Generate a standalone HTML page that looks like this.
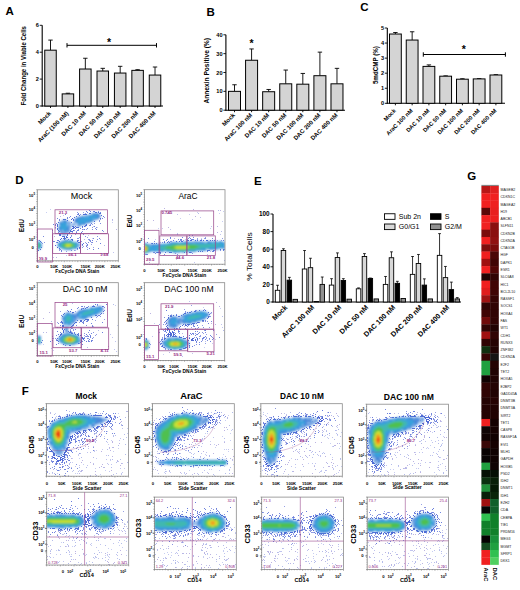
<!DOCTYPE html><html><head><meta charset="utf-8"><style>html,body{margin:0;padding:0;background:#fff;}svg{display:block;}text{font-family:"Liberation Sans", sans-serif;}</style></head><body>
<svg width="520" height="590" viewBox="0 0 520 590" font-family="Liberation Sans, sans-serif">
<defs><filter id="bl" x="-50%" y="-50%" width="200%" height="200%"><feGaussianBlur stdDeviation="0.85"/></filter><filter id="bs" x="-50%" y="-50%" width="200%" height="200%"><feGaussianBlur stdDeviation="0.45"/></filter></defs>
<rect width="520" height="590" fill="#fff"/>
<text x="5.5" y="15" font-size="11.5" font-weight="bold" text-anchor="start" fill="#000">A</text>
<text x="206.5" y="15.6" font-size="11.5" font-weight="bold" text-anchor="start" fill="#000">B</text>
<text x="360.3" y="11.2" font-size="11.5" font-weight="bold" text-anchor="start" fill="#000">C</text>
<text x="254" y="184.5" font-size="11.5" font-weight="bold" text-anchor="start" fill="#000">E</text>
<text x="467.3" y="179.7" font-size="11.5" font-weight="bold" text-anchor="start" fill="#000">G</text>
<line x1="42.2" y1="25.3" x2="42.2" y2="106.5" stroke="#000" stroke-width="1.1"/>
<line x1="41.7" y1="106" x2="163" y2="106" stroke="#000" stroke-width="1.1"/>
<line x1="39.7" y1="106" x2="42.2" y2="106" stroke="#000" stroke-width="0.9"/>
<text x="38.9" y="108.02" font-size="5.6" font-weight="bold" text-anchor="end" fill="#000">0</text>
<line x1="39.7" y1="79.1" x2="42.2" y2="79.1" stroke="#000" stroke-width="0.9"/>
<text x="38.9" y="81.12" font-size="5.6" font-weight="bold" text-anchor="end" fill="#000">2</text>
<line x1="39.7" y1="52.2" x2="42.2" y2="52.2" stroke="#000" stroke-width="0.9"/>
<text x="38.9" y="54.22" font-size="5.6" font-weight="bold" text-anchor="end" fill="#000">4</text>
<line x1="39.7" y1="25.3" x2="42.2" y2="25.3" stroke="#000" stroke-width="0.9"/>
<text x="38.9" y="27.32" font-size="5.6" font-weight="bold" text-anchor="end" fill="#000">6</text>
<line x1="50.5" y1="40.09" x2="50.5" y2="50.18" stroke="#000" stroke-width="0.9"/>
<line x1="48.3" y1="40.09" x2="52.7" y2="40.09" stroke="#000" stroke-width="0.9"/>
<rect x="44.75" y="50.18" width="11.5" height="55.82" fill="#d4d4d4" stroke="#000" stroke-width="1"/>
<line x1="50.5" y1="106" x2="50.5" y2="108" stroke="#000" stroke-width="0.9"/>
<line x1="67.92" y1="93.22" x2="67.92" y2="93.89" stroke="#000" stroke-width="0.9"/>
<line x1="65.72" y1="93.22" x2="70.12" y2="93.22" stroke="#000" stroke-width="0.9"/>
<rect x="62.17" y="93.89" width="11.5" height="12.11" fill="#d4d4d4" stroke="#000" stroke-width="1"/>
<line x1="67.92" y1="106" x2="67.92" y2="108" stroke="#000" stroke-width="0.9"/>
<line x1="85.34" y1="58.25" x2="85.34" y2="69.01" stroke="#000" stroke-width="0.9"/>
<line x1="83.14" y1="58.25" x2="87.54" y2="58.25" stroke="#000" stroke-width="0.9"/>
<rect x="79.59" y="69.01" width="11.5" height="36.99" fill="#d4d4d4" stroke="#000" stroke-width="1"/>
<line x1="85.34" y1="106" x2="85.34" y2="108" stroke="#000" stroke-width="0.9"/>
<line x1="102.76" y1="68.34" x2="102.76" y2="71.03" stroke="#000" stroke-width="0.9"/>
<line x1="100.56" y1="68.34" x2="104.96" y2="68.34" stroke="#000" stroke-width="0.9"/>
<rect x="97.01" y="71.03" width="11.5" height="34.97" fill="#d4d4d4" stroke="#000" stroke-width="1"/>
<line x1="102.76" y1="106" x2="102.76" y2="108" stroke="#000" stroke-width="0.9"/>
<line x1="120.18" y1="66.32" x2="120.18" y2="73.05" stroke="#000" stroke-width="0.9"/>
<line x1="117.98" y1="66.32" x2="122.38" y2="66.32" stroke="#000" stroke-width="0.9"/>
<rect x="114.43" y="73.05" width="11.5" height="32.95" fill="#d4d4d4" stroke="#000" stroke-width="1"/>
<line x1="120.18" y1="106" x2="120.18" y2="108" stroke="#000" stroke-width="0.9"/>
<line x1="137.6" y1="69.69" x2="137.6" y2="70.36" stroke="#000" stroke-width="0.9"/>
<line x1="135.4" y1="69.69" x2="139.8" y2="69.69" stroke="#000" stroke-width="0.9"/>
<rect x="131.85" y="70.36" width="11.5" height="35.64" fill="#d4d4d4" stroke="#000" stroke-width="1"/>
<line x1="137.6" y1="106" x2="137.6" y2="108" stroke="#000" stroke-width="0.9"/>
<line x1="155.02" y1="67" x2="155.02" y2="75.06" stroke="#000" stroke-width="0.9"/>
<line x1="152.82" y1="67" x2="157.22" y2="67" stroke="#000" stroke-width="0.9"/>
<rect x="149.27" y="75.06" width="11.5" height="30.94" fill="#d4d4d4" stroke="#000" stroke-width="1"/>
<line x1="155.02" y1="106" x2="155.02" y2="108" stroke="#000" stroke-width="0.9"/>
<text x="51.5" y="113.8" font-size="6.05" font-weight="bold" text-anchor="end" fill="#000" transform="rotate(-45 51.5 113.8)">Mock</text>
<text x="68.92" y="113.8" font-size="6.05" font-weight="bold" text-anchor="end" fill="#000" transform="rotate(-45 68.92 113.8)">AraC (100 nM)</text>
<text x="86.34" y="113.8" font-size="6.05" font-weight="bold" text-anchor="end" fill="#000" transform="rotate(-45 86.34 113.8)">DAC 10 nM</text>
<text x="103.76" y="113.8" font-size="6.05" font-weight="bold" text-anchor="end" fill="#000" transform="rotate(-45 103.76 113.8)">DAC 50 nM</text>
<text x="121.18" y="113.8" font-size="6.05" font-weight="bold" text-anchor="end" fill="#000" transform="rotate(-45 121.18 113.8)">DAC 100 nM</text>
<text x="138.6" y="113.8" font-size="6.05" font-weight="bold" text-anchor="end" fill="#000" transform="rotate(-45 138.6 113.8)">DAC 200 nM</text>
<text x="156.02" y="113.8" font-size="6.05" font-weight="bold" text-anchor="end" fill="#000" transform="rotate(-45 156.02 113.8)">DAC 400 nM</text>
<text x="26.3" y="65.8" font-size="6.5" font-weight="bold" text-anchor="middle" fill="#000" transform="rotate(-90 26.3 65.8)" textLength="79.5" lengthAdjust="spacingAndGlyphs">Fold Change in Viable Cells</text>
<line x1="67" y1="45.3" x2="156.5" y2="45.3" stroke="#000" stroke-width="1"/>
<line x1="67" y1="43.1" x2="67" y2="47.5" stroke="#000" stroke-width="1"/>
<line x1="156.5" y1="43.1" x2="156.5" y2="47.5" stroke="#000" stroke-width="1"/>
<text x="109" y="46" font-size="10.5" font-weight="bold" text-anchor="middle" fill="#000">*</text>
<line x1="225.9" y1="34.8" x2="225.9" y2="110.7" stroke="#000" stroke-width="1.1"/>
<line x1="225.4" y1="110.2" x2="345" y2="110.2" stroke="#000" stroke-width="1.1"/>
<line x1="223.4" y1="110.2" x2="225.9" y2="110.2" stroke="#000" stroke-width="0.9"/>
<text x="222.6" y="112.22" font-size="5.6" font-weight="bold" text-anchor="end" fill="#000">0</text>
<line x1="223.4" y1="91.35" x2="225.9" y2="91.35" stroke="#000" stroke-width="0.9"/>
<text x="222.6" y="93.37" font-size="5.6" font-weight="bold" text-anchor="end" fill="#000">10</text>
<line x1="223.4" y1="72.5" x2="225.9" y2="72.5" stroke="#000" stroke-width="0.9"/>
<text x="222.6" y="74.52" font-size="5.6" font-weight="bold" text-anchor="end" fill="#000">20</text>
<line x1="223.4" y1="53.65" x2="225.9" y2="53.65" stroke="#000" stroke-width="0.9"/>
<text x="222.6" y="55.67" font-size="5.6" font-weight="bold" text-anchor="end" fill="#000">30</text>
<line x1="223.4" y1="34.8" x2="225.9" y2="34.8" stroke="#000" stroke-width="0.9"/>
<text x="222.6" y="36.82" font-size="5.6" font-weight="bold" text-anchor="end" fill="#000">40</text>
<line x1="234.5" y1="84.75" x2="234.5" y2="91.35" stroke="#000" stroke-width="0.9"/>
<line x1="232.3" y1="84.75" x2="236.7" y2="84.75" stroke="#000" stroke-width="0.9"/>
<rect x="228.5" y="91.35" width="12" height="18.85" fill="#d4d4d4" stroke="#000" stroke-width="1"/>
<line x1="234.5" y1="110.2" x2="234.5" y2="112.2" stroke="#000" stroke-width="0.9"/>
<line x1="251.58" y1="48.94" x2="251.58" y2="60.25" stroke="#000" stroke-width="0.9"/>
<line x1="249.38" y1="48.94" x2="253.78" y2="48.94" stroke="#000" stroke-width="0.9"/>
<rect x="245.58" y="60.25" width="12" height="49.95" fill="#d4d4d4" stroke="#000" stroke-width="1"/>
<line x1="251.58" y1="110.2" x2="251.58" y2="112.2" stroke="#000" stroke-width="0.9"/>
<line x1="268.66" y1="89.47" x2="268.66" y2="91.73" stroke="#000" stroke-width="0.9"/>
<line x1="266.46" y1="89.47" x2="270.86" y2="89.47" stroke="#000" stroke-width="0.9"/>
<rect x="262.66" y="91.73" width="12" height="18.47" fill="#d4d4d4" stroke="#000" stroke-width="1"/>
<line x1="268.66" y1="110.2" x2="268.66" y2="112.2" stroke="#000" stroke-width="0.9"/>
<line x1="285.74" y1="70.05" x2="285.74" y2="83.81" stroke="#000" stroke-width="0.9"/>
<line x1="283.54" y1="70.05" x2="287.94" y2="70.05" stroke="#000" stroke-width="0.9"/>
<rect x="279.74" y="83.81" width="12" height="26.39" fill="#d4d4d4" stroke="#000" stroke-width="1"/>
<line x1="285.74" y1="110.2" x2="285.74" y2="112.2" stroke="#000" stroke-width="0.9"/>
<line x1="302.82" y1="73.44" x2="302.82" y2="84.19" stroke="#000" stroke-width="0.9"/>
<line x1="300.62" y1="73.44" x2="305.02" y2="73.44" stroke="#000" stroke-width="0.9"/>
<rect x="296.82" y="84.19" width="12" height="26.01" fill="#d4d4d4" stroke="#000" stroke-width="1"/>
<line x1="302.82" y1="110.2" x2="302.82" y2="112.2" stroke="#000" stroke-width="0.9"/>
<line x1="319.9" y1="52.14" x2="319.9" y2="75.7" stroke="#000" stroke-width="0.9"/>
<line x1="317.7" y1="52.14" x2="322.1" y2="52.14" stroke="#000" stroke-width="0.9"/>
<rect x="313.9" y="75.7" width="12" height="34.5" fill="#d4d4d4" stroke="#000" stroke-width="1"/>
<line x1="319.9" y1="110.2" x2="319.9" y2="112.2" stroke="#000" stroke-width="0.9"/>
<line x1="336.98" y1="68.35" x2="336.98" y2="83.81" stroke="#000" stroke-width="0.9"/>
<line x1="334.78" y1="68.35" x2="339.18" y2="68.35" stroke="#000" stroke-width="0.9"/>
<rect x="330.98" y="83.81" width="12" height="26.39" fill="#d4d4d4" stroke="#000" stroke-width="1"/>
<line x1="336.98" y1="110.2" x2="336.98" y2="112.2" stroke="#000" stroke-width="0.9"/>
<text x="235.5" y="115.6" font-size="6.05" font-weight="bold" text-anchor="end" fill="#000" transform="rotate(-45 235.5 115.6)">Mock</text>
<text x="252.58" y="115.6" font-size="6.05" font-weight="bold" text-anchor="end" fill="#000" transform="rotate(-45 252.58 115.6)">AraC 100 nM</text>
<text x="269.66" y="115.6" font-size="6.05" font-weight="bold" text-anchor="end" fill="#000" transform="rotate(-45 269.66 115.6)">DAC 10 nM</text>
<text x="286.74" y="115.6" font-size="6.05" font-weight="bold" text-anchor="end" fill="#000" transform="rotate(-45 286.74 115.6)">DAC 50 nM</text>
<text x="303.82" y="115.6" font-size="6.05" font-weight="bold" text-anchor="end" fill="#000" transform="rotate(-45 303.82 115.6)">DAC 100 nM</text>
<text x="320.9" y="115.6" font-size="6.05" font-weight="bold" text-anchor="end" fill="#000" transform="rotate(-45 320.9 115.6)">DAC 200 nM</text>
<text x="337.98" y="115.6" font-size="6.05" font-weight="bold" text-anchor="end" fill="#000" transform="rotate(-45 337.98 115.6)">DAC 400 nM</text>
<text x="209" y="70.8" font-size="6.5" font-weight="bold" text-anchor="middle" fill="#000" transform="rotate(-90 209 70.8)" textLength="65.6" lengthAdjust="spacingAndGlyphs">Annexin Positive (%)</text>
<text x="251.6" y="47" font-size="10.5" font-weight="bold" text-anchor="middle" fill="#000">*</text>
<line x1="387.3" y1="28" x2="387.3" y2="103.8" stroke="#000" stroke-width="1.1"/>
<line x1="386.8" y1="103.3" x2="505" y2="103.3" stroke="#000" stroke-width="1.1"/>
<line x1="384.8" y1="103.3" x2="387.3" y2="103.3" stroke="#000" stroke-width="0.9"/>
<text x="384" y="105.32" font-size="5.6" font-weight="bold" text-anchor="end" fill="#000">0</text>
<line x1="384.8" y1="88.24" x2="387.3" y2="88.24" stroke="#000" stroke-width="0.9"/>
<text x="384" y="90.26" font-size="5.6" font-weight="bold" text-anchor="end" fill="#000">1</text>
<line x1="384.8" y1="73.18" x2="387.3" y2="73.18" stroke="#000" stroke-width="0.9"/>
<text x="384" y="75.2" font-size="5.6" font-weight="bold" text-anchor="end" fill="#000">2</text>
<line x1="384.8" y1="58.12" x2="387.3" y2="58.12" stroke="#000" stroke-width="0.9"/>
<text x="384" y="60.14" font-size="5.6" font-weight="bold" text-anchor="end" fill="#000">3</text>
<line x1="384.8" y1="43.06" x2="387.3" y2="43.06" stroke="#000" stroke-width="0.9"/>
<text x="384" y="45.08" font-size="5.6" font-weight="bold" text-anchor="end" fill="#000">4</text>
<line x1="384.8" y1="28" x2="387.3" y2="28" stroke="#000" stroke-width="0.9"/>
<text x="384" y="30.02" font-size="5.6" font-weight="bold" text-anchor="end" fill="#000">5</text>
<line x1="395.4" y1="32.52" x2="395.4" y2="34.02" stroke="#000" stroke-width="0.9"/>
<line x1="393.2" y1="32.52" x2="397.6" y2="32.52" stroke="#000" stroke-width="0.9"/>
<rect x="389.5" y="34.02" width="11.8" height="69.28" fill="#d4d4d4" stroke="#000" stroke-width="1"/>
<line x1="395.4" y1="103.3" x2="395.4" y2="105.3" stroke="#000" stroke-width="0.9"/>
<line x1="412.15" y1="31.77" x2="412.15" y2="40.05" stroke="#000" stroke-width="0.9"/>
<line x1="409.95" y1="31.77" x2="414.35" y2="31.77" stroke="#000" stroke-width="0.9"/>
<rect x="406.25" y="40.05" width="11.8" height="63.25" fill="#d4d4d4" stroke="#000" stroke-width="1"/>
<line x1="412.15" y1="103.3" x2="412.15" y2="105.3" stroke="#000" stroke-width="0.9"/>
<line x1="428.9" y1="64.9" x2="428.9" y2="66.4" stroke="#000" stroke-width="0.9"/>
<line x1="426.7" y1="64.9" x2="431.1" y2="64.9" stroke="#000" stroke-width="0.9"/>
<rect x="423" y="66.4" width="11.8" height="36.9" fill="#d4d4d4" stroke="#000" stroke-width="1"/>
<line x1="428.9" y1="103.3" x2="428.9" y2="105.3" stroke="#000" stroke-width="0.9"/>
<line x1="445.65" y1="75.89" x2="445.65" y2="76.19" stroke="#000" stroke-width="0.9"/>
<line x1="443.45" y1="75.89" x2="447.85" y2="75.89" stroke="#000" stroke-width="0.9"/>
<rect x="439.75" y="76.19" width="11.8" height="27.11" fill="#d4d4d4" stroke="#000" stroke-width="1"/>
<line x1="445.65" y1="103.3" x2="445.65" y2="105.3" stroke="#000" stroke-width="0.9"/>
<line x1="462.4" y1="78.75" x2="462.4" y2="79.2" stroke="#000" stroke-width="0.9"/>
<line x1="460.2" y1="78.75" x2="464.6" y2="78.75" stroke="#000" stroke-width="0.9"/>
<rect x="456.5" y="79.2" width="11.8" height="24.1" fill="#d4d4d4" stroke="#000" stroke-width="1"/>
<line x1="462.4" y1="103.3" x2="462.4" y2="105.3" stroke="#000" stroke-width="0.9"/>
<line x1="479.15" y1="78.6" x2="479.15" y2="78.9" stroke="#000" stroke-width="0.9"/>
<line x1="476.95" y1="78.6" x2="481.35" y2="78.6" stroke="#000" stroke-width="0.9"/>
<rect x="473.25" y="78.9" width="11.8" height="24.4" fill="#d4d4d4" stroke="#000" stroke-width="1"/>
<line x1="479.15" y1="103.3" x2="479.15" y2="105.3" stroke="#000" stroke-width="0.9"/>
<line x1="495.9" y1="74.69" x2="495.9" y2="74.99" stroke="#000" stroke-width="0.9"/>
<line x1="493.7" y1="74.69" x2="498.1" y2="74.69" stroke="#000" stroke-width="0.9"/>
<rect x="490" y="74.99" width="11.8" height="28.31" fill="#d4d4d4" stroke="#000" stroke-width="1"/>
<line x1="495.9" y1="103.3" x2="495.9" y2="105.3" stroke="#000" stroke-width="0.9"/>
<text x="396.4" y="111.1" font-size="5.75" font-weight="bold" text-anchor="end" fill="#000" transform="rotate(-45 396.4 111.1)">Mock</text>
<text x="413.15" y="111.1" font-size="5.75" font-weight="bold" text-anchor="end" fill="#000" transform="rotate(-45 413.15 111.1)">AraC 100 nM</text>
<text x="429.9" y="111.1" font-size="5.75" font-weight="bold" text-anchor="end" fill="#000" transform="rotate(-45 429.9 111.1)">DAC 10 nM</text>
<text x="446.65" y="111.1" font-size="5.75" font-weight="bold" text-anchor="end" fill="#000" transform="rotate(-45 446.65 111.1)">DAC 50 nM</text>
<text x="463.4" y="111.1" font-size="5.75" font-weight="bold" text-anchor="end" fill="#000" transform="rotate(-45 463.4 111.1)">DAC 100 nM</text>
<text x="480.15" y="111.1" font-size="5.75" font-weight="bold" text-anchor="end" fill="#000" transform="rotate(-45 480.15 111.1)">DAC 200 nM</text>
<text x="496.9" y="111.1" font-size="5.75" font-weight="bold" text-anchor="end" fill="#000" transform="rotate(-45 496.9 111.1)">DAC 400 nM</text>
<text x="378" y="65.1" font-size="6.3" font-weight="bold" text-anchor="middle" fill="#000" transform="rotate(-90 378 65.1)" textLength="38" lengthAdjust="spacingAndGlyphs">5mdCMP (%)</text>
<line x1="423.3" y1="54.5" x2="505.4" y2="54.5" stroke="#000" stroke-width="1"/>
<line x1="423.3" y1="52.3" x2="423.3" y2="56.7" stroke="#000" stroke-width="1"/>
<line x1="505.4" y1="52.3" x2="505.4" y2="56.7" stroke="#000" stroke-width="1"/>
<text x="463.7" y="53" font-size="10.5" font-weight="bold" text-anchor="middle" fill="#000">*</text>
<line x1="273" y1="214" x2="273" y2="302.5" stroke="#000" stroke-width="1.1"/>
<line x1="272.5" y1="302" x2="461" y2="302" stroke="#000" stroke-width="1.1"/>
<line x1="270.5" y1="302" x2="273" y2="302" stroke="#000" stroke-width="0.9"/>
<text x="269.7" y="304.3" font-size="6.4" font-weight="bold" text-anchor="end" fill="#000">0</text>
<line x1="270.5" y1="284.4" x2="273" y2="284.4" stroke="#000" stroke-width="0.9"/>
<text x="269.7" y="286.7" font-size="6.4" font-weight="bold" text-anchor="end" fill="#000">20</text>
<line x1="270.5" y1="266.8" x2="273" y2="266.8" stroke="#000" stroke-width="0.9"/>
<text x="269.7" y="269.1" font-size="6.4" font-weight="bold" text-anchor="end" fill="#000">40</text>
<line x1="270.5" y1="249.2" x2="273" y2="249.2" stroke="#000" stroke-width="0.9"/>
<text x="269.7" y="251.5" font-size="6.4" font-weight="bold" text-anchor="end" fill="#000">60</text>
<line x1="270.5" y1="231.6" x2="273" y2="231.6" stroke="#000" stroke-width="0.9"/>
<text x="269.7" y="233.9" font-size="6.4" font-weight="bold" text-anchor="end" fill="#000">80</text>
<line x1="270.5" y1="214" x2="273" y2="214" stroke="#000" stroke-width="0.9"/>
<text x="269.7" y="216.3" font-size="6.4" font-weight="bold" text-anchor="end" fill="#000">100</text>
<line x1="277.55" y1="285.28" x2="277.55" y2="290.3" stroke="#000" stroke-width="0.8"/>
<line x1="276.15" y1="285.28" x2="278.95" y2="285.28" stroke="#000" stroke-width="0.8"/>
<rect x="275.3" y="290.3" width="4.5" height="11.7" fill="#ffffff" stroke="#000" stroke-width="0.9"/>
<line x1="283.45" y1="248.76" x2="283.45" y2="250.52" stroke="#000" stroke-width="0.8"/>
<line x1="282.05" y1="248.76" x2="284.85" y2="248.76" stroke="#000" stroke-width="0.8"/>
<rect x="281.2" y="250.52" width="4.5" height="51.48" fill="#d8d8d8" stroke="#000" stroke-width="0.9"/>
<line x1="289.35" y1="277.36" x2="289.35" y2="280.18" stroke="#000" stroke-width="0.8"/>
<line x1="287.95" y1="277.36" x2="290.75" y2="277.36" stroke="#000" stroke-width="0.8"/>
<rect x="287.1" y="280.18" width="4.5" height="21.82" fill="#000000" stroke="#000" stroke-width="0.9"/>
<rect x="293" y="299.36" width="4.5" height="2.64" fill="#909090" stroke="#000" stroke-width="0.9"/>
<text x="287.8" y="307.9" font-size="7.1" font-weight="bold" text-anchor="end" fill="#000" transform="rotate(-45 287.8 307.9)">Mock</text>
<line x1="304.55" y1="250.52" x2="304.55" y2="269" stroke="#000" stroke-width="0.8"/>
<line x1="303.15" y1="250.52" x2="305.95" y2="250.52" stroke="#000" stroke-width="0.8"/>
<rect x="302.3" y="269" width="4.5" height="33" fill="#ffffff" stroke="#000" stroke-width="0.9"/>
<line x1="310.45" y1="258.26" x2="310.45" y2="267.68" stroke="#000" stroke-width="0.8"/>
<line x1="309.05" y1="258.26" x2="311.85" y2="258.26" stroke="#000" stroke-width="0.8"/>
<rect x="308.2" y="267.68" width="4.5" height="34.32" fill="#d8d8d8" stroke="#000" stroke-width="0.9"/>
<rect x="314.1" y="301.56" width="4.5" height="0.44" fill="#000000" stroke="#000" stroke-width="0.9"/>
<line x1="322.25" y1="277.01" x2="322.25" y2="284.4" stroke="#000" stroke-width="0.8"/>
<line x1="320.85" y1="277.01" x2="323.65" y2="277.01" stroke="#000" stroke-width="0.8"/>
<rect x="320" y="284.4" width="4.5" height="17.6" fill="#909090" stroke="#000" stroke-width="0.9"/>
<text x="314.8" y="307.9" font-size="7.1" font-weight="bold" text-anchor="end" fill="#000" transform="rotate(-45 314.8 307.9)">AraC 100 nM</text>
<line x1="331.55" y1="278.68" x2="331.55" y2="285.1" stroke="#000" stroke-width="0.8"/>
<line x1="330.15" y1="278.68" x2="332.95" y2="278.68" stroke="#000" stroke-width="0.8"/>
<rect x="329.3" y="285.1" width="4.5" height="16.9" fill="#ffffff" stroke="#000" stroke-width="0.9"/>
<line x1="337.45" y1="252.9" x2="337.45" y2="257.56" stroke="#000" stroke-width="0.8"/>
<line x1="336.05" y1="252.9" x2="338.85" y2="252.9" stroke="#000" stroke-width="0.8"/>
<rect x="335.2" y="257.56" width="4.5" height="44.44" fill="#d8d8d8" stroke="#000" stroke-width="0.9"/>
<line x1="343.35" y1="278.68" x2="343.35" y2="280.53" stroke="#000" stroke-width="0.8"/>
<line x1="341.95" y1="278.68" x2="344.75" y2="278.68" stroke="#000" stroke-width="0.8"/>
<rect x="341.1" y="280.53" width="4.5" height="21.47" fill="#000000" stroke="#000" stroke-width="0.9"/>
<rect x="347" y="299.18" width="4.5" height="2.82" fill="#909090" stroke="#000" stroke-width="0.9"/>
<text x="341.8" y="307.9" font-size="7.1" font-weight="bold" text-anchor="end" fill="#000" transform="rotate(-45 341.8 307.9)">DAC 10 nM</text>
<line x1="358.55" y1="287.92" x2="358.55" y2="288.8" stroke="#000" stroke-width="0.8"/>
<line x1="357.15" y1="287.92" x2="359.95" y2="287.92" stroke="#000" stroke-width="0.8"/>
<rect x="356.3" y="288.8" width="4.5" height="13.2" fill="#ffffff" stroke="#000" stroke-width="0.9"/>
<line x1="364.45" y1="253.6" x2="364.45" y2="256.5" stroke="#000" stroke-width="0.8"/>
<line x1="363.05" y1="253.6" x2="365.85" y2="253.6" stroke="#000" stroke-width="0.8"/>
<rect x="362.2" y="256.5" width="4.5" height="45.5" fill="#d8d8d8" stroke="#000" stroke-width="0.9"/>
<line x1="370.35" y1="278.06" x2="370.35" y2="278.42" stroke="#000" stroke-width="0.8"/>
<line x1="368.95" y1="278.06" x2="371.75" y2="278.06" stroke="#000" stroke-width="0.8"/>
<rect x="368.1" y="278.42" width="4.5" height="23.58" fill="#000000" stroke="#000" stroke-width="0.9"/>
<rect x="374" y="298.92" width="4.5" height="3.08" fill="#909090" stroke="#000" stroke-width="0.9"/>
<text x="368.8" y="307.9" font-size="7.1" font-weight="bold" text-anchor="end" fill="#000" transform="rotate(-45 368.8 307.9)">DAC 50 nM</text>
<line x1="385.55" y1="276.48" x2="385.55" y2="284.4" stroke="#000" stroke-width="0.8"/>
<line x1="384.15" y1="276.48" x2="386.95" y2="276.48" stroke="#000" stroke-width="0.8"/>
<rect x="383.3" y="284.4" width="4.5" height="17.6" fill="#ffffff" stroke="#000" stroke-width="0.9"/>
<line x1="391.45" y1="251.84" x2="391.45" y2="257.74" stroke="#000" stroke-width="0.8"/>
<line x1="390.05" y1="251.84" x2="392.85" y2="251.84" stroke="#000" stroke-width="0.8"/>
<rect x="389.2" y="257.74" width="4.5" height="44.26" fill="#d8d8d8" stroke="#000" stroke-width="0.9"/>
<line x1="397.35" y1="281.32" x2="397.35" y2="283.34" stroke="#000" stroke-width="0.8"/>
<line x1="395.95" y1="281.32" x2="398.75" y2="281.32" stroke="#000" stroke-width="0.8"/>
<rect x="395.1" y="283.34" width="4.5" height="18.66" fill="#000000" stroke="#000" stroke-width="0.9"/>
<rect x="401" y="298.48" width="4.5" height="3.52" fill="#909090" stroke="#000" stroke-width="0.9"/>
<text x="395.8" y="307.9" font-size="7.1" font-weight="bold" text-anchor="end" fill="#000" transform="rotate(-45 395.8 307.9)">DAC 100 nM</text>
<line x1="412.55" y1="256.5" x2="412.55" y2="274.37" stroke="#000" stroke-width="0.8"/>
<line x1="411.15" y1="256.5" x2="413.95" y2="256.5" stroke="#000" stroke-width="0.8"/>
<rect x="410.3" y="274.37" width="4.5" height="27.63" fill="#ffffff" stroke="#000" stroke-width="0.9"/>
<line x1="418.45" y1="254.48" x2="418.45" y2="263.46" stroke="#000" stroke-width="0.8"/>
<line x1="417.05" y1="254.48" x2="419.85" y2="254.48" stroke="#000" stroke-width="0.8"/>
<rect x="416.2" y="263.46" width="4.5" height="38.54" fill="#d8d8d8" stroke="#000" stroke-width="0.9"/>
<line x1="424.35" y1="278.86" x2="424.35" y2="285.1" stroke="#000" stroke-width="0.8"/>
<line x1="422.95" y1="278.86" x2="425.75" y2="278.86" stroke="#000" stroke-width="0.8"/>
<rect x="422.1" y="285.1" width="4.5" height="16.9" fill="#000000" stroke="#000" stroke-width="0.9"/>
<rect x="428" y="298.92" width="4.5" height="3.08" fill="#909090" stroke="#000" stroke-width="0.9"/>
<text x="422.8" y="307.9" font-size="7.1" font-weight="bold" text-anchor="end" fill="#000" transform="rotate(-45 422.8 307.9)">DAC 200 nM</text>
<line x1="439.55" y1="233.62" x2="439.55" y2="255.36" stroke="#000" stroke-width="0.8"/>
<line x1="438.15" y1="233.62" x2="440.95" y2="233.62" stroke="#000" stroke-width="0.8"/>
<rect x="437.3" y="255.36" width="4.5" height="46.64" fill="#ffffff" stroke="#000" stroke-width="0.9"/>
<line x1="445.45" y1="266.45" x2="445.45" y2="277.62" stroke="#000" stroke-width="0.8"/>
<line x1="444.05" y1="266.45" x2="446.85" y2="266.45" stroke="#000" stroke-width="0.8"/>
<rect x="443.2" y="277.62" width="4.5" height="24.38" fill="#d8d8d8" stroke="#000" stroke-width="0.9"/>
<line x1="451.35" y1="282.11" x2="451.35" y2="289.59" stroke="#000" stroke-width="0.8"/>
<line x1="449.95" y1="282.11" x2="452.75" y2="282.11" stroke="#000" stroke-width="0.8"/>
<rect x="449.1" y="289.59" width="4.5" height="12.41" fill="#000000" stroke="#000" stroke-width="0.9"/>
<line x1="457.25" y1="297.6" x2="457.25" y2="298.92" stroke="#000" stroke-width="0.8"/>
<line x1="455.85" y1="297.6" x2="458.65" y2="297.6" stroke="#000" stroke-width="0.8"/>
<rect x="455" y="298.92" width="4.5" height="3.08" fill="#909090" stroke="#000" stroke-width="0.9"/>
<text x="449.8" y="307.9" font-size="7.1" font-weight="bold" text-anchor="end" fill="#000" transform="rotate(-45 449.8 307.9)">DAC 400 nM</text>
<text x="252.3" y="256.5" font-size="7.8" font-weight="normal" text-anchor="middle" fill="#000" transform="rotate(-90 252.3 256.5)" textLength="48.5" lengthAdjust="spacingAndGlyphs">% Total Cells</text>
<rect x="384.5" y="213.75" width="10.5" height="5.6" fill="#ffffff" stroke="#000" stroke-width="0.9"/>
<text x="398.8" y="219.15" font-size="7" font-weight="normal" text-anchor="start" fill="#000">Sub 2n</text>
<rect x="430.5" y="213.75" width="10.5" height="5.6" fill="#000000" stroke="#000" stroke-width="0.9"/>
<text x="444.8" y="219.15" font-size="7" font-weight="normal" text-anchor="start" fill="#000">S</text>
<rect x="384.5" y="224" width="10.5" height="5.6" fill="#d8d8d8" stroke="#000" stroke-width="0.9"/>
<text x="398.8" y="229.4" font-size="7" font-weight="normal" text-anchor="start" fill="#000">G0/G1</text>
<rect x="430.5" y="224" width="10.5" height="5.6" fill="#909090" stroke="#000" stroke-width="0.9"/>
<text x="444.8" y="229.4" font-size="7" font-weight="normal" text-anchor="start" fill="#000">G2/M</text>
<rect x="481.4" y="186" width="8.7" height="7.58" fill="#b81818" stroke="none" stroke-width="1"/>
<rect x="490.1" y="186" width="8.7" height="7.58" fill="#e02020" stroke="none" stroke-width="1"/>
<text x="500.6" y="190.94" font-size="3.5" font-weight="normal" text-anchor="start" fill="#222">MAGEB2</text>
<rect x="481.4" y="193.28" width="8.7" height="7.58" fill="#f02020" stroke="none" stroke-width="1"/>
<rect x="490.1" y="193.28" width="8.7" height="7.58" fill="#f02020" stroke="none" stroke-width="1"/>
<text x="500.6" y="198.22" font-size="3.5" font-weight="normal" text-anchor="start" fill="#222">CDKN1C</text>
<rect x="481.4" y="200.56" width="8.7" height="7.58" fill="#f02020" stroke="none" stroke-width="1"/>
<rect x="490.1" y="200.56" width="8.7" height="7.58" fill="#ee2020" stroke="none" stroke-width="1"/>
<text x="500.6" y="205.5" font-size="3.5" font-weight="normal" text-anchor="start" fill="#222">MAGEA2</text>
<rect x="481.4" y="207.84" width="8.7" height="7.58" fill="#5a0808" stroke="none" stroke-width="1"/>
<rect x="490.1" y="207.84" width="8.7" height="7.58" fill="#e82020" stroke="none" stroke-width="1"/>
<text x="500.6" y="212.78" font-size="3.5" font-weight="normal" text-anchor="start" fill="#222">H19</text>
<rect x="481.4" y="215.12" width="8.7" height="7.58" fill="#f02020" stroke="none" stroke-width="1"/>
<rect x="490.1" y="215.12" width="8.7" height="7.58" fill="#ec2020" stroke="none" stroke-width="1"/>
<text x="500.6" y="220.06" font-size="3.5" font-weight="normal" text-anchor="start" fill="#222">ABCB1</text>
<rect x="481.4" y="222.4" width="8.7" height="7.58" fill="#f02020" stroke="none" stroke-width="1"/>
<rect x="490.1" y="222.4" width="8.7" height="7.58" fill="#8a1010" stroke="none" stroke-width="1"/>
<text x="500.6" y="227.34" font-size="3.5" font-weight="normal" text-anchor="start" fill="#222">SLFN11</text>
<rect x="481.4" y="229.68" width="8.7" height="7.58" fill="#7a0c0c" stroke="none" stroke-width="1"/>
<rect x="490.1" y="229.68" width="8.7" height="7.58" fill="#8a1010" stroke="none" stroke-width="1"/>
<text x="500.6" y="234.62" font-size="3.5" font-weight="normal" text-anchor="start" fill="#222">CDKN2B</text>
<rect x="481.4" y="236.96" width="8.7" height="7.58" fill="#f02020" stroke="none" stroke-width="1"/>
<rect x="490.1" y="236.96" width="8.7" height="7.58" fill="#901212" stroke="none" stroke-width="1"/>
<text x="500.6" y="241.9" font-size="3.5" font-weight="normal" text-anchor="start" fill="#222">CDKN2A</text>
<rect x="481.4" y="244.24" width="8.7" height="7.58" fill="#800e0e" stroke="none" stroke-width="1"/>
<rect x="490.1" y="244.24" width="8.7" height="7.58" fill="#7a0c0c" stroke="none" stroke-width="1"/>
<text x="500.6" y="249.18" font-size="3.5" font-weight="normal" text-anchor="start" fill="#222">CTAG1B</text>
<rect x="481.4" y="251.52" width="8.7" height="7.58" fill="#f02020" stroke="none" stroke-width="1"/>
<rect x="490.1" y="251.52" width="8.7" height="7.58" fill="#4a0606" stroke="none" stroke-width="1"/>
<text x="500.6" y="256.46" font-size="3.5" font-weight="normal" text-anchor="start" fill="#222">HGF</text>
<rect x="481.4" y="258.8" width="8.7" height="7.58" fill="#a01010" stroke="none" stroke-width="1"/>
<rect x="490.1" y="258.8" width="8.7" height="7.58" fill="#400505" stroke="none" stroke-width="1"/>
<text x="500.6" y="263.74" font-size="3.5" font-weight="normal" text-anchor="start" fill="#222">DAPK1</text>
<rect x="481.4" y="266.08" width="8.7" height="7.58" fill="#f02020" stroke="none" stroke-width="1"/>
<rect x="490.1" y="266.08" width="8.7" height="7.58" fill="#500606" stroke="none" stroke-width="1"/>
<text x="500.6" y="271.02" font-size="3.5" font-weight="normal" text-anchor="start" fill="#222">ESR1</text>
<rect x="481.4" y="273.36" width="8.7" height="7.58" fill="#200303" stroke="none" stroke-width="1"/>
<rect x="490.1" y="273.36" width="8.7" height="7.58" fill="#300404" stroke="none" stroke-width="1"/>
<text x="500.6" y="278.3" font-size="3.5" font-weight="normal" text-anchor="start" fill="#222">SLC6A8</text>
<rect x="481.4" y="280.64" width="8.7" height="7.58" fill="#f02020" stroke="none" stroke-width="1"/>
<rect x="490.1" y="280.64" width="8.7" height="7.58" fill="#400505" stroke="none" stroke-width="1"/>
<text x="500.6" y="285.58" font-size="3.5" font-weight="normal" text-anchor="start" fill="#222">HIC1</text>
<rect x="481.4" y="287.92" width="8.7" height="7.58" fill="#e01c1c" stroke="none" stroke-width="1"/>
<rect x="490.1" y="287.92" width="8.7" height="7.58" fill="#400505" stroke="none" stroke-width="1"/>
<text x="500.6" y="292.86" font-size="3.5" font-weight="normal" text-anchor="start" fill="#222">BCL2L10</text>
<rect x="481.4" y="295.2" width="8.7" height="7.58" fill="#a01212" stroke="none" stroke-width="1"/>
<rect x="490.1" y="295.2" width="8.7" height="7.58" fill="#350404" stroke="none" stroke-width="1"/>
<text x="500.6" y="300.14" font-size="3.5" font-weight="normal" text-anchor="start" fill="#222">RASSF1</text>
<rect x="481.4" y="302.48" width="8.7" height="7.58" fill="#300404" stroke="none" stroke-width="1"/>
<rect x="490.1" y="302.48" width="8.7" height="7.58" fill="#300404" stroke="none" stroke-width="1"/>
<text x="500.6" y="307.42" font-size="3.5" font-weight="normal" text-anchor="start" fill="#222">SOCS1</text>
<rect x="481.4" y="309.76" width="8.7" height="7.58" fill="#400505" stroke="none" stroke-width="1"/>
<rect x="490.1" y="309.76" width="8.7" height="7.58" fill="#300404" stroke="none" stroke-width="1"/>
<text x="500.6" y="314.7" font-size="3.5" font-weight="normal" text-anchor="start" fill="#222">HOXA4</text>
<rect x="481.4" y="317.04" width="8.7" height="7.58" fill="#700a0a" stroke="none" stroke-width="1"/>
<rect x="490.1" y="317.04" width="8.7" height="7.58" fill="#300404" stroke="none" stroke-width="1"/>
<text x="500.6" y="321.98" font-size="3.5" font-weight="normal" text-anchor="start" fill="#222">FAS</text>
<rect x="481.4" y="324.32" width="8.7" height="7.58" fill="#300404" stroke="none" stroke-width="1"/>
<rect x="490.1" y="324.32" width="8.7" height="7.58" fill="#200303" stroke="none" stroke-width="1"/>
<text x="500.6" y="329.26" font-size="3.5" font-weight="normal" text-anchor="start" fill="#222">WT1</text>
<rect x="481.4" y="331.6" width="8.7" height="7.58" fill="#a01010" stroke="none" stroke-width="1"/>
<rect x="490.1" y="331.6" width="8.7" height="7.58" fill="#300404" stroke="none" stroke-width="1"/>
<text x="500.6" y="336.54" font-size="3.5" font-weight="normal" text-anchor="start" fill="#222">CDH1</text>
<rect x="481.4" y="338.88" width="8.7" height="7.58" fill="#300404" stroke="none" stroke-width="1"/>
<rect x="490.1" y="338.88" width="8.7" height="7.58" fill="#250303" stroke="none" stroke-width="1"/>
<text x="500.6" y="343.82" font-size="3.5" font-weight="normal" text-anchor="start" fill="#222">RUNX3</text>
<rect x="481.4" y="346.16" width="8.7" height="7.58" fill="#103010" stroke="none" stroke-width="1"/>
<rect x="490.1" y="346.16" width="8.7" height="7.58" fill="#200303" stroke="none" stroke-width="1"/>
<text x="500.6" y="351.1" font-size="3.5" font-weight="normal" text-anchor="start" fill="#222">ZNF382</text>
<rect x="481.4" y="353.44" width="8.7" height="7.58" fill="#350505" stroke="none" stroke-width="1"/>
<rect x="490.1" y="353.44" width="8.7" height="7.58" fill="#151515" stroke="none" stroke-width="1"/>
<text x="500.6" y="358.38" font-size="3.5" font-weight="normal" text-anchor="start" fill="#222">CDKN2A</text>
<rect x="481.4" y="360.72" width="8.7" height="7.58" fill="#20a040" stroke="none" stroke-width="1"/>
<rect x="490.1" y="360.72" width="8.7" height="7.58" fill="#250303" stroke="none" stroke-width="1"/>
<text x="500.6" y="365.66" font-size="3.5" font-weight="normal" text-anchor="start" fill="#222">E2F2</text>
<rect x="481.4" y="368" width="8.7" height="7.58" fill="#20a040" stroke="none" stroke-width="1"/>
<rect x="490.1" y="368" width="8.7" height="7.58" fill="#200303" stroke="none" stroke-width="1"/>
<text x="500.6" y="372.94" font-size="3.5" font-weight="normal" text-anchor="start" fill="#222">TET2</text>
<rect x="481.4" y="375.28" width="8.7" height="7.58" fill="#100202" stroke="none" stroke-width="1"/>
<rect x="490.1" y="375.28" width="8.7" height="7.58" fill="#200303" stroke="none" stroke-width="1"/>
<text x="500.6" y="380.22" font-size="3.5" font-weight="normal" text-anchor="start" fill="#222">HOXA5</text>
<rect x="481.4" y="382.56" width="8.7" height="7.58" fill="#300404" stroke="none" stroke-width="1"/>
<rect x="490.1" y="382.56" width="8.7" height="7.58" fill="#250303" stroke="none" stroke-width="1"/>
<text x="500.6" y="387.5" font-size="3.5" font-weight="normal" text-anchor="start" fill="#222">E2BP2</text>
<rect x="481.4" y="389.84" width="8.7" height="7.58" fill="#300404" stroke="none" stroke-width="1"/>
<rect x="490.1" y="389.84" width="8.7" height="7.58" fill="#200303" stroke="none" stroke-width="1"/>
<text x="500.6" y="394.78" font-size="3.5" font-weight="normal" text-anchor="start" fill="#222">GADD45A</text>
<rect x="481.4" y="397.12" width="8.7" height="7.58" fill="#250303" stroke="none" stroke-width="1"/>
<rect x="490.1" y="397.12" width="8.7" height="7.58" fill="#250303" stroke="none" stroke-width="1"/>
<text x="500.6" y="402.06" font-size="3.5" font-weight="normal" text-anchor="start" fill="#222">DNMT3B</text>
<rect x="481.4" y="404.4" width="8.7" height="7.58" fill="#250303" stroke="none" stroke-width="1"/>
<rect x="490.1" y="404.4" width="8.7" height="7.58" fill="#200303" stroke="none" stroke-width="1"/>
<text x="500.6" y="409.34" font-size="3.5" font-weight="normal" text-anchor="start" fill="#222">DNMT3A</text>
<rect x="481.4" y="411.68" width="8.7" height="7.58" fill="#250303" stroke="none" stroke-width="1"/>
<rect x="490.1" y="411.68" width="8.7" height="7.58" fill="#200303" stroke="none" stroke-width="1"/>
<text x="500.6" y="416.62" font-size="3.5" font-weight="normal" text-anchor="start" fill="#222">SIRT2</text>
<rect x="481.4" y="418.96" width="8.7" height="7.58" fill="#f02020" stroke="none" stroke-width="1"/>
<rect x="490.1" y="418.96" width="8.7" height="7.58" fill="#150202" stroke="none" stroke-width="1"/>
<text x="500.6" y="423.9" font-size="3.5" font-weight="normal" text-anchor="start" fill="#222">TET1</text>
<rect x="481.4" y="426.24" width="8.7" height="7.58" fill="#100505" stroke="none" stroke-width="1"/>
<rect x="490.1" y="426.24" width="8.7" height="7.58" fill="#150202" stroke="none" stroke-width="1"/>
<text x="500.6" y="431.18" font-size="3.5" font-weight="normal" text-anchor="start" fill="#222">CASP8</text>
<rect x="481.4" y="433.52" width="8.7" height="7.58" fill="#100202" stroke="none" stroke-width="1"/>
<rect x="490.1" y="433.52" width="8.7" height="7.58" fill="#100202" stroke="none" stroke-width="1"/>
<text x="500.6" y="438.46" font-size="3.5" font-weight="normal" text-anchor="start" fill="#222">RASSF1A</text>
<rect x="481.4" y="440.8" width="8.7" height="7.58" fill="#3a0808" stroke="none" stroke-width="1"/>
<rect x="490.1" y="440.8" width="8.7" height="7.58" fill="#150202" stroke="none" stroke-width="1"/>
<text x="500.6" y="445.74" font-size="3.5" font-weight="normal" text-anchor="start" fill="#222">EVI1</text>
<rect x="481.4" y="448.08" width="8.7" height="7.58" fill="#080202" stroke="none" stroke-width="1"/>
<rect x="490.1" y="448.08" width="8.7" height="7.58" fill="#100202" stroke="none" stroke-width="1"/>
<text x="500.6" y="453.02" font-size="3.5" font-weight="normal" text-anchor="start" fill="#222">MLH1</text>
<rect x="481.4" y="455.36" width="8.7" height="7.58" fill="#080404" stroke="none" stroke-width="1"/>
<rect x="490.1" y="455.36" width="8.7" height="7.58" fill="#100202" stroke="none" stroke-width="1"/>
<text x="500.6" y="460.3" font-size="3.5" font-weight="normal" text-anchor="start" fill="#222">GAPDH</text>
<rect x="481.4" y="462.64" width="8.7" height="7.58" fill="#20a040" stroke="none" stroke-width="1"/>
<rect x="490.1" y="462.64" width="8.7" height="7.58" fill="#100404" stroke="none" stroke-width="1"/>
<text x="500.6" y="467.58" font-size="3.5" font-weight="normal" text-anchor="start" fill="#222">HOXB5</text>
<rect x="481.4" y="469.92" width="8.7" height="7.58" fill="#051005" stroke="none" stroke-width="1"/>
<rect x="490.1" y="469.92" width="8.7" height="7.58" fill="#051005" stroke="none" stroke-width="1"/>
<text x="500.6" y="474.86" font-size="3.5" font-weight="normal" text-anchor="start" fill="#222">PSD2</text>
<rect x="481.4" y="477.2" width="8.7" height="7.58" fill="#0a300f" stroke="none" stroke-width="1"/>
<rect x="490.1" y="477.2" width="8.7" height="7.58" fill="#082008" stroke="none" stroke-width="1"/>
<text x="500.6" y="482.14" font-size="3.5" font-weight="normal" text-anchor="start" fill="#222">IDH2</text>
<rect x="481.4" y="484.48" width="8.7" height="7.58" fill="#20903a" stroke="none" stroke-width="1"/>
<rect x="490.1" y="484.48" width="8.7" height="7.58" fill="#051a05" stroke="none" stroke-width="1"/>
<text x="500.6" y="489.42" font-size="3.5" font-weight="normal" text-anchor="start" fill="#222">DNMT1</text>
<rect x="481.4" y="491.76" width="8.7" height="7.58" fill="#082008" stroke="none" stroke-width="1"/>
<rect x="490.1" y="491.76" width="8.7" height="7.58" fill="#0a250a" stroke="none" stroke-width="1"/>
<text x="500.6" y="496.7" font-size="3.5" font-weight="normal" text-anchor="start" fill="#222">IDH1</text>
<rect x="481.4" y="499.04" width="8.7" height="7.58" fill="#a01010" stroke="none" stroke-width="1"/>
<rect x="490.1" y="499.04" width="8.7" height="7.58" fill="#10602a" stroke="none" stroke-width="1"/>
<text x="500.6" y="503.98" font-size="3.5" font-weight="normal" text-anchor="start" fill="#222">EZH2</text>
<rect x="481.4" y="506.32" width="8.7" height="7.58" fill="#050505" stroke="none" stroke-width="1"/>
<rect x="490.1" y="506.32" width="8.7" height="7.58" fill="#10602a" stroke="none" stroke-width="1"/>
<text x="500.6" y="511.26" font-size="3.5" font-weight="normal" text-anchor="start" fill="#222">CDA</text>
<rect x="481.4" y="513.6" width="8.7" height="7.58" fill="#30c050" stroke="none" stroke-width="1"/>
<rect x="490.1" y="513.6" width="8.7" height="7.58" fill="#10802a" stroke="none" stroke-width="1"/>
<text x="500.6" y="518.54" font-size="3.5" font-weight="normal" text-anchor="start" fill="#222">CEBPA</text>
<rect x="481.4" y="520.88" width="8.7" height="7.58" fill="#10802a" stroke="none" stroke-width="1"/>
<rect x="490.1" y="520.88" width="8.7" height="7.58" fill="#10802a" stroke="none" stroke-width="1"/>
<text x="500.6" y="525.82" font-size="3.5" font-weight="normal" text-anchor="start" fill="#222">TIE1</text>
<rect x="481.4" y="528.16" width="8.7" height="7.58" fill="#10802a" stroke="none" stroke-width="1"/>
<rect x="490.1" y="528.16" width="8.7" height="7.58" fill="#10802a" stroke="none" stroke-width="1"/>
<text x="500.6" y="533.1" font-size="3.5" font-weight="normal" text-anchor="start" fill="#222">PRDM16</text>
<rect x="481.4" y="535.44" width="8.7" height="7.58" fill="#050202" stroke="none" stroke-width="1"/>
<rect x="490.1" y="535.44" width="8.7" height="7.58" fill="#18903a" stroke="none" stroke-width="1"/>
<text x="500.6" y="540.38" font-size="3.5" font-weight="normal" text-anchor="start" fill="#222">MEG3</text>
<rect x="481.4" y="542.72" width="8.7" height="7.58" fill="#154a20" stroke="none" stroke-width="1"/>
<rect x="490.1" y="542.72" width="8.7" height="7.58" fill="#20a040" stroke="none" stroke-width="1"/>
<text x="500.6" y="547.66" font-size="3.5" font-weight="normal" text-anchor="start" fill="#222">MGMT</text>
<rect x="481.4" y="550" width="8.7" height="7.58" fill="#f02020" stroke="none" stroke-width="1"/>
<rect x="490.1" y="550" width="8.7" height="7.58" fill="#30c050" stroke="none" stroke-width="1"/>
<text x="500.6" y="554.94" font-size="3.5" font-weight="normal" text-anchor="start" fill="#222">SFRP1</text>
<rect x="481.4" y="557.28" width="8.7" height="7.58" fill="#f02020" stroke="none" stroke-width="1"/>
<rect x="490.1" y="557.28" width="8.7" height="7.58" fill="#50d060" stroke="none" stroke-width="1"/>
<text x="500.6" y="562.22" font-size="3.5" font-weight="normal" text-anchor="start" fill="#222">DKK1</text>
<line x1="481.4" y1="185.4" x2="498.8" y2="185.4" stroke="#777" stroke-width="1"/>
<text x="483.9" y="567.6" font-size="5.8" font-weight="bold" text-anchor="start" fill="#000" transform="rotate(90 483.9 567.6)">AraC</text>
<text x="493.2" y="567.6" font-size="5.8" font-weight="bold" text-anchor="start" fill="#000" transform="rotate(90 493.2 567.6)">DAC</text>
<text x="15.3" y="183.5" font-size="11.5" font-weight="bold" text-anchor="start" fill="#000">D</text>
<clipPath id="c1"><rect x="37.3" y="189.8" width="81" height="71"/></clipPath>
<g clip-path="url(#c1)">
<g filter="url(#bs)">
<path d="M60 216h1v1h-1zm-2 15h1v1h-1zm26 8h1v1h-1zm16 0h1v1h-1zm4 6h1v1h-1zm-29 5h1v1h-1zm-30 10h1v1h-1z" fill="#b4bcea"/>
<path d="M63 215h1v1h-1zm49 5h1v1h-1zm-19 6h1v1h-1zm-38 2h1v1h-1zm-3 4h1v1h-1zm-14 8h1v1h-1zm75 12h1v1h-1zm-47 3h1v1h-1zm-13 2h1v1h-1z" fill="#c0c4ee"/>
<path d="M112 219h1v1h-1zm-29 10h1v1h-1zm33 0h1v1h-1zm-62 7h1v1h-1zm13 4h1v1h-1zm35 14h1v1h-1zm-46 3h1v1h-1zm-16 1h1v1h-1z" fill="#bcb4e2"/>
<path d="M50 209h1v1h-1zm-4 3h1v1h-1zm66 10h1v1h-1zm-15 5h1v1h-1zm-21 6h1v1h-1zm12 2h1v1h-1zm4 3h1v1h-1zm-17 17h1v1h-1zm-37 5h1v1h-1z" fill="#c8cef2"/>
<path d="M86 211h1v1h-1zm4 0h1v1h-1zm4 0h1v1h-1zm-16 3h1v1h-1zm25 2h1v1h-1zm-36 2h1v1h-1zm24 5h1v1h-1zm-36 2h1v1h-1zm35 0h1v1h-1zm4 1h1v1h-1zm-12 1h1v1h-1zm2 2h1v1h-1zm12 0h1v1h-1zm-44 1h1v1h-1zm25 0h1v1h-1zm25 0h1v1h-1zm-26 2h1v1h-1zm5 0h1v1h-1zm-22 3h1v1h-1zm-20 5h1v1h-1zm19 0h1v1h-1zm19 0h1v1h-1zm1 0h1v1h-1zm14 0h1v1h-1zm-9 3h1v1h-1zm17 0h1v1h-1zm-13 1h1v1h-1zm-1 2h1v1h-1zm-7 2h1v1h-1zm10 0h1v1h-1zm4 1h1v1h-1zm-32 1h1v1h-1z" fill="#6a7edc"/>
<path d="M89 210h1v1h-1zm4 1h1v1h-1zm-16 3h1v1h-1zm-7 2h1v1h-1zm-3 1h1v1h-1zm-10 1h1v1h-1zm2 1h1v1h-1zm0 1h1v1h-1zm-3 3h1v1h-1zm44 0h1v1h-1zm-45 1h1v1h-1zm34 1h1v1h-1zm-11 4h1v1h-1zm14 0h1v1h-1zm-10 2h1v1h-1zm-24 1h1v1h-1zm25 2h1v1h-1zm-12 1h1v1h-1zm-28 1h1v1h-1zm42 0h1v1h-1zm8 2h1v1h-1zm4 1h1v1h-1zm-45 1h1v1h-1zm2 1h1v1h-1zm26 0h1v1h-1zm10 0h1v1h-1zm-34 1h1v1h-1zm32 0h1v1h-1zm4 0h1v1h-1zm-6 1h1v1h-1zm1 2h1v1h-1zm-27 4h1v1h-1zm11 1h1v1h-1z" fill="#7a8adc"/>
<path d="M77 212h1v1h-1zm3 2h1v1h-1zm19 6h1v1h-1zm0 1h1v1h-1zm-5 2h1v1h-1zm-39 4h1v1h-1zm37 0h1v1h-1zm4 0h1v1h-1zm-1 1h1v1h-1zm-21 2h1v1h-1zm23 6h1v1h-1zm-20 2h1v1h-1zm1 0h1v1h-1zm10 1h1v1h-1zm1 0h1v1h-1zm0 1h1v1h-1zm1 0h1v1h-1zm-46 2h1v1h-1zm47 0h1v1h-1zm-9 3h1v1h-1zm0 2h1v1h-1zm-5 2h1v1h-1z" fill="#8a96e0"/>
<path d="M98 211h1v1h-1zm-15 1h1v1h-1zm2 1h1v1h-1zm-16 4h1v1h-1zm35 0h1v1h-1zm-4 2h1v1h-1zm-10 5h1v1h-1zm2 0h1v1h-1zm-7 2h1v1h-1zm1 3h1v1h-1zm-10 2h1v1h-1zm27 0h1v1h-1zm-31 1h1v1h-1zm3 2h1v1h-1zm-4 2h1v1h-1zm8 1h1v1h-1zm8 0h1v1h-1zm-6 4h1v1h-1zm15 0h1v1h-1zm-11 1h1v1h-1zm-43 1h1v1h-1zm49 1h1v1h-1zm-5 1h1v1h-1zm-3 1h1v1h-1zm4 1h1v1h-1zm6 0h1v1h-1zm-34 2h1v1h-1zm28 0h1v1h-1zm-28 1h1v1h-1zm15 0h1v1h-1zm-8 1h1v1h-1z" fill="#96a0e4"/>
<path d="M87 212h1v1h-1zm13 0h1v1h-1zm-22 1h1v1h-1zm-13 1h1v1h-1zm37 4h1v1h-1zm-49 6h1v1h-1zm27 4h1v1h-1zm7 0h1v1h-1zm-5 1h1v1h-1zm-4 1h1v1h-1zm21 8h1v1h-1zm-42 2h1v1h-1zm-4 1h1v1h-1zm-12 1h1v1h-1zm57 6h1v1h-1zm-37 3h1v1h-1z" fill="#7086e0"/>
<path d="M95 212h1v1h-1zm1 0h1v1h-1zm2 0h1v1h-1zm-9 1h1v1h-1zm1 0h1v1h-1zm9 0h1v1h-1zm1 0h1v1h-1zm-17 1h1v1h-1zm1 0h1v1h-1zm1 0h1v1h-1zm1 0h1v1h-1zm-7 1h1v1h-1zm22 0h1v1h-1zm-25 1h1v1h-1zm-2 1h1v1h-1zm-2 1h1v1h-1zm28 0h1v1h-1zm-37 1h1v1h-1zm1 0h1v1h-1zm1 0h1v1h-1zm6 0h1v1h-1zm2 0h1v1h-1zm-6 1h1v1h-1zm6 0h1v1h-1zm21 1h1v1h-1zm-36 1h1v1h-1zm13 0h1v1h-1zm-14 2h1v1h-1zm29 0h1v1h-1zm-29 1h1v1h-1zm28 0h1v1h-1zm1 0h1v1h-1zm-29 1h1v1h-1zm15 0h1v1h-1zm1 0h1v1h-1zm2 0h1v1h-1zm7 0h1v1h-1zm2 0h1v1h-1zm-11 1h1v1h-1zm1 0h1v1h-1zm2 0h1v1h-1zm1 0h1v1h-1zm1 0h1v1h-1zm-21 1h1v1h-1zm15 0h1v1h-1zm1 0h1v1h-1zm2 0h1v1h-1zm-18 1h1v1h-1zm14 0h1v1h-1zm-13 1h1v1h-1zm12 0h1v1h-1zm3 0h1v1h-1zm-14 1h1v1h-1zm11 0h1v1h-1zm1 0h1v1h-1zm1 0h1v1h-1zm-3 1h1v1h-1zm-10 1h1v1h-1zm9 0h1v1h-1zm1 0h1v1h-1zm2 0h1v1h-1zm-12 1h1v1h-1zm1 0h1v1h-1zm7 0h1v1h-1zm-7 1h1v1h-1zm7 0h1v1h-1zm-5 1h1v1h-1zm1 0h1v1h-1zm1 0h1v1h-1zm2 0h1v1h-1zm-2 1h1v1h-1zm2 0h1v1h-1zm1 0h1v1h-1zm3 0h1v1h-1zm-9 1h1v1h-1zm2 0h1v1h-1zm1 0h1v1h-1zm1 0h1v1h-1zm-5 1h1v1h-1zm4 0h1v1h-1zm4 0h1v1h-1zm3 0h1v1h-1zm1 0h1v1h-1zm0 1h1v1h-1zm-32 1h1v1h-1zm19 0h1v1h-1zm18 0h1v1h-1zm-20 1h1v1h-1zm21 0h1v1h-1zm1 0h1v1h-1zm1 0h1v1h-1zm2 2h1v1h-1zm-27 1h1v1h-1zm25 1h1v1h-1zm-39 1h1v1h-1zm16 0h1v1h-1zm22 0h1v1h-1zm-20 1h1v1h-1zm18 0h1v1h-1zm-37 1h1v1h-1zm-2 1h1v1h-1z" fill="#5068d4"/>
</g><g filter="url(#bl)">
<path d="M92 213h7v1h-7zm-2 1h1v1h-1zm2 0h8v1h-8zm-9 1h1v1h-1zm2 0h5v1h-5zm13 0h2v1h-2zm-19 1h1v1h-1zm2 0h3v1h-3zm4 0h1v1h-1zm13 0h3v1h-3zm-21 1h5v1h-5zm20 0h3v1h-3zm-22 1h5v1h-5zm21 0h3v1h-3zm-21 1h3v1h-3zm19 0h2v1h-2zm3 0h1v1h-1zm-35 1h5v1h-5zm12 0h3v1h-3zm17 0h4v1h-4zm-30 1h1v1h-1zm2 0h4v1h-4zm5 0h1v1h-1zm6 0h3v1h-3zm15 0h4v1h-4zm-30 1h3v1h-3zm7 0h5v1h-5zm9 0h2v1h-2zm11 0h5v1h-5zm-27 1h2v1h-2zm10 0h2v1h-2zm4 0h2v1h-2zm4 0h1v1h-1zm6 0h3v1h-3zm4 0h1v1h-1zm-28 1h1v1h-1zm9 0h2v1h-2zm4 0h2v1h-2zm3 0h1v1h-1zm3 0h8v1h-8zm-10 1h1v1h-1zm2 0h1v1h-1zm2 0h3v1h-3zm4 0h2v1h-2zm3 0h2v1h-2zm-20 1h1v1h-1zm9 0h3v1h-3zm9 0h3v1h-3zm-19 1h2v1h-2zm10 0h3v1h-3zm-10 1h2v1h-2zm9 0h2v1h-2zm-8 1h2v1h-2zm8 0h4v1h-4zm-8 1h3v1h-3zm7 0h4v1h-4zm-6 1h2v1h-2zm3 0h4v1h-4zm5 0h2v1h-2zm-8 1h4v1h-4zm5 0h4v1h-4zm-4 1h2v1h-2zm3 0h2v1h-2zm-2 1h3v1h-3zm4 0h1v1h-1zm-2 1h1v1h-1zm1 4h2v1h-2zm-3 1h1v1h-1zm2 0h3v1h-3zm4 0h4v1h-4zm-31 1h1v1h-1zm2 0h1v1h-1zm22 0h3v1h-3zm11 0h1v1h-1zm-32 1h1v1h-1zm18 0h3v1h-3zm17 0h3v1h-3zm-17 1h1v1h-1zm19 0h1v1h-1zm2 0h1v1h-1zm-38 1h1v1h-1zm17 0h1v1h-1zm21 0h2v1h-2zm-38 1h1v1h-1zm16 0h1v1h-1zm21 0h2v1h-2zm-37 1h1v1h-1zm17 0h1v1h-1zm21 0h1v1h-1zm-21 1h1v1h-1zm18 0h2v1h-2zm-36 1h1v1h-1zm20 0h1v1h-1zm2 0h1v1h-1zm12 0h3v1h-3zm-37 1h2v1h-2zm26 0h1v1h-1zm2 0h7v1h-7z" fill="#4a88da"/>
<path d="M90 215h8v1h-8zm-4 1h1v1h-1zm2 0h10v1h-10zm-6 1h15v1h-15zm-2 1h16v1h-16zm-2 1h15v1h-15zm-1 1h14v1h-14zm0 1h12v1h-12zm-15 1h4v1h-4zm15 0h9v1h-9zm-16 1h6v1h-6zm17 0h5v1h-5zm-18 1h8v1h-8zm0 1h7v1h-7zm0 1h3v1h-3zm4 0h4v1h-4zm-4 1h8v1h-8zm0 1h7v1h-7zm1 1h6v1h-6zm2 1h3v1h-3zm1 11h8v1h-8zm-27 1h3v1h-3zm24 0h4v1h-4zm11 0h3v1h-3zm-32 1h1v1h-1zm19 0h3v1h-3zm16 0h2v1h-2zm-35 1h1v1h-1zm19 0h2v1h-2zm17 0h2v1h-2zm-36 1h1v1h-1zm18 0h2v1h-2zm18 0h2v1h-2zm-36 1h1v1h-1zm19 0h2v1h-2zm17 0h2v1h-2zm-36 1h1v1h-1zm20 0h3v1h-3zm14 0h2v1h-2zm-37 1h3v1h-3zm26 0h11v1h-11z" fill="#38a0dc"/>
<path d="M63 226h1v1h-1zm2 16h7v1h-7zm-28 1h3v1h-3zm25 0h2v1h-2zm10 0h3v1h-3zm-33 1h1v1h-1zm22 0h2v1h-2zm13 0h2v1h-2zm-14 1h2v1h-2zm14 0h2v1h-2zm-35 1h1v1h-1zm22 0h2v1h-2zm13 0h2v1h-2zm-37 1h3v1h-3zm26 0h2v1h-2zm8 0h3v1h-3z" fill="#40b8b0"/>
<path d="M64 243h8v1h-8zm-27 1h2v1h-2zm26 0h3v1h-3zm8 0h3v1h-3zm-34 1h3v1h-3zm25 0h3v1h-3zm10 0h2v1h-2zm-35 1h2v1h-2zm26 0h3v1h-3zm7 0h4v1h-4zm-5 1h6v1h-6z" fill="#50c050"/>
<path d="M66 244h5v1h-5zm-1 1h7v1h-7zm1 1h4v1h-4z" fill="#c8e030"/>
</g>
</g>
<rect x="37.3" y="189.8" width="81" height="71" fill="none" stroke="#8a8a8a" stroke-width="0.8"/>
<line x1="36.1" y1="189.8" x2="37.3" y2="189.8" stroke="#555" stroke-width="0.45"/>
<line x1="36.6" y1="192.17" x2="37.3" y2="192.17" stroke="#555" stroke-width="0.45"/>
<line x1="36.6" y1="194.53" x2="37.3" y2="194.53" stroke="#555" stroke-width="0.45"/>
<line x1="36.6" y1="196.9" x2="37.3" y2="196.9" stroke="#555" stroke-width="0.45"/>
<line x1="36.6" y1="199.27" x2="37.3" y2="199.27" stroke="#555" stroke-width="0.45"/>
<line x1="36.1" y1="201.63" x2="37.3" y2="201.63" stroke="#555" stroke-width="0.45"/>
<line x1="36.6" y1="204" x2="37.3" y2="204" stroke="#555" stroke-width="0.45"/>
<line x1="36.6" y1="206.37" x2="37.3" y2="206.37" stroke="#555" stroke-width="0.45"/>
<line x1="36.6" y1="208.73" x2="37.3" y2="208.73" stroke="#555" stroke-width="0.45"/>
<line x1="36.6" y1="211.1" x2="37.3" y2="211.1" stroke="#555" stroke-width="0.45"/>
<line x1="36.1" y1="213.47" x2="37.3" y2="213.47" stroke="#555" stroke-width="0.45"/>
<line x1="36.6" y1="215.83" x2="37.3" y2="215.83" stroke="#555" stroke-width="0.45"/>
<line x1="36.6" y1="218.2" x2="37.3" y2="218.2" stroke="#555" stroke-width="0.45"/>
<line x1="36.6" y1="220.57" x2="37.3" y2="220.57" stroke="#555" stroke-width="0.45"/>
<line x1="36.6" y1="222.93" x2="37.3" y2="222.93" stroke="#555" stroke-width="0.45"/>
<line x1="36.1" y1="225.3" x2="37.3" y2="225.3" stroke="#555" stroke-width="0.45"/>
<line x1="36.6" y1="227.67" x2="37.3" y2="227.67" stroke="#555" stroke-width="0.45"/>
<line x1="36.6" y1="230.03" x2="37.3" y2="230.03" stroke="#555" stroke-width="0.45"/>
<line x1="36.6" y1="232.4" x2="37.3" y2="232.4" stroke="#555" stroke-width="0.45"/>
<line x1="36.6" y1="234.77" x2="37.3" y2="234.77" stroke="#555" stroke-width="0.45"/>
<line x1="36.1" y1="237.13" x2="37.3" y2="237.13" stroke="#555" stroke-width="0.45"/>
<line x1="36.6" y1="239.5" x2="37.3" y2="239.5" stroke="#555" stroke-width="0.45"/>
<line x1="36.6" y1="241.87" x2="37.3" y2="241.87" stroke="#555" stroke-width="0.45"/>
<line x1="36.6" y1="244.23" x2="37.3" y2="244.23" stroke="#555" stroke-width="0.45"/>
<line x1="36.6" y1="246.6" x2="37.3" y2="246.6" stroke="#555" stroke-width="0.45"/>
<line x1="36.1" y1="248.97" x2="37.3" y2="248.97" stroke="#555" stroke-width="0.45"/>
<line x1="36.6" y1="251.33" x2="37.3" y2="251.33" stroke="#555" stroke-width="0.45"/>
<line x1="36.6" y1="253.7" x2="37.3" y2="253.7" stroke="#555" stroke-width="0.45"/>
<line x1="36.6" y1="256.07" x2="37.3" y2="256.07" stroke="#555" stroke-width="0.45"/>
<line x1="36.6" y1="258.43" x2="37.3" y2="258.43" stroke="#555" stroke-width="0.45"/>
<line x1="36.1" y1="260.8" x2="37.3" y2="260.8" stroke="#555" stroke-width="0.45"/>
<line x1="37.3" y1="260.8" x2="37.3" y2="262.2" stroke="#555" stroke-width="0.45"/>
<line x1="40" y1="260.8" x2="40" y2="261.6" stroke="#555" stroke-width="0.45"/>
<line x1="42.7" y1="260.8" x2="42.7" y2="261.6" stroke="#555" stroke-width="0.45"/>
<line x1="45.4" y1="260.8" x2="45.4" y2="261.6" stroke="#555" stroke-width="0.45"/>
<line x1="48.1" y1="260.8" x2="48.1" y2="261.6" stroke="#555" stroke-width="0.45"/>
<line x1="50.8" y1="260.8" x2="50.8" y2="262.2" stroke="#555" stroke-width="0.45"/>
<line x1="53.5" y1="260.8" x2="53.5" y2="261.6" stroke="#555" stroke-width="0.45"/>
<line x1="56.2" y1="260.8" x2="56.2" y2="261.6" stroke="#555" stroke-width="0.45"/>
<line x1="58.9" y1="260.8" x2="58.9" y2="261.6" stroke="#555" stroke-width="0.45"/>
<line x1="61.6" y1="260.8" x2="61.6" y2="261.6" stroke="#555" stroke-width="0.45"/>
<line x1="64.3" y1="260.8" x2="64.3" y2="262.2" stroke="#555" stroke-width="0.45"/>
<line x1="67" y1="260.8" x2="67" y2="261.6" stroke="#555" stroke-width="0.45"/>
<line x1="69.7" y1="260.8" x2="69.7" y2="261.6" stroke="#555" stroke-width="0.45"/>
<line x1="72.4" y1="260.8" x2="72.4" y2="261.6" stroke="#555" stroke-width="0.45"/>
<line x1="75.1" y1="260.8" x2="75.1" y2="261.6" stroke="#555" stroke-width="0.45"/>
<line x1="77.8" y1="260.8" x2="77.8" y2="262.2" stroke="#555" stroke-width="0.45"/>
<line x1="80.5" y1="260.8" x2="80.5" y2="261.6" stroke="#555" stroke-width="0.45"/>
<line x1="83.2" y1="260.8" x2="83.2" y2="261.6" stroke="#555" stroke-width="0.45"/>
<line x1="85.9" y1="260.8" x2="85.9" y2="261.6" stroke="#555" stroke-width="0.45"/>
<line x1="88.6" y1="260.8" x2="88.6" y2="261.6" stroke="#555" stroke-width="0.45"/>
<line x1="91.3" y1="260.8" x2="91.3" y2="262.2" stroke="#555" stroke-width="0.45"/>
<line x1="94" y1="260.8" x2="94" y2="261.6" stroke="#555" stroke-width="0.45"/>
<line x1="96.7" y1="260.8" x2="96.7" y2="261.6" stroke="#555" stroke-width="0.45"/>
<line x1="99.4" y1="260.8" x2="99.4" y2="261.6" stroke="#555" stroke-width="0.45"/>
<line x1="102.1" y1="260.8" x2="102.1" y2="261.6" stroke="#555" stroke-width="0.45"/>
<line x1="104.8" y1="260.8" x2="104.8" y2="262.2" stroke="#555" stroke-width="0.45"/>
<line x1="107.5" y1="260.8" x2="107.5" y2="261.6" stroke="#555" stroke-width="0.45"/>
<line x1="110.2" y1="260.8" x2="110.2" y2="261.6" stroke="#555" stroke-width="0.45"/>
<line x1="112.9" y1="260.8" x2="112.9" y2="261.6" stroke="#555" stroke-width="0.45"/>
<line x1="115.6" y1="260.8" x2="115.6" y2="261.6" stroke="#555" stroke-width="0.45"/>
<line x1="118.3" y1="260.8" x2="118.3" y2="262.2" stroke="#555" stroke-width="0.45"/>
<rect x="55" y="209.8" width="52.5" height="23.7" fill="none" stroke="#9a4c8e" stroke-width="0.75"/>
<rect x="52.7" y="233.8" width="27.7" height="19.7" fill="none" stroke="#9a4c8e" stroke-width="0.75"/>
<rect x="80.4" y="233.8" width="28.1" height="19.7" fill="none" stroke="#9a4c8e" stroke-width="0.75"/>
<rect x="37.3" y="229" width="15.2" height="33" fill="none" stroke="#9a4c8e" stroke-width="0.75"/>
<text x="58.8" y="213.6" font-size="4.3" font-weight="bold" text-anchor="start" fill="#962a84">21.3</text>
<text x="68.3" y="256.4" font-size="4.3" font-weight="bold" text-anchor="start" fill="#962a84">56.1</text>
<text x="100" y="256.4" font-size="4.3" font-weight="bold" text-anchor="start" fill="#962a84">1.68</text>
<text x="38.7" y="260" font-size="4.3" font-weight="bold" text-anchor="start" fill="#962a84">19.9</text>
<text x="81.5" y="198.7" font-size="9" font-weight="normal" text-anchor="middle" fill="#000" textLength="21.5" lengthAdjust="spacingAndGlyphs">Mock</text>
<text x="35" y="196.5" font-size="4.1" font-weight="bold" text-anchor="end">10<tspan font-size="2.87" dy="-1.64">5</tspan></text>
<text x="35" y="211" font-size="4.1" font-weight="bold" text-anchor="end">10<tspan font-size="2.87" dy="-1.64">4</tspan></text>
<text x="35" y="225.8" font-size="4.1" font-weight="bold" text-anchor="end">10<tspan font-size="2.87" dy="-1.64">3</tspan></text>
<text x="35" y="241" font-size="4.1" font-weight="bold" text-anchor="end">10<tspan font-size="2.87" dy="-1.64">2</tspan></text>
<text x="33.8" y="248.5" font-size="4.2" font-weight="bold" text-anchor="end" fill="#000">0</text>
<text x="24.5" y="225.6" font-size="6.6" font-weight="bold" text-anchor="middle" fill="#000" transform="rotate(-90 24.5 225.6)">EdU</text>
<text x="37.4" y="268.2" font-size="4.2" font-weight="bold" text-anchor="middle" fill="#000">0</text>
<text x="54.2" y="268.2" font-size="4.2" font-weight="bold" text-anchor="middle" fill="#000">50K</text>
<text x="67" y="268.2" font-size="4.2" font-weight="bold" text-anchor="middle" fill="#000">100K</text>
<text x="85.4" y="268.2" font-size="4.2" font-weight="bold" text-anchor="middle" fill="#000">150K</text>
<text x="99.7" y="268.2" font-size="4.2" font-weight="bold" text-anchor="middle" fill="#000">200K</text>
<text x="115.4" y="268.2" font-size="4.2" font-weight="bold" text-anchor="middle" fill="#000">250K</text>
<text x="77.3" y="273.1" font-size="4.9" font-weight="bold" text-anchor="middle" fill="#000">FxCycle DNA Stain</text>
<clipPath id="c2"><rect x="144.4" y="189.7" width="80.6" height="74.5"/></clipPath>
<g clip-path="url(#c2)">
<g filter="url(#bs)">
<path d="M218 210h1v1h-1zm-51 3h1v1h-1zm31 0h1v1h-1zm23 18h1v1h-1zm-44 3h1v1h-1zm-17 8h1v1h-1z" fill="#b4bcea"/>
<path d="M177 214h1v1h-1zm23 3h1v1h-1zm-8 2h1v1h-1zm19 7h1v1h-1zm-41 3h1v1h-1zm7 4h1v1h-1zm43 1h1v1h-1zm-10 17h1v1h-1zm14 9h1v1h-1zm-30 2h1v1h-1z" fill="#c0c4ee"/>
<path d="M164 208h1v1h-1zm29 1h1v1h-1zm27 1h1v1h-1zm-25 6h1v1h-1zm-48 4h1v1h-1zm6 0h1v1h-1zm64 6h1v1h-1zm-49 1h1v1h-1zm49 5h1v1h-1zm-43 6h1v1h-1zm-25 24h1v1h-1z" fill="#bcb4e2"/>
<path d="M223 211h1v1h-1zm-26 1h1v1h-1zm22 1h1v1h-1zm-30 1h1v1h-1zm-9 4h1v1h-1zm42 3h1v1h-1zm-64 7h1v1h-1zm4 0h1v1h-1zm48 0h1v1h-1zm-9 10h1v1h-1zm-46 1h1v1h-1zm30 0h1v1h-1zm22 15h1v1h-1zm-44 1h1v1h-1zm13 4h1v1h-1zm-32 1h1v1h-1z" fill="#c8cef2"/>
<path d="M189 235h1v1h-1zm-19 2h1v1h-1zm10 2h1v1h-1zm1 0h1v1h-1zm11 0h1v1h-1zm-19 1h1v1h-1zm50 0h1v1h-1zm-55 1h1v1h-1zm55 9h1v1h-1zm-16 1h1v1h-1zm5 0h1v1h-1zm1 0h1v1h-1zm-67 3h1v1h-1z" fill="#6a7edc"/>
<path d="M192 235h1v1h-1zm-3 2h1v1h-1zm4 0h1v1h-1zm-5 1h1v1h-1zm17 0h1v1h-1zm7 0h1v1h-1zm-49 1h1v1h-1zm4 0h1v1h-1zm11 0h1v1h-1zm13 0h1v1h-1zm-25 1h1v1h-1zm-12 1h1v1h-1zm10 0h1v1h-1zm-13 2h1v1h-1zm73 6h1v1h-1zm-70 3h1v1h-1zm1 1h1v1h-1zm5 0h1v1h-1zm4 1h1v1h-1z" fill="#7a8adc"/>
<path d="M148 238h1v1h-1zm32 2h1v1h-1zm1 0h1v1h-1zm-34 2h1v1h-1zm15 0h1v1h-1zm58 8h1v1h-1zm-67 2h1v1h-1zm38 0h1v1h-1zm1 1h1v1h-1zm-15 1h1v1h-1z" fill="#8a96e0"/>
<path d="M205 237h1v1h-1zm-8 1h1v1h-1zm7 0h1v1h-1zm18 0h1v1h-1zm-35 1h1v1h-1zm10 0h1v1h-1zm4 0h1v1h-1zm-18 1h1v1h-1zm34 0h1v1h-1zm4 0h1v1h-1zm-51 1h1v1h-1zm1 0h1v1h-1zm4 12h1v1h-1zm-30 1h1v1h-1z" fill="#96a0e4"/>
<path d="M182 237h1v1h-1zm-12 1h1v1h-1zm20 0h1v1h-1zm3 1h1v1h-1zm21 11h1v1h-1zm-58 2h1v1h-1zm-9 2h1v1h-1z" fill="#7086e0"/>
<path d="M187 240h1v1h-1zm1 0h1v1h-1zm2 0h1v1h-1zm1 0h1v1h-1zm4 0h1v1h-1zm2 0h1v1h-1zm3 0h1v1h-1zm1 0h1v1h-1zm2 0h1v1h-1zm3 0h1v1h-1zm1 0h1v1h-1zm3 0h1v1h-1zm2 0h1v1h-1zm2 0h1v1h-1zm-38 1h1v1h-1zm3 0h1v1h-1zm2 0h1v1h-1zm1 0h1v1h-1zm-18 1h1v1h-1zm3 0h1v1h-1zm2 0h1v1h-1zm-17 1h1v1h-1zm2 0h1v1h-1zm2 0h1v1h-1zm64 6h1v1h-1zm3 0h1v1h-1zm-16 1h1v1h-1zm1 0h1v1h-1zm1 0h1v1h-1zm4 0h1v1h-1zm-15 1h1v1h-1zm2 0h1v1h-1zm2 0h1v1h-1zm-45 1h1v1h-1zm1 0h1v1h-1zm1 0h1v1h-1zm1 0h1v1h-1zm5 0h1v1h-1zm4 0h1v1h-1zm1 0h1v1h-1zm1 0h1v1h-1zm13 0h1v1h-1zm2 0h1v1h-1zm3 0h1v1h-1zm1 0h1v1h-1z" fill="#5068d4"/>
</g><g filter="url(#bl)">
<path d="M185 241h3v1h-3zm5 0h1v1h-1zm3 0h4v1h-4zm5 0h1v1h-1zm2 0h2v1h-2zm4 0h1v1h-1zm3 0h4v1h-4zm5 0h5v1h-5zm7 0h3v1h-3zm-49 1h9v1h-9zm10 0h14v1h-14zm15 0h10v1h-10zm11 0h5v1h-5zm17 0h2v1h-2zm-79 1h3v1h-3zm15 0h1v1h-1zm4 0h1v1h-1zm2 0h1v1h-1zm2 0h4v1h-4zm-19 1h14v1h-14zm3 1h2v1h-2zm73 2h1v1h-1zm-7 1h1v1h-1zm2 0h2v1h-2zm3 0h3v1h-3zm-14 1h9v1h-9zm10 0h1v1h-1zm-20 1h9v1h-9zm-49 1h3v1h-3zm4 0h3v1h-3zm4 0h2v1h-2zm3 0h4v1h-4zm6 0h4v1h-4zm21 0h9v1h-9zm-39 1h1v1h-1zm25 0h4v1h-4zm5 0h2v1h-2zm4 0h2v1h-2zm-38 1h2v1h-2z" fill="#4a88da"/>
<path d="M211 242h2v1h-2zm3 0h9v1h-9zm-43 1h54v1h-54zm-27 1h4v1h-4zm18 0h10v1h-10zm58 0h5v1h-5zm-72 1h2v1h-2zm5 0h12v1h-12zm69 0h3v1h-3zm-73 1h11v1h-11zm68 0h8v1h-8zm-67 1h7v1h-7zm59 0h15v1h-15zm-59 1h7v1h-7zm52 0h15v1h-15zm-53 1h13v1h-13zm47 0h10v1h-10zm-47 1h22v1h-22zm39 0h10v1h-10zm-40 1h1v1h-1zm22 0h17v1h-17zm-24 1h2v1h-2z" fill="#38a0dc"/>
<path d="M172 244h48v1h-48zm-26 1h2v1h-2zm19 0h7v1h-7zm31 0h26v1h-26zm-48 1h1v1h-1zm12 0h7v1h-7zm39 0h18v1h-18zm-51 1h2v1h-2zm9 0h8v1h-8zm41 0h11v1h-11zm-50 1h2v1h-2zm9 0h9v1h-9zm38 0h7v1h-7zm-47 1h1v1h-1zm14 0h9v1h-9zm27 0h7v1h-7zm-41 1h1v1h-1zm23 0h17v1h-17zm-24 1h1v1h-1zm-3 1h2v1h-2z" fill="#40b8b0"/>
<path d="M144 245h2v1h-2zm28 0h24v1h-24zm-26 1h2v1h-2zm21 0h9v1h-9zm21 0h11v1h-11zm-41 1h1v1h-1zm18 0h9v1h-9zm24 0h9v1h-9zm-42 1h1v1h-1zm19 0h10v1h-10zm20 0h9v1h-9zm-39 1h1v1h-1zm24 0h18v1h-18zm-24 1h1v1h-1zm-3 1h3v1h-3z" fill="#50c050"/>
<path d="M144 246h2v1h-2zm32 0h12v1h-12zm-30 1h1v1h-1zm28 0h15v1h-15zm2 1h10v1h-10zm-30 1h1v1h-1zm-2 1h3v1h-3z" fill="#c8e030"/>
<path d="M144 247h2v1h-2zm0 1h1v1h-1zm2 0h1v1h-1zm-2 1h2v1h-2z" fill="#f0a020"/>
<path d="M145 248h1v1h-1z" fill="#e83018"/>
</g>
</g>
<rect x="144.4" y="189.7" width="80.6" height="74.5" fill="none" stroke="#8a8a8a" stroke-width="0.8"/>
<line x1="143.2" y1="189.7" x2="144.4" y2="189.7" stroke="#555" stroke-width="0.45"/>
<line x1="143.7" y1="192.18" x2="144.4" y2="192.18" stroke="#555" stroke-width="0.45"/>
<line x1="143.7" y1="194.67" x2="144.4" y2="194.67" stroke="#555" stroke-width="0.45"/>
<line x1="143.7" y1="197.15" x2="144.4" y2="197.15" stroke="#555" stroke-width="0.45"/>
<line x1="143.7" y1="199.63" x2="144.4" y2="199.63" stroke="#555" stroke-width="0.45"/>
<line x1="143.2" y1="202.12" x2="144.4" y2="202.12" stroke="#555" stroke-width="0.45"/>
<line x1="143.7" y1="204.6" x2="144.4" y2="204.6" stroke="#555" stroke-width="0.45"/>
<line x1="143.7" y1="207.08" x2="144.4" y2="207.08" stroke="#555" stroke-width="0.45"/>
<line x1="143.7" y1="209.57" x2="144.4" y2="209.57" stroke="#555" stroke-width="0.45"/>
<line x1="143.7" y1="212.05" x2="144.4" y2="212.05" stroke="#555" stroke-width="0.45"/>
<line x1="143.2" y1="214.53" x2="144.4" y2="214.53" stroke="#555" stroke-width="0.45"/>
<line x1="143.7" y1="217.02" x2="144.4" y2="217.02" stroke="#555" stroke-width="0.45"/>
<line x1="143.7" y1="219.5" x2="144.4" y2="219.5" stroke="#555" stroke-width="0.45"/>
<line x1="143.7" y1="221.98" x2="144.4" y2="221.98" stroke="#555" stroke-width="0.45"/>
<line x1="143.7" y1="224.47" x2="144.4" y2="224.47" stroke="#555" stroke-width="0.45"/>
<line x1="143.2" y1="226.95" x2="144.4" y2="226.95" stroke="#555" stroke-width="0.45"/>
<line x1="143.7" y1="229.43" x2="144.4" y2="229.43" stroke="#555" stroke-width="0.45"/>
<line x1="143.7" y1="231.92" x2="144.4" y2="231.92" stroke="#555" stroke-width="0.45"/>
<line x1="143.7" y1="234.4" x2="144.4" y2="234.4" stroke="#555" stroke-width="0.45"/>
<line x1="143.7" y1="236.88" x2="144.4" y2="236.88" stroke="#555" stroke-width="0.45"/>
<line x1="143.2" y1="239.37" x2="144.4" y2="239.37" stroke="#555" stroke-width="0.45"/>
<line x1="143.7" y1="241.85" x2="144.4" y2="241.85" stroke="#555" stroke-width="0.45"/>
<line x1="143.7" y1="244.33" x2="144.4" y2="244.33" stroke="#555" stroke-width="0.45"/>
<line x1="143.7" y1="246.82" x2="144.4" y2="246.82" stroke="#555" stroke-width="0.45"/>
<line x1="143.7" y1="249.3" x2="144.4" y2="249.3" stroke="#555" stroke-width="0.45"/>
<line x1="143.2" y1="251.78" x2="144.4" y2="251.78" stroke="#555" stroke-width="0.45"/>
<line x1="143.7" y1="254.27" x2="144.4" y2="254.27" stroke="#555" stroke-width="0.45"/>
<line x1="143.7" y1="256.75" x2="144.4" y2="256.75" stroke="#555" stroke-width="0.45"/>
<line x1="143.7" y1="259.23" x2="144.4" y2="259.23" stroke="#555" stroke-width="0.45"/>
<line x1="143.7" y1="261.72" x2="144.4" y2="261.72" stroke="#555" stroke-width="0.45"/>
<line x1="143.2" y1="264.2" x2="144.4" y2="264.2" stroke="#555" stroke-width="0.45"/>
<line x1="144.4" y1="264.2" x2="144.4" y2="265.6" stroke="#555" stroke-width="0.45"/>
<line x1="147.09" y1="264.2" x2="147.09" y2="265" stroke="#555" stroke-width="0.45"/>
<line x1="149.77" y1="264.2" x2="149.77" y2="265" stroke="#555" stroke-width="0.45"/>
<line x1="152.46" y1="264.2" x2="152.46" y2="265" stroke="#555" stroke-width="0.45"/>
<line x1="155.15" y1="264.2" x2="155.15" y2="265" stroke="#555" stroke-width="0.45"/>
<line x1="157.83" y1="264.2" x2="157.83" y2="265.6" stroke="#555" stroke-width="0.45"/>
<line x1="160.52" y1="264.2" x2="160.52" y2="265" stroke="#555" stroke-width="0.45"/>
<line x1="163.21" y1="264.2" x2="163.21" y2="265" stroke="#555" stroke-width="0.45"/>
<line x1="165.89" y1="264.2" x2="165.89" y2="265" stroke="#555" stroke-width="0.45"/>
<line x1="168.58" y1="264.2" x2="168.58" y2="265" stroke="#555" stroke-width="0.45"/>
<line x1="171.27" y1="264.2" x2="171.27" y2="265.6" stroke="#555" stroke-width="0.45"/>
<line x1="173.95" y1="264.2" x2="173.95" y2="265" stroke="#555" stroke-width="0.45"/>
<line x1="176.64" y1="264.2" x2="176.64" y2="265" stroke="#555" stroke-width="0.45"/>
<line x1="179.33" y1="264.2" x2="179.33" y2="265" stroke="#555" stroke-width="0.45"/>
<line x1="182.01" y1="264.2" x2="182.01" y2="265" stroke="#555" stroke-width="0.45"/>
<line x1="184.7" y1="264.2" x2="184.7" y2="265.6" stroke="#555" stroke-width="0.45"/>
<line x1="187.39" y1="264.2" x2="187.39" y2="265" stroke="#555" stroke-width="0.45"/>
<line x1="190.07" y1="264.2" x2="190.07" y2="265" stroke="#555" stroke-width="0.45"/>
<line x1="192.76" y1="264.2" x2="192.76" y2="265" stroke="#555" stroke-width="0.45"/>
<line x1="195.45" y1="264.2" x2="195.45" y2="265" stroke="#555" stroke-width="0.45"/>
<line x1="198.13" y1="264.2" x2="198.13" y2="265.6" stroke="#555" stroke-width="0.45"/>
<line x1="200.82" y1="264.2" x2="200.82" y2="265" stroke="#555" stroke-width="0.45"/>
<line x1="203.51" y1="264.2" x2="203.51" y2="265" stroke="#555" stroke-width="0.45"/>
<line x1="206.19" y1="264.2" x2="206.19" y2="265" stroke="#555" stroke-width="0.45"/>
<line x1="208.88" y1="264.2" x2="208.88" y2="265" stroke="#555" stroke-width="0.45"/>
<line x1="211.57" y1="264.2" x2="211.57" y2="265.6" stroke="#555" stroke-width="0.45"/>
<line x1="214.25" y1="264.2" x2="214.25" y2="265" stroke="#555" stroke-width="0.45"/>
<line x1="216.94" y1="264.2" x2="216.94" y2="265" stroke="#555" stroke-width="0.45"/>
<line x1="219.63" y1="264.2" x2="219.63" y2="265" stroke="#555" stroke-width="0.45"/>
<line x1="222.31" y1="264.2" x2="222.31" y2="265" stroke="#555" stroke-width="0.45"/>
<line x1="225" y1="264.2" x2="225" y2="265.6" stroke="#555" stroke-width="0.45"/>
<rect x="161" y="210.9" width="52.7" height="23.9" fill="none" stroke="#9a4c8e" stroke-width="0.75"/>
<rect x="159.8" y="235.9" width="27.1" height="19.5" fill="none" stroke="#9a4c8e" stroke-width="0.75"/>
<rect x="186.9" y="235.9" width="28.4" height="19.5" fill="none" stroke="#9a4c8e" stroke-width="0.75"/>
<rect x="144.4" y="230.3" width="14.6" height="33.9" fill="none" stroke="#9a4c8e" stroke-width="0.75"/>
<text x="161.5" y="214.2" font-size="4.3" font-weight="bold" text-anchor="start" fill="#962a84">0.745</text>
<text x="175.7" y="259" font-size="4.3" font-weight="bold" text-anchor="start" fill="#962a84">44.6</text>
<text x="206.8" y="259" font-size="4.3" font-weight="bold" text-anchor="start" fill="#962a84">21.8</text>
<text x="146" y="261.3" font-size="4.3" font-weight="bold" text-anchor="start" fill="#962a84">29.5</text>
<text x="188" y="198.6" font-size="9" font-weight="normal" text-anchor="middle" fill="#000" textLength="19" lengthAdjust="spacingAndGlyphs">AraC</text>
<text x="142.1" y="197.1" font-size="4.1" font-weight="bold" text-anchor="end">10<tspan font-size="2.87" dy="-1.64">5</tspan></text>
<text x="142.1" y="211.9" font-size="4.1" font-weight="bold" text-anchor="end">10<tspan font-size="2.87" dy="-1.64">4</tspan></text>
<text x="142.1" y="226.7" font-size="4.1" font-weight="bold" text-anchor="end">10<tspan font-size="2.87" dy="-1.64">3</tspan></text>
<text x="142.1" y="243.1" font-size="4.1" font-weight="bold" text-anchor="end">10<tspan font-size="2.87" dy="-1.64">2</tspan></text>
<text x="140.9" y="250.3" font-size="4.2" font-weight="bold" text-anchor="end" fill="#000">0</text>
<text x="131.6" y="221" font-size="6.6" font-weight="bold" text-anchor="middle" fill="#000" transform="rotate(-90 131.6 221)">EdU</text>
<text x="144.5" y="271.6" font-size="4.2" font-weight="bold" text-anchor="middle" fill="#000">0</text>
<text x="161.3" y="271.6" font-size="4.2" font-weight="bold" text-anchor="middle" fill="#000">50K</text>
<text x="174.1" y="271.6" font-size="4.2" font-weight="bold" text-anchor="middle" fill="#000">100K</text>
<text x="192.5" y="271.6" font-size="4.2" font-weight="bold" text-anchor="middle" fill="#000">150K</text>
<text x="206.8" y="271.6" font-size="4.2" font-weight="bold" text-anchor="middle" fill="#000">200K</text>
<text x="222.5" y="271.6" font-size="4.2" font-weight="bold" text-anchor="middle" fill="#000">250K</text>
<text x="184.4" y="276.5" font-size="4.9" font-weight="bold" text-anchor="middle" fill="#000">FxCycle DNA Stain</text>
<clipPath id="c3"><rect x="37.3" y="282.7" width="81" height="72.9"/></clipPath>
<g clip-path="url(#c3)">
<g filter="url(#bs)">
<path d="M72 303h1v1h-1zm41 1h1v1h-1zm-62 17h1v1h-1zm42 5h1v1h-1zm5 4h1v1h-1zm-55 2h1v1h-1zm29 0h1v1h-1zm15 15h1v1h-1zm-36 1h1v1h-1z" fill="#b4bcea"/>
<path d="M57 327h1v1h-1zm14 4h1v1h-1zm39 3h1v1h-1zm2 3h1v1h-1zm3 4h1v1h-1zm-1 8h1v1h-1zm2 2h1v1h-1z" fill="#c0c4ee"/>
<path d="M118 309h1v1h-1zm-69 3h1v1h-1zm-6 6h1v1h-1zm3 14h1v1h-1zm62 14h1v1h-1z" fill="#bcb4e2"/>
<path d="M115 305h1v1h-1zm-31 2h1v1h-1zm-12 6h1v1h-1zm-21 11h1v1h-1zm66 1h1v1h-1zm-74 19h1v1h-1zm10 6h1v1h-1z" fill="#c8cef2"/>
<path d="M95 304h1v1h-1zm11 0h1v1h-1zm-3 2h1v1h-1zm-3 8h1v1h-1zm-1 1h1v1h-1zm-7 4h1v1h-1zm-31 3h1v1h-1zm22 1h1v1h-1zm-10 2h1v1h-1zm19 1h1v1h-1zm-32 1h1v1h-1zm15 2h1v1h-1zm-18 2h1v1h-1zm14 1h1v1h-1zm3 0h1v1h-1zm28 0h1v1h-1zm-24 1h1v1h-1zm-20 1h1v1h-1zm28 0h1v1h-1zm2 2h1v1h-1zm2 0h1v1h-1zm-1 3h1v1h-1zm-47 1h1v1h-1zm10 0h1v1h-1zm-2 1h1v1h-1zm36 0h1v1h-1zm5 0h1v1h-1zm-35 3h1v1h-1zm9 1h1v1h-1z" fill="#6a7edc"/>
<path d="M81 306h1v1h-1zm7 0h1v1h-1zm-10 1h1v1h-1zm26 0h1v1h-1zm-37 3h1v1h-1zm37 0h1v1h-1zm-7 6h1v1h-1zm-9 4h1v1h-1zm-1 1h1v1h-1zm-5 1h1v1h-1zm1 0h1v1h-1zm-25 1h1v1h-1zm2 2h1v1h-1zm26 0h1v1h-1zm-8 9h1v1h-1zm12 1h1v1h-1zm-4 1h1v1h-1zm-34 2h1v1h-1zm35 0h1v1h-1zm5 0h1v1h-1zm0 2h1v1h-1zm-10 1h1v1h-1zm7 0h1v1h-1zm-31 2h1v1h-1z" fill="#7a8adc"/>
<path d="M84 306h1v1h-1zm16 10h1v1h-1zm-40 6h1v1h-1zm32 3h1v1h-1zm-22 5h1v1h-1zm3 0h1v1h-1zm15 2h1v1h-1zm5 0h1v1h-1zm-9 1h1v1h-1zm5 1h1v1h-1zm-37 2h1v1h-1zm3 2h1v1h-1zm1 1h1v1h-1zm32 1h1v1h-1zm-9 3h1v1h-1z" fill="#8a96e0"/>
<path d="M93 305h1v1h-1zm4 0h1v1h-1zm-16 3h1v1h-1zm1 0h1v1h-1zm-22 3h1v1h-1zm15 0h1v1h-1zm28 2h1v1h-1zm-7 4h1v1h-1zm8 2h1v1h-1zm-9 1h1v1h-1zm-38 2h1v1h-1zm22 0h1v1h-1zm-7 4h1v1h-1zm8 1h1v1h-1zm-8 1h1v1h-1zm-2 1h1v1h-1zm3 0h1v1h-1zm8 5h1v1h-1zm15 0h1v1h-1zm-15 1h1v1h-1zm3 0h1v1h-1zm3 0h1v1h-1zm8 0h1v1h-1zm-10 1h1v1h-1zm2 0h1v1h-1zm-3 1h1v1h-1zm9 0h1v1h-1zm-40 1h1v1h-1zm35 0h1v1h-1z" fill="#96a0e4"/>
<path d="M97 304h1v1h-1zm-15 2h1v1h-1zm4 1h1v1h-1zm-9 1h1v1h-1zm-6 1h1v1h-1zm-10 6h1v1h-1zm37 0h1v1h-1zm-11 5h1v1h-1zm-4 1h1v1h-1zm3 0h1v1h-1zm16 1h1v1h-1zm-11 1h1v1h-1zm-15 2h1v1h-1zm-5 3h1v1h-1zm18 2h1v1h-1zm-29 2h1v1h-1zm14 1h1v1h-1zm17 0h1v1h-1zm-35 2h1v1h-1zm34 2h1v1h-1zm-6 1h1v1h-1zm-28 2h1v1h-1zm28 0h1v1h-1zm7 0h1v1h-1zm-3 1h1v1h-1zm-6 3h1v1h-1z" fill="#7086e0"/>
<path d="M92 306h1v1h-1zm1 0h1v1h-1zm1 0h1v1h-1zm8 0h1v1h-1zm-15 1h1v1h-1zm-4 1h1v1h-1zm2 0h1v1h-1zm-4 1h1v1h-1zm-13 2h1v1h-1zm2 0h1v1h-1zm33 0h1v1h-1zm-31 1h1v1h-1zm1 0h1v1h-1zm-9 1h1v1h-1zm37 0h1v1h-1zm-38 1h1v1h-1zm32 1h1v1h-1zm1 0h1v1h-1zm-34 1h1v1h-1zm29 1h1v1h-1zm-6 2h1v1h-1zm1 0h1v1h-1zm1 0h1v1h-1zm1 0h1v1h-1zm-11 1h1v1h-1zm3 0h1v1h-1zm1 0h1v1h-1zm3 0h1v1h-1zm-23 1h1v1h-1zm19 0h1v1h-1zm1 0h1v1h-1zm-19 1h1v1h-1zm13 0h1v1h-1zm1 0h1v1h-1zm-14 1h1v1h-1zm12 0h1v1h-1zm-1 1h1v1h-1zm-11 1h1v1h-1zm1 0h1v1h-1zm9 0h1v1h-1zm-10 1h1v1h-1zm1 0h1v1h-1zm8 0h1v1h-1zm-1 1h1v1h-1zm-8 1h1v1h-1zm0 1h1v1h-1zm2 0h1v1h-1zm-1 1h1v1h-1zm0 1h1v1h-1zm5 0h1v1h-1zm2 0h1v1h-1zm-7 1h1v1h-1zm6 0h1v1h-1zm1 0h1v1h-1zm-9 1h1v1h-1zm10 0h1v1h-1zm1 0h1v1h-1zm-12 1h1v1h-1zm1 0h1v1h-1zm14 0h1v1h-1zm2 0h1v1h-1zm-40 1h1v1h-1zm23 0h1v1h-1zm18 0h1v1h-1zm2 0h1v1h-1zm-21 1h1v1h-1zm22 1h1v1h-1zm1 0h1v1h-1zm-25 1h1v1h-1zm25 0h1v1h-1zm1 0h1v1h-1zm0 1h1v1h-1zm-26 1h1v1h-1zm24 0h1v1h-1zm-23 1h1v1h-1zm23 0h1v1h-1zm-40 1h1v1h-1zm39 0h1v1h-1zm-2 1h1v1h-1zm-15 1h1v1h-1zm6 1h1v1h-1zm1 0h1v1h-1z" fill="#5068d4"/>
</g><g filter="url(#bl)">
<path d="M98 306h3v1h-3zm-8 1h3v1h-3zm4 0h9v1h-9zm-7 1h1v1h-1zm3 0h1v1h-1zm11 0h2v1h-2zm-19 1h5v1h-5zm19 0h3v1h-3zm-22 1h5v1h-5zm22 0h1v1h-1zm-23 1h3v1h-3zm23 0h2v1h-2zm-35 1h1v1h-1zm2 0h2v1h-2zm9 0h2v1h-2zm22 0h3v1h-3zm-33 1h4v1h-4zm5 0h1v1h-1zm2 0h1v1h-1zm2 0h4v1h-4zm21 0h2v1h-2zm3 0h1v1h-1zm-35 1h2v1h-2zm7 0h4v1h-4zm5 0h2v1h-2zm18 0h4v1h-4zm-31 1h1v1h-1zm10 0h5v1h-5zm18 0h2v1h-2zm3 0h1v1h-1zm-31 1h1v1h-1zm10 0h5v1h-5zm15 0h4v1h-4zm-26 1h2v1h-2zm12 0h3v1h-3zm4 0h1v1h-1zm7 0h3v1h-3zm-23 1h2v1h-2zm12 0h3v1h-3zm4 0h1v1h-1zm2 0h7v1h-7zm-18 1h2v1h-2zm13 0h2v1h-2zm3 0h2v1h-2zm4 0h1v1h-1zm2 0h1v1h-1zm-21 1h1v1h-1zm10 0h4v1h-4zm-11 1h1v1h-1zm11 0h2v1h-2zm-10 1h2v1h-2zm10 0h2v1h-2zm-10 1h2v1h-2zm8 0h3v1h-3zm-8 1h3v1h-3zm6 0h2v1h-2zm-2 1h1v1h-1zm3 0h2v1h-2zm-6 1h2v1h-2zm3 0h1v1h-1zm2 0h1v1h-1zm-5 1h1v1h-1zm2 0h1v1h-1zm2 0h1v1h-1zm-3 1h3v1h-3zm0 1h3v1h-3zm0 1h3v1h-3zm0 1h3v1h-3zm2 1h2v1h-2zm-4 1h1v1h-1zm2 0h2v1h-2zm3 0h3v1h-3zm-6 1h5v1h-5zm8 0h5v1h-5zm-32 1h1v1h-1zm23 0h3v1h-3zm14 0h3v1h-3zm-36 1h2v1h-2zm21 0h2v1h-2zm17 0h2v1h-2zm-37 1h1v1h-1zm19 0h2v1h-2zm20 0h1v1h-1zm-21 1h2v1h-2zm23 0h1v1h-1zm-23 1h2v1h-2zm22 0h2v1h-2zm-22 1h1v1h-1zm22 0h1v1h-1zm-21 1h2v1h-2zm20 0h2v1h-2zm-39 1h1v1h-1zm20 0h2v1h-2zm18 0h2v1h-2zm-39 1h2v1h-2zm23 0h2v1h-2zm13 0h3v1h-3zm-11 1h11v1h-11z" fill="#4a88da"/>
<path d="M91 308h10v1h-10zm-4 1h14v1h-14zm-3 1h8v1h-8zm10 0h7v1h-7zm-13 1h6v1h-6zm13 0h6v1h-6zm-15 1h5v1h-5zm14 0h6v1h-6zm-14 1h3v1h-3zm11 0h6v1h-6zm-24 1h5v1h-5zm12 0h4v1h-4zm9 0h7v1h-7zm-22 1h8v1h-8zm13 0h2v1h-2zm3 0h10v1h-10zm-17 1h3v1h-3zm6 0h3v1h-3zm8 0h10v1h-10zm-14 1h2v1h-2zm7 0h3v1h-3zm8 0h6v1h-6zm-15 1h2v1h-2zm7 0h3v1h-3zm-7 1h2v1h-2zm7 0h3v1h-3zm-7 1h2v1h-2zm6 0h3v1h-3zm-6 1h3v1h-3zm5 0h4v1h-4zm-4 1h7v1h-7zm0 1h6v1h-6zm2 1h2v1h-2zm0 10h3v1h-3zm-3 1h5v1h-5zm6 0h5v1h-5zm-33 1h2v1h-2zm25 0h2v1h-2zm13 0h2v1h-2zm-38 1h1v1h-1zm2 0h1v1h-1zm22 0h2v1h-2zm16 0h2v1h-2zm-37 1h1v1h-1zm20 0h2v1h-2zm18 0h1v1h-1zm-38 1h1v1h-1zm20 0h2v1h-2zm18 0h2v1h-2zm-38 1h1v1h-1zm20 0h2v1h-2zm18 0h1v1h-1zm-38 1h1v1h-1zm21 0h2v1h-2zm16 0h2v1h-2zm-40 1h1v1h-1zm2 0h1v1h-1zm23 0h2v1h-2zm13 0h3v1h-3zm-38 1h2v1h-2zm27 0h4v1h-4zm8 0h3v1h-3z" fill="#38a0dc"/>
<path d="M92 310h2v1h-2zm-5 1h7v1h-7zm-3 1h9v1h-9zm-2 1h8v1h-8zm0 1h5v1h-5zm-15 2h3v1h-3zm-1 1h5v1h-5zm0 1h5v1h-5zm0 1h5v1h-5zm0 1h4v1h-4zm1 1h2v1h-2zm2 14h1v1h-1zm-5 1h3v1h-3zm8 0h3v1h-3zm-34 1h1v1h-1zm25 0h2v1h-2zm12 0h2v1h-2zm-38 1h1v1h-1zm2 0h1v1h-1zm23 0h2v1h-2zm14 0h2v1h-2zm-37 1h1v1h-1zm23 0h1v1h-1zm14 0h2v1h-2zm-37 1h1v1h-1zm23 0h1v1h-1zm14 0h2v1h-2zm-39 1h1v1h-1zm2 0h1v1h-1zm24 0h1v1h-1zm12 0h2v1h-2zm-37 1h1v1h-1zm26 0h2v1h-2zm9 0h2v1h-2zm-5 1h4v1h-4z" fill="#40b8b0"/>
<path d="M67 336h5v1h-5zm-2 1h2v1h-2zm7 0h3v1h-3zm-34 1h1v1h-1zm26 0h2v1h-2zm10 0h2v1h-2zm-37 1h2v1h-2zm26 0h2v1h-2zm12 0h1v1h-1zm-38 1h2v1h-2zm26 0h2v1h-2zm11 0h2v1h-2zm-36 1h1v1h-1zm26 0h3v1h-3zm9 0h2v1h-2zm-7 1h7v1h-7z" fill="#50c050"/>
<path d="M67 337h5v1h-5zm-1 1h2v1h-2zm6 0h2v1h-2zm-7 1h2v1h-2zm8 0h2v1h-2zm-8 1h2v1h-2zm7 0h2v1h-2zm-5 1h6v1h-6z" fill="#c8e030"/>
<path d="M68 338h4v1h-4zm-1 1h2v1h-2zm4 0h2v1h-2zm-4 1h5v1h-5z" fill="#f0a020"/>
<path d="M69 339h2v1h-2z" fill="#e83018"/>
</g>
</g>
<rect x="37.3" y="282.7" width="81" height="72.9" fill="none" stroke="#8a8a8a" stroke-width="0.8"/>
<line x1="36.1" y1="282.7" x2="37.3" y2="282.7" stroke="#555" stroke-width="0.45"/>
<line x1="36.6" y1="285.13" x2="37.3" y2="285.13" stroke="#555" stroke-width="0.45"/>
<line x1="36.6" y1="287.56" x2="37.3" y2="287.56" stroke="#555" stroke-width="0.45"/>
<line x1="36.6" y1="289.99" x2="37.3" y2="289.99" stroke="#555" stroke-width="0.45"/>
<line x1="36.6" y1="292.42" x2="37.3" y2="292.42" stroke="#555" stroke-width="0.45"/>
<line x1="36.1" y1="294.85" x2="37.3" y2="294.85" stroke="#555" stroke-width="0.45"/>
<line x1="36.6" y1="297.28" x2="37.3" y2="297.28" stroke="#555" stroke-width="0.45"/>
<line x1="36.6" y1="299.71" x2="37.3" y2="299.71" stroke="#555" stroke-width="0.45"/>
<line x1="36.6" y1="302.14" x2="37.3" y2="302.14" stroke="#555" stroke-width="0.45"/>
<line x1="36.6" y1="304.57" x2="37.3" y2="304.57" stroke="#555" stroke-width="0.45"/>
<line x1="36.1" y1="307" x2="37.3" y2="307" stroke="#555" stroke-width="0.45"/>
<line x1="36.6" y1="309.43" x2="37.3" y2="309.43" stroke="#555" stroke-width="0.45"/>
<line x1="36.6" y1="311.86" x2="37.3" y2="311.86" stroke="#555" stroke-width="0.45"/>
<line x1="36.6" y1="314.29" x2="37.3" y2="314.29" stroke="#555" stroke-width="0.45"/>
<line x1="36.6" y1="316.72" x2="37.3" y2="316.72" stroke="#555" stroke-width="0.45"/>
<line x1="36.1" y1="319.15" x2="37.3" y2="319.15" stroke="#555" stroke-width="0.45"/>
<line x1="36.6" y1="321.58" x2="37.3" y2="321.58" stroke="#555" stroke-width="0.45"/>
<line x1="36.6" y1="324.01" x2="37.3" y2="324.01" stroke="#555" stroke-width="0.45"/>
<line x1="36.6" y1="326.44" x2="37.3" y2="326.44" stroke="#555" stroke-width="0.45"/>
<line x1="36.6" y1="328.87" x2="37.3" y2="328.87" stroke="#555" stroke-width="0.45"/>
<line x1="36.1" y1="331.3" x2="37.3" y2="331.3" stroke="#555" stroke-width="0.45"/>
<line x1="36.6" y1="333.73" x2="37.3" y2="333.73" stroke="#555" stroke-width="0.45"/>
<line x1="36.6" y1="336.16" x2="37.3" y2="336.16" stroke="#555" stroke-width="0.45"/>
<line x1="36.6" y1="338.59" x2="37.3" y2="338.59" stroke="#555" stroke-width="0.45"/>
<line x1="36.6" y1="341.02" x2="37.3" y2="341.02" stroke="#555" stroke-width="0.45"/>
<line x1="36.1" y1="343.45" x2="37.3" y2="343.45" stroke="#555" stroke-width="0.45"/>
<line x1="36.6" y1="345.88" x2="37.3" y2="345.88" stroke="#555" stroke-width="0.45"/>
<line x1="36.6" y1="348.31" x2="37.3" y2="348.31" stroke="#555" stroke-width="0.45"/>
<line x1="36.6" y1="350.74" x2="37.3" y2="350.74" stroke="#555" stroke-width="0.45"/>
<line x1="36.6" y1="353.17" x2="37.3" y2="353.17" stroke="#555" stroke-width="0.45"/>
<line x1="36.1" y1="355.6" x2="37.3" y2="355.6" stroke="#555" stroke-width="0.45"/>
<line x1="37.3" y1="355.6" x2="37.3" y2="357" stroke="#555" stroke-width="0.45"/>
<line x1="40" y1="355.6" x2="40" y2="356.4" stroke="#555" stroke-width="0.45"/>
<line x1="42.7" y1="355.6" x2="42.7" y2="356.4" stroke="#555" stroke-width="0.45"/>
<line x1="45.4" y1="355.6" x2="45.4" y2="356.4" stroke="#555" stroke-width="0.45"/>
<line x1="48.1" y1="355.6" x2="48.1" y2="356.4" stroke="#555" stroke-width="0.45"/>
<line x1="50.8" y1="355.6" x2="50.8" y2="357" stroke="#555" stroke-width="0.45"/>
<line x1="53.5" y1="355.6" x2="53.5" y2="356.4" stroke="#555" stroke-width="0.45"/>
<line x1="56.2" y1="355.6" x2="56.2" y2="356.4" stroke="#555" stroke-width="0.45"/>
<line x1="58.9" y1="355.6" x2="58.9" y2="356.4" stroke="#555" stroke-width="0.45"/>
<line x1="61.6" y1="355.6" x2="61.6" y2="356.4" stroke="#555" stroke-width="0.45"/>
<line x1="64.3" y1="355.6" x2="64.3" y2="357" stroke="#555" stroke-width="0.45"/>
<line x1="67" y1="355.6" x2="67" y2="356.4" stroke="#555" stroke-width="0.45"/>
<line x1="69.7" y1="355.6" x2="69.7" y2="356.4" stroke="#555" stroke-width="0.45"/>
<line x1="72.4" y1="355.6" x2="72.4" y2="356.4" stroke="#555" stroke-width="0.45"/>
<line x1="75.1" y1="355.6" x2="75.1" y2="356.4" stroke="#555" stroke-width="0.45"/>
<line x1="77.8" y1="355.6" x2="77.8" y2="357" stroke="#555" stroke-width="0.45"/>
<line x1="80.5" y1="355.6" x2="80.5" y2="356.4" stroke="#555" stroke-width="0.45"/>
<line x1="83.2" y1="355.6" x2="83.2" y2="356.4" stroke="#555" stroke-width="0.45"/>
<line x1="85.9" y1="355.6" x2="85.9" y2="356.4" stroke="#555" stroke-width="0.45"/>
<line x1="88.6" y1="355.6" x2="88.6" y2="356.4" stroke="#555" stroke-width="0.45"/>
<line x1="91.3" y1="355.6" x2="91.3" y2="357" stroke="#555" stroke-width="0.45"/>
<line x1="94" y1="355.6" x2="94" y2="356.4" stroke="#555" stroke-width="0.45"/>
<line x1="96.7" y1="355.6" x2="96.7" y2="356.4" stroke="#555" stroke-width="0.45"/>
<line x1="99.4" y1="355.6" x2="99.4" y2="356.4" stroke="#555" stroke-width="0.45"/>
<line x1="102.1" y1="355.6" x2="102.1" y2="356.4" stroke="#555" stroke-width="0.45"/>
<line x1="104.8" y1="355.6" x2="104.8" y2="357" stroke="#555" stroke-width="0.45"/>
<line x1="107.5" y1="355.6" x2="107.5" y2="356.4" stroke="#555" stroke-width="0.45"/>
<line x1="110.2" y1="355.6" x2="110.2" y2="356.4" stroke="#555" stroke-width="0.45"/>
<line x1="112.9" y1="355.6" x2="112.9" y2="356.4" stroke="#555" stroke-width="0.45"/>
<line x1="115.6" y1="355.6" x2="115.6" y2="356.4" stroke="#555" stroke-width="0.45"/>
<line x1="118.3" y1="355.6" x2="118.3" y2="357" stroke="#555" stroke-width="0.45"/>
<rect x="55" y="302.5" width="52.6" height="24.7" fill="none" stroke="#9a4c8e" stroke-width="0.75"/>
<rect x="53" y="327.9" width="28.2" height="19.8" fill="none" stroke="#9a4c8e" stroke-width="0.75"/>
<rect x="81.2" y="327.9" width="27.5" height="21.5" fill="none" stroke="#9a4c8e" stroke-width="0.75"/>
<rect x="37.3" y="323.5" width="14.9" height="32.5" fill="none" stroke="#9a4c8e" stroke-width="0.75"/>
<text x="62.7" y="306.2" font-size="4.3" font-weight="bold" text-anchor="start" fill="#962a84">25</text>
<text x="69.1" y="351.8" font-size="4.3" font-weight="bold" text-anchor="start" fill="#962a84">53.7</text>
<text x="100.6" y="351.8" font-size="4.3" font-weight="bold" text-anchor="start" fill="#962a84">4.11</text>
<text x="39.6" y="353.5" font-size="4.3" font-weight="bold" text-anchor="start" fill="#962a84">15.1</text>
<text x="85.1" y="291.6" font-size="9" font-weight="normal" text-anchor="middle" fill="#000" textLength="44.9" lengthAdjust="spacingAndGlyphs">DAC 10 nM</text>
<text x="35" y="289.5" font-size="4.1" font-weight="bold" text-anchor="end">10<tspan font-size="2.87" dy="-1.64">5</tspan></text>
<text x="35" y="304.5" font-size="4.1" font-weight="bold" text-anchor="end">10<tspan font-size="2.87" dy="-1.64">4</tspan></text>
<text x="35" y="319.8" font-size="4.1" font-weight="bold" text-anchor="end">10<tspan font-size="2.87" dy="-1.64">3</tspan></text>
<text x="35" y="334.7" font-size="4.1" font-weight="bold" text-anchor="end">10<tspan font-size="2.87" dy="-1.64">2</tspan></text>
<text x="33.8" y="342.2" font-size="4.2" font-weight="bold" text-anchor="end" fill="#000">0</text>
<text x="24.5" y="321.4" font-size="6.6" font-weight="bold" text-anchor="middle" fill="#000" transform="rotate(-90 24.5 321.4)">EdU</text>
<text x="37.4" y="363" font-size="4.2" font-weight="bold" text-anchor="middle" fill="#000">0</text>
<text x="54.2" y="363" font-size="4.2" font-weight="bold" text-anchor="middle" fill="#000">50K</text>
<text x="67" y="363" font-size="4.2" font-weight="bold" text-anchor="middle" fill="#000">100K</text>
<text x="85.4" y="363" font-size="4.2" font-weight="bold" text-anchor="middle" fill="#000">150K</text>
<text x="99.7" y="363" font-size="4.2" font-weight="bold" text-anchor="middle" fill="#000">200K</text>
<text x="115.4" y="363" font-size="4.2" font-weight="bold" text-anchor="middle" fill="#000">250K</text>
<text x="77.3" y="367.9" font-size="4.9" font-weight="bold" text-anchor="middle" fill="#000">FxCycle DNA Stain</text>
<clipPath id="c4"><rect x="144.4" y="282.7" width="80.3" height="77.7"/></clipPath>
<g clip-path="url(#c4)">
<g filter="url(#bs)">
<path d="M168 307h1v1h-1zm54 9h1v1h-1zm1 14h1v1h-1zm-18 11h1v1h-1z" fill="#b4bcea"/>
<path d="M189 301h1v1h-1zm-18 6h1v1h-1zm0 7h1v1h-1zm50 10h1v1h-1zm1 3h1v1h-1zm-70 9h1v1h-1zm40 17h1v1h-1zm-10 3h1v1h-1z" fill="#c0c4ee"/>
<path d="M216 302h1v1h-1zm3 4h1v1h-1zm-69 7h1v1h-1zm16 9h1v1h-1zm45 1h1v1h-1zm4 1h1v1h-1zm-31 2h1v1h-1zm-2 7h1v1h-1zm-13 19h1v1h-1z" fill="#bcb4e2"/>
<path d="M203 307h1v1h-1zm17 1h1v1h-1zm-9 5h1v1h-1zm-57 10h1v1h-1zm-9 15h1v1h-1zm70 1h1v1h-1zm-3 4h1v1h-1zm-8 4h1v1h-1zm-41 7h1v1h-1z" fill="#c8cef2"/>
<path d="M166 310h1v1h-1zm29 0h1v1h-1zm-25 5h1v1h-1zm1 0h1v1h-1zm-6 6h1v1h-1zm31 2h1v1h-1zm12 0h1v1h-1zm-15 2h1v1h-1zm4 0h1v1h-1zm-3 1h1v1h-1zm-15 1h1v1h-1zm-14 1h1v1h-1zm30 0h1v1h-1zm-30 2h1v1h-1zm40 0h1v1h-1zm-27 1h1v1h-1zm1 0h1v1h-1zm11 2h1v1h-1zm2 0h1v1h-1zm-1 1h1v1h-1zm6 0h1v1h-1zm-8 1h1v1h-1zm6 0h1v1h-1zm-16 1h1v1h-1zm4 0h1v1h-1zm19 2h1v1h-1zm11 0h1v1h-1zm-51 1h1v1h-1zm-2 5h1v1h-1zm32 2h1v1h-1zm-3 1h1v1h-1z" fill="#6a7edc"/>
<path d="M176 314h1v1h-1zm-8 1h1v1h-1zm-4 2h1v1h-1zm41 3h1v1h-1zm-2 1h1v1h-1zm8 0h1v1h-1zm-12 1h1v1h-1zm-1 5h1v1h-1zm5 0h1v1h-1zm-17 2h1v1h-1zm27 1h1v1h-1zm-16 1h1v1h-1zm2 1h1v1h-1zm6 0h1v1h-1zm-26 1h1v1h-1zm19 0h1v1h-1zm13 3h1v1h-1zm-47 1h1v1h-1zm22 0h1v1h-1zm33 0h1v1h-1zm-75 1h1v1h-1zm65 0h1v1h-1zm-48 1h1v1h-1zm51 0h1v1h-1zm-5 1h1v1h-1zm-6 1h1v1h-1zm-2 1h1v1h-1zm-50 5h1v1h-1zm14 0h1v1h-1zm2 1h1v1h-1zm16 1h1v1h-1z" fill="#7a8adc"/>
<path d="M204 309h1v1h-1zm-19 2h1v1h-1zm26 1h1v1h-1zm-1 1h1v1h-1zm0 3h1v1h-1zm-8 5h1v1h-1zm3 0h1v1h-1zm2 0h1v1h-1zm-44 3h1v1h-1zm30 0h1v1h-1zm-16 4h1v1h-1zm2 0h1v1h-1zm1 1h1v1h-1zm12 0h1v1h-1zm-29 1h1v1h-1zm39 2h1v1h-1zm-9 2h1v1h-1zm3 0h1v1h-1zm-32 2h1v1h-1zm35 0h1v1h-1zm-37 1h1v1h-1zm27 0h1v1h-1zm23 0h1v1h-1zm-10 2h1v1h-1zm-41 1h1v1h-1zm36 0h1v1h-1zm-37 1h1v1h-1zm0 2h1v1h-1zm-10 1h1v1h-1zm46 0h1v1h-1zm-2 1h1v1h-1zm-5 1h1v1h-1zm-4 2h1v1h-1zm-20 1h1v1h-1zm3 0h1v1h-1z" fill="#8a96e0"/>
<path d="M191 305h1v1h-1zm-7 4h1v1h-1zm12 1h1v1h-1zm-11 2h1v1h-1zm-26 12h1v1h-1zm6 0h1v1h-1zm37 1h1v1h-1zm-9 1h1v1h-1zm-2 1h1v1h-1zm18 0h1v1h-1zm-12 1h1v1h-1zm7 2h1v1h-1zm-40 1h1v1h-1zm-5 1h1v1h-1zm15 0h1v1h-1zm4 0h1v1h-1zm17 1h1v1h-1zm8 0h1v1h-1zm3 1h1v1h-1zm10 0h1v1h-1zm-16 1h1v1h-1zm0 1h1v1h-1zm-6 1h1v1h-1zm12 0h1v1h-1zm-44 1h1v1h-1zm37 0h1v1h-1zm7 0h1v1h-1zm3 1h1v1h-1zm-7 1h1v1h-1zm-43 2h1v1h-1zm46 1h1v1h-1z" fill="#96a0e4"/>
<path d="M191 311h1v1h-1zm18 5h1v1h-1zm-45 6h1v1h-1zm24 3h1v1h-1zm-1 1h1v1h-1zm-2 2h1v1h-1zm-7 2h1v1h-1zm-13 1h1v1h-1zm30 0h1v1h-1zm-29 1h1v1h-1zm9 1h1v1h-1zm18 0h1v1h-1zm-29 1h1v1h-1zm0 1h1v1h-1zm11 0h1v1h-1zm35 0h1v1h-1zm-5 1h1v1h-1zm-9 1h1v1h-1zm7 0h1v1h-1zm1 0h1v1h-1zm-58 1h1v1h-1zm57 0h1v1h-1zm2 1h1v1h-1zm-9 2h1v1h-1zm14 0h1v1h-1zm-14 1h1v1h-1zm3 2h1v1h-1zm-38 2h1v1h-1z" fill="#7086e0"/>
<path d="M199 310h1v1h-1zm4 0h1v1h-1zm2 0h1v1h-1zm-11 1h1v1h-1zm1 0h1v1h-1zm-8 1h1v1h-1zm2 0h1v1h-1zm1 0h1v1h-1zm18 0h1v1h-1zm-24 1h1v1h-1zm1 0h1v1h-1zm-2 1h1v1h-1zm26 0h1v1h-1zm-36 1h1v1h-1zm3 0h1v1h-1zm5 0h1v1h-1zm-11 1h1v1h-1zm1 0h1v1h-1zm7 0h1v1h-1zm1 0h1v1h-1zm29 0h1v1h-1zm-40 1h1v1h-1zm40 0h1v1h-1zm-40 1h1v1h-1zm39 0h1v1h-1zm-40 1h1v1h-1zm-1 1h1v1h-1zm36 0h1v1h-1zm1 0h1v1h-1zm-6 2h1v1h-1zm1 0h1v1h-1zm-32 1h1v1h-1zm26 0h1v1h-1zm1 0h1v1h-1zm1 0h1v1h-1zm-11 1h1v1h-1zm2 0h1v1h-1zm2 0h1v1h-1zm1 0h1v1h-1zm1 0h1v1h-1zm2 0h1v1h-1zm-24 1h1v1h-1zm15 0h1v1h-1zm3 0h1v1h-1zm1 0h1v1h-1zm-20 1h1v1h-1zm14 0h1v1h-1zm-13 1h1v1h-1zm0 1h1v1h-1zm1 0h1v1h-1zm6 0h1v1h-1zm2 0h1v1h-1zm-9 1h1v1h-1zm1 0h1v1h-1zm1 0h1v1h-1zm-2 1h1v1h-1zm2 0h1v1h-1zm5 0h1v1h-1zm-5 1h1v1h-1zm3 0h1v1h-1zm-3 1h1v1h-1zm1 0h1v1h-1zm2 0h1v1h-1zm1 0h1v1h-1zm-5 1h1v1h-1zm2 0h1v1h-1zm1 0h1v1h-1zm2 0h1v1h-1zm-6 1h1v1h-1zm1 0h1v1h-1zm1 0h1v1h-1zm1 0h1v1h-1zm1 0h1v1h-1zm2 0h1v1h-1zm1 0h1v1h-1zm-8 1h1v1h-1zm2 0h1v1h-1zm2 0h1v1h-1zm1 0h1v1h-1zm2 0h1v1h-1zm-6 1h1v1h-1zm1 0h1v1h-1zm2 0h1v1h-1zm2 0h1v1h-1zm1 0h1v1h-1zm1 0h1v1h-1zm1 0h1v1h-1zm1 0h1v1h-1zm3 1h1v1h-1zm1 0h1v1h-1zm1 0h1v1h-1zm-17 1h1v1h-1zm1 0h1v1h-1zm18 0h1v1h-1zm1 0h1v1h-1zm1 0h1v1h-1zm4 0h1v1h-1zm3 0h1v1h-1zm1 0h1v1h-1zm4 0h1v1h-1zm-51 1h1v1h-1zm18 0h1v1h-1zm23 0h1v1h-1zm4 0h1v1h-1zm1 0h1v1h-1zm3 0h1v1h-1zm2 0h1v1h-1zm-9 1h1v1h-1zm3 0h1v1h-1zm1 0h1v1h-1zm1 0h1v1h-1zm2 0h1v1h-1zm-33 1h1v1h-1zm-13 2h1v1h-1zm12 0h1v1h-1zm28 0h1v1h-1zm-27 2h1v1h-1zm27 0h1v1h-1zm-27 1h1v1h-1zm25 0h1v1h-1zm-23 1h1v1h-1zm21 0h1v1h-1zm1 0h1v1h-1zm-3 1h1v1h-1zm1 0h1v1h-1zm-14 1h1v1h-1zm1 0h1v1h-1zm8 0h1v1h-1zm1 0h1v1h-1z" fill="#5068d4"/>
</g><g filter="url(#bl)">
<path d="M196 311h2v1h-2zm3 0h4v1h-4zm5 0h1v1h-1zm2 0h1v1h-1zm-15 1h2v1h-2zm3 0h4v1h-4zm11 0h1v1h-1zm-18 1h3v1h-3zm4 0h2v1h-2zm15 0h3v1h-3zm-22 1h5v1h-5zm23 0h2v1h-2zm-25 1h4v1h-4zm25 0h2v1h-2zm-35 1h2v1h-2zm3 0h1v1h-1zm2 0h1v1h-1zm3 0h4v1h-4zm26 0h2v1h-2zm-36 1h7v1h-7zm11 0h2v1h-2zm23 0h2v1h-2zm-35 1h4v1h-4zm6 0h6v1h-6zm27 0h4v1h-4zm-34 1h3v1h-3zm10 0h5v1h-5zm22 0h4v1h-4zm-32 1h2v1h-2zm10 0h5v1h-5zm18 0h5v1h-5zm-28 1h2v1h-2zm10 0h2v1h-2zm3 0h4v1h-4zm11 0h5v1h-5zm6 0h1v1h-1zm-31 1h3v1h-3zm11 0h3v1h-3zm4 0h10v1h-10zm11 0h3v1h-3zm-26 1h1v1h-1zm2 0h1v1h-1zm8 0h5v1h-5zm6 0h3v1h-3zm4 0h5v1h-5zm-20 1h1v1h-1zm2 0h2v1h-2zm7 0h2v1h-2zm3 0h1v1h-1zm-11 1h9v1h-9zm10 0h1v1h-1zm-9 1h9v1h-9zm0 1h1v1h-1zm3 0h4v1h-4zm-2 1h1v1h-1zm2 0h1v1h-1zm-1 8h1v1h-1zm-3 1h1v1h-1zm2 0h1v1h-1zm2 0h3v1h-3zm4 0h2v1h-2zm-10 1h5v1h-5zm6 0h1v1h-1zm3 0h7v1h-7zm-30 1h1v1h-1zm20 0h1v1h-1zm2 0h1v1h-1zm15 0h3v1h-3zm-35 1h1v1h-1zm16 0h1v1h-1zm2 0h1v1h-1zm20 0h2v1h-2zm-37 1h1v1h-1zm15 0h2v1h-2zm23 0h2v1h-2zm-38 1h1v1h-1zm14 0h2v1h-2zm25 0h2v1h-2zm-25 1h2v1h-2zm25 0h2v1h-2zm-25 1h1v1h-1zm25 0h2v1h-2zm-24 1h2v1h-2zm23 0h1v1h-1zm-22 1h2v1h-2zm21 0h2v1h-2zm-37 1h1v1h-1zm17 0h1v1h-1zm2 0h1v1h-1zm16 0h2v1h-2zm-36 1h1v1h-1zm20 0h4v1h-4zm12 0h4v1h-4zm-35 1h3v1h-3zm29 0h3v1h-3zm4 0h1v1h-1z" fill="#4a88da"/>
<path d="M198 312h7v1h-7zm-5 1h13v1h-13zm-4 1h18v1h-18zm-3 1h7v1h-7zm16 0h5v1h-5zm-18 1h6v1h-6zm17 0h5v1h-5zm-17 1h4v1h-4zm15 0h5v1h-5zm-26 1h2v1h-2zm10 0h4v1h-4zm12 0h7v1h-7zm-24 1h6v1h-6zm12 0h6v1h-6zm7 0h10v1h-10zm-20 1h8v1h-8zm13 0h13v1h-13zm-13 1h8v1h-8zm15 0h7v1h-7zm-15 1h8v1h-8zm0 1h6v1h-6zm1 1h5v1h-5zm3 14h1v1h-1zm-6 1h14v1h-14zm-24 1h3v1h-3zm22 0h3v1h-3zm15 0h3v1h-3zm-34 1h1v1h-1zm18 0h2v1h-2zm18 0h3v1h-3zm-19 1h2v1h-2zm20 0h3v1h-3zm-36 1h1v1h-1zm16 0h2v1h-2zm21 0h2v1h-2zm-37 1h1v1h-1zm16 0h2v1h-2zm20 0h2v1h-2zm-36 1h1v1h-1zm17 0h2v1h-2zm19 0h2v1h-2zm-36 1h1v1h-1zm18 0h2v1h-2zm16 0h3v1h-3zm-35 1h1v1h-1zm21 0h3v1h-3zm12 0h3v1h-3zm-36 1h3v1h-3zm27 0h8v1h-8z" fill="#38a0dc"/>
<path d="M193 315h9v1h-9zm-3 1h11v1h-11zm-2 1h11v1h-11zm-1 1h8v1h-8zm2 1h1v1h-1zm-20 21h5v1h-5zm8 0h4v1h-4zm-33 1h3v1h-3zm23 0h3v1h-3zm14 0h2v1h-2zm-34 1h1v1h-1zm19 0h2v1h-2zm16 0h2v1h-2zm-16 1h2v1h-2zm17 0h2v1h-2zm-17 1h2v1h-2zm17 0h1v1h-1zm-16 1h2v1h-2zm15 0h2v1h-2zm-35 1h1v1h-1zm21 0h2v1h-2zm12 0h2v1h-2zm-36 1h1v1h-1zm2 0h1v1h-1zm25 0h9v1h-9z" fill="#40b8b0"/>
<path d="M174 340h3v1h-3zm-4 1h11v1h-11zm-26 1h3v1h-3zm24 0h3v1h-3zm11 0h3v1h-3zm-32 1h1v1h-1zm21 0h2v1h-2zm12 0h3v1h-3zm-33 1h1v1h-1zm21 0h2v1h-2zm12 0h3v1h-3zm-33 1h1v1h-1zm22 0h2v1h-2zm10 0h3v1h-3zm-35 1h1v1h-1zm2 0h1v1h-1zm24 0h10v1h-10zm-25 1h1v1h-1z" fill="#50c050"/>
<path d="M171 342h8v1h-8zm-27 1h3v1h-3zm26 0h3v1h-3zm8 0h2v1h-2zm-34 1h1v1h-1zm2 0h1v1h-1zm24 0h3v1h-3zm7 0h3v1h-3zm-33 1h3v1h-3zm27 0h8v1h-8zm-26 1h1v1h-1z" fill="#c8e030"/>
<path d="M173 343h5v1h-5zm-28 1h1v1h-1zm28 0h4v1h-4z" fill="#f0a020"/>
</g>
</g>
<rect x="144.4" y="282.7" width="80.3" height="77.7" fill="none" stroke="#8a8a8a" stroke-width="0.8"/>
<line x1="143.2" y1="282.7" x2="144.4" y2="282.7" stroke="#555" stroke-width="0.45"/>
<line x1="143.7" y1="285.29" x2="144.4" y2="285.29" stroke="#555" stroke-width="0.45"/>
<line x1="143.7" y1="287.88" x2="144.4" y2="287.88" stroke="#555" stroke-width="0.45"/>
<line x1="143.7" y1="290.47" x2="144.4" y2="290.47" stroke="#555" stroke-width="0.45"/>
<line x1="143.7" y1="293.06" x2="144.4" y2="293.06" stroke="#555" stroke-width="0.45"/>
<line x1="143.2" y1="295.65" x2="144.4" y2="295.65" stroke="#555" stroke-width="0.45"/>
<line x1="143.7" y1="298.24" x2="144.4" y2="298.24" stroke="#555" stroke-width="0.45"/>
<line x1="143.7" y1="300.83" x2="144.4" y2="300.83" stroke="#555" stroke-width="0.45"/>
<line x1="143.7" y1="303.42" x2="144.4" y2="303.42" stroke="#555" stroke-width="0.45"/>
<line x1="143.7" y1="306.01" x2="144.4" y2="306.01" stroke="#555" stroke-width="0.45"/>
<line x1="143.2" y1="308.6" x2="144.4" y2="308.6" stroke="#555" stroke-width="0.45"/>
<line x1="143.7" y1="311.19" x2="144.4" y2="311.19" stroke="#555" stroke-width="0.45"/>
<line x1="143.7" y1="313.78" x2="144.4" y2="313.78" stroke="#555" stroke-width="0.45"/>
<line x1="143.7" y1="316.37" x2="144.4" y2="316.37" stroke="#555" stroke-width="0.45"/>
<line x1="143.7" y1="318.96" x2="144.4" y2="318.96" stroke="#555" stroke-width="0.45"/>
<line x1="143.2" y1="321.55" x2="144.4" y2="321.55" stroke="#555" stroke-width="0.45"/>
<line x1="143.7" y1="324.14" x2="144.4" y2="324.14" stroke="#555" stroke-width="0.45"/>
<line x1="143.7" y1="326.73" x2="144.4" y2="326.73" stroke="#555" stroke-width="0.45"/>
<line x1="143.7" y1="329.32" x2="144.4" y2="329.32" stroke="#555" stroke-width="0.45"/>
<line x1="143.7" y1="331.91" x2="144.4" y2="331.91" stroke="#555" stroke-width="0.45"/>
<line x1="143.2" y1="334.5" x2="144.4" y2="334.5" stroke="#555" stroke-width="0.45"/>
<line x1="143.7" y1="337.09" x2="144.4" y2="337.09" stroke="#555" stroke-width="0.45"/>
<line x1="143.7" y1="339.68" x2="144.4" y2="339.68" stroke="#555" stroke-width="0.45"/>
<line x1="143.7" y1="342.27" x2="144.4" y2="342.27" stroke="#555" stroke-width="0.45"/>
<line x1="143.7" y1="344.86" x2="144.4" y2="344.86" stroke="#555" stroke-width="0.45"/>
<line x1="143.2" y1="347.45" x2="144.4" y2="347.45" stroke="#555" stroke-width="0.45"/>
<line x1="143.7" y1="350.04" x2="144.4" y2="350.04" stroke="#555" stroke-width="0.45"/>
<line x1="143.7" y1="352.63" x2="144.4" y2="352.63" stroke="#555" stroke-width="0.45"/>
<line x1="143.7" y1="355.22" x2="144.4" y2="355.22" stroke="#555" stroke-width="0.45"/>
<line x1="143.7" y1="357.81" x2="144.4" y2="357.81" stroke="#555" stroke-width="0.45"/>
<line x1="143.2" y1="360.4" x2="144.4" y2="360.4" stroke="#555" stroke-width="0.45"/>
<line x1="144.4" y1="360.4" x2="144.4" y2="361.8" stroke="#555" stroke-width="0.45"/>
<line x1="147.08" y1="360.4" x2="147.08" y2="361.2" stroke="#555" stroke-width="0.45"/>
<line x1="149.75" y1="360.4" x2="149.75" y2="361.2" stroke="#555" stroke-width="0.45"/>
<line x1="152.43" y1="360.4" x2="152.43" y2="361.2" stroke="#555" stroke-width="0.45"/>
<line x1="155.11" y1="360.4" x2="155.11" y2="361.2" stroke="#555" stroke-width="0.45"/>
<line x1="157.78" y1="360.4" x2="157.78" y2="361.8" stroke="#555" stroke-width="0.45"/>
<line x1="160.46" y1="360.4" x2="160.46" y2="361.2" stroke="#555" stroke-width="0.45"/>
<line x1="163.14" y1="360.4" x2="163.14" y2="361.2" stroke="#555" stroke-width="0.45"/>
<line x1="165.81" y1="360.4" x2="165.81" y2="361.2" stroke="#555" stroke-width="0.45"/>
<line x1="168.49" y1="360.4" x2="168.49" y2="361.2" stroke="#555" stroke-width="0.45"/>
<line x1="171.17" y1="360.4" x2="171.17" y2="361.8" stroke="#555" stroke-width="0.45"/>
<line x1="173.84" y1="360.4" x2="173.84" y2="361.2" stroke="#555" stroke-width="0.45"/>
<line x1="176.52" y1="360.4" x2="176.52" y2="361.2" stroke="#555" stroke-width="0.45"/>
<line x1="179.2" y1="360.4" x2="179.2" y2="361.2" stroke="#555" stroke-width="0.45"/>
<line x1="181.87" y1="360.4" x2="181.87" y2="361.2" stroke="#555" stroke-width="0.45"/>
<line x1="184.55" y1="360.4" x2="184.55" y2="361.8" stroke="#555" stroke-width="0.45"/>
<line x1="187.23" y1="360.4" x2="187.23" y2="361.2" stroke="#555" stroke-width="0.45"/>
<line x1="189.9" y1="360.4" x2="189.9" y2="361.2" stroke="#555" stroke-width="0.45"/>
<line x1="192.58" y1="360.4" x2="192.58" y2="361.2" stroke="#555" stroke-width="0.45"/>
<line x1="195.26" y1="360.4" x2="195.26" y2="361.2" stroke="#555" stroke-width="0.45"/>
<line x1="197.93" y1="360.4" x2="197.93" y2="361.8" stroke="#555" stroke-width="0.45"/>
<line x1="200.61" y1="360.4" x2="200.61" y2="361.2" stroke="#555" stroke-width="0.45"/>
<line x1="203.29" y1="360.4" x2="203.29" y2="361.2" stroke="#555" stroke-width="0.45"/>
<line x1="205.96" y1="360.4" x2="205.96" y2="361.2" stroke="#555" stroke-width="0.45"/>
<line x1="208.64" y1="360.4" x2="208.64" y2="361.2" stroke="#555" stroke-width="0.45"/>
<line x1="211.32" y1="360.4" x2="211.32" y2="361.8" stroke="#555" stroke-width="0.45"/>
<line x1="213.99" y1="360.4" x2="213.99" y2="361.2" stroke="#555" stroke-width="0.45"/>
<line x1="216.67" y1="360.4" x2="216.67" y2="361.2" stroke="#555" stroke-width="0.45"/>
<line x1="219.35" y1="360.4" x2="219.35" y2="361.2" stroke="#555" stroke-width="0.45"/>
<line x1="222.02" y1="360.4" x2="222.02" y2="361.2" stroke="#555" stroke-width="0.45"/>
<line x1="224.7" y1="360.4" x2="224.7" y2="361.8" stroke="#555" stroke-width="0.45"/>
<rect x="161" y="303.8" width="52.7" height="25.4" fill="none" stroke="#9a4c8e" stroke-width="0.75"/>
<rect x="159" y="329.2" width="28.7" height="21.6" fill="none" stroke="#9a4c8e" stroke-width="0.75"/>
<rect x="187.7" y="329.2" width="26.3" height="22.5" fill="none" stroke="#9a4c8e" stroke-width="0.75"/>
<rect x="144.4" y="325.5" width="14.2" height="33.9" fill="none" stroke="#9a4c8e" stroke-width="0.75"/>
<text x="165" y="307.6" font-size="4.3" font-weight="bold" text-anchor="start" fill="#962a84">21.9</text>
<text x="173.5" y="355.6" font-size="4.3" font-weight="bold" text-anchor="start" fill="#962a84">59.5</text>
<text x="206.5" y="355.3" font-size="4.3" font-weight="bold" text-anchor="start" fill="#962a84">5.21</text>
<text x="146" y="358" font-size="4.3" font-weight="bold" text-anchor="start" fill="#962a84">15.1</text>
<text x="188.9" y="291.6" font-size="9" font-weight="normal" text-anchor="middle" fill="#000" textLength="49.4" lengthAdjust="spacingAndGlyphs">DAC 100 nM</text>
<text x="142.1" y="290.5" font-size="4.1" font-weight="bold" text-anchor="end">10<tspan font-size="2.87" dy="-1.64">5</tspan></text>
<text x="142.1" y="304.9" font-size="4.1" font-weight="bold" text-anchor="end">10<tspan font-size="2.87" dy="-1.64">4</tspan></text>
<text x="142.1" y="321.2" font-size="4.1" font-weight="bold" text-anchor="end">10<tspan font-size="2.87" dy="-1.64">3</tspan></text>
<text x="142.1" y="338.8" font-size="4.1" font-weight="bold" text-anchor="end">10<tspan font-size="2.87" dy="-1.64">2</tspan></text>
<text x="140.9" y="346.1" font-size="4.2" font-weight="bold" text-anchor="end" fill="#000">0</text>
<text x="131.6" y="315.5" font-size="6.6" font-weight="bold" text-anchor="middle" fill="#000" transform="rotate(-90 131.6 315.5)">EdU</text>
<text x="144.5" y="367.8" font-size="4.2" font-weight="bold" text-anchor="middle" fill="#000">0</text>
<text x="161.3" y="367.8" font-size="4.2" font-weight="bold" text-anchor="middle" fill="#000">50K</text>
<text x="174.1" y="367.8" font-size="4.2" font-weight="bold" text-anchor="middle" fill="#000">100K</text>
<text x="192.5" y="367.8" font-size="4.2" font-weight="bold" text-anchor="middle" fill="#000">150K</text>
<text x="206.8" y="367.8" font-size="4.2" font-weight="bold" text-anchor="middle" fill="#000">200K</text>
<text x="222.5" y="367.8" font-size="4.2" font-weight="bold" text-anchor="middle" fill="#000">250K</text>
<text x="184.4" y="372.7" font-size="4.9" font-weight="bold" text-anchor="middle" fill="#000">FxCycle DNA Stain</text>
<text x="21.7" y="395.3" font-size="11.5" font-weight="bold" text-anchor="start" fill="#000">F</text>
<clipPath id="c5"><rect x="46.5" y="403.7" width="82.1" height="72.5"/></clipPath>
<g clip-path="url(#c5)">
<g filter="url(#bs)">
<path d="M126 411h1v1h-1zm-76 1h1v1h-1zm34 1h1v1h-1zm-30 1h1v1h-1zm71 3h1v1h-1zm-66 1h1v1h-1zm3 0h1v1h-1zm50 3h1v1h-1zm-12 2h1v1h-1zm21 1h1v1h-1zm-14 1h1v1h-1zm14 0h1v1h-1zm-9 4h1v1h-1zm-26 1h1v1h-1zm4 1h1v1h-1zm5 2h1v1h-1zm-10 1h1v1h-1zm39 0h1v1h-1zm-46 1h1v1h-1zm23 0h1v1h-1zm12 0h1v1h-1zm2 0h1v1h-1zm-2 1h1v1h-1zm10 3h1v1h-1zm-17 2h1v1h-1zm-11 1h1v1h-1zm30 2h1v1h-1zm-7 1h1v1h-1zm-6 2h1v1h-1zm-5 2h1v1h-1zm-31 2h1v1h-1zm14 1h1v1h-1zm-10 1h1v1h-1zm45 1h1v1h-1zm-17 1h1v1h-1zm-51 1h1v1h-1zm24 1h1v1h-1zm12 0h1v1h-1zm19 2h1v1h-1zm8 0h1v1h-1zm-3 2h1v1h-1zm-47 1h1v1h-1zm46 0h1v1h-1zm11 0h1v1h-1zm-58 1h1v1h-1zm-10 1h1v1h-1zm10 0h1v1h-1zm-1 2h1v1h-1zm3 1h1v1h-1zm8 0h1v1h-1zm7 0h1v1h-1zm17 0h1v1h-1zm8 0h1v1h-1zm-44 1h1v1h-1zm-11 1h1v1h-1zm3 1h1v1h-1zm14 0h1v1h-1zm9 0h1v1h-1zm-4 1h1v1h-1zm-26 1h1v1h-1zm61 2h1v1h-1zm-48 1h1v1h-1zm31 0h1v1h-1z" fill="#b4bcea"/>
<path d="M69 411h1v1h-1zm-14 7h1v1h-1zm1 1h1v1h-1zm39 9h1v1h-1zm6 0h1v1h-1zm21 0h1v1h-1zm-11 1h1v1h-1zm-15 4h1v1h-1zm-2 1h1v1h-1zm32 3h1v1h-1zm-6 1h1v1h-1zm-31 1h1v1h-1zm4 0h1v1h-1zm-3 1h1v1h-1zm29 0h1v1h-1zm-40 2h1v1h-1zm-4 3h1v1h-1zm18 1h1v1h-1zm-5 2h1v1h-1zm21 0h1v1h-1zm-15 3h1v1h-1zm-42 1h1v1h-1zm35 0h1v1h-1zm-22 3h1v1h-1zm41 0h1v1h-1zm-38 3h1v1h-1zm38 1h1v1h-1zm4 0h1v1h-1zm8 2h1v1h-1zm-25 2h1v1h-1zm14 0h1v1h-1zm15 0h1v1h-1zm-14 1h1v1h-1zm3 0h1v1h-1zm-32 1h1v1h-1zm8 0h1v1h-1zm-12 1h1v1h-1zm45 2h1v1h-1zm-48 3h1v1h-1zm8 0h1v1h-1zm29 0h1v1h-1zm13 1h1v1h-1zm-73 1h1v1h-1zm67 0h1v1h-1zm5 0h1v1h-1zm0 1h1v1h-1zm-53 1h1v1h-1zm22 0h1v1h-1z" fill="#c0c4ee"/>
<path d="M127 411h1v1h-1zm-77 2h1v1h-1zm33 0h1v1h-1zm17 0h1v1h-1zm-41 2h1v1h-1zm55 0h1v1h-1zm14 1h1v1h-1zm-14 1h1v1h-1zm7 4h1v1h-1zm-1 1h1v1h-1zm-24 18h1v1h-1zm16 1h1v1h-1zm0 1h1v1h-1zm7 1h1v1h-1zm-34 1h1v1h-1zm0 2h1v1h-1zm3 0h1v1h-1zm21 1h1v1h-1zm4 0h1v1h-1zm15 2h1v1h-1zm-61 1h1v1h-1zm43 0h1v1h-1zm-9 1h1v1h-1zm-33 1h1v1h-1zm-17 4h1v1h-1zm61 0h1v1h-1zm-47 1h1v1h-1zm6 1h1v1h-1zm11 2h1v1h-1zm35 0h1v1h-1zm-68 2h1v1h-1zm32 0h1v1h-1zm9 0h1v1h-1zm31 1h1v1h-1zm-28 1h1v1h-1zm9 0h1v1h-1zm18 1h1v1h-1zm-19 1h1v1h-1zm-2 1h1v1h-1zm5 0h1v1h-1zm-51 2h1v1h-1zm28 1h1v1h-1zm30 0h1v1h-1zm-30 1h1v1h-1zm14 0h1v1h-1zm-41 2h1v1h-1zm25 0h1v1h-1zm16 1h1v1h-1zm16 1h1v1h-1z" fill="#bcb4e2"/>
<path d="M55 413h1v1h-1zm43 0h1v1h-1zm20 0h1v1h-1zm-52 1h1v1h-1zm-10 2h1v1h-1zm63 0h1v1h-1zm-64 1h1v1h-1zm54 1h1v1h-1zm18 10h1v1h-1zm-20 3h1v1h-1zm-31 1h1v1h-1zm51 1h1v1h-1zm-31 2h1v1h-1zm8 1h1v1h-1zm-26 1h1v1h-1zm-2 1h1v1h-1zm20 0h1v1h-1zm-2 2h1v1h-1zm17 0h1v1h-1zm-41 1h1v1h-1zm9 0h1v1h-1zm16 0h1v1h-1zm12 1h1v1h-1zm1 2h1v1h-1zm10 4h1v1h-1zm-16 1h1v1h-1zm-8 1h1v1h-1zm2 0h1v1h-1zm17 1h1v1h-1zm-35 3h1v1h-1zm0 1h1v1h-1zm50 0h1v1h-1zm-58 1h1v1h-1zm-6 2h1v1h-1zm8 0h1v1h-1zm7 0h1v1h-1zm17 0h1v1h-1zm14 2h1v1h-1zm-38 2h1v1h-1zm56 0h1v1h-1zm-45 2h1v1h-1zm12 4h1v1h-1zm29 0h1v1h-1zm-45 2h1v1h-1zm26 0h1v1h-1zm-53 3h1v1h-1zm5 0h1v1h-1zm18 0h1v1h-1zm2 0h1v1h-1zm23 1h1v1h-1z" fill="#c8cef2"/>
<path d="M79 413h1v1h-1zm29 2h1v1h-1zm2 0h1v1h-1zm-51 1h1v1h-1zm55 0h1v1h-1zm-54 1h1v1h-1zm55 0h1v1h-1zm-2 1h1v1h-1zm-64 3h1v1h-1zm2 0h1v1h-1zm59 2h1v1h-1zm2 2h1v1h-1zm-6 1h1v1h-1zm5 0h1v1h-1zm-16 3h1v1h-1zm6 0h1v1h-1zm-7 2h1v1h-1zm3 0h1v1h-1zm-14 3h1v1h-1zm2 1h1v1h-1zm3 1h1v1h-1zm4 1h1v1h-1zm-18 2h1v1h-1zm4 1h1v1h-1zm3 0h1v1h-1zm-6 1h1v1h-1zm17 0h1v1h-1zm-10 3h1v1h-1zm5 0h1v1h-1zm-18 3h1v1h-1zm11 0h1v1h-1zm3 1h1v1h-1zm-13 2h1v1h-1zm1 1h1v1h-1zm-4 4h1v1h-1zm-15 1h1v1h-1zm0 1h1v1h-1zm17 3h1v1h-1zm-16 1h1v1h-1zm3 0h1v1h-1zm6 0h1v1h-1zm4 0h1v1h-1zm-10 1h1v1h-1zm8 0h1v1h-1zm-8 2h1v1h-1zm11 1h1v1h-1zm-5 2h1v1h-1zm-4 3h1v1h-1zm9 1h1v1h-1zm-8 3h1v1h-1z" fill="#6a7edc"/>
<path d="M103 411h1v1h-1zm-30 1h1v1h-1zm23 0h1v1h-1zm-29 2h1v1h-1zm42 1h1v1h-1zm-51 1h1v1h-1zm52 0h1v1h-1zm-58 4h1v1h-1zm59 3h1v1h-1zm-4 1h1v1h-1zm5 0h1v1h-1zm-10 2h1v1h-1zm1 0h1v1h-1zm2 0h1v1h-1zm5 1h1v1h-1zm-19 3h1v1h-1zm5 0h1v1h-1zm-5 1h1v1h-1zm15 0h1v1h-1zm-22 1h1v1h-1zm28 1h1v1h-1zm2 0h1v1h-1zm-15 1h1v1h-1zm2 0h1v1h-1zm-26 1h1v1h-1zm13 0h1v1h-1zm-11 1h1v1h-1zm9 0h1v1h-1zm-40 1h1v1h-1zm31 0h1v1h-1zm-2 1h1v1h-1zm9 0h1v1h-1zm1 0h1v1h-1zm10 1h1v1h-1zm-20 1h1v1h-1zm4 0h1v1h-1zm4 1h1v1h-1zm-8 1h1v1h-1zm7 0h1v1h-1zm-35 2h1v1h-1zm26 3h1v1h-1zm-26 1h1v1h-1zm0 1h1v1h-1zm46 1h1v1h-1zm-25 3h1v1h-1zm-2 1h1v1h-1zm-18 2h1v1h-1zm4 2h1v1h-1zm-5 2h1v1h-1zm21 0h1v1h-1zm-16 1h1v1h-1zm4 2h1v1h-1zm1 0h1v1h-1zm3 1h1v1h-1zm0 3h1v1h-1zm17 1h1v1h-1zm-13 1h1v1h-1zm-9 5h1v1h-1zm9 1h1v1h-1zm-16 1h1v1h-1z" fill="#7a8adc"/>
<path d="M83 412h1v1h-1zm-11 1h1v1h-1zm3 0h1v1h-1zm7 0h1v1h-1zm20 0h1v1h-1zm-7 1h1v1h-1zm-41 5h1v1h-1zm59 0h1v1h-1zm9 6h1v1h-1zm-75 1h1v1h-1zm54 0h1v1h-1zm8 0h1v1h-1zm-11 1h1v1h-1zm13 1h1v1h-1zm-16 2h1v1h-1zm9 1h1v1h-1zm-24 2h1v1h-1zm5 0h1v1h-1zm-4 1h1v1h-1zm-1 2h1v1h-1zm9 0h1v1h-1zm11 0h1v1h-1zm-25 1h1v1h-1zm-29 2h1v1h-1zm46 0h1v1h-1zm-10 2h1v1h-1zm-11 1h1v1h-1zm13 0h1v1h-1zm9 5h1v1h-1zm-26 5h1v1h-1zm0 4h1v1h-1zm-3 3h1v1h-1zm-13 1h1v1h-1zm0 1h1v1h-1zm4 2h1v1h-1zm4 0h1v1h-1zm3 1h1v1h-1zm14 0h1v1h-1zm-11 1h1v1h-1zm-2 1h1v1h-1zm-11 1h1v1h-1zm17 0h1v1h-1zm-19 1h1v1h-1zm-3 4h1v1h-1zm18 1h1v1h-1z" fill="#8a96e0"/>
<path d="M66 410h1v1h-1zm14 3h1v1h-1zm10 0h1v1h-1zm-21 1h1v1h-1zm36 0h1v1h-1zm3 0h1v1h-1zm-48 2h1v1h-1zm55 2h1v1h-1zm-66 2h1v1h-1zm66 2h1v1h-1zm-69 4h1v1h-1zm54 1h1v1h-1zm-7 3h1v1h-1zm3 2h1v1h-1zm-2 1h1v1h-1zm-17 1h1v1h-1zm3 1h1v1h-1zm-2 1h1v1h-1zm26 2h1v1h-1zm-29 1h1v1h-1zm32 0h1v1h-1zm-60 3h1v1h-1zm0 1h1v1h-1zm23 0h1v1h-1zm10 1h1v1h-1zm-2 1h1v1h-1zm-1 2h1v1h-1zm1 2h1v1h-1zm3 0h1v1h-1zm-2 4h1v1h-1zm-13 2h1v1h-1zm-18 2h1v1h-1zm18 5h1v1h-1zm-17 2h1v1h-1zm6 0h1v1h-1zm5 5h1v1h-1zm-13 2h1v1h-1z" fill="#96a0e4"/>
<path d="M75 412h1v1h-1zm20 0h1v1h-1zm11 1h1v1h-1zm7 0h1v1h-1zm2 0h1v1h-1zm-48 2h1v1h-1zm42 1h1v1h-1zm6 0h1v1h-1zm-63 1h1v1h-1zm59 0h1v1h-1zm6 0h1v1h-1zm-3 2h1v1h-1zm6 0h1v1h-1zm-1 4h1v1h-1zm-23 5h1v1h-1zm1 0h1v1h-1zm-3 1h1v1h-1zm-8 3h1v1h-1zm-4 1h1v1h-1zm24 0h1v1h-1zm-25 2h1v1h-1zm-7 1h1v1h-1zm22 0h1v1h-1zm-14 2h1v1h-1zm-9 1h1v1h-1zm8 0h1v1h-1zm3 0h1v1h-1zm-8 2h1v1h-1zm9 0h1v1h-1zm-39 1h1v1h-1zm37 1h1v1h-1zm-36 4h1v1h-1zm29 1h1v1h-1zm-29 2h1v1h-1zm21 0h1v1h-1zm1 0h1v1h-1zm2 0h1v1h-1zm-22 1h1v1h-1zm23 1h1v1h-1zm-3 3h1v1h-1zm-2 2h1v1h-1zm-16 1h1v1h-1zm14 1h1v1h-1zm2 0h1v1h-1zm-4 1h1v1h-1zm-11 2h1v1h-1zm9 0h1v1h-1zm1 0h1v1h-1zm2 1h1v1h-1zm-10 3h1v1h-1zm8 0h1v1h-1zm-3 1h1v1h-1zm-5 1h1v1h-1zm14 0h1v1h-1zm3 0h1v1h-1zm-6 1h1v1h-1zm-8 1h1v1h-1z" fill="#7086e0"/>
<path d="M76 414h1v1h-1zm2 0h1v1h-1zm2 0h1v1h-1zm1 0h1v1h-1zm1 0h1v1h-1zm2 0h1v1h-1zm4 0h1v1h-1zm-19 1h1v1h-1zm2 0h1v1h-1zm20 0h1v1h-1zm2 0h1v1h-1zm1 0h1v1h-1zm1 0h1v1h-1zm1 0h1v1h-1zm1 0h1v1h-1zm1 0h1v1h-1zm1 0h1v1h-1zm1 0h1v1h-1zm1 0h1v1h-1zm-35 1h1v1h-1zm1 0h1v1h-1zm39 0h1v1h-1zm-44 1h1v1h-1zm2 0h1v1h-1zm41 0h1v1h-1zm1 0h1v1h-1zm1 0h1v1h-1zm3 0h1v1h-1zm-52 1h1v1h-1zm2 0h1v1h-1zm51 0h1v1h-1zm0 1h1v1h-1zm-57 1h1v1h-1zm54 0h1v1h-1zm2 0h1v1h-1zm-58 1h1v1h-1zm55 0h1v1h-1zm1 0h1v1h-1zm1 0h1v1h-1zm1 0h1v1h-1zm-4 1h1v1h-1zm1 0h1v1h-1zm2 0h1v1h-1zm-59 1h1v1h-1zm54 0h1v1h-1zm4 0h1v1h-1zm-7 1h1v1h-1zm1 0h1v1h-1zm3 0h1v1h-1zm-3 1h1v1h-1zm-54 1h1v1h-1zm49 0h1v1h-1zm1 0h1v1h-1zm1 0h1v1h-1zm-52 1h1v1h-1zm46 0h1v1h-1zm3 0h1v1h-1zm1 0h1v1h-1zm-3 1h1v1h-1zm-6 1h1v1h-1zm1 0h1v1h-1zm1 0h1v1h-1zm-44 1h1v1h-1zm37 0h1v1h-1zm1 0h1v1h-1zm1 0h1v1h-1zm4 0h1v1h-1zm-11 1h1v1h-1zm1 0h1v1h-1zm4 0h1v1h-1zm2 0h1v1h-1zm-39 1h1v1h-1zm29 0h1v1h-1zm2 0h1v1h-1zm2 0h1v1h-1zm1 0h1v1h-1zm3 0h1v1h-1zm-37 1h1v1h-1zm30 0h1v1h-1zm1 0h1v1h-1zm1 0h1v1h-1zm-32 1h1v1h-1zm28 0h1v1h-1zm-2 1h1v1h-1zm-2 1h1v1h-1zm1 0h1v1h-1zm1 0h1v1h-1zm-2 1h1v1h-1zm2 0h1v1h-1zm-25 1h1v1h-1zm23 0h1v1h-1zm1 0h1v1h-1zm-24 1h1v1h-1zm22 0h1v1h-1zm2 0h1v1h-1zm-2 1h1v1h-1zm2 0h1v1h-1zm-23 1h1v1h-1zm21 0h1v1h-1zm1 1h1v1h-1zm-1 1h1v1h-1zm-21 1h1v1h-1zm20 0h1v1h-1zm0 1h1v1h-1zm-19 2h1v1h-1zm18 0h1v1h-1zm1 0h1v1h-1zm-19 1h1v1h-1zm17 0h1v1h-1zm1 0h1v1h-1zm-17 1h1v1h-1zm16 0h1v1h-1zm1 0h1v1h-1zm-16 1h1v1h-1zm14 0h1v1h-1zm1 0h1v1h-1zm-16 1h1v1h-1zm1 0h1v1h-1zm1 0h1v1h-1zm13 0h1v1h-1zm1 0h1v1h-1zm-13 1h1v1h-1zm11 0h1v1h-1zm1 0h1v1h-1zm-12 1h1v1h-1zm1 0h1v1h-1zm10 0h1v1h-1zm-11 1h1v1h-1zm1 0h1v1h-1zm9 0h1v1h-1zm1 0h1v1h-1zm1 0h1v1h-1zm-12 1h1v1h-1zm1 0h1v1h-1zm2 0h1v1h-1zm5 0h1v1h-1zm3 0h1v1h-1zm-6 1h1v1h-1zm1 0h1v1h-1zm3 0h1v1h-1zm1 0h1v1h-1zm1 0h1v1h-1zm-11 1h1v1h-1zm1 0h1v1h-1zm6 0h1v1h-1zm1 0h1v1h-1zm3 0h1v1h-1zm-10 1h1v1h-1zm1 0h1v1h-1zm2 0h1v1h-1zm3 0h1v1h-1zm2 0h1v1h-1zm1 0h1v1h-1zm-7 1h1v1h-1zm4 0h1v1h-1zm1 0h1v1h-1zm1 0h1v1h-1zm-5 1h1v1h-1zm1 0h1v1h-1zm1 0h1v1h-1zm1 0h1v1h-1zm2 0h1v1h-1zm-5 1h1v1h-1zm1 0h1v1h-1z" fill="#5068d4"/>
</g><g filter="url(#bl)">
<path d="M72 415h2v1h-2zm3 0h12v1h-12zm14 0h2v1h-2zm-20 1h5v1h-5zm14 0h8v1h-8zm9 0h3v1h-3zm5 0h1v1h-1zm3 0h1v1h-1zm-35 1h4v1h-4zm23 0h3v1h-3zm4 0h8v1h-8zm9 0h1v1h-1zm3 0h1v1h-1zm-41 1h3v1h-3zm29 0h11v1h-11zm12 0h1v1h-1zm2 0h1v1h-1zm-48 1h6v1h-6zm37 0h8v1h-8zm9 0h2v1h-2zm3 0h1v1h-1zm-52 1h2v1h-2zm3 0h2v1h-2zm38 0h10v1h-10zm11 0h1v1h-1zm-54 1h1v1h-1zm43 0h8v1h-8zm10 0h1v1h-1zm-53 1h2v1h-2zm42 0h7v1h-7zm-44 1h2v1h-2zm43 0h5v1h-5zm7 0h2v1h-2zm-51 1h2v1h-2zm42 0h4v1h-4zm8 0h1v1h-1zm-9 1h4v1h-4zm6 0h2v1h-2zm-47 1h1v1h-1zm37 0h2v1h-2zm4 0h4v1h-4zm-43 1h2v1h-2zm36 0h2v1h-2zm3 0h2v1h-2zm3 0h1v1h-1zm2 0h1v1h-1zm-43 1h1v1h-1zm31 0h3v1h-3zm4 0h1v1h-1zm2 0h1v1h-1zm3 0h1v1h-1zm-42 1h2v1h-2zm29 0h6v1h-6zm7 0h4v1h-4zm-35 1h1v1h-1zm24 0h2v1h-2zm3 0h6v1h-6zm-28 1h2v1h-2zm23 0h7v1h-7zm-23 1h1v1h-1zm22 0h2v1h-2zm4 0h1v1h-1zm-26 1h2v1h-2zm21 0h2v1h-2zm3 0h1v1h-1zm-24 1h1v1h-1zm21 0h2v1h-2zm-20 1h1v1h-1zm20 0h1v1h-1zm-20 1h1v1h-1zm19 0h3v1h-3zm-19 1h2v1h-2zm19 0h3v1h-3zm-19 1h2v1h-2zm19 0h2v1h-2zm1 1h1v1h-1zm-20 1h2v1h-2zm19 0h1v1h-1zm-18 1h2v1h-2zm17 0h1v1h-1zm-17 1h2v1h-2zm18 0h2v1h-2zm-18 1h2v1h-2zm17 0h2v1h-2zm-16 1h2v1h-2zm15 0h2v1h-2zm-15 1h1v1h-1zm0 1h1v1h-1zm2 0h1v1h-1zm12 0h3v1h-3zm-13 1h1v1h-1zm2 0h1v1h-1zm10 0h3v1h-3zm-11 1h3v1h-3zm11 0h3v1h-3zm-10 1h1v1h-1zm2 0h2v1h-2zm5 0h3v1h-3zm4 0h2v1h-2zm-11 1h2v1h-2zm3 0h6v1h-6zm7 0h2v1h-2zm-10 1h1v1h-1zm2 0h3v1h-3zm4 0h2v1h-2zm3 0h1v1h-1zm-8 1h1v1h-1zm3 0h6v1h-6zm-2 1h4v1h-4zm5 0h1v1h-1zm2 0h1v1h-1zm-6 1h1v1h-1zm2 0h1v1h-1zm2 0h2v1h-2zm-2 1h2v1h-2z" fill="#4a88da"/>
<path d="M74 416h9v1h-9zm-5 1h19v1h-19zm-3 1h5v1h-5zm17 0h9v1h-9zm-19 1h4v1h-4zm22 0h9v1h-9zm-26 1h6v1h-6zm27 0h9v1h-9zm-31 1h8v1h-8zm31 0h9v1h-9zm-32 1h4v1h-4zm32 0h8v1h-8zm-34 1h3v1h-3zm33 0h7v1h-7zm-34 1h3v1h-3zm33 0h7v1h-7zm-34 1h3v1h-3zm32 0h6v1h-6zm-32 1h2v1h-2zm29 0h7v1h-7zm-30 1h2v1h-2zm26 0h8v1h-8zm-26 1h2v1h-2zm20 0h10v1h-10zm-21 1h2v1h-2zm19 0h8v1h-8zm-19 1h2v1h-2zm18 0h3v1h-3zm4 0h1v1h-1zm-22 1h2v1h-2zm18 0h3v1h-3zm-18 1h2v1h-2zm17 0h3v1h-3zm-17 1h2v1h-2zm17 0h2v1h-2zm-17 1h2v1h-2zm17 0h2v1h-2zm-17 1h2v1h-2zm17 0h2v1h-2zm-17 1h2v1h-2zm17 0h1v1h-1zm-16 1h1v1h-1zm15 0h2v1h-2zm-15 1h2v1h-2zm15 0h2v1h-2zm-15 1h2v1h-2zm15 0h2v1h-2zm-14 1h1v1h-1zm14 0h2v1h-2zm-14 1h2v1h-2zm13 0h2v1h-2zm-13 1h2v1h-2zm13 0h2v1h-2zm-13 1h3v1h-3zm12 0h3v1h-3zm-11 1h2v1h-2zm11 0h2v1h-2zm-11 1h3v1h-3zm9 0h4v1h-4zm-8 1h4v1h-4zm6 0h5v1h-5zm-5 1h9v1h-9zm1 1h7v1h-7zm2 1h2v1h-2z" fill="#38a0dc"/>
<path d="M71 418h12v1h-12zm-3 1h4v1h-4zm12 0h6v1h-6zm-14 1h3v1h-3zm16 0h5v1h-5zm-18 1h4v1h-4zm19 0h4v1h-4zm-24 1h7v1h-7zm24 0h4v1h-4zm-27 1h9v1h-9zm26 0h4v1h-4zm-27 1h3v1h-3zm25 0h5v1h-5zm-26 1h2v1h-2zm24 0h5v1h-5zm-25 1h2v1h-2zm13 0h14v1h-14zm-14 1h2v1h-2zm13 0h11v1h-11zm-13 1h1v1h-1zm13 0h5v1h-5zm-14 1h2v1h-2zm14 0h3v1h-3zm-14 1h1v1h-1zm14 0h2v1h-2zm-14 1h1v1h-1zm14 0h2v1h-2zm-14 1h1v1h-1zm14 0h1v1h-1zm-14 1h1v1h-1zm14 0h1v1h-1zm-14 1h1v1h-1zm14 0h1v1h-1zm-14 1h1v1h-1zm13 0h2v1h-2zm-13 1h1v1h-1zm13 0h2v1h-2zm-13 1h2v1h-2zm13 0h1v1h-1zm-12 1h1v1h-1zm12 0h1v1h-1zm-12 1h1v1h-1zm12 0h1v1h-1zm-12 1h2v1h-2zm11 0h2v1h-2zm-10 1h1v1h-1zm10 0h1v1h-1zm-10 1h2v1h-2zm9 0h2v1h-2zm-8 1h2v1h-2zm7 0h2v1h-2zm-7 1h9v1h-9zm1 1h6v1h-6zm2 1h2v1h-2z" fill="#40b8b0"/>
<path d="M72 419h8v1h-8zm-3 1h13v1h-13zm-1 1h6v1h-6zm8 0h7v1h-7zm-10 1h6v1h-6zm11 0h6v1h-6zm-12 1h17v1h-17zm-7 1h22v1h-22zm-2 1h22v1h-22zm-1 1h11v1h-11zm-1 1h3v1h-3zm7 0h4v1h-4zm-8 1h2v1h-2zm9 0h3v1h-3zm-9 1h2v1h-2zm9 0h3v1h-3zm-10 1h2v1h-2zm11 0h2v1h-2zm-11 1h2v1h-2zm11 0h2v1h-2zm-11 1h2v1h-2zm11 0h2v1h-2zm-11 1h2v1h-2zm11 0h2v1h-2zm-11 1h2v1h-2zm11 0h2v1h-2zm-11 1h2v1h-2zm11 0h1v1h-1zm-11 1h2v1h-2zm11 0h1v1h-1zm-10 1h1v1h-1zm9 0h2v1h-2zm-9 1h2v1h-2zm9 0h2v1h-2zm-9 1h2v1h-2zm9 0h2v1h-2zm-8 1h2v1h-2zm7 0h2v1h-2zm-7 1h3v1h-3zm6 0h3v1h-3zm-5 1h7v1h-7zm1 1h5v1h-5z" fill="#50c050"/>
<path d="M74 421h2v1h-2zm-2 1h5v1h-5zm-15 5h4v1h-4zm-2 1h7v1h-7zm0 1h2v1h-2zm5 0h2v1h-2zm-6 1h2v1h-2zm7 0h2v1h-2zm-7 1h2v1h-2zm7 0h2v1h-2zm-7 1h1v1h-1zm7 0h2v1h-2zm-7 1h1v1h-1zm7 0h2v1h-2zm-7 1h1v1h-1zm7 0h2v1h-2zm-7 1h1v1h-1zm7 0h2v1h-2zm-7 1h2v1h-2zm7 0h2v1h-2zm-7 1h2v1h-2zm7 0h1v1h-1zm-6 1h2v1h-2zm5 0h2v1h-2zm-5 1h3v1h-3zm4 0h3v1h-3zm-3 1h5v1h-5zm1 1h3v1h-3z" fill="#c8e030"/>
<path d="M57 429h3v1h-3zm-1 1h5v1h-5zm0 1h1v1h-1zm3 0h2v1h-2zm-4 1h2v1h-2zm5 0h1v1h-1zm-5 1h1v1h-1zm5 0h1v1h-1zm-5 1h1v1h-1zm5 0h1v1h-1zm-5 1h2v1h-2zm5 0h1v1h-1zm-4 1h1v1h-1zm4 0h1v1h-1zm-4 1h5v1h-5zm1 1h3v1h-3zm1 1h1v1h-1z" fill="#f0a020"/>
<path d="M57 431h2v1h-2zm0 1h3v1h-3zm-1 1h4v1h-4zm0 1h4v1h-4zm1 1h3v1h-3zm0 1h3v1h-3z" fill="#e83018"/>
</g>
</g>
<path d="M52 450 C62 452 78 449 88 444 C98 438 104 430 106 422" fill="none" stroke="#9a4c8e" stroke-width="0.6" opacity="0.55"/>
<rect x="46.5" y="403.7" width="82.1" height="72.5" fill="none" stroke="#8a8a8a" stroke-width="0.8"/>
<line x1="45.3" y1="403.7" x2="46.5" y2="403.7" stroke="#555" stroke-width="0.45"/>
<line x1="45.8" y1="406.12" x2="46.5" y2="406.12" stroke="#555" stroke-width="0.45"/>
<line x1="45.8" y1="408.53" x2="46.5" y2="408.53" stroke="#555" stroke-width="0.45"/>
<line x1="45.8" y1="410.95" x2="46.5" y2="410.95" stroke="#555" stroke-width="0.45"/>
<line x1="45.8" y1="413.37" x2="46.5" y2="413.37" stroke="#555" stroke-width="0.45"/>
<line x1="45.3" y1="415.78" x2="46.5" y2="415.78" stroke="#555" stroke-width="0.45"/>
<line x1="45.8" y1="418.2" x2="46.5" y2="418.2" stroke="#555" stroke-width="0.45"/>
<line x1="45.8" y1="420.62" x2="46.5" y2="420.62" stroke="#555" stroke-width="0.45"/>
<line x1="45.8" y1="423.03" x2="46.5" y2="423.03" stroke="#555" stroke-width="0.45"/>
<line x1="45.8" y1="425.45" x2="46.5" y2="425.45" stroke="#555" stroke-width="0.45"/>
<line x1="45.3" y1="427.87" x2="46.5" y2="427.87" stroke="#555" stroke-width="0.45"/>
<line x1="45.8" y1="430.28" x2="46.5" y2="430.28" stroke="#555" stroke-width="0.45"/>
<line x1="45.8" y1="432.7" x2="46.5" y2="432.7" stroke="#555" stroke-width="0.45"/>
<line x1="45.8" y1="435.12" x2="46.5" y2="435.12" stroke="#555" stroke-width="0.45"/>
<line x1="45.8" y1="437.53" x2="46.5" y2="437.53" stroke="#555" stroke-width="0.45"/>
<line x1="45.3" y1="439.95" x2="46.5" y2="439.95" stroke="#555" stroke-width="0.45"/>
<line x1="45.8" y1="442.37" x2="46.5" y2="442.37" stroke="#555" stroke-width="0.45"/>
<line x1="45.8" y1="444.78" x2="46.5" y2="444.78" stroke="#555" stroke-width="0.45"/>
<line x1="45.8" y1="447.2" x2="46.5" y2="447.2" stroke="#555" stroke-width="0.45"/>
<line x1="45.8" y1="449.62" x2="46.5" y2="449.62" stroke="#555" stroke-width="0.45"/>
<line x1="45.3" y1="452.03" x2="46.5" y2="452.03" stroke="#555" stroke-width="0.45"/>
<line x1="45.8" y1="454.45" x2="46.5" y2="454.45" stroke="#555" stroke-width="0.45"/>
<line x1="45.8" y1="456.87" x2="46.5" y2="456.87" stroke="#555" stroke-width="0.45"/>
<line x1="45.8" y1="459.28" x2="46.5" y2="459.28" stroke="#555" stroke-width="0.45"/>
<line x1="45.8" y1="461.7" x2="46.5" y2="461.7" stroke="#555" stroke-width="0.45"/>
<line x1="45.3" y1="464.12" x2="46.5" y2="464.12" stroke="#555" stroke-width="0.45"/>
<line x1="45.8" y1="466.53" x2="46.5" y2="466.53" stroke="#555" stroke-width="0.45"/>
<line x1="45.8" y1="468.95" x2="46.5" y2="468.95" stroke="#555" stroke-width="0.45"/>
<line x1="45.8" y1="471.37" x2="46.5" y2="471.37" stroke="#555" stroke-width="0.45"/>
<line x1="45.8" y1="473.78" x2="46.5" y2="473.78" stroke="#555" stroke-width="0.45"/>
<line x1="45.3" y1="476.2" x2="46.5" y2="476.2" stroke="#555" stroke-width="0.45"/>
<line x1="46.5" y1="476.2" x2="46.5" y2="477.6" stroke="#555" stroke-width="0.45"/>
<line x1="49.24" y1="476.2" x2="49.24" y2="477" stroke="#555" stroke-width="0.45"/>
<line x1="51.97" y1="476.2" x2="51.97" y2="477" stroke="#555" stroke-width="0.45"/>
<line x1="54.71" y1="476.2" x2="54.71" y2="477" stroke="#555" stroke-width="0.45"/>
<line x1="57.45" y1="476.2" x2="57.45" y2="477" stroke="#555" stroke-width="0.45"/>
<line x1="60.18" y1="476.2" x2="60.18" y2="477.6" stroke="#555" stroke-width="0.45"/>
<line x1="62.92" y1="476.2" x2="62.92" y2="477" stroke="#555" stroke-width="0.45"/>
<line x1="65.66" y1="476.2" x2="65.66" y2="477" stroke="#555" stroke-width="0.45"/>
<line x1="68.39" y1="476.2" x2="68.39" y2="477" stroke="#555" stroke-width="0.45"/>
<line x1="71.13" y1="476.2" x2="71.13" y2="477" stroke="#555" stroke-width="0.45"/>
<line x1="73.87" y1="476.2" x2="73.87" y2="477.6" stroke="#555" stroke-width="0.45"/>
<line x1="76.6" y1="476.2" x2="76.6" y2="477" stroke="#555" stroke-width="0.45"/>
<line x1="79.34" y1="476.2" x2="79.34" y2="477" stroke="#555" stroke-width="0.45"/>
<line x1="82.08" y1="476.2" x2="82.08" y2="477" stroke="#555" stroke-width="0.45"/>
<line x1="84.81" y1="476.2" x2="84.81" y2="477" stroke="#555" stroke-width="0.45"/>
<line x1="87.55" y1="476.2" x2="87.55" y2="477.6" stroke="#555" stroke-width="0.45"/>
<line x1="90.29" y1="476.2" x2="90.29" y2="477" stroke="#555" stroke-width="0.45"/>
<line x1="93.02" y1="476.2" x2="93.02" y2="477" stroke="#555" stroke-width="0.45"/>
<line x1="95.76" y1="476.2" x2="95.76" y2="477" stroke="#555" stroke-width="0.45"/>
<line x1="98.5" y1="476.2" x2="98.5" y2="477" stroke="#555" stroke-width="0.45"/>
<line x1="101.23" y1="476.2" x2="101.23" y2="477.6" stroke="#555" stroke-width="0.45"/>
<line x1="103.97" y1="476.2" x2="103.97" y2="477" stroke="#555" stroke-width="0.45"/>
<line x1="106.71" y1="476.2" x2="106.71" y2="477" stroke="#555" stroke-width="0.45"/>
<line x1="109.44" y1="476.2" x2="109.44" y2="477" stroke="#555" stroke-width="0.45"/>
<line x1="112.18" y1="476.2" x2="112.18" y2="477" stroke="#555" stroke-width="0.45"/>
<line x1="114.92" y1="476.2" x2="114.92" y2="477.6" stroke="#555" stroke-width="0.45"/>
<line x1="117.65" y1="476.2" x2="117.65" y2="477" stroke="#555" stroke-width="0.45"/>
<line x1="120.39" y1="476.2" x2="120.39" y2="477" stroke="#555" stroke-width="0.45"/>
<line x1="123.13" y1="476.2" x2="123.13" y2="477" stroke="#555" stroke-width="0.45"/>
<line x1="125.86" y1="476.2" x2="125.86" y2="477" stroke="#555" stroke-width="0.45"/>
<line x1="128.6" y1="476.2" x2="128.6" y2="477.6" stroke="#555" stroke-width="0.45"/>
<text x="86" y="441.8" font-size="4.3" font-weight="bold" text-anchor="start" fill="#962a84">90.8</text>
<text x="86.25" y="399.1" font-size="8.5" font-weight="bold" text-anchor="middle" fill="#000" textLength="21.5" lengthAdjust="spacingAndGlyphs">Mock</text>
<text x="44.2" y="411.3" font-size="4.1" font-weight="bold" text-anchor="end">10<tspan font-size="2.87" dy="-1.64">5</tspan></text>
<line x1="44.7" y1="409.8" x2="46.5" y2="409.8" stroke="#333" stroke-width="0.7"/>
<text x="44.2" y="425.8" font-size="4.1" font-weight="bold" text-anchor="end">10<tspan font-size="2.87" dy="-1.64">4</tspan></text>
<line x1="44.7" y1="424.3" x2="46.5" y2="424.3" stroke="#333" stroke-width="0.7"/>
<text x="44.2" y="440.9" font-size="4.1" font-weight="bold" text-anchor="end">10<tspan font-size="2.87" dy="-1.64">3</tspan></text>
<line x1="44.7" y1="439.4" x2="46.5" y2="439.4" stroke="#333" stroke-width="0.7"/>
<text x="44.2" y="456.8" font-size="4.1" font-weight="bold" text-anchor="end">10<tspan font-size="2.87" dy="-1.64">2</tspan></text>
<line x1="44.7" y1="455.3" x2="46.5" y2="455.3" stroke="#333" stroke-width="0.7"/>
<text x="43" y="463.7" font-size="4.2" font-weight="bold" text-anchor="end" fill="#000">0</text>
<line x1="44.7" y1="462.3" x2="46.5" y2="462.3" stroke="#333" stroke-width="0.7"/>
<text x="34.2" y="444.7" font-size="7" font-weight="bold" text-anchor="middle" fill="#000" transform="rotate(-90 34.2 444.7)">CD45</text>
<text x="46.9" y="484.8" font-size="4.2" font-weight="bold" text-anchor="middle" fill="#000">0</text>
<text x="61.8" y="484.8" font-size="4.2" font-weight="bold" text-anchor="middle" fill="#000">50K</text>
<text x="76.7" y="484.8" font-size="4.2" font-weight="bold" text-anchor="middle" fill="#000">100K</text>
<text x="92.6" y="484.8" font-size="4.2" font-weight="bold" text-anchor="middle" fill="#000">150K</text>
<text x="108" y="484.8" font-size="4.2" font-weight="bold" text-anchor="middle" fill="#000">200K</text>
<text x="123.4" y="484.8" font-size="4.2" font-weight="bold" text-anchor="middle" fill="#000">250K</text>
<text x="87" y="489.6" font-size="5.2" font-weight="bold" text-anchor="middle" fill="#000" textLength="29" lengthAdjust="spacingAndGlyphs">Side Scatter</text>
<clipPath id="c6"><rect x="152.5" y="403.7" width="81.8" height="72.5"/></clipPath>
<g clip-path="url(#c6)">
<g filter="url(#bs)">
<path d="M169 412h1v1h-1zm52 0h1v1h-1zm11 0h1v1h-1zm-24 1h1v1h-1zm-3 4h1v1h-1zm22 1h1v1h-1zm-10 2h1v1h-1zm3 3h1v1h-1zm-18 1h1v1h-1zm4 0h1v1h-1zm6 0h1v1h-1zm17 1h1v1h-1zm-30 3h1v1h-1zm28 1h1v1h-1zm-31 3h1v1h-1zm-5 4h1v1h-1zm13 0h1v1h-1zm-2 2h1v1h-1zm22 0h1v1h-1zm-36 1h1v1h-1zm14 4h1v1h-1zm-10 4h1v1h-1zm-19 1h1v1h-1zm13 0h1v1h-1zm-12 1h1v1h-1zm0 1h1v1h-1zm11 0h1v1h-1zm-10 2h1v1h-1zm34 3h1v1h-1zm-56 1h1v1h-1zm47 0h1v1h-1zm9 0h1v1h-1zm16 0h1v1h-1zm5 2h1v1h-1zm-33 1h1v1h-1zm23 7h1v1h-1zm10 1h1v1h-1zm-77 2h1v1h-1zm76 0h1v1h-1zm-60 1h1v1h-1zm60 0h1v1h-1zm-64 1h1v1h-1zm60 2h1v1h-1zm4 0h1v1h-1zm-31 1h1v1h-1zm15 0h1v1h-1z" fill="#b4bcea"/>
<path d="M200 412h1v1h-1zm8 0h1v1h-1zm3 0h1v1h-1zm4 1h1v1h-1zm-7 1h1v1h-1zm5 0h1v1h-1zm8 1h1v1h-1zm-10 3h1v1h-1zm-59 2h1v1h-1zm53 2h1v1h-1zm-3 6h1v1h-1zm30 1h1v1h-1zm-19 8h1v1h-1zm-11 2h1v1h-1zm-19 1h1v1h-1zm12 3h1v1h-1zm-2 2h1v1h-1zm8 1h1v1h-1zm27 3h1v1h-1zm-63 1h1v1h-1zm21 0h1v1h-1zm-34 1h1v1h-1zm5 0h1v1h-1zm33 1h1v1h-1zm16 0h1v1h-1zm-49 1h1v1h-1zm1 0h1v1h-1zm22 0h1v1h-1zm11 0h1v1h-1zm10 0h1v1h-1zm-8 1h1v1h-1zm13 1h1v1h-1zm-29 2h1v1h-1zm9 0h1v1h-1zm-28 1h1v1h-1zm6 2h1v1h-1zm68 0h1v1h-1zm-38 5h1v1h-1zm12 0h1v1h-1zm-45 1h1v1h-1zm46 0h1v1h-1zm-53 1h1v1h-1zm1 2h1v1h-1zm10 0h1v1h-1zm39 1h1v1h-1zm-20 2h1v1h-1zm18 0h1v1h-1zm5 0h1v1h-1zm-49 1h1v1h-1zm7 0h1v1h-1zm32 0h1v1h-1zm-5 1h1v1h-1z" fill="#c0c4ee"/>
<path d="M201 413h1v1h-1zm23 1h1v1h-1zm-62 2h1v1h-1zm65 1h1v1h-1zm-67 1h1v1h-1zm-6 2h1v1h-1zm6 1h1v1h-1zm48 0h1v1h-1zm16 6h1v1h-1zm2 0h1v1h-1zm-20 1h1v1h-1zm2 1h1v1h-1zm16 1h1v1h-1zm-31 2h1v1h-1zm-6 1h1v1h-1zm6 2h1v1h-1zm-9 3h1v1h-1zm3 0h1v1h-1zm17 0h1v1h-1zm-3 2h1v1h-1zm-46 2h1v1h-1zm37 0h1v1h-1zm32 0h1v1h-1zm-49 2h1v1h-1zm16 0h1v1h-1zm19 0h1v1h-1zm8 0h1v1h-1zm-20 1h1v1h-1zm18 0h1v1h-1zm-27 2h1v1h-1zm8 0h1v1h-1zm35 2h1v1h-1zm-29 2h1v1h-1zm-41 1h1v1h-1zm51 1h1v1h-1zm-58 3h1v1h-1zm78 0h1v1h-1zm-66 2h1v1h-1zm59 0h1v1h-1zm6 1h1v1h-1zm-71 6h1v1h-1zm49 0h1v1h-1zm-12 2h1v1h-1zm-41 3h1v1h-1zm12 1h1v1h-1zm11 1h1v1h-1zm6 1h1v1h-1zm8 0h1v1h-1zm14 0h1v1h-1zm24 0h1v1h-1zm-33 3h1v1h-1z" fill="#bcb4e2"/>
<path d="M193 412h1v1h-1zm23 1h1v1h-1zm12 2h1v1h-1zm-4 2h1v1h-1zm-68 1h1v1h-1zm59 2h1v1h-1zm10 0h1v1h-1zm-64 1h1v1h-1zm56 2h1v1h-1zm-7 5h1v1h-1zm4 0h1v1h-1zm-62 2h1v1h-1zm44 0h1v1h-1zm35 0h1v1h-1zm-37 3h1v1h-1zm11 0h1v1h-1zm2 0h1v1h-1zm23 0h1v1h-1zm-49 2h1v1h-1zm41 1h1v1h-1zm-42 4h1v1h-1zm50 0h1v1h-1zm-20 1h1v1h-1zm14 0h1v1h-1zm-40 2h1v1h-1zm30 1h1v1h-1zm-15 1h1v1h-1zm-13 1h1v1h-1zm29 1h1v1h-1zm-31 2h1v1h-1zm40 0h1v1h-1zm2 0h1v1h-1zm-63 2h1v1h-1zm25 0h1v1h-1zm40 0h1v1h-1zm-39 1h1v1h-1zm5 1h1v1h-1zm-26 1h1v1h-1zm37 0h1v1h-1zm18 0h1v1h-1zm-43 2h1v1h-1zm11 0h1v1h-1zm-10 1h1v1h-1zm19 0h1v1h-1zm4 0h1v1h-1zm15 0h1v1h-1zm3 0h1v1h-1zm-50 1h1v1h-1zm-16 1h1v1h-1zm71 5h1v1h-1zm6 0h1v1h-1zm-9 2h1v1h-1zm-31 1h1v1h-1zm16 2h1v1h-1zm2 0h1v1h-1zm-22 1h1v1h-1zm30 0h1v1h-1zm-53 1h1v1h-1zm68 0h1v1h-1zm-70 1h1v1h-1zm6 0h1v1h-1zm11 1h1v1h-1zm3 0h1v1h-1zm1 1h1v1h-1zm29 1h1v1h-1z" fill="#c8cef2"/>
<path d="M192 410h1v1h-1zm-10 2h1v1h-1zm4 0h1v1h-1zm33 0h1v1h-1zm-12 1h1v1h-1zm-4 1h1v1h-1zm8 1h1v1h-1zm8 1h1v1h-1zm-56 1h1v1h-1zm52 5h1v1h-1zm-59 1h1v1h-1zm58 1h1v1h-1zm2 0h1v1h-1zm-13 4h1v1h-1zm-8 3h1v1h-1zm-3 1h1v1h-1zm-8 5h1v1h-1zm-32 1h1v1h-1zm28 0h1v1h-1zm7 1h1v1h-1zm-32 6h1v1h-1zm22 0h1v1h-1zm-21 2h1v1h-1zm22 1h1v1h-1zm4 0h1v1h-1zm-7 2h1v1h-1zm23 1h1v1h-1zm-15 7h1v1h-1zm34 0h1v1h-1zm-52 1h1v1h-1zm9 0h1v1h-1zm25 0h1v1h-1zm8 0h1v1h-1zm15 0h1v1h-1zm-32 7h1v1h-1zm22 0h1v1h-1z" fill="#6a7edc"/>
<path d="M215 410h1v1h-1zm-43 3h1v1h-1zm47 1h1v1h-1zm4 1h1v1h-1zm-58 1h1v1h-1zm3 0h1v1h-1zm50 0h1v1h-1zm2 0h1v1h-1zm-4 5h1v1h-1zm-7 5h1v1h-1zm-7 1h1v1h-1zm6 0h1v1h-1zm4 0h1v1h-1zm-19 4h1v1h-1zm4 0h1v1h-1zm1 0h1v1h-1zm-9 2h1v1h-1zm-4 2h1v1h-1zm3 0h1v1h-1zm-8 4h1v1h-1zm1 0h1v1h-1zm-1 5h1v1h-1zm-1 1h1v1h-1zm-26 1h1v1h-1zm29 0h1v1h-1zm-2 1h1v1h-1zm-28 1h1v1h-1zm11 4h1v1h-1zm0 2h1v1h-1zm4 0h1v1h-1zm10 0h1v1h-1zm-3 3h1v1h-1zm2 1h1v1h-1zm27 0h1v1h-1zm15 1h1v1h-1zm5 6h1v1h-1zm-46 1h1v1h-1zm16 0h1v1h-1z" fill="#7a8adc"/>
<path d="M184 411h1v1h-1zm-10 1h1v1h-1zm22 1h1v1h-1zm2 0h1v1h-1zm-26 1h1v1h-1zm46 1h1v1h-1zm-6 1h1v1h-1zm13 0h1v1h-1zm-9 4h1v1h-1zm4 0h1v1h-1zm-5 1h1v1h-1zm4 1h1v1h-1zm-4 1h1v1h-1zm-10 2h1v1h-1zm-2 1h1v1h-1zm-6 3h1v1h-1zm1 0h1v1h-1zm9 2h1v1h-1zm-55 2h1v1h-1zm36 3h1v1h-1zm-7 4h1v1h-1zm-3 2h1v1h-1zm-1 1h1v1h-1zm5 2h1v1h-1zm-24 4h1v1h-1zm17 0h1v1h-1zm16 0h1v1h-1zm-25 3h1v1h-1zm-7 1h1v1h-1zm9 0h1v1h-1zm20 5h1v1h-1zm-20 1h1v1h-1zm32 0h1v1h-1zm-41 5h1v1h-1zm32 2h1v1h-1z" fill="#8a96e0"/>
<path d="M187 409h1v1h-1zm-4 1h1v1h-1zm18 2h1v1h-1zm-2 1h1v1h-1zm-28 2h1v1h-1zm38 0h1v1h-1zm1 0h1v1h-1zm6 2h1v1h-1zm1 0h1v1h-1zm2 0h1v1h-1zm0 1h1v1h-1zm-66 4h1v1h-1zm64 0h1v1h-1zm-62 1h1v1h-1zm-2 1h1v1h-1zm2 0h1v1h-1zm51 1h1v1h-1zm9 0h1v1h-1zm-10 1h1v1h-1zm8 0h1v1h-1zm-12 1h1v1h-1zm10 0h1v1h-1zm-10 2h1v1h-1zm-4 1h1v1h-1zm-7 5h1v1h-1zm-37 2h1v1h-1zm29 0h1v1h-1zm1 0h1v1h-1zm2 0h1v1h-1zm-32 2h1v1h-1zm26 1h1v1h-1zm-3 4h1v1h-1zm13 0h1v1h-1zm-14 2h1v1h-1zm10 0h1v1h-1zm-27 2h1v1h-1zm15 6h1v1h-1zm-17 3h1v1h-1zm31 2h1v1h-1zm-31 1h1v1h-1zm-1 1h1v1h-1zm15 4h1v1h-1zm5 1h1v1h-1zm6 0h1v1h-1z" fill="#96a0e4"/>
<path d="M182 407h1v1h-1zm8 5h1v1h-1zm9 0h1v1h-1zm18 0h1v1h-1zm-3 1h1v1h-1zm-44 1h1v1h-1zm-6 4h1v1h-1zm1 0h1v1h-1zm-6 1h1v1h-1zm4 0h1v1h-1zm53 0h1v1h-1zm-12 7h1v1h-1zm0 1h1v1h-1zm5 0h1v1h-1zm-9 1h1v1h-1zm-5 2h1v1h-1zm0 2h1v1h-1zm-9 3h1v1h-1zm6 3h1v1h-1zm-13 1h1v1h-1zm5 1h1v1h-1zm10 7h1v1h-1zm-24 3h1v1h-1zm18 0h1v1h-1zm-20 1h1v1h-1zm7 2h1v1h-1zm4 0h1v1h-1zm-13 4h1v1h-1zm6 0h1v1h-1zm4 0h1v1h-1zm17 0h1v1h-1zm-15 1h1v1h-1zm-7 1h1v1h-1zm48 0h1v1h-1zm-47 6h1v1h-1zm4 0h1v1h-1z" fill="#7086e0"/>
<path d="M181 413h1v1h-1zm1 0h1v1h-1zm7 0h1v1h-1zm3 0h1v1h-1zm1 0h1v1h-1zm-19 1h1v1h-1zm2 0h1v1h-1zm19 0h1v1h-1zm3 0h1v1h-1zm2 0h1v1h-1zm-28 1h1v1h-1zm28 0h1v1h-1zm7 0h1v1h-1zm-38 1h1v1h-1zm1 0h1v1h-1zm33 0h1v1h-1zm1 0h1v1h-1zm1 0h1v1h-1zm1 0h1v1h-1zm1 0h1v1h-1zm3 0h1v1h-1zm-2 1h1v1h-1zm1 0h1v1h-1zm1 0h1v1h-1zm1 0h1v1h-1zm2 0h1v1h-1zm-47 1h1v1h-1zm42 0h1v1h-1zm-43 1h1v1h-1zm44 0h1v1h-1zm3 0h1v1h-1zm1 0h1v1h-1zm1 0h1v1h-1zm-4 1h1v1h-1zm2 0h1v1h-1zm-50 1h1v1h-1zm51 0h1v1h-1zm-53 1h1v1h-1zm48 0h1v1h-1zm1 0h1v1h-1zm1 0h1v1h-1zm2 0h1v1h-1zm-54 1h1v1h-1zm47 0h1v1h-1zm3 0h1v1h-1zm2 0h1v1h-1zm-53 1h1v1h-1zm47 0h1v1h-1zm1 0h1v1h-1zm-49 1h1v1h-1zm1 0h1v1h-1zm46 0h1v1h-1zm-48 1h1v1h-1zm47 0h1v1h-1zm-47 1h1v1h-1zm44 0h1v1h-1zm1 0h1v1h-1zm-45 1h1v1h-1zm40 1h1v1h-1zm1 0h1v1h-1zm-3 1h1v1h-1zm-40 1h1v1h-1zm1 0h1v1h-1zm37 0h1v1h-1zm-38 2h1v1h-1zm31 1h1v1h-1zm1 0h1v1h-1zm-31 1h1v1h-1zm30 0h1v1h-1zm-30 1h1v1h-1zm25 0h1v1h-1zm3 0h1v1h-1zm-5 1h1v1h-1zm1 0h1v1h-1zm1 0h1v1h-1zm-2 1h1v1h-1zm1 0h1v1h-1zm-23 1h1v1h-1zm22 0h1v1h-1zm1 0h1v1h-1zm-23 1h1v1h-1zm21 0h1v1h-1zm1 0h1v1h-1zm-22 1h1v1h-1zm20 1h1v1h-1zm-1 1h1v1h-1zm-18 1h1v1h-1zm18 0h1v1h-1zm-1 1h1v1h-1zm-1 2h1v1h-1zm-1 1h1v1h-1zm-1 1h1v1h-1zm-9 1h1v1h-1zm7 0h1v1h-1zm1 0h1v1h-1zm-5 1h1v1h-1zm1 0h1v1h-1zm1 0h1v1h-1zm10 8h1v1h-1zm4 0h1v1h-1zm1 0h1v1h-1zm3 0h1v1h-1zm-24 1h1v1h-1zm2 0h1v1h-1zm1 0h1v1h-1zm63 0h1v1h-1zm-69 1h1v1h-1zm70 0h1v1h-1zm0 2h1v1h-1zm-67 1h1v1h-1zm2 0h1v1h-1zm1 0h1v1h-1zm14 1h1v1h-1zm2 0h1v1h-1zm1 0h1v1h-1zm1 0h1v1h-1zm4 0h1v1h-1zm8 0h1v1h-1zm2 0h1v1h-1zm1 0h1v1h-1zm1 0h1v1h-1zm2 0h1v1h-1zm2 0h1v1h-1zm1 0h1v1h-1zm2 0h1v1h-1zm1 0h1v1h-1zm2 0h1v1h-1zm2 0h1v1h-1zm5 0h1v1h-1zm6 0h1v1h-1zm1 0h1v1h-1zm1 0h1v1h-1z" fill="#5068d4"/>
</g><g filter="url(#bl)">
<path d="M183 413h4v1h-4zm5 0h1v1h-1zm-11 1h2v1h-2zm5 0h3v1h-3zm4 0h3v1h-3zm6 0h3v1h-3zm-18 1h5v1h-5zm17 0h3v1h-3zm4 0h3v1h-3zm4 0h1v1h-1zm-28 1h3v1h-3zm24 0h1v1h-1zm2 0h2v1h-2zm3 0h3v1h-3zm-31 1h4v1h-4zm28 0h1v1h-1zm2 0h3v1h-3zm5 0h1v1h-1zm2 0h1v1h-1zm-38 1h3v1h-3zm30 0h4v1h-4zm5 0h5v1h-5zm-37 1h3v1h-3zm33 0h4v1h-4zm5 0h5v1h-5zm-40 1h1v1h-1zm2 0h2v1h-2zm34 0h1v1h-1zm2 0h3v1h-3zm4 0h2v1h-2zm-43 1h3v1h-3zm37 0h2v1h-2zm3 0h5v1h-5zm-41 1h3v1h-3zm37 0h1v1h-1zm2 0h4v1h-4zm5 0h1v1h-1zm-46 1h3v1h-3zm39 0h1v1h-1zm2 0h4v1h-4zm-42 1h3v1h-3zm39 0h4v1h-4zm-40 1h3v1h-3zm40 0h3v1h-3zm-41 1h3v1h-3zm39 0h2v1h-2zm-40 1h3v1h-3zm38 0h4v1h-4zm-38 1h2v1h-2zm37 0h4v1h-4zm-38 1h3v1h-3zm36 0h4v1h-4zm-36 1h1v1h-1zm2 0h1v1h-1zm32 0h4v1h-4zm-34 1h2v1h-2zm32 0h4v1h-4zm-32 1h2v1h-2zm28 0h6v1h-6zm-28 1h2v1h-2zm24 0h8v1h-8zm-23 1h1v1h-1zm21 0h2v1h-2zm3 0h4v1h-4zm-24 1h1v1h-1zm19 0h3v1h-3zm5 0h1v1h-1zm-24 1h1v1h-1zm18 0h5v1h-5zm-19 1h2v1h-2zm19 0h1v1h-1zm-19 1h2v1h-2zm18 0h2v1h-2zm-17 1h2v1h-2zm17 0h2v1h-2zm-17 1h2v1h-2zm17 0h2v1h-2zm-16 1h1v1h-1zm16 0h1v1h-1zm-17 1h2v1h-2zm17 0h1v1h-1zm-15 1h1v1h-1zm14 0h2v1h-2zm-15 1h2v1h-2zm14 0h2v1h-2zm-13 1h2v1h-2zm13 0h2v1h-2zm-13 1h1v1h-1zm2 0h1v1h-1zm11 0h1v1h-1zm-12 1h3v1h-3zm9 0h2v1h-2zm3 0h1v1h-1zm-11 1h1v1h-1zm2 0h9v1h-9zm-1 1h1v1h-1zm2 0h6v1h-6zm3 1h1v1h-1zm0 10h18v1h-18zm19 0h34v1h-34zm35 0h6v1h-6zm-61 1h6v1h-6zm67 0h1v1h-1zm-69 1h5v1h-5zm2 1h5v1h-5zm67 0h1v1h-1zm-62 1h1v1h-1zm3 0h4v1h-4zm5 0h3v1h-3zm53 0h1v1h-1z" fill="#4a88da"/>
<path d="M179 415h12v1h-12zm-4 1h8v1h-8zm11 0h9v1h-9zm-13 1h4v1h-4zm18 0h6v1h-6zm-20 1h4v1h-4zm22 0h5v1h-5zm-24 1h4v1h-4zm25 0h5v1h-5zm-26 1h3v1h-3zm27 0h5v1h-5zm-29 1h4v1h-4zm29 0h5v1h-5zm-30 1h3v1h-3zm30 0h4v1h-4zm-32 1h4v1h-4zm32 0h4v1h-4zm-33 1h4v1h-4zm32 0h4v1h-4zm-33 1h4v1h-4zm32 0h4v1h-4zm-33 1h4v1h-4zm32 0h4v1h-4zm-33 1h4v1h-4zm32 0h3v1h-3zm-33 1h4v1h-4zm31 0h4v1h-4zm-31 1h3v1h-3zm29 0h4v1h-4zm-29 1h2v1h-2zm26 0h5v1h-5zm-27 1h3v1h-3zm22 0h8v1h-8zm-22 1h3v1h-3zm16 0h10v1h-10zm-16 1h2v1h-2zm15 0h7v1h-7zm-15 1h2v1h-2zm15 0h4v1h-4zm-15 1h2v1h-2zm15 0h3v1h-3zm-15 1h2v1h-2zm15 0h2v1h-2zm-15 1h2v1h-2zm14 0h3v1h-3zm-14 1h2v1h-2zm14 0h2v1h-2zm-13 1h2v1h-2zm13 0h2v1h-2zm-13 1h2v1h-2zm13 0h2v1h-2zm-13 1h2v1h-2zm12 0h3v1h-3zm-12 1h3v1h-3zm12 0h2v1h-2zm-11 1h2v1h-2zm10 0h3v1h-3zm-10 1h3v1h-3zm9 0h3v1h-3zm-8 1h4v1h-4zm7 0h3v1h-3zm-6 1h9v1h-9zm1 1h6v1h-6zm3 14h11v1h-11zm59 0h2v1h-2zm-62 1h8v1h-8zm64 0h1v1h-1zm-62 1h10v1h-10zm61 0h1v1h-1zm-50 1h10v1h-10zm11 0h39v1h-39z" fill="#38a0dc"/>
<path d="M183 416h3v1h-3zm-6 1h14v1h-14zm-2 1h4v1h-4zm13 0h5v1h-5zm-15 1h3v1h-3zm17 0h4v1h-4zm-19 1h3v1h-3zm21 0h3v1h-3zm-22 1h2v1h-2zm22 0h3v1h-3zm-24 1h3v1h-3zm24 0h3v1h-3zm-25 1h3v1h-3zm25 0h3v1h-3zm-26 1h4v1h-4zm25 0h3v1h-3zm-26 1h4v1h-4zm25 0h3v1h-3zm-26 1h5v1h-5zm25 0h3v1h-3zm-26 1h5v1h-5zm25 0h3v1h-3zm-26 1h4v1h-4zm23 0h4v1h-4zm-24 1h4v1h-4zm21 0h5v1h-5zm-22 1h3v1h-3zm10 0h14v1h-14zm-10 1h2v1h-2zm10 0h9v1h-9zm-10 1h2v1h-2zm10 0h3v1h-3zm-11 1h2v1h-2zm11 0h2v1h-2zm-11 1h2v1h-2zm11 0h2v1h-2zm-11 1h2v1h-2zm11 0h2v1h-2zm-11 1h2v1h-2zm11 0h2v1h-2zm-11 1h2v1h-2zm10 0h2v1h-2zm-10 1h2v1h-2zm10 0h2v1h-2zm-9 1h1v1h-1zm9 0h2v1h-2zm-9 1h2v1h-2zm9 0h2v1h-2zm-9 1h2v1h-2zm8 0h2v1h-2zm-7 1h2v1h-2zm6 0h3v1h-3zm-6 1h8v1h-8zm1 1h6v1h-6zm2 1h3v1h-3zm12 16h48v1h-48zm-6 1h56v1h-56zm4 1h51v1h-51z" fill="#40b8b0"/>
<path d="M179 418h9v1h-9zm-3 1h14v1h-14zm-2 1h5v1h-5zm13 0h5v1h-5zm-15 1h4v1h-4zm16 0h4v1h-4zm-17 1h4v1h-4zm17 0h4v1h-4zm-18 1h4v1h-4zm18 0h4v1h-4zm-18 1h4v1h-4zm18 0h3v1h-3zm-19 1h5v1h-5zm18 0h3v1h-3zm-18 1h5v1h-5zm16 0h4v1h-4zm-17 1h8v1h-8zm14 0h6v1h-6zm-16 1h19v1h-19zm-1 1h17v1h-17zm-2 1h7v1h-7zm-1 1h8v1h-8zm0 1h8v1h-8zm-1 1h9v1h-9zm0 1h9v1h-9zm0 1h9v1h-9zm0 1h9v1h-9zm0 1h8v1h-8zm0 1h8v1h-8zm0 1h8v1h-8zm1 1h7v1h-7zm0 1h6v1h-6zm1 1h4v1h-4z" fill="#50c050"/>
<path d="M179 420h8v1h-8zm-3 1h12v1h-12zm-1 1h5v1h-5zm9 0h4v1h-4zm-10 1h4v1h-4zm10 0h4v1h-4zm-10 1h4v1h-4zm9 0h5v1h-5zm-9 1h13v1h-13zm0 1h11v1h-11zm2 1h6v1h-6z" fill="#c8e030"/>
<path d="M180 422h4v1h-4zm-2 1h6v1h-6zm0 1h5v1h-5z" fill="#f0a020"/>
</g>
</g>
<path d="M160 452 C172 453 186 449 196 445 C207 439 212 432 214 426" fill="none" stroke="#9a4c8e" stroke-width="0.6" opacity="0.55"/>
<rect x="152.5" y="403.7" width="81.8" height="72.5" fill="none" stroke="#8a8a8a" stroke-width="0.8"/>
<line x1="151.3" y1="403.7" x2="152.5" y2="403.7" stroke="#555" stroke-width="0.45"/>
<line x1="151.8" y1="406.12" x2="152.5" y2="406.12" stroke="#555" stroke-width="0.45"/>
<line x1="151.8" y1="408.53" x2="152.5" y2="408.53" stroke="#555" stroke-width="0.45"/>
<line x1="151.8" y1="410.95" x2="152.5" y2="410.95" stroke="#555" stroke-width="0.45"/>
<line x1="151.8" y1="413.37" x2="152.5" y2="413.37" stroke="#555" stroke-width="0.45"/>
<line x1="151.3" y1="415.78" x2="152.5" y2="415.78" stroke="#555" stroke-width="0.45"/>
<line x1="151.8" y1="418.2" x2="152.5" y2="418.2" stroke="#555" stroke-width="0.45"/>
<line x1="151.8" y1="420.62" x2="152.5" y2="420.62" stroke="#555" stroke-width="0.45"/>
<line x1="151.8" y1="423.03" x2="152.5" y2="423.03" stroke="#555" stroke-width="0.45"/>
<line x1="151.8" y1="425.45" x2="152.5" y2="425.45" stroke="#555" stroke-width="0.45"/>
<line x1="151.3" y1="427.87" x2="152.5" y2="427.87" stroke="#555" stroke-width="0.45"/>
<line x1="151.8" y1="430.28" x2="152.5" y2="430.28" stroke="#555" stroke-width="0.45"/>
<line x1="151.8" y1="432.7" x2="152.5" y2="432.7" stroke="#555" stroke-width="0.45"/>
<line x1="151.8" y1="435.12" x2="152.5" y2="435.12" stroke="#555" stroke-width="0.45"/>
<line x1="151.8" y1="437.53" x2="152.5" y2="437.53" stroke="#555" stroke-width="0.45"/>
<line x1="151.3" y1="439.95" x2="152.5" y2="439.95" stroke="#555" stroke-width="0.45"/>
<line x1="151.8" y1="442.37" x2="152.5" y2="442.37" stroke="#555" stroke-width="0.45"/>
<line x1="151.8" y1="444.78" x2="152.5" y2="444.78" stroke="#555" stroke-width="0.45"/>
<line x1="151.8" y1="447.2" x2="152.5" y2="447.2" stroke="#555" stroke-width="0.45"/>
<line x1="151.8" y1="449.62" x2="152.5" y2="449.62" stroke="#555" stroke-width="0.45"/>
<line x1="151.3" y1="452.03" x2="152.5" y2="452.03" stroke="#555" stroke-width="0.45"/>
<line x1="151.8" y1="454.45" x2="152.5" y2="454.45" stroke="#555" stroke-width="0.45"/>
<line x1="151.8" y1="456.87" x2="152.5" y2="456.87" stroke="#555" stroke-width="0.45"/>
<line x1="151.8" y1="459.28" x2="152.5" y2="459.28" stroke="#555" stroke-width="0.45"/>
<line x1="151.8" y1="461.7" x2="152.5" y2="461.7" stroke="#555" stroke-width="0.45"/>
<line x1="151.3" y1="464.12" x2="152.5" y2="464.12" stroke="#555" stroke-width="0.45"/>
<line x1="151.8" y1="466.53" x2="152.5" y2="466.53" stroke="#555" stroke-width="0.45"/>
<line x1="151.8" y1="468.95" x2="152.5" y2="468.95" stroke="#555" stroke-width="0.45"/>
<line x1="151.8" y1="471.37" x2="152.5" y2="471.37" stroke="#555" stroke-width="0.45"/>
<line x1="151.8" y1="473.78" x2="152.5" y2="473.78" stroke="#555" stroke-width="0.45"/>
<line x1="151.3" y1="476.2" x2="152.5" y2="476.2" stroke="#555" stroke-width="0.45"/>
<line x1="152.5" y1="476.2" x2="152.5" y2="477.6" stroke="#555" stroke-width="0.45"/>
<line x1="155.23" y1="476.2" x2="155.23" y2="477" stroke="#555" stroke-width="0.45"/>
<line x1="157.95" y1="476.2" x2="157.95" y2="477" stroke="#555" stroke-width="0.45"/>
<line x1="160.68" y1="476.2" x2="160.68" y2="477" stroke="#555" stroke-width="0.45"/>
<line x1="163.41" y1="476.2" x2="163.41" y2="477" stroke="#555" stroke-width="0.45"/>
<line x1="166.13" y1="476.2" x2="166.13" y2="477.6" stroke="#555" stroke-width="0.45"/>
<line x1="168.86" y1="476.2" x2="168.86" y2="477" stroke="#555" stroke-width="0.45"/>
<line x1="171.59" y1="476.2" x2="171.59" y2="477" stroke="#555" stroke-width="0.45"/>
<line x1="174.31" y1="476.2" x2="174.31" y2="477" stroke="#555" stroke-width="0.45"/>
<line x1="177.04" y1="476.2" x2="177.04" y2="477" stroke="#555" stroke-width="0.45"/>
<line x1="179.77" y1="476.2" x2="179.77" y2="477.6" stroke="#555" stroke-width="0.45"/>
<line x1="182.49" y1="476.2" x2="182.49" y2="477" stroke="#555" stroke-width="0.45"/>
<line x1="185.22" y1="476.2" x2="185.22" y2="477" stroke="#555" stroke-width="0.45"/>
<line x1="187.95" y1="476.2" x2="187.95" y2="477" stroke="#555" stroke-width="0.45"/>
<line x1="190.67" y1="476.2" x2="190.67" y2="477" stroke="#555" stroke-width="0.45"/>
<line x1="193.4" y1="476.2" x2="193.4" y2="477.6" stroke="#555" stroke-width="0.45"/>
<line x1="196.13" y1="476.2" x2="196.13" y2="477" stroke="#555" stroke-width="0.45"/>
<line x1="198.85" y1="476.2" x2="198.85" y2="477" stroke="#555" stroke-width="0.45"/>
<line x1="201.58" y1="476.2" x2="201.58" y2="477" stroke="#555" stroke-width="0.45"/>
<line x1="204.31" y1="476.2" x2="204.31" y2="477" stroke="#555" stroke-width="0.45"/>
<line x1="207.03" y1="476.2" x2="207.03" y2="477.6" stroke="#555" stroke-width="0.45"/>
<line x1="209.76" y1="476.2" x2="209.76" y2="477" stroke="#555" stroke-width="0.45"/>
<line x1="212.49" y1="476.2" x2="212.49" y2="477" stroke="#555" stroke-width="0.45"/>
<line x1="215.21" y1="476.2" x2="215.21" y2="477" stroke="#555" stroke-width="0.45"/>
<line x1="217.94" y1="476.2" x2="217.94" y2="477" stroke="#555" stroke-width="0.45"/>
<line x1="220.67" y1="476.2" x2="220.67" y2="477.6" stroke="#555" stroke-width="0.45"/>
<line x1="223.39" y1="476.2" x2="223.39" y2="477" stroke="#555" stroke-width="0.45"/>
<line x1="226.12" y1="476.2" x2="226.12" y2="477" stroke="#555" stroke-width="0.45"/>
<line x1="228.85" y1="476.2" x2="228.85" y2="477" stroke="#555" stroke-width="0.45"/>
<line x1="231.57" y1="476.2" x2="231.57" y2="477" stroke="#555" stroke-width="0.45"/>
<line x1="234.3" y1="476.2" x2="234.3" y2="477.6" stroke="#555" stroke-width="0.45"/>
<text x="193.2" y="441.8" font-size="4.3" font-weight="bold" text-anchor="start" fill="#962a84">73.3</text>
<text x="191.4" y="399.1" font-size="8.5" font-weight="bold" text-anchor="middle" fill="#000" textLength="22.4" lengthAdjust="spacingAndGlyphs">AraC</text>
<text x="150.2" y="411.3" font-size="4.1" font-weight="bold" text-anchor="end">10<tspan font-size="2.87" dy="-1.64">5</tspan></text>
<line x1="150.7" y1="409.8" x2="152.5" y2="409.8" stroke="#333" stroke-width="0.7"/>
<text x="150.2" y="425.8" font-size="4.1" font-weight="bold" text-anchor="end">10<tspan font-size="2.87" dy="-1.64">4</tspan></text>
<line x1="150.7" y1="424.3" x2="152.5" y2="424.3" stroke="#333" stroke-width="0.7"/>
<text x="150.2" y="440.9" font-size="4.1" font-weight="bold" text-anchor="end">10<tspan font-size="2.87" dy="-1.64">3</tspan></text>
<line x1="150.7" y1="439.4" x2="152.5" y2="439.4" stroke="#333" stroke-width="0.7"/>
<text x="150.2" y="456.8" font-size="4.1" font-weight="bold" text-anchor="end">10<tspan font-size="2.87" dy="-1.64">2</tspan></text>
<line x1="150.7" y1="455.3" x2="152.5" y2="455.3" stroke="#333" stroke-width="0.7"/>
<text x="149" y="463.7" font-size="4.2" font-weight="bold" text-anchor="end" fill="#000">0</text>
<line x1="150.7" y1="462.3" x2="152.5" y2="462.3" stroke="#333" stroke-width="0.7"/>
<text x="140.2" y="444.7" font-size="7" font-weight="bold" text-anchor="middle" fill="#000" transform="rotate(-90 140.2 444.7)">CD45</text>
<text x="152.9" y="484.8" font-size="4.2" font-weight="bold" text-anchor="middle" fill="#000">0</text>
<text x="167.8" y="484.8" font-size="4.2" font-weight="bold" text-anchor="middle" fill="#000">50K</text>
<text x="182.7" y="484.8" font-size="4.2" font-weight="bold" text-anchor="middle" fill="#000">100K</text>
<text x="198.6" y="484.8" font-size="4.2" font-weight="bold" text-anchor="middle" fill="#000">150K</text>
<text x="214" y="484.8" font-size="4.2" font-weight="bold" text-anchor="middle" fill="#000">200K</text>
<text x="229.4" y="484.8" font-size="4.2" font-weight="bold" text-anchor="middle" fill="#000">250K</text>
<text x="193" y="489.6" font-size="5.2" font-weight="bold" text-anchor="middle" fill="#000" textLength="29" lengthAdjust="spacingAndGlyphs">Side Scatter</text>
<clipPath id="c7"><rect x="260.9" y="403.7" width="81.4" height="72.5"/></clipPath>
<g clip-path="url(#c7)">
<g filter="url(#bs)">
<path d="M290 412h1v1h-1zm40 0h1v1h-1zm-32 1h1v1h-1zm33 2h1v1h-1zm7 1h1v1h-1zm-17 1h1v1h-1zm-32 1h1v1h-1zm40 0h1v1h-1zm-18 1h1v1h-1zm18 1h1v1h-1zm-5 4h1v1h-1zm8 2h1v1h-1zm6 3h1v1h-1zm-40 1h1v1h-1zm37 0h1v1h-1zm-9 1h1v1h-1zm-4 1h1v1h-1zm0 2h1v1h-1zm5 0h1v1h-1zm10 0h1v1h-1zm-53 2h1v1h-1zm25 0h1v1h-1zm31 0h1v1h-1zm-54 2h1v1h-1zm22 0h1v1h-1zm2 0h1v1h-1zm24 1h1v1h-1zm-28 1h1v1h-1zm-6 1h1v1h-1zm-11 1h1v1h-1zm16 1h1v1h-1zm34 0h1v1h-1zm-6 3h1v1h-1zm-34 3h1v1h-1zm-37 1h1v1h-1zm47 0h1v1h-1zm3 1h1v1h-1zm3 1h1v1h-1zm7 1h1v1h-1zm2 0h1v1h-1zm-11 1h1v1h-1zm17 0h1v1h-1zm-47 2h1v1h-1zm17 0h1v1h-1zm6 0h1v1h-1zm6 1h1v1h-1zm28 1h1v1h-1zm-43 1h1v1h-1zm-22 3h1v1h-1zm52 1h1v1h-1zm5 2h1v1h-1zm-29 1h1v1h-1zm-23 1h1v1h-1zm-4 2h1v1h-1zm9 0h1v1h-1zm30 0h1v1h-1zm10 1h1v1h-1zm-33 1h1v1h-1zm32 1h1v1h-1zm-51 2h1v1h-1zm1 1h1v1h-1z" fill="#b4bcea"/>
<path d="M316 412h1v1h-1zm11 0h1v1h-1zm-43 1h1v1h-1zm-21 1h1v1h-1zm23 0h1v1h-1zm-21 1h1v1h-1zm72 0h1v1h-1zm-10 1h1v1h-1zm-54 1h1v1h-1zm69 4h1v1h-1zm-14 3h1v1h-1zm-10 2h1v1h-1zm18 0h1v1h-1zm-20 2h1v1h-1zm8 1h1v1h-1zm2 1h1v1h-1zm10 0h1v1h-1zm-39 1h1v1h-1zm26 0h1v1h-1zm13 2h1v1h-1zm-11 2h1v1h-1zm-30 1h1v1h-1zm8 0h1v1h-1zm7 0h1v1h-1zm-14 1h1v1h-1zm36 0h1v1h-1zm-4 1h1v1h-1zm-30 2h1v1h-1zm-13 4h1v1h-1zm23 0h1v1h-1zm-27 3h1v1h-1zm0 1h1v1h-1zm11 0h1v1h-1zm3 2h1v1h-1zm2 1h1v1h-1zm14 1h1v1h-1zm-49 1h1v1h-1zm37 0h1v1h-1zm18 1h1v1h-1zm1 1h1v1h-1zm2 0h1v1h-1zm0 1h1v1h-1zm-18 1h1v1h-1zm5 0h1v1h-1zm-43 1h1v1h-1zm76 1h1v1h-1zm-64 2h1v1h-1zm-3 2h1v1h-1zm39 0h1v1h-1zm3 0h1v1h-1zm-20 1h1v1h-1zm42 1h1v1h-1zm-46 1h1v1h-1zm44 0h1v1h-1zm-12 1h1v1h-1zm10 2h1v1h-1zm-71 1h1v1h-1zm4 0h1v1h-1zm34 0h1v1h-1zm26 0h1v1h-1zm-6 1h1v1h-1zm-1 1h1v1h-1zm-48 2h1v1h-1zm17 0h1v1h-1zm-17 1h1v1h-1z" fill="#c0c4ee"/>
<path d="M281 413h1v1h-1zm55 0h1v1h-1zm-50 2h1v1h-1zm-25 1h1v1h-1zm36 0h1v1h-1zm31 0h1v1h-1zm5 0h1v1h-1zm-48 1h1v1h-1zm43 5h1v1h-1zm-1 1h1v1h-1zm12 1h1v1h-1zm-2 1h1v1h-1zm-15 5h1v1h-1zm-3 1h1v1h-1zm-5 2h1v1h-1zm-53 1h1v1h-1zm43 0h1v1h-1zm-12 4h1v1h-1zm-4 1h1v1h-1zm13 0h1v1h-1zm-16 3h1v1h-1zm8 0h1v1h-1zm22 0h1v1h-1zm6 0h1v1h-1zm16 1h1v1h-1zm-51 1h1v1h-1zm48 1h1v1h-1zm1 0h1v1h-1zm-25 1h1v1h-1zm-4 2h1v1h-1zm-10 1h1v1h-1zm14 1h1v1h-1zm-17 1h1v1h-1zm11 0h1v1h-1zm15 0h1v1h-1zm-21 1h1v1h-1zm7 3h1v1h-1zm4 0h1v1h-1zm-25 1h1v1h-1zm41 0h1v1h-1zm-30 3h1v1h-1zm8 0h1v1h-1zm29 0h1v1h-1zm-43 1h1v1h-1zm-1 2h1v1h-1zm38 0h1v1h-1zm5 0h1v1h-1zm2 1h1v1h-1zm-48 1h1v1h-1zm2 0h1v1h-1zm15 0h1v1h-1zm-24 1h1v1h-1zm-11 1h1v1h-1zm10 0h1v1h-1zm37 0h1v1h-1zm14 0h1v1h-1zm1 0h1v1h-1zm-53 1h1v1h-1zm56 0h1v1h-1zm-68 2h1v1h-1zm75 1h1v1h-1zm-55 1h1v1h-1zm9 0h1v1h-1zm-28 2h1v1h-1zm47 0h1v1h-1zm22 1h1v1h-1zm-58 1h1v1h-1zm49 0h1v1h-1zm8 0h1v1h-1z" fill="#bcb4e2"/>
<path d="M263 412h1v1h-1zm4 1h1v1h-1zm38 1h1v1h-1zm14 1h1v1h-1zm-53 1h1v1h-1zm52 2h1v1h-1zm-6 3h1v1h-1zm11 5h1v1h-1zm-13 1h1v1h-1zm27 0h1v1h-1zm4 5h1v1h-1zm-39 1h1v1h-1zm-39 2h1v1h-1zm66 0h1v1h-1zm8 0h1v1h-1zm-45 1h1v1h-1zm32 0h1v1h-1zm3 1h1v1h-1zm-32 1h1v1h-1zm4 1h1v1h-1zm-14 2h1v1h-1zm20 0h1v1h-1zm25 2h1v1h-1zm-69 1h1v1h-1zm31 1h1v1h-1zm40 1h1v1h-1zm8 0h1v1h-1zm-1 2h1v1h-1zm-40 3h1v1h-1zm24 1h1v1h-1zm9 5h1v1h-1zm-41 1h1v1h-1zm17 5h1v1h-1zm6 2h1v1h-1zm-53 1h1v1h-1zm80 0h1v1h-1zm-46 1h1v1h-1zm38 1h1v1h-1zm-73 2h1v1h-1zm61 0h1v1h-1zm0 1h1v1h-1zm17 1h1v1h-1zm-55 1h1v1h-1zm53 0h1v1h-1zm-33 3h1v1h-1zm12 0h1v1h-1z" fill="#c8cef2"/>
<path d="M322 410h1v1h-1zm-5 1h1v1h-1zm11 1h1v1h-1zm-27 1h1v1h-1zm14 1h1v1h-1zm-22 1h1v1h-1zm19 0h1v1h-1zm-39 1h1v1h-1zm11 1h1v1h-1zm-10 1h1v1h-1zm52 0h1v1h-1zm8 0h1v1h-1zm-68 1h1v1h-1zm54 5h1v1h-1zm6 0h1v1h-1zm-30 9h1v1h-1zm-6 1h1v1h-1zm2 0h1v1h-1zm-31 2h1v1h-1zm38 0h1v1h-1zm-2 1h1v1h-1zm-4 3h1v1h-1zm1 1h1v1h-1zm-33 1h1v1h-1zm26 1h1v1h-1zm7 1h1v1h-1zm-12 3h1v1h-1zm-20 5h1v1h-1zm18 0h1v1h-1zm1 0h1v1h-1zm1 4h1v1h-1zm-3 5h1v1h-1zm0 2h1v1h-1zm-5 6h1v1h-1zm-9 1h1v1h-1z" fill="#6a7edc"/>
<path d="M305 413h1v1h-1zm1 1h1v1h-1zm0 1h1v1h-1zm19 0h1v1h-1zm4 0h1v1h-1zm-51 1h1v1h-1zm10 0h1v1h-1zm-7 1h1v1h-1zm-3 1h1v1h-1zm47 0h1v1h-1zm-62 4h1v1h-1zm52 9h1v1h-1zm-54 2h1v1h-1zm-1 10h1v1h-1zm1 3h1v1h-1zm0 1h1v1h-1zm19 4h1v1h-1zm-17 8h1v1h-1zm1 2h1v1h-1zm1 3h1v1h-1zm11 1h1v1h-1zm0 1h1v1h-1zm-10 2h1v1h-1zm5 0h1v1h-1zm-3 1h1v1h-1zm3 0h1v1h-1z" fill="#7a8adc"/>
<path d="M275 408h1v1h-1zm23 7h1v1h-1zm1 0h1v1h-1zm4 0h1v1h-1zm2 0h1v1h-1zm-14 1h1v1h-1zm2 0h1v1h-1zm-25 3h1v1h-1zm61 0h1v1h-1zm1 0h1v1h-1zm5 1h1v1h-1zm-71 3h1v1h-1zm67 2h1v1h-1zm-9 2h1v1h-1zm-12 2h1v1h-1zm-4 1h1v1h-1zm12 0h1v1h-1zm-18 1h1v1h-1zm-3 2h1v1h-1zm2 2h1v1h-1zm23 0h1v1h-1zm-26 1h1v1h-1zm-13 2h1v1h-1zm4 1h1v1h-1zm4 0h1v1h-1zm12 1h1v1h-1zm-43 5h1v1h-1zm0 2h1v1h-1zm21 7h1v1h-1zm2 1h1v1h-1zm-21 1h1v1h-1zm18 1h1v1h-1zm-3 8h1v1h-1zm-14 1h1v1h-1zm18 0h1v1h-1zm-7 6h1v1h-1z" fill="#8a96e0"/>
<path d="M299 412h1v1h-1zm-3 2h1v1h-1zm11 0h1v1h-1zm3 0h1v1h-1zm3 1h1v1h-1zm14 0h1v1h-1zm-42 1h1v1h-1zm35 0h1v1h-1zm-51 1h1v1h-1zm1 0h1v1h-1zm-3 1h1v1h-1zm4 0h1v1h-1zm53 3h1v1h-1zm-4 2h1v1h-1zm6 2h1v1h-1zm-65 2h1v1h-1zm50 0h1v1h-1zm-2 1h1v1h-1zm-8 3h1v1h-1zm2 0h1v1h-1zm-42 1h1v1h-1zm40 0h1v1h-1zm3 0h1v1h-1zm-11 1h1v1h-1zm2 0h1v1h-1zm11 0h1v1h-1zm23 0h1v1h-1zm-31 1h1v1h-1zm16 1h1v1h-1zm-13 1h1v1h-1zm3 0h1v1h-1zm-21 4h1v1h-1zm1 0h1v1h-1zm22 1h1v1h-1zm-20 1h1v1h-1zm-23 13h1v1h-1zm0 2h1v1h-1zm3 9h1v1h-1zm2 2h1v1h-1zm10 0h1v1h-1zm-8 1h1v1h-1zm-3 2h1v1h-1zm0 3h1v1h-1zm5 0h1v1h-1z" fill="#96a0e4"/>
<path d="M313 413h1v1h-1zm-16 1h1v1h-1zm-8 2h1v1h-1zm32 0h1v1h-1zm1 0h1v1h-1zm-51 1h1v1h-1zm12 0h1v1h-1zm44 2h1v1h-1zm3 1h1v1h-1zm-67 3h1v1h-1zm56 2h1v1h-1zm-6 4h1v1h-1zm-52 1h1v1h-1zm57 2h1v1h-1zm-3 1h1v1h-1zm-9 1h1v1h-1zm-9 1h1v1h-1zm9 0h1v1h-1zm-16 2h1v1h-1zm24 0h1v1h-1zm-15 1h1v1h-1zm-38 1h1v1h-1zm30 2h1v1h-1zm17 0h1v1h-1zm-22 2h1v1h-1zm15 3h1v1h-1zm-21 9h1v1h-1zm1 5h1v1h-1zm-4 1h1v1h-1zm-14 4h1v1h-1zm12 1h1v1h-1zm-10 2h1v1h-1zm12 0h1v1h-1zm-8 2h1v1h-1zm7 1h1v1h-1zm1 4h1v1h-1z" fill="#7086e0"/>
<path d="M294 416h1v1h-1zm1 0h1v1h-1zm1 0h1v1h-1zm2 0h1v1h-1zm2 0h1v1h-1zm1 0h1v1h-1zm4 0h1v1h-1zm1 0h1v1h-1zm2 0h1v1h-1zm1 0h1v1h-1zm1 0h1v1h-1zm5 0h1v1h-1zm3 0h1v1h-1zm-30 1h1v1h-1zm25 0h1v1h-1zm4 0h1v1h-1zm1 0h1v1h-1zm1 0h1v1h-1zm3 0h1v1h-1zm-38 1h1v1h-1zm33 0h1v1h-1zm2 0h1v1h-1zm2 0h1v1h-1zm1 0h1v1h-1zm-52 1h1v1h-1zm3 0h1v1h-1zm1 0h1v1h-1zm1 0h1v1h-1zm2 0h1v1h-1zm2 0h1v1h-1zm1 0h1v1h-1zm40 0h1v1h-1zm3 0h1v1h-1zm-54 1h1v1h-1zm50 0h1v1h-1zm2 0h1v1h-1zm1 0h1v1h-1zm-55 1h1v1h-1zm52 0h1v1h-1zm1 0h1v1h-1zm1 0h1v1h-1zm-4 1h1v1h-1zm1 0h1v1h-1zm-53 1h1v1h-1zm50 0h1v1h-1zm1 0h1v1h-1zm2 0h1v1h-1zm1 0h1v1h-1zm-55 1h1v1h-1zm0 1h1v1h-1zm49 0h1v1h-1zm1 0h1v1h-1zm-51 1h1v1h-1zm46 0h1v1h-1zm1 0h1v1h-1zm-47 1h1v1h-1zm43 0h1v1h-1zm3 0h1v1h-1zm-5 1h1v1h-1zm3 0h1v1h-1zm-45 1h1v1h-1zm40 0h1v1h-1zm1 0h1v1h-1zm-2 1h1v1h-1zm-5 1h1v1h-1zm-34 1h1v1h-1zm29 0h1v1h-1zm2 0h1v1h-1zm1 0h1v1h-1zm1 0h1v1h-1zm1 0h1v1h-1zm-34 1h1v1h-1zm25 0h1v1h-1zm1 0h1v1h-1zm2 0h1v1h-1zm-28 1h1v1h-1zm21 0h1v1h-1zm1 0h1v1h-1zm1 0h1v1h-1zm2 0h1v1h-1zm1 0h1v1h-1zm-7 4h1v1h-1zm1 1h1v1h-1zm-1 1h1v1h-1zm-19 4h1v1h-1zm0 1h1v1h-1zm19 0h1v1h-1zm-19 2h1v1h-1zm18 1h1v1h-1zm-17 2h1v1h-1zm17 0h1v1h-1zm-17 1h1v1h-1zm16 0h1v1h-1zm0 1h1v1h-1zm-15 5h1v1h-1zm14 0h1v1h-1zm-13 1h1v1h-1zm0 1h1v1h-1zm1 2h1v1h-1zm-1 1h1v1h-1zm1 1h1v1h-1zm1 0h1v1h-1zm7 0h1v1h-1zm-8 1h1v1h-1zm7 0h1v1h-1zm1 0h1v1h-1zm-7 1h1v1h-1zm1 0h1v1h-1zm1 0h1v1h-1zm2 0h1v1h-1zm1 0h1v1h-1zm-4 1h1v1h-1zm2 0h1v1h-1zm1 1h1v1h-1zm1 0h1v1h-1z" fill="#5068d4"/>
</g><g filter="url(#bl)">
<path d="M293 417h8v1h-8zm12 0h1v1h-1zm2 0h5v1h-5zm-20 1h2v1h-2zm3 0h1v1h-1zm2 0h4v1h-4zm5 0h6v1h-6zm7 0h3v1h-3zm5 0h1v1h-1zm2 0h4v1h-4zm5 0h1v1h-1zm-35 1h1v1h-1zm2 0h4v1h-4zm16 0h12v1h-12zm16 0h2v1h-2zm-45 1h1v1h-1zm4 0h7v1h-7zm8 0h1v1h-1zm21 0h12v1h-12zm13 0h2v1h-2zm-47 1h3v1h-3zm4 0h7v1h-7zm32 0h7v1h-7zm9 0h4v1h-4zm-47 1h4v1h-4zm38 0h3v1h-3zm4 0h2v1h-2zm3 0h4v1h-4zm-45 1h2v1h-2zm38 0h2v1h-2zm3 0h1v1h-1zm2 0h4v1h-4zm-43 1h1v1h-1zm37 0h7v1h-7zm8 0h1v1h-1zm-47 1h2v1h-2zm37 0h9v1h-9zm-38 1h2v1h-2zm37 0h2v1h-2zm3 0h2v1h-2zm-5 1h1v1h-1zm2 0h4v1h-4zm-38 1h2v1h-2zm34 0h4v1h-4zm5 0h1v1h-1zm-38 1h1v1h-1zm30 0h2v1h-2zm3 0h3v1h-3zm-34 1h1v1h-1zm27 0h7v1h-7zm-27 1h1v1h-1zm21 0h4v1h-4zm5 0h4v1h-4zm5 0h1v1h-1zm-31 1h1v1h-1zm18 0h10v1h-10zm-18 1h1v1h-1zm17 0h6v1h-6zm-17 1h1v1h-1zm17 0h1v1h-1zm-18 1h1v1h-1zm18 0h1v1h-1zm-17 1h1v1h-1zm17 0h2v1h-2zm-18 1h2v1h-2zm18 0h2v1h-2zm-17 1h1v1h-1zm17 0h1v1h-1zm-18 1h2v1h-2zm18 0h1v1h-1zm-18 1h2v1h-2zm18 0h1v1h-1zm-17 1h1v1h-1zm17 0h1v1h-1zm-18 1h2v1h-2zm17 0h2v1h-2zm-16 1h1v1h-1zm16 0h2v1h-2zm-16 1h1v1h-1zm17 0h1v1h-1zm-1 1h1v1h-1zm-16 1h1v1h-1zm16 0h1v1h-1zm-16 1h2v1h-2zm0 1h2v1h-2zm15 0h1v1h-1zm-14 1h1v1h-1zm14 0h2v1h-2zm-14 1h1v1h-1zm14 0h2v1h-2zm-14 1h2v1h-2zm13 0h2v1h-2zm-12 1h1v1h-1zm12 0h2v1h-2zm-12 1h2v1h-2zm11 0h1v1h-1zm-11 1h2v1h-2zm11 0h2v1h-2zm-11 1h3v1h-3zm10 0h3v1h-3zm-8 1h1v1h-1zm8 0h2v1h-2zm-10 1h4v1h-4zm9 0h1v1h-1zm2 0h1v1h-1zm-10 1h5v1h-5zm6 0h3v1h-3zm4 0h1v1h-1zm-10 1h10v1h-10zm0 1h5v1h-5zm6 0h1v1h-1zm2 0h2v1h-2zm-7 1h8v1h-8zm2 1h3v1h-3zm5 0h1v1h-1zm-6 1h4v1h-4zm1 1h1v1h-1zm2 0h1v1h-1z" fill="#4a88da"/>
<path d="M287 419h12v1h-12zm-4 1h4v1h-4zm5 0h13v1h-13zm14 0h1v1h-1zm-22 1h5v1h-5zm16 0h9v1h-9zm-25 1h2v1h-2zm3 0h9v1h-9zm24 0h7v1h-7zm-29 1h12v1h-12zm29 0h7v1h-7zm-30 1h4v1h-4zm5 0h6v1h-6zm25 0h4v1h-4zm5 0h1v1h-1zm-36 1h2v1h-2zm30 0h5v1h-5zm-31 1h2v1h-2zm30 0h5v1h-5zm-31 1h2v1h-2zm29 0h5v1h-5zm-29 1h2v1h-2zm26 0h6v1h-6zm-26 1h1v1h-1zm15 0h14v1h-14zm-15 1h1v1h-1zm14 0h11v1h-11zm-15 1h2v1h-2zm14 0h6v1h-6zm-14 1h2v1h-2zm14 0h3v1h-3zm-14 1h2v1h-2zm14 0h2v1h-2zm-14 1h1v1h-1zm14 0h2v1h-2zm-14 1h1v1h-1zm14 0h2v1h-2zm-14 1h1v1h-1zm14 0h2v1h-2zm-14 1h1v1h-1zm14 0h2v1h-2zm-14 1h1v1h-1zm14 0h2v1h-2zm-14 1h1v1h-1zm14 0h2v1h-2zm-14 1h1v1h-1zm14 0h2v1h-2zm-14 1h1v1h-1zm14 0h1v1h-1zm-14 1h1v1h-1zm14 0h1v1h-1zm-14 1h1v1h-1zm14 0h1v1h-1zm-14 1h1v1h-1zm14 0h1v1h-1zm-14 1h2v1h-2zm13 0h2v1h-2zm-13 1h2v1h-2zm13 0h2v1h-2zm-12 1h1v1h-1zm12 0h2v1h-2zm-12 1h2v1h-2zm12 0h1v1h-1zm-12 1h2v1h-2zm11 0h2v1h-2zm-11 1h2v1h-2zm11 0h2v1h-2zm-10 1h2v1h-2zm9 0h2v1h-2zm-9 1h3v1h-3zm8 0h3v1h-3zm-7 1h3v1h-3zm6 0h3v1h-3zm-6 1h9v1h-9zm1 1h7v1h-7zm0 1h7v1h-7zm1 1h5v1h-5z" fill="#38a0dc"/>
<path d="M285 421h11v1h-11zm-2 1h5v1h-5zm9 0h6v1h-6zm-11 1h4v1h-4zm12 0h5v1h-5zm-21 1h1v1h-1zm7 0h5v1h-5zm15 0h4v1h-4zm-25 1h14v1h-14zm24 0h4v1h-4zm-25 1h16v1h-16zm23 0h5v1h-5zm-24 1h3v1h-3zm8 0h19v1h-19zm-8 1h2v1h-2zm9 0h15v1h-15zm-10 1h2v1h-2zm10 0h4v1h-4zm-10 1h2v1h-2zm10 0h3v1h-3zm-10 1h1v1h-1zm10 0h2v1h-2zm-10 1h1v1h-1zm11 0h1v1h-1zm-11 1h1v1h-1zm11 0h1v1h-1zm-12 1h2v1h-2zm12 0h1v1h-1zm-12 1h1v1h-1zm12 0h1v1h-1zm-12 1h1v1h-1zm12 0h1v1h-1zm-12 1h1v1h-1zm12 0h1v1h-1zm-12 1h1v1h-1zm12 0h1v1h-1zm-12 1h1v1h-1zm12 0h1v1h-1zm-12 1h1v1h-1zm12 0h1v1h-1zm-12 1h1v1h-1zm12 0h1v1h-1zm-12 1h1v1h-1zm12 0h1v1h-1zm-12 1h1v1h-1zm12 0h1v1h-1zm-12 1h2v1h-2zm11 0h2v1h-2zm-10 1h1v1h-1zm10 0h1v1h-1zm-10 1h1v1h-1zm10 0h1v1h-1zm-10 1h2v1h-2zm9 0h2v1h-2zm-8 1h1v1h-1zm8 0h2v1h-2zm-8 1h2v1h-2zm7 0h2v1h-2zm-7 1h3v1h-3zm6 0h3v1h-3zm-5 1h7v1h-7zm1 1h5v1h-5zm1 1h3v1h-3z" fill="#40b8b0"/>
<path d="M288 422h4v1h-4zm-3 1h8v1h-8zm-1 1h10v1h-10zm-1 1h10v1h-10zm1 1h7v1h-7zm-14 1h5v1h-5zm-1 1h7v1h-7zm-1 1h8v1h-8zm0 1h2v1h-2zm5 0h3v1h-3zm-6 1h2v1h-2zm7 0h2v1h-2zm-7 1h2v1h-2zm7 0h3v1h-3zm-7 1h1v1h-1zm8 0h2v1h-2zm-8 1h1v1h-1zm8 0h2v1h-2zm-9 1h2v1h-2zm9 0h2v1h-2zm-9 1h2v1h-2zm9 0h2v1h-2zm-9 1h2v1h-2zm9 0h2v1h-2zm-9 1h2v1h-2zm9 0h2v1h-2zm-9 1h2v1h-2zm9 0h2v1h-2zm-9 1h2v1h-2zm9 0h2v1h-2zm-9 1h2v1h-2zm9 0h2v1h-2zm-9 1h2v1h-2zm9 0h2v1h-2zm-9 1h2v1h-2zm9 0h2v1h-2zm-8 1h1v1h-1zm8 0h1v1h-1zm-8 1h2v1h-2zm7 0h2v1h-2zm-7 1h2v1h-2zm7 0h2v1h-2zm-6 1h2v1h-2zm5 0h2v1h-2zm-5 1h7v1h-7zm1 1h5v1h-5zm1 1h3v1h-3z" fill="#50c050"/>
<path d="M270 430h3v1h-3zm-1 1h5v1h-5zm0 1h5v1h-5zm-1 1h3v1h-3zm4 0h3v1h-3zm-4 1h2v1h-2zm5 0h2v1h-2zm-5 1h2v1h-2zm5 0h2v1h-2zm-5 1h1v1h-1zm6 0h1v1h-1zm-6 1h1v1h-1zm6 0h1v1h-1zm-6 1h1v1h-1zm6 0h1v1h-1zm-6 1h1v1h-1zm6 0h1v1h-1zm-6 1h1v1h-1zm6 0h1v1h-1zm-6 1h1v1h-1zm6 0h1v1h-1zm-6 1h1v1h-1zm6 0h1v1h-1zm-6 1h2v1h-2zm5 0h2v1h-2zm-5 1h2v1h-2zm5 0h2v1h-2zm-4 1h5v1h-5zm0 1h5v1h-5zm1 1h3v1h-3z" fill="#c8e030"/>
<path d="M271 433h1v1h-1zm-1 1h3v1h-3zm0 1h3v1h-3zm-1 1h5v1h-5zm0 1h2v1h-2zm3 0h2v1h-2zm-3 1h1v1h-1zm4 0h1v1h-1zm-4 1h1v1h-1zm4 0h1v1h-1zm-4 1h1v1h-1zm4 0h1v1h-1zm-4 1h2v1h-2zm3 0h2v1h-2zm-3 1h5v1h-5zm1 1h3v1h-3zm0 1h3v1h-3z" fill="#f0a020"/>
<path d="M271 437h1v1h-1zm-1 1h3v1h-3zm0 1h3v1h-3zm0 1h3v1h-3zm1 1h1v1h-1z" fill="#e83018"/>
</g>
</g>
<path d="M266 452 C276 453 290 449 300 444 C310 438 316 430 318 422" fill="none" stroke="#9a4c8e" stroke-width="0.6" opacity="0.55"/>
<rect x="260.9" y="403.7" width="81.4" height="72.5" fill="none" stroke="#8a8a8a" stroke-width="0.8"/>
<line x1="259.7" y1="403.7" x2="260.9" y2="403.7" stroke="#555" stroke-width="0.45"/>
<line x1="260.2" y1="406.12" x2="260.9" y2="406.12" stroke="#555" stroke-width="0.45"/>
<line x1="260.2" y1="408.53" x2="260.9" y2="408.53" stroke="#555" stroke-width="0.45"/>
<line x1="260.2" y1="410.95" x2="260.9" y2="410.95" stroke="#555" stroke-width="0.45"/>
<line x1="260.2" y1="413.37" x2="260.9" y2="413.37" stroke="#555" stroke-width="0.45"/>
<line x1="259.7" y1="415.78" x2="260.9" y2="415.78" stroke="#555" stroke-width="0.45"/>
<line x1="260.2" y1="418.2" x2="260.9" y2="418.2" stroke="#555" stroke-width="0.45"/>
<line x1="260.2" y1="420.62" x2="260.9" y2="420.62" stroke="#555" stroke-width="0.45"/>
<line x1="260.2" y1="423.03" x2="260.9" y2="423.03" stroke="#555" stroke-width="0.45"/>
<line x1="260.2" y1="425.45" x2="260.9" y2="425.45" stroke="#555" stroke-width="0.45"/>
<line x1="259.7" y1="427.87" x2="260.9" y2="427.87" stroke="#555" stroke-width="0.45"/>
<line x1="260.2" y1="430.28" x2="260.9" y2="430.28" stroke="#555" stroke-width="0.45"/>
<line x1="260.2" y1="432.7" x2="260.9" y2="432.7" stroke="#555" stroke-width="0.45"/>
<line x1="260.2" y1="435.12" x2="260.9" y2="435.12" stroke="#555" stroke-width="0.45"/>
<line x1="260.2" y1="437.53" x2="260.9" y2="437.53" stroke="#555" stroke-width="0.45"/>
<line x1="259.7" y1="439.95" x2="260.9" y2="439.95" stroke="#555" stroke-width="0.45"/>
<line x1="260.2" y1="442.37" x2="260.9" y2="442.37" stroke="#555" stroke-width="0.45"/>
<line x1="260.2" y1="444.78" x2="260.9" y2="444.78" stroke="#555" stroke-width="0.45"/>
<line x1="260.2" y1="447.2" x2="260.9" y2="447.2" stroke="#555" stroke-width="0.45"/>
<line x1="260.2" y1="449.62" x2="260.9" y2="449.62" stroke="#555" stroke-width="0.45"/>
<line x1="259.7" y1="452.03" x2="260.9" y2="452.03" stroke="#555" stroke-width="0.45"/>
<line x1="260.2" y1="454.45" x2="260.9" y2="454.45" stroke="#555" stroke-width="0.45"/>
<line x1="260.2" y1="456.87" x2="260.9" y2="456.87" stroke="#555" stroke-width="0.45"/>
<line x1="260.2" y1="459.28" x2="260.9" y2="459.28" stroke="#555" stroke-width="0.45"/>
<line x1="260.2" y1="461.7" x2="260.9" y2="461.7" stroke="#555" stroke-width="0.45"/>
<line x1="259.7" y1="464.12" x2="260.9" y2="464.12" stroke="#555" stroke-width="0.45"/>
<line x1="260.2" y1="466.53" x2="260.9" y2="466.53" stroke="#555" stroke-width="0.45"/>
<line x1="260.2" y1="468.95" x2="260.9" y2="468.95" stroke="#555" stroke-width="0.45"/>
<line x1="260.2" y1="471.37" x2="260.9" y2="471.37" stroke="#555" stroke-width="0.45"/>
<line x1="260.2" y1="473.78" x2="260.9" y2="473.78" stroke="#555" stroke-width="0.45"/>
<line x1="259.7" y1="476.2" x2="260.9" y2="476.2" stroke="#555" stroke-width="0.45"/>
<line x1="260.9" y1="476.2" x2="260.9" y2="477.6" stroke="#555" stroke-width="0.45"/>
<line x1="263.61" y1="476.2" x2="263.61" y2="477" stroke="#555" stroke-width="0.45"/>
<line x1="266.33" y1="476.2" x2="266.33" y2="477" stroke="#555" stroke-width="0.45"/>
<line x1="269.04" y1="476.2" x2="269.04" y2="477" stroke="#555" stroke-width="0.45"/>
<line x1="271.75" y1="476.2" x2="271.75" y2="477" stroke="#555" stroke-width="0.45"/>
<line x1="274.47" y1="476.2" x2="274.47" y2="477.6" stroke="#555" stroke-width="0.45"/>
<line x1="277.18" y1="476.2" x2="277.18" y2="477" stroke="#555" stroke-width="0.45"/>
<line x1="279.89" y1="476.2" x2="279.89" y2="477" stroke="#555" stroke-width="0.45"/>
<line x1="282.61" y1="476.2" x2="282.61" y2="477" stroke="#555" stroke-width="0.45"/>
<line x1="285.32" y1="476.2" x2="285.32" y2="477" stroke="#555" stroke-width="0.45"/>
<line x1="288.03" y1="476.2" x2="288.03" y2="477.6" stroke="#555" stroke-width="0.45"/>
<line x1="290.75" y1="476.2" x2="290.75" y2="477" stroke="#555" stroke-width="0.45"/>
<line x1="293.46" y1="476.2" x2="293.46" y2="477" stroke="#555" stroke-width="0.45"/>
<line x1="296.17" y1="476.2" x2="296.17" y2="477" stroke="#555" stroke-width="0.45"/>
<line x1="298.89" y1="476.2" x2="298.89" y2="477" stroke="#555" stroke-width="0.45"/>
<line x1="301.6" y1="476.2" x2="301.6" y2="477.6" stroke="#555" stroke-width="0.45"/>
<line x1="304.31" y1="476.2" x2="304.31" y2="477" stroke="#555" stroke-width="0.45"/>
<line x1="307.03" y1="476.2" x2="307.03" y2="477" stroke="#555" stroke-width="0.45"/>
<line x1="309.74" y1="476.2" x2="309.74" y2="477" stroke="#555" stroke-width="0.45"/>
<line x1="312.45" y1="476.2" x2="312.45" y2="477" stroke="#555" stroke-width="0.45"/>
<line x1="315.17" y1="476.2" x2="315.17" y2="477.6" stroke="#555" stroke-width="0.45"/>
<line x1="317.88" y1="476.2" x2="317.88" y2="477" stroke="#555" stroke-width="0.45"/>
<line x1="320.59" y1="476.2" x2="320.59" y2="477" stroke="#555" stroke-width="0.45"/>
<line x1="323.31" y1="476.2" x2="323.31" y2="477" stroke="#555" stroke-width="0.45"/>
<line x1="326.02" y1="476.2" x2="326.02" y2="477" stroke="#555" stroke-width="0.45"/>
<line x1="328.73" y1="476.2" x2="328.73" y2="477.6" stroke="#555" stroke-width="0.45"/>
<line x1="331.45" y1="476.2" x2="331.45" y2="477" stroke="#555" stroke-width="0.45"/>
<line x1="334.16" y1="476.2" x2="334.16" y2="477" stroke="#555" stroke-width="0.45"/>
<line x1="336.87" y1="476.2" x2="336.87" y2="477" stroke="#555" stroke-width="0.45"/>
<line x1="339.59" y1="476.2" x2="339.59" y2="477" stroke="#555" stroke-width="0.45"/>
<line x1="342.3" y1="476.2" x2="342.3" y2="477.6" stroke="#555" stroke-width="0.45"/>
<text x="299.5" y="441.8" font-size="4.3" font-weight="bold" text-anchor="start" fill="#962a84">86.7</text>
<text x="301.9" y="399.1" font-size="8.5" font-weight="bold" text-anchor="middle" fill="#000" textLength="43.8" lengthAdjust="spacingAndGlyphs">DAC 10 nM</text>
<text x="258.6" y="411.3" font-size="4.1" font-weight="bold" text-anchor="end">10<tspan font-size="2.87" dy="-1.64">5</tspan></text>
<line x1="259.1" y1="409.8" x2="260.9" y2="409.8" stroke="#333" stroke-width="0.7"/>
<text x="258.6" y="425.8" font-size="4.1" font-weight="bold" text-anchor="end">10<tspan font-size="2.87" dy="-1.64">4</tspan></text>
<line x1="259.1" y1="424.3" x2="260.9" y2="424.3" stroke="#333" stroke-width="0.7"/>
<text x="258.6" y="440.9" font-size="4.1" font-weight="bold" text-anchor="end">10<tspan font-size="2.87" dy="-1.64">3</tspan></text>
<line x1="259.1" y1="439.4" x2="260.9" y2="439.4" stroke="#333" stroke-width="0.7"/>
<text x="258.6" y="456.8" font-size="4.1" font-weight="bold" text-anchor="end">10<tspan font-size="2.87" dy="-1.64">2</tspan></text>
<line x1="259.1" y1="455.3" x2="260.9" y2="455.3" stroke="#333" stroke-width="0.7"/>
<text x="257.4" y="463.7" font-size="4.2" font-weight="bold" text-anchor="end" fill="#000">0</text>
<line x1="259.1" y1="462.3" x2="260.9" y2="462.3" stroke="#333" stroke-width="0.7"/>
<text x="248.6" y="444.7" font-size="7" font-weight="bold" text-anchor="middle" fill="#000" transform="rotate(-90 248.6 444.7)">CD45</text>
<text x="261.3" y="484.8" font-size="4.2" font-weight="bold" text-anchor="middle" fill="#000">0</text>
<text x="276.2" y="484.8" font-size="4.2" font-weight="bold" text-anchor="middle" fill="#000">50K</text>
<text x="291.1" y="484.8" font-size="4.2" font-weight="bold" text-anchor="middle" fill="#000">100K</text>
<text x="307" y="484.8" font-size="4.2" font-weight="bold" text-anchor="middle" fill="#000">150K</text>
<text x="322.4" y="484.8" font-size="4.2" font-weight="bold" text-anchor="middle" fill="#000">200K</text>
<text x="337.8" y="484.8" font-size="4.2" font-weight="bold" text-anchor="middle" fill="#000">250K</text>
<text x="301.4" y="489.6" font-size="5.2" font-weight="bold" text-anchor="middle" fill="#000" textLength="29" lengthAdjust="spacingAndGlyphs">Side Scatter</text>
<clipPath id="c8"><rect x="366.7" y="404.2" width="81.8" height="71.8"/></clipPath>
<g clip-path="url(#c8)">
<g filter="url(#bs)">
<path d="M368 413h1v1h-1zm44 0h1v1h-1zm3 2h1v1h-1zm13 0h1v1h-1zm3 0h1v1h-1zm-32 2h1v1h-1zm-16 2h1v1h-1zm-10 1h1v1h-1zm47 0h1v1h-1zm-39 1h1v1h-1zm53 0h1v1h-1zm1 3h1v1h-1zm-6 1h1v1h-1zm4 0h1v1h-1zm5 1h1v1h-1zm2 0h1v1h-1zm-3 1h1v1h-1zm-36 3h1v1h-1zm23 2h1v1h-1zm-12 1h1v1h-1zm-7 1h1v1h-1zm6 0h1v1h-1zm29 0h1v1h-1zm-30 1h1v1h-1zm27 2h1v1h-1zm-16 3h1v1h-1zm21 0h1v1h-1zm-50 1h1v1h-1zm17 2h1v1h-1zm12 0h1v1h-1zm17 0h1v1h-1zm-51 2h1v1h-1zm54 0h1v1h-1zm-43 1h1v1h-1zm42 0h1v1h-1zm-6 1h1v1h-1zm-44 1h1v1h-1zm1 0h1v1h-1zm16 0h1v1h-1zm32 1h1v1h-1zm4 1h1v1h-1zm-43 4h1v1h-1zm37 0h1v1h-1zm-42 1h1v1h-1zm13 0h1v1h-1zm39 0h1v1h-1zm-43 1h1v1h-1zm-16 1h1v1h-1zm51 0h1v1h-1zm-47 2h1v1h-1zm-1 5h1v1h-1zm7 1h1v1h-1zm14 0h1v1h-1zm-6 3h1v1h-1zm-31 1h1v1h-1zm25 0h1v1h-1zm46 1h1v1h-1zm-59 1h1v1h-1zm56 1h1v1h-1zm-30 1h1v1h-1zm30 0h1v1h-1zm-39 1h1v1h-1zm-26 1h1v1h-1zm6 0h1v1h-1zm62 0h1v1h-1z" fill="#b4bcea"/>
<path d="M398 413h1v1h-1zm10 1h1v1h-1zm10 2h1v1h-1zm-48 1h1v1h-1zm68 0h1v1h-1zm-34 1h1v1h-1zm-32 3h1v1h-1zm69 0h1v1h-1zm-5 4h1v1h-1zm10 1h1v1h-1zm-17 2h1v1h-1zm-3 2h1v1h-1zm18 2h1v1h-1zm-54 7h1v1h-1zm48 1h1v1h-1zm-26 1h1v1h-1zm7 0h1v1h-1zm6 0h1v1h-1zm10 0h1v1h-1zm-38 1h1v1h-1zm35 0h1v1h-1zm-39 3h1v1h-1zm3 0h1v1h-1zm13 0h1v1h-1zm-12 7h1v1h-1zm22 0h1v1h-1zm3 0h1v1h-1zm11 0h1v1h-1zm3 1h1v1h-1zm-6 2h1v1h-1zm2 0h1v1h-1zm-41 1h1v1h-1zm-4 1h1v1h-1zm-18 2h1v1h-1zm75 0h1v1h-1zm-77 1h1v1h-1zm71 1h1v1h-1zm-54 1h1v1h-1zm41 0h1v1h-1zm-11 1h1v1h-1zm-39 1h1v1h-1zm34 0h1v1h-1zm31 0h1v1h-1zm-54 1h1v1h-1zm52 0h1v1h-1zm-40 1h1v1h-1zm-14 1h1v1h-1zm22 0h1v1h-1zm-2 1h1v1h-1zm14 0h1v1h-1zm21 2h1v1h-1zm-19 1h1v1h-1zm-10 2h1v1h-1zm-1 1h1v1h-1zm-24 1h1v1h-1z" fill="#c0c4ee"/>
<path d="M417 412h1v1h-1zm-23 1h1v1h-1zm46 0h1v1h-1zm-11 1h1v1h-1zm-21 1h1v1h-1zm-7 1h1v1h-1zm-22 2h1v1h-1zm-7 1h1v1h-1zm68 1h1v1h-1zm0 1h1v1h-1zm-65 1h1v1h-1zm-6 6h1v1h-1zm-2 2h1v1h-1zm73 0h1v1h-1zm-10 1h1v1h-1zm-25 1h1v1h-1zm22 0h1v1h-1zm-7 1h1v1h-1zm-54 2h1v1h-1zm58 0h1v1h-1zm0 1h1v1h-1zm-12 1h1v1h-1zm12 0h1v1h-1zm20 0h1v1h-1zm2 0h1v1h-1zm-23 2h1v1h-1zm-8 6h1v1h-1zm8 2h1v1h-1zm-27 1h1v1h-1zm-6 1h1v1h-1zm9 1h1v1h-1zm15 2h1v1h-1zm1 2h1v1h-1zm23 2h1v1h-1zm-46 2h1v1h-1zm16 0h1v1h-1zm38 0h1v1h-1zm-36 1h1v1h-1zm8 0h1v1h-1zm25 0h1v1h-1zm-22 1h1v1h-1zm-8 1h1v1h-1zm17 1h1v1h-1zm-46 1h1v1h-1zm34 0h1v1h-1zm-11 2h1v1h-1zm13 0h1v1h-1zm25 1h1v1h-1zm-40 1h1v1h-1zm24 0h1v1h-1zm9 0h1v1h-1zm-35 1h1v1h-1zm2 0h1v1h-1zm-17 4h1v1h-1zm27 0h1v1h-1zm5 0h1v1h-1zm-47 1h1v1h-1zm15 1h1v1h-1zm6 0h1v1h-1z" fill="#bcb4e2"/>
<path d="M369 412h1v1h-1zm55 1h1v1h-1zm-7 1h1v1h-1zm5 0h1v1h-1zm12 0h1v1h-1zm-11 1h1v1h-1zm3 0h1v1h-1zm18 0h1v1h-1zm-68 2h1v1h-1zm69 0h1v1h-1zm-22 9h1v1h-1zm13 1h1v1h-1zm-9 2h1v1h-1zm21 1h1v1h-1zm-34 1h1v1h-1zm18 1h1v1h-1zm-31 2h1v1h-1zm8 2h1v1h-1zm34 0h1v1h-1zm-50 2h1v1h-1zm15 1h1v1h-1zm1 0h1v1h-1zm22 1h1v1h-1zm-11 1h1v1h-1zm22 2h1v1h-1zm-37 1h1v1h-1zm10 0h1v1h-1zm26 0h1v1h-1zm-11 1h1v1h-1zm-62 2h1v1h-1zm59 0h1v1h-1zm-1 1h1v1h-1zm2 0h1v1h-1zm-7 1h1v1h-1zm17 2h1v1h-1zm-43 1h1v1h-1zm20 0h1v1h-1zm-21 2h1v1h-1zm13 0h1v1h-1zm-23 2h1v1h-1zm12 1h1v1h-1zm10 0h1v1h-1zm34 0h1v1h-1zm-11 5h1v1h-1zm-9 1h1v1h-1zm22 0h1v1h-1zm-5 4h1v1h-1zm-21 1h1v1h-1zm29 0h1v1h-1zm-55 1h1v1h-1zm3 0h1v1h-1zm45 0h1v1h-1zm-60 1h1v1h-1zm-10 2h1v1h-1zm26 0h1v1h-1zm40 0h1v1h-1zm-53 2h1v1h-1zm3 0h1v1h-1zm52 0h1v1h-1zm-69 1h1v1h-1z" fill="#c8cef2"/>
<path d="M387 413h1v1h-1zm2 0h1v1h-1zm17 0h1v1h-1zm1 1h1v1h-1zm-35 3h1v1h-1zm63 0h1v1h-1zm1 3h1v1h-1zm-67 2h1v1h-1zm68 0h1v1h-1zm-17 4h1v1h-1zm-53 2h1v1h-1zm52 0h1v1h-1zm9 2h1v1h-1zm-62 1h1v1h-1zm47 1h1v1h-1zm-47 1h1v1h-1zm44 1h1v1h-1zm-14 1h1v1h-1zm2 0h1v1h-1zm2 1h1v1h-1zm11 0h1v1h-1zm-22 8h1v1h-1zm8 0h1v1h-1zm-7 2h1v1h-1zm-23 1h1v1h-1zm21 2h1v1h-1zm-20 2h1v1h-1zm-1 1h1v1h-1zm1 2h1v1h-1zm18 1h1v1h-1zm-19 6h1v1h-1zm15 4h1v1h-1zm-2 6h1v1h-1zm-7 4h1v1h-1z" fill="#6a7edc"/>
<path d="M385 409h1v1h-1zm46 4h1v1h-1zm-15 1h1v1h-1zm17 4h1v1h-1zm-60 1h1v1h-1zm64 0h1v1h-1zm-3 1h1v1h-1zm2 1h1v1h-1zm-69 6h1v1h-1zm53 1h1v1h-1zm27 1h1v1h-1zm-34 1h1v1h-1zm-14 4h1v1h-1zm17 0h1v1h-1zm5 0h1v1h-1zm-21 1h1v1h-1zm-6 1h1v1h-1zm4 0h1v1h-1zm18 0h1v1h-1zm-22 1h1v1h-1zm-28 6h1v1h-1zm27 1h1v1h-1zm-2 1h1v1h-1zm-23 8h1v1h-1zm22 0h1v1h-1zm-20 6h1v1h-1zm-4 6h1v1h-1zm6 1h1v1h-1zm11 0h1v1h-1zm-2 1h1v1h-1zm-3 1h1v1h-1zm0 1h1v1h-1zm-1 1h1v1h-1zm-3 1h1v1h-1z" fill="#7a8adc"/>
<path d="M406 411h1v1h-1zm14 2h1v1h-1zm-11 2h1v1h-1zm-20 1h1v1h-1zm48 0h1v1h-1zm-47 1h1v1h-1zm1 0h1v1h-1zm42 2h1v1h-1zm-63 4h1v1h-1zm-2 1h1v1h-1zm0 1h1v1h-1zm52 2h1v1h-1zm2 1h1v1h-1zm-55 1h1v1h-1zm49 0h1v1h-1zm-10 3h1v1h-1zm13 0h1v1h-1zm-11 1h1v1h-1zm-13 3h1v1h-1zm15 0h1v1h-1zm-15 1h1v1h-1zm34 0h1v1h-1zm-63 1h1v1h-1zm43 0h1v1h-1zm-17 1h1v1h-1zm5 1h1v1h-1zm-6 1h1v1h-1zm3 1h1v1h-1zm10 0h1v1h-1zm-11 1h1v1h-1zm-26 2h1v1h-1zm40 1h1v1h-1zm-20 6h1v1h-1zm1 0h1v1h-1zm-2 5h1v1h-1zm-2 8h1v1h-1zm-4 1h1v1h-1zm-1 1h1v1h-1zm-4 1h1v1h-1zm-6 1h1v1h-1zm12 0h1v1h-1z" fill="#8a96e0"/>
<path d="M435 412h1v1h-1zm-27 1h1v1h-1zm13 1h1v1h-1zm-18 1h1v1h-1zm32 0h1v1h-1zm-5 1h1v1h-1zm4 0h1v1h-1zm-48 2h1v1h-1zm1 0h1v1h-1zm-8 1h1v1h-1zm1 0h1v1h-1zm54 0h1v1h-1zm-65 1h1v1h-1zm3 0h1v1h-1zm58 2h1v1h-1zm3 0h1v1h-1zm-6 1h1v1h-1zm1 0h1v1h-1zm6 0h1v1h-1zm-7 1h1v1h-1zm-60 1h1v1h-1zm1 1h1v1h-1zm51 1h1v1h-1zm12 0h1v1h-1zm-15 1h1v1h-1zm12 0h1v1h-1zm6 3h1v1h-1zm-26 1h1v1h-1zm4 0h1v1h-1zm-6 1h1v1h-1zm-3 1h1v1h-1zm14 0h1v1h-1zm-13 3h1v1h-1zm12 0h1v1h-1zm-13 2h1v1h-1zm-37 6h1v1h-1zm23 0h1v1h-1zm13 0h1v1h-1zm0 1h1v1h-1zm-35 2h1v1h-1zm37 0h1v1h-1zm-37 6h1v1h-1zm23 0h1v1h-1zm-22 1h1v1h-1zm0 3h1v1h-1zm-2 1h1v1h-1zm4 1h1v1h-1zm-1 1h1v1h-1zm0 3h1v1h-1zm3 3h1v1h-1zm5 1h1v1h-1zm4 0h1v1h-1zm-1 1h1v1h-1zm-4 1h1v1h-1z" fill="#96a0e4"/>
<path d="M422 409h1v1h-1zm-9 2h1v1h-1zm1 0h1v1h-1zm-4 1h1v1h-1zm-20 1h1v1h-1zm51 0h1v1h-1zm-10 1h1v1h-1zm-24 1h1v1h-1zm18 0h1v1h-1zm-40 2h1v1h-1zm1 0h1v1h-1zm-9 2h1v1h-1zm58 2h1v1h-1zm-4 1h1v1h-1zm-1 1h1v1h-1zm-13 5h1v1h-1zm1 1h1v1h-1zm-6 1h1v1h-1zm4 1h1v1h-1zm-11 2h1v1h-1zm-8 3h1v1h-1zm-5 2h1v1h-1zm13 0h1v1h-1zm-14 4h1v1h-1zm-1 1h1v1h-1zm-23 3h1v1h-1zm24 0h1v1h-1zm-2 2h1v1h-1zm0 1h1v1h-1zm-20 6h1v1h-1zm18 3h1v1h-1zm-19 3h1v1h-1zm15 3h1v1h-1zm-12 2h1v1h-1zm3 1h1v1h-1zm2 1h1v1h-1zm3 0h1v1h-1zm-7 1h1v1h-1zm0 2h1v1h-1zm2 1h1v1h-1z" fill="#7086e0"/>
<path d="M410 415h1v1h-1zm4 0h1v1h-1zm7 0h1v1h-1zm1 0h1v1h-1zm-23 1h1v1h-1zm3 0h1v1h-1zm1 0h1v1h-1zm2 0h1v1h-1zm3 0h1v1h-1zm2 0h1v1h-1zm1 0h1v1h-1zm1 0h1v1h-1zm1 0h1v1h-1zm1 0h1v1h-1zm1 0h1v1h-1zm5 0h1v1h-1zm1 0h1v1h-1zm1 0h1v1h-1zm1 0h1v1h-1zm1 0h1v1h-1zm4 0h1v1h-1zm-36 1h1v1h-1zm1 0h1v1h-1zm2 0h1v1h-1zm1 0h1v1h-1zm28 0h1v1h-1zm1 0h1v1h-1zm1 0h1v1h-1zm1 0h1v1h-1zm1 0h1v1h-1zm1 0h1v1h-1zm-4 1h1v1h-1zm4 0h1v1h-1zm1 0h1v1h-1zm1 0h1v1h-1zm-47 1h1v1h-1zm1 0h1v1h-1zm1 0h1v1h-1zm40 0h1v1h-1zm1 0h1v1h-1zm1 0h1v1h-1zm3 0h1v1h-1zm-55 1h1v1h-1zm2 0h1v1h-1zm1 0h1v1h-1zm2 0h1v1h-1zm45 0h1v1h-1zm3 0h1v1h-1zm-3 1h1v1h-1zm1 0h1v1h-1zm1 0h1v1h-1zm-1 1h1v1h-1zm1 0h1v1h-1zm-57 1h1v1h-1zm1 0h1v1h-1zm50 0h1v1h-1zm1 0h1v1h-1zm0 1h1v1h-1zm-53 1h1v1h-1zm49 0h1v1h-1zm1 0h1v1h-1zm1 0h1v1h-1zm-5 1h1v1h-1zm2 0h1v1h-1zm1 0h1v1h-1zm-51 1h1v1h-1zm0 1h1v1h-1zm44 0h1v1h-1zm1 0h1v1h-1zm1 0h1v1h-1zm-9 3h1v1h-1zm-38 1h1v1h-1zm34 0h1v1h-1zm1 0h1v1h-1zm-5 1h1v1h-1zm1 0h1v1h-1zm4 0h1v1h-1zm-35 1h1v1h-1zm26 0h1v1h-1zm1 0h1v1h-1zm2 0h1v1h-1zm2 0h1v1h-1zm-5 1h1v1h-1zm-1 1h1v1h-1zm-25 1h1v1h-1zm0 1h1v1h-1zm22 0h1v1h-1zm-22 2h1v1h-1zm0 1h1v1h-1zm21 1h1v1h-1zm1 0h1v1h-1zm-22 1h1v1h-1zm1 2h1v1h-1zm0 3h1v1h-1zm1 2h1v1h-1zm0 1h1v1h-1zm0 1h1v1h-1zm17 0h1v1h-1zm-1 1h1v1h-1zm-16 1h1v1h-1zm1 0h1v1h-1zm0 1h1v1h-1zm15 1h1v1h-1zm-14 1h1v1h-1zm13 0h1v1h-1zm-14 1h1v1h-1zm13 0h1v1h-1zm-12 1h1v1h-1zm1 0h1v1h-1zm11 0h1v1h-1zm-11 1h1v1h-1zm-1 1h1v1h-1zm1 0h1v1h-1zm9 0h1v1h-1zm-9 1h1v1h-1zm1 0h1v1h-1zm-1 1h1v1h-1zm1 0h1v1h-1zm1 0h1v1h-1zm7 0h1v1h-1zm-5 1h1v1h-1zm2 0h1v1h-1zm3 0h1v1h-1zm-7 1h1v1h-1zm1 0h1v1h-1zm2 0h1v1h-1zm3 0h1v1h-1zm-5 1h1v1h-1zm1 0h1v1h-1zm0 1h1v1h-1z" fill="#5068d4"/>
</g><g filter="url(#bl)">
<path d="M397 417h2v1h-2zm3 0h1v1h-1zm2 0h4v1h-4zm5 0h6v1h-6zm7 0h5v1h-5zm6 0h2v1h-2zm-28 1h12v1h-12zm13 0h9v1h-9zm10 0h2v1h-2zm3 0h2v1h-2zm3 0h4v1h-4zm-34 1h6v1h-6zm23 0h10v1h-10zm11 0h3v1h-3zm-39 1h2v1h-2zm3 0h2v1h-2zm3 0h1v1h-1zm25 0h7v1h-7zm8 0h2v1h-2zm-45 1h5v1h-5zm6 0h4v1h-4zm32 0h6v1h-6zm7 0h2v1h-2zm-47 1h1v1h-1zm2 0h6v1h-6zm38 0h4v1h-4zm6 0h1v1h-1zm3 0h1v1h-1zm-50 1h3v1h-3zm40 0h5v1h-5zm7 0h1v1h-1zm-49 1h2v1h-2zm41 0h1v1h-1zm2 0h4v1h-4zm5 0h1v1h-1zm-48 1h2v1h-2zm40 0h4v1h-4zm-41 1h2v1h-2zm40 0h2v1h-2zm3 0h3v1h-3zm-44 1h3v1h-3zm39 0h3v1h-3zm4 0h1v1h-1zm-42 1h1v1h-1zm36 0h2v1h-2zm3 0h3v1h-3zm-40 1h2v1h-2zm34 0h5v1h-5zm6 0h1v1h-1zm-41 1h2v1h-2zm32 0h1v1h-1zm3 0h3v1h-3zm-35 1h2v1h-2zm28 0h7v1h-7zm-28 1h2v1h-2zm22 0h2v1h-2zm3 0h6v1h-6zm-25 1h2v1h-2zm20 0h2v1h-2zm3 0h6v1h-6zm-22 1h1v1h-1zm18 0h3v1h-3zm5 0h1v1h-1zm-23 1h1v1h-1zm18 0h2v1h-2zm-18 1h1v1h-1zm18 0h3v1h-3zm-18 1h1v1h-1zm18 0h1v1h-1zm-19 1h2v1h-2zm19 0h2v1h-2zm-19 1h2v1h-2zm19 0h2v1h-2zm-18 1h1v1h-1zm18 0h1v1h-1zm-19 1h2v1h-2zm19 0h2v1h-2zm-19 1h2v1h-2zm19 0h1v1h-1zm-18 1h1v1h-1zm18 0h1v1h-1zm-19 1h1v1h-1zm18 0h2v1h-2zm-17 1h1v1h-1zm1 1h1v1h-1zm17 0h1v1h-1zm-18 1h1v1h-1zm18 0h1v1h-1zm-18 1h2v1h-2zm16 0h1v1h-1zm-16 1h1v1h-1zm16 0h1v1h-1zm-15 1h2v1h-2zm14 0h1v1h-1zm-13 1h1v1h-1zm13 0h1v1h-1zm-14 1h3v1h-3zm13 0h3v1h-3zm-13 1h3v1h-3zm13 0h2v1h-2zm-11 1h2v1h-2zm10 0h1v1h-1zm2 0h1v1h-1zm-13 1h4v1h-4zm10 0h4v1h-4zm-10 1h2v1h-2zm3 0h2v1h-2zm6 0h4v1h-4zm-8 1h12v1h-12zm0 1h1v1h-1zm3 0h5v1h-5zm6 0h2v1h-2zm-8 1h1v1h-1zm2 0h6v1h-6zm-1 1h8v1h-8zm-1 1h3v1h-3zm5 0h3v1h-3zm-3 1h1v1h-1zm2 0h4v1h-4zm-2 1h4v1h-4zm2 1h1v1h-1z" fill="#4a88da"/>
<path d="M394 419h16v1h-16zm-5 1h8v1h-8zm13 0h11v1h-11zm-16 1h6v1h-6zm20 0h8v1h-8zm-24 1h7v1h-7zm25 0h7v1h-7zm-31 1h11v1h-11zm31 0h6v1h-6zm-33 1h10v1h-10zm33 0h5v1h-5zm-34 1h4v1h-4zm33 0h5v1h-5zm-34 1h3v1h-3zm33 0h5v1h-5zm-33 1h2v1h-2zm31 0h5v1h-5zm-32 1h2v1h-2zm30 0h5v1h-5zm-30 1h2v1h-2zm26 0h6v1h-6zm-27 1h2v1h-2zm17 0h13v1h-13zm-17 1h2v1h-2zm16 0h5v1h-5zm6 0h4v1h-4zm-22 1h2v1h-2zm15 0h5v1h-5zm-15 1h2v1h-2zm15 0h3v1h-3zm-15 1h2v1h-2zm15 0h2v1h-2zm-15 1h2v1h-2zm15 0h2v1h-2zm-15 1h1v1h-1zm15 0h2v1h-2zm-15 1h1v1h-1zm15 0h2v1h-2zm-15 1h1v1h-1zm15 0h2v1h-2zm-15 1h1v1h-1zm15 0h2v1h-2zm-15 1h1v1h-1zm15 0h2v1h-2zm-15 1h1v1h-1zm15 0h2v1h-2zm-15 1h1v1h-1zm15 0h2v1h-2zm-15 1h2v1h-2zm15 0h1v1h-1zm-15 1h2v1h-2zm15 0h1v1h-1zm-15 1h2v1h-2zm14 0h2v1h-2zm-13 1h1v1h-1zm13 0h2v1h-2zm-13 1h2v1h-2zm13 0h2v1h-2zm-13 1h2v1h-2zm12 0h2v1h-2zm-12 1h3v1h-3zm12 0h2v1h-2zm-11 1h2v1h-2zm10 0h2v1h-2zm-10 1h3v1h-3zm9 0h3v1h-3zm-8 1h3v1h-3zm7 0h3v1h-3zm-6 1h9v1h-9zm0 1h8v1h-8zm1 1h6v1h-6zm1 1h4v1h-4z" fill="#38a0dc"/>
<path d="M397 420h5v1h-5zm-5 1h14v1h-14zm-3 1h5v1h-5zm13 0h5v1h-5zm-15 1h4v1h-4zm16 0h4v1h-4zm-19 1h5v1h-5zm19 0h4v1h-4zm-26 1h11v1h-11zm25 0h4v1h-4zm-27 1h13v1h-13zm26 0h4v1h-4zm-27 1h4v1h-4zm6 0h9v1h-9zm19 0h4v1h-4zm-26 1h3v1h-3zm9 0h19v1h-19zm-9 1h2v1h-2zm10 0h14v1h-14zm-11 1h2v1h-2zm11 0h4v1h-4zm-11 1h2v1h-2zm11 0h3v1h-3zm-11 1h1v1h-1zm11 0h2v1h-2zm-11 1h1v1h-1zm11 0h2v1h-2zm-11 1h1v1h-1zm12 0h1v1h-1zm-12 1h1v1h-1zm12 0h1v1h-1zm-13 1h2v1h-2zm13 0h1v1h-1zm-13 1h2v1h-2zm13 0h1v1h-1zm-13 1h1v1h-1zm13 0h1v1h-1zm-13 1h1v1h-1zm13 0h1v1h-1zm-13 1h1v1h-1zm13 0h1v1h-1zm-13 1h2v1h-2zm13 0h1v1h-1zm-13 1h2v1h-2zm13 0h1v1h-1zm-12 1h1v1h-1zm12 0h1v1h-1zm-12 1h1v1h-1zm11 0h2v1h-2zm-11 1h1v1h-1zm11 0h1v1h-1zm-11 1h2v1h-2zm11 0h1v1h-1zm-10 1h1v1h-1zm9 0h2v1h-2zm-9 1h2v1h-2zm8 0h2v1h-2zm-7 1h2v1h-2zm7 0h2v1h-2zm-7 1h8v1h-8zm1 1h6v1h-6zm1 1h4v1h-4z" fill="#40b8b0"/>
<path d="M394 422h8v1h-8zm-3 1h12v1h-12zm-2 1h14v1h-14zm-1 1h14v1h-14zm0 1h13v1h-13zm-10 1h2v1h-2zm11 0h10v1h-10zm-13 1h6v1h-6zm-1 1h8v1h-8zm-1 1h9v1h-9zm0 1h3v1h-3zm6 0h3v1h-3zm-7 1h3v1h-3zm8 0h2v1h-2zm-8 1h2v1h-2zm8 0h2v1h-2zm-8 1h2v1h-2zm9 0h2v1h-2zm-9 1h2v1h-2zm9 0h2v1h-2zm-9 1h1v1h-1zm9 0h2v1h-2zm-9 1h1v1h-1zm9 0h2v1h-2zm-10 1h2v1h-2zm10 0h2v1h-2zm-10 1h2v1h-2zm10 0h2v1h-2zm-10 1h2v1h-2zm10 0h2v1h-2zm-9 1h1v1h-1zm9 0h2v1h-2zm-9 1h1v1h-1zm9 0h2v1h-2zm-9 1h2v1h-2zm9 0h2v1h-2zm-9 1h2v1h-2zm9 0h1v1h-1zm-9 1h2v1h-2zm8 0h2v1h-2zm-7 1h2v1h-2zm6 0h3v1h-3zm-6 1h4v1h-4zm5 0h3v1h-3zm-4 1h6v1h-6zm1 1h5v1h-5z" fill="#50c050"/>
<path d="M377 431h3v1h-3zm-1 1h5v1h-5zm-1 1h6v1h-6zm0 1h2v1h-2zm4 0h3v1h-3zm-4 1h1v1h-1zm5 0h2v1h-2zm-6 1h2v1h-2zm6 0h2v1h-2zm-6 1h2v1h-2zm7 0h1v1h-1zm-7 1h2v1h-2zm7 0h1v1h-1zm-7 1h1v1h-1zm7 0h1v1h-1zm-7 1h1v1h-1zm7 0h1v1h-1zm-7 1h2v1h-2zm7 0h1v1h-1zm-7 1h2v1h-2zm7 0h1v1h-1zm-6 1h1v1h-1zm5 0h2v1h-2zm-5 1h2v1h-2zm4 0h3v1h-3zm-4 1h6v1h-6zm1 1h4v1h-4zm2 1h1v1h-1z" fill="#c8e030"/>
<path d="M377 434h2v1h-2zm-1 1h4v1h-4zm0 1h4v1h-4zm0 1h2v1h-2zm3 0h2v1h-2zm-3 1h1v1h-1zm3 0h2v1h-2zm-4 1h2v1h-2zm5 0h1v1h-1zm-5 1h2v1h-2zm4 0h2v1h-2zm-3 1h1v1h-1zm3 0h2v1h-2zm-3 1h5v1h-5zm0 1h4v1h-4zm1 1h2v1h-2z" fill="#f0a020"/>
<path d="M378 437h1v1h-1zm-1 1h2v1h-2zm0 1h3v1h-3zm0 1h2v1h-2zm0 1h2v1h-2z" fill="#e83018"/>
</g>
</g>
<path d="M372 452 C382 453 396 449 406 444 C416 438 422 430 424 422" fill="none" stroke="#9a4c8e" stroke-width="0.6" opacity="0.55"/>
<rect x="366.7" y="404.2" width="81.8" height="71.8" fill="none" stroke="#8a8a8a" stroke-width="0.8"/>
<line x1="365.5" y1="404.2" x2="366.7" y2="404.2" stroke="#555" stroke-width="0.45"/>
<line x1="366" y1="406.59" x2="366.7" y2="406.59" stroke="#555" stroke-width="0.45"/>
<line x1="366" y1="408.99" x2="366.7" y2="408.99" stroke="#555" stroke-width="0.45"/>
<line x1="366" y1="411.38" x2="366.7" y2="411.38" stroke="#555" stroke-width="0.45"/>
<line x1="366" y1="413.77" x2="366.7" y2="413.77" stroke="#555" stroke-width="0.45"/>
<line x1="365.5" y1="416.17" x2="366.7" y2="416.17" stroke="#555" stroke-width="0.45"/>
<line x1="366" y1="418.56" x2="366.7" y2="418.56" stroke="#555" stroke-width="0.45"/>
<line x1="366" y1="420.95" x2="366.7" y2="420.95" stroke="#555" stroke-width="0.45"/>
<line x1="366" y1="423.35" x2="366.7" y2="423.35" stroke="#555" stroke-width="0.45"/>
<line x1="366" y1="425.74" x2="366.7" y2="425.74" stroke="#555" stroke-width="0.45"/>
<line x1="365.5" y1="428.13" x2="366.7" y2="428.13" stroke="#555" stroke-width="0.45"/>
<line x1="366" y1="430.53" x2="366.7" y2="430.53" stroke="#555" stroke-width="0.45"/>
<line x1="366" y1="432.92" x2="366.7" y2="432.92" stroke="#555" stroke-width="0.45"/>
<line x1="366" y1="435.31" x2="366.7" y2="435.31" stroke="#555" stroke-width="0.45"/>
<line x1="366" y1="437.71" x2="366.7" y2="437.71" stroke="#555" stroke-width="0.45"/>
<line x1="365.5" y1="440.1" x2="366.7" y2="440.1" stroke="#555" stroke-width="0.45"/>
<line x1="366" y1="442.49" x2="366.7" y2="442.49" stroke="#555" stroke-width="0.45"/>
<line x1="366" y1="444.89" x2="366.7" y2="444.89" stroke="#555" stroke-width="0.45"/>
<line x1="366" y1="447.28" x2="366.7" y2="447.28" stroke="#555" stroke-width="0.45"/>
<line x1="366" y1="449.67" x2="366.7" y2="449.67" stroke="#555" stroke-width="0.45"/>
<line x1="365.5" y1="452.07" x2="366.7" y2="452.07" stroke="#555" stroke-width="0.45"/>
<line x1="366" y1="454.46" x2="366.7" y2="454.46" stroke="#555" stroke-width="0.45"/>
<line x1="366" y1="456.85" x2="366.7" y2="456.85" stroke="#555" stroke-width="0.45"/>
<line x1="366" y1="459.25" x2="366.7" y2="459.25" stroke="#555" stroke-width="0.45"/>
<line x1="366" y1="461.64" x2="366.7" y2="461.64" stroke="#555" stroke-width="0.45"/>
<line x1="365.5" y1="464.03" x2="366.7" y2="464.03" stroke="#555" stroke-width="0.45"/>
<line x1="366" y1="466.43" x2="366.7" y2="466.43" stroke="#555" stroke-width="0.45"/>
<line x1="366" y1="468.82" x2="366.7" y2="468.82" stroke="#555" stroke-width="0.45"/>
<line x1="366" y1="471.21" x2="366.7" y2="471.21" stroke="#555" stroke-width="0.45"/>
<line x1="366" y1="473.61" x2="366.7" y2="473.61" stroke="#555" stroke-width="0.45"/>
<line x1="365.5" y1="476" x2="366.7" y2="476" stroke="#555" stroke-width="0.45"/>
<line x1="366.7" y1="476" x2="366.7" y2="477.4" stroke="#555" stroke-width="0.45"/>
<line x1="369.43" y1="476" x2="369.43" y2="476.8" stroke="#555" stroke-width="0.45"/>
<line x1="372.15" y1="476" x2="372.15" y2="476.8" stroke="#555" stroke-width="0.45"/>
<line x1="374.88" y1="476" x2="374.88" y2="476.8" stroke="#555" stroke-width="0.45"/>
<line x1="377.61" y1="476" x2="377.61" y2="476.8" stroke="#555" stroke-width="0.45"/>
<line x1="380.33" y1="476" x2="380.33" y2="477.4" stroke="#555" stroke-width="0.45"/>
<line x1="383.06" y1="476" x2="383.06" y2="476.8" stroke="#555" stroke-width="0.45"/>
<line x1="385.79" y1="476" x2="385.79" y2="476.8" stroke="#555" stroke-width="0.45"/>
<line x1="388.51" y1="476" x2="388.51" y2="476.8" stroke="#555" stroke-width="0.45"/>
<line x1="391.24" y1="476" x2="391.24" y2="476.8" stroke="#555" stroke-width="0.45"/>
<line x1="393.97" y1="476" x2="393.97" y2="477.4" stroke="#555" stroke-width="0.45"/>
<line x1="396.69" y1="476" x2="396.69" y2="476.8" stroke="#555" stroke-width="0.45"/>
<line x1="399.42" y1="476" x2="399.42" y2="476.8" stroke="#555" stroke-width="0.45"/>
<line x1="402.15" y1="476" x2="402.15" y2="476.8" stroke="#555" stroke-width="0.45"/>
<line x1="404.87" y1="476" x2="404.87" y2="476.8" stroke="#555" stroke-width="0.45"/>
<line x1="407.6" y1="476" x2="407.6" y2="477.4" stroke="#555" stroke-width="0.45"/>
<line x1="410.33" y1="476" x2="410.33" y2="476.8" stroke="#555" stroke-width="0.45"/>
<line x1="413.05" y1="476" x2="413.05" y2="476.8" stroke="#555" stroke-width="0.45"/>
<line x1="415.78" y1="476" x2="415.78" y2="476.8" stroke="#555" stroke-width="0.45"/>
<line x1="418.51" y1="476" x2="418.51" y2="476.8" stroke="#555" stroke-width="0.45"/>
<line x1="421.23" y1="476" x2="421.23" y2="477.4" stroke="#555" stroke-width="0.45"/>
<line x1="423.96" y1="476" x2="423.96" y2="476.8" stroke="#555" stroke-width="0.45"/>
<line x1="426.69" y1="476" x2="426.69" y2="476.8" stroke="#555" stroke-width="0.45"/>
<line x1="429.41" y1="476" x2="429.41" y2="476.8" stroke="#555" stroke-width="0.45"/>
<line x1="432.14" y1="476" x2="432.14" y2="476.8" stroke="#555" stroke-width="0.45"/>
<line x1="434.87" y1="476" x2="434.87" y2="477.4" stroke="#555" stroke-width="0.45"/>
<line x1="437.59" y1="476" x2="437.59" y2="476.8" stroke="#555" stroke-width="0.45"/>
<line x1="440.32" y1="476" x2="440.32" y2="476.8" stroke="#555" stroke-width="0.45"/>
<line x1="443.05" y1="476" x2="443.05" y2="476.8" stroke="#555" stroke-width="0.45"/>
<line x1="445.77" y1="476" x2="445.77" y2="476.8" stroke="#555" stroke-width="0.45"/>
<line x1="448.5" y1="476" x2="448.5" y2="477.4" stroke="#555" stroke-width="0.45"/>
<text x="406.7" y="441.8" font-size="4.3" font-weight="bold" text-anchor="start" fill="#962a84">86.7</text>
<text x="408.8" y="399.6" font-size="8.5" font-weight="bold" text-anchor="middle" fill="#000" textLength="50" lengthAdjust="spacingAndGlyphs">DAC 100 nM</text>
<text x="364.4" y="411.8" font-size="4.1" font-weight="bold" text-anchor="end">10<tspan font-size="2.87" dy="-1.64">5</tspan></text>
<line x1="364.9" y1="410.3" x2="366.7" y2="410.3" stroke="#333" stroke-width="0.7"/>
<text x="364.4" y="426.3" font-size="4.1" font-weight="bold" text-anchor="end">10<tspan font-size="2.87" dy="-1.64">4</tspan></text>
<line x1="364.9" y1="424.8" x2="366.7" y2="424.8" stroke="#333" stroke-width="0.7"/>
<text x="364.4" y="441.4" font-size="4.1" font-weight="bold" text-anchor="end">10<tspan font-size="2.87" dy="-1.64">3</tspan></text>
<line x1="364.9" y1="439.9" x2="366.7" y2="439.9" stroke="#333" stroke-width="0.7"/>
<text x="364.4" y="457.3" font-size="4.1" font-weight="bold" text-anchor="end">10<tspan font-size="2.87" dy="-1.64">2</tspan></text>
<line x1="364.9" y1="455.8" x2="366.7" y2="455.8" stroke="#333" stroke-width="0.7"/>
<text x="363.2" y="464.2" font-size="4.2" font-weight="bold" text-anchor="end" fill="#000">0</text>
<line x1="364.9" y1="462.8" x2="366.7" y2="462.8" stroke="#333" stroke-width="0.7"/>
<text x="354.4" y="445.2" font-size="7" font-weight="bold" text-anchor="middle" fill="#000" transform="rotate(-90 354.4 445.2)">CD45</text>
<text x="367.1" y="484.6" font-size="4.2" font-weight="bold" text-anchor="middle" fill="#000">0</text>
<text x="382" y="484.6" font-size="4.2" font-weight="bold" text-anchor="middle" fill="#000">50K</text>
<text x="396.9" y="484.6" font-size="4.2" font-weight="bold" text-anchor="middle" fill="#000">100K</text>
<text x="412.8" y="484.6" font-size="4.2" font-weight="bold" text-anchor="middle" fill="#000">150K</text>
<text x="428.2" y="484.6" font-size="4.2" font-weight="bold" text-anchor="middle" fill="#000">200K</text>
<text x="443.6" y="484.6" font-size="4.2" font-weight="bold" text-anchor="middle" fill="#000">250K</text>
<text x="407.2" y="489.4" font-size="5.2" font-weight="bold" text-anchor="middle" fill="#000" textLength="29" lengthAdjust="spacingAndGlyphs">Side Scatter</text>
<clipPath id="c9"><rect x="46.7" y="492.2" width="82" height="72.8"/></clipPath>
<g clip-path="url(#c9)">
<g filter="url(#bs)">
<path d="M128 520h1v1h-1zm-1 2h1v1h-1zm-36 5h1v1h-1zm9 0h1v1h-1zm14 0h1v1h-1zm-16 2h1v1h-1zm14 0h1v1h-1zm-40 1h1v1h-1zm27 0h1v1h-1zm2 1h1v1h-1zm-17 1h1v1h-1zm-20 1h1v1h-1zm17 0h1v1h-1zm1 0h1v1h-1zm2 0h1v1h-1zm-2 1h1v1h-1zm-9 3h1v1h-1zm12 0h1v1h-1zm-16 1h1v1h-1zm18 0h1v1h-1zm39 0h1v1h-1zm-45 1h1v1h-1zm-29 1h1v1h-1zm44 0h1v1h-1zm2 0h1v1h-1zm21 0h1v1h-1zm-56 2h1v1h-1zm12 0h1v1h-1zm11 0h1v1h-1zm0 1h1v1h-1zm35 0h1v1h-1zm-54 1h1v1h-1zm-17 1h1v1h-1zm25 0h1v1h-1zm30 0h1v1h-1zm-23 4h1v1h-1zm-24 1h1v1h-1zm1 0h1v1h-1zm9 0h1v1h-1zm-18 1h1v1h-1zm16 1h1v1h-1zm33 0h1v1h-1zm18 0h1v1h-1zm-23 1h1v1h-1zm-15 2h1v1h-1zm16 1h1v1h-1zm-45 1h1v1h-1zm43 0h1v1h-1zm9 1h1v1h-1zm-31 1h1v1h-1zm48 0h1v1h-1zm-61 3h1v1h-1zm34 0h1v1h-1zm-24 1h1v1h-1zm18 0h1v1h-1zm37 0h1v1h-1zm-34 1h1v1h-1z" fill="#b4bcea"/>
<path d="M127 521h1v1h-1zm-39 2h1v1h-1zm36 1h1v1h-1zm-59 3h1v1h-1zm-7 1h1v1h-1zm42 0h1v1h-1zm0 1h1v1h-1zm-10 1h1v1h-1zm24 0h1v1h-1zm10 0h1v1h-1zm1 1h1v1h-1zm-12 2h1v1h-1zm-51 1h1v1h-1zm1 0h1v1h-1zm13 0h1v1h-1zm43 0h1v1h-1zm-50 1h1v1h-1zm25 0h1v1h-1zm-36 1h1v1h-1zm10 0h1v1h-1zm5 2h1v1h-1zm31 0h1v1h-1zm1 0h1v1h-1zm-33 2h1v1h-1zm11 0h1v1h-1zm43 1h1v1h-1zm-13 2h1v1h-1zm-23 1h1v1h-1zm10 0h1v1h-1zm-32 1h1v1h-1zm-20 1h1v1h-1zm12 0h1v1h-1zm14 0h1v1h-1zm22 1h1v1h-1zm-27 5h1v1h-1zm-9 2h1v1h-1zm9 0h1v1h-1zm14 0h1v1h-1zm3 0h1v1h-1zm21 0h1v1h-1zm9 0h1v1h-1zm1 1h1v1h-1zm-68 1h1v1h-1zm22 0h1v1h-1zm25 1h1v1h-1zm9 0h1v1h-1zm-7 1h1v1h-1zm19 0h1v1h-1zm-44 1h1v1h-1zm35 0h1v1h-1zm-3 1h1v1h-1zm-42 1h1v1h-1zm62 0h1v1h-1zm-47 1h1v1h-1zm3 1h1v1h-1zm-1 1h1v1h-1zm19 0h1v1h-1z" fill="#c0c4ee"/>
<path d="M122 522h1v1h-1zm-8 2h1v1h-1zm10 2h1v1h-1zm3 2h1v1h-1zm-9 1h1v1h-1zm1 1h1v1h-1zm-61 1h1v1h-1zm10 0h1v1h-1zm35 0h1v1h-1zm19 0h1v1h-1zm-21 2h1v1h-1zm24 0h1v1h-1zm-68 1h1v1h-1zm29 0h1v1h-1zm-37 2h1v1h-1zm45 1h1v1h-1zm-35 1h1v1h-1zm39 0h1v1h-1zm12 1h1v1h-1zm-44 1h1v1h-1zm2 0h1v1h-1zm11 0h1v1h-1zm5 1h1v1h-1zm-37 3h1v1h-1zm18 2h1v1h-1zm3 0h1v1h-1zm-17 3h1v1h-1zm69 1h1v1h-1zm-45 1h1v1h-1zm-25 2h1v1h-1zm25 0h1v1h-1zm8 0h1v1h-1zm22 0h1v1h-1zm-8 1h1v1h-1zm12 0h1v1h-1zm12 0h1v1h-1zm-74 2h1v1h-1zm0 3h1v1h-1zm28 0h1v1h-1zm-5 2h1v1h-1zm37 0h1v1h-1zm1 1h1v1h-1zm6 0h1v1h-1zm-1 1h1v1h-1zm-5 1h1v1h-1zm1 0h1v1h-1z" fill="#bcb4e2"/>
<path d="M117 521h1v1h-1zm1 1h1v1h-1zm6 1h1v1h-1zm1 1h1v1h-1zm-6 1h1v1h-1zm7 1h1v1h-1zm-9 1h1v1h-1zm-22 2h1v1h-1zm26 1h1v1h-1zm-44 1h1v1h-1zm-11 4h1v1h-1zm-1 1h1v1h-1zm7 0h1v1h-1zm28 0h1v1h-1zm-42 1h1v1h-1zm23 0h1v1h-1zm-7 3h1v1h-1zm50 0h1v1h-1zm-63 2h1v1h-1zm57 0h1v1h-1zm-27 1h1v1h-1zm-11 1h1v1h-1zm11 1h1v1h-1zm28 0h1v1h-1zm-53 1h1v1h-1zm6 0h1v1h-1zm50 1h1v1h-1zm-14 1h1v1h-1zm-50 1h1v1h-1zm53 0h1v1h-1zm-61 1h1v1h-1zm6 0h1v1h-1zm42 0h1v1h-1zm28 0h1v1h-1zm-57 1h1v1h-1zm32 1h1v1h-1zm6 0h1v1h-1zm-51 2h1v1h-1zm15 0h1v1h-1zm14 1h1v1h-1zm20 0h1v1h-1zm2 0h1v1h-1zm19 0h1v1h-1zm-56 1h1v1h-1zm38 0h1v1h-1zm-55 1h1v1h-1zm42 0h1v1h-1zm14 0h1v1h-1zm-15 1h1v1h-1zm-35 3h1v1h-1zm30 0h1v1h-1zm-3 1h1v1h-1zm42 0h1v1h-1zm-65 2h1v1h-1zm11 0h1v1h-1zm1 0h1v1h-1zm18 0h1v1h-1z" fill="#c8cef2"/>
<path d="M71 501h1v1h-1zm22 3h1v1h-1zm-22 1h1v1h-1zm28 1h1v1h-1zm-43 1h1v1h-1zm43 0h1v1h-1zm5 0h1v1h-1zm-38 1h1v1h-1zm43 0h1v1h-1zm4 0h1v1h-1zm-57 1h1v1h-1zm37 1h1v1h-1zm-29 1h1v1h-1zm8 0h1v1h-1zm7 1h1v1h-1zm-33 1h1v1h-1zm32 0h1v1h-1zm7 1h1v1h-1zm0 1h1v1h-1zm32 7h1v1h-1zm0 2h1v1h-1zm-31 3h1v1h-1zm8 1h1v1h-1zm19 0h1v1h-1zm-36 1h1v1h-1zm1 0h1v1h-1zm-9 1h1v1h-1zm11 0h1v1h-1zm25 0h1v1h-1zm-40 1h1v1h-1zm10 0h1v1h-1zm-23 1h1v1h-1zm14 1h1v1h-1zm11 0h1v1h-1z" fill="#6a7edc"/>
<path d="M61 505h1v1h-1zm45 1h1v1h-1zm3 0h1v1h-1zm-57 2h1v1h-1zm6 0h1v1h-1zm-8 1h1v1h-1zm42 0h1v1h-1zm-2 3h1v1h-1zm31 7h1v1h-1zm1 1h1v1h-1zm-6 4h1v1h-1zm-30 2h1v1h-1zm3 2h1v1h-1zm22 0h1v1h-1zm-22 1h1v1h-1zm-31 1h1v1h-1zm45 0h1v1h-1zm-55 1h1v1h-1zm31 0h1v1h-1zm20 0h1v1h-1zm-51 1h1v1h-1zm12 1h1v1h-1zm50 0h1v1h-1zm-60 1h1v1h-1zm26 4h1v1h-1z" fill="#7a8adc"/>
<path d="M88 503h1v1h-1zm25 1h1v1h-1zm-67 2h1v1h-1zm29 0h1v1h-1zm34 1h1v1h-1zm-61 1h1v1h-1zm24 0h1v1h-1zm-3 1h1v1h-1zm25 0h1v1h-1zm21 0h1v1h-1zm-42 1h1v1h-1zm-19 1h1v1h-1zm15 0h1v1h-1zm20 0h1v1h-1zm3 0h1v1h-1zm-39 1h1v1h-1zm64 5h1v1h-1zm1 0h1v1h-1zm-1 1h1v1h-1zm1 1h1v1h-1zm-2 4h1v1h-1zm-24 4h1v1h-1zm-9 1h1v1h-1zm8 0h1v1h-1zm32 0h1v1h-1zm-49 1h1v1h-1zm9 0h1v1h-1zm7 0h1v1h-1zm6 0h1v1h-1zm12 0h1v1h-1zm-62 1h1v1h-1zm14 0h1v1h-1zm1 0h1v1h-1zm-6 1h1v1h-1zm55 0h1v1h-1zm-10 1h1v1h-1zm-15 1h1v1h-1zm11 0h1v1h-1zm2 1h1v1h-1zm-21 3h1v1h-1z" fill="#8a96e0"/>
<path d="M81 505h1v1h-1zm20 0h1v1h-1zm-42 1h1v1h-1zm31 0h1v1h-1zm13 0h1v1h-1zm-33 1h1v1h-1zm28 0h1v1h-1zm3 0h1v1h-1zm-39 1h1v1h-1zm1 0h1v1h-1zm14 0h1v1h-1zm16 0h1v1h-1zm-38 1h1v1h-1zm-9 1h1v1h-1zm5 1h1v1h-1zm6 0h1v1h-1zm1 0h1v1h-1zm3 0h1v1h-1zm62 0h1v1h-1zm-50 1h1v1h-1zm4 1h1v1h-1zm11 13h1v1h-1zm-5 1h1v1h-1zm-8 2h1v1h-1zm-13 1h1v1h-1zm5 0h1v1h-1zm-7 1h1v1h-1zm26 0h1v1h-1zm16 0h1v1h-1zm-43 1h1v1h-1zm16 0h1v1h-1zm22 1h1v1h-1zm-13 1h1v1h-1z" fill="#96a0e4"/>
<path d="M78 498h1v1h-1zm-24 1h1v1h-1zm44 4h1v1h-1zm7 1h1v1h-1zm-11 2h1v1h-1zm-34 1h1v1h-1zm45 0h1v1h-1zm3 1h1v1h-1zm-38 1h1v1h-1zm14 0h1v1h-1zm4 0h1v1h-1zm5 0h1v1h-1zm21 0h1v1h-1zm-66 1h1v1h-1zm16 0h1v1h-1zm-18 1h1v1h-1zm35 2h1v1h-1zm6 0h1v1h-1zm0 1h1v1h-1zm30 11h1v1h-1zm-32 1h1v1h-1zm-26 4h1v1h-1zm17 0h1v1h-1zm6 0h1v1h-1zm13 0h1v1h-1zm2 1h1v1h-1zm-43 1h1v1h-1zm3 3h1v1h-1z" fill="#7086e0"/>
<path d="M101 508h1v1h-1zm2 0h1v1h-1zm1 0h1v1h-1zm3 0h1v1h-1zm-8 1h1v1h-1zm11 0h1v1h-1zm-14 1h1v1h-1zm15 0h1v1h-1zm-17 1h1v1h-1zm-38 1h1v1h-1zm1 0h1v1h-1zm1 0h1v1h-1zm1 0h1v1h-1zm1 0h1v1h-1zm5 0h1v1h-1zm28 0h1v1h-1zm-46 1h1v1h-1zm1 0h1v1h-1zm3 0h1v1h-1zm2 0h1v1h-1zm1 0h1v1h-1zm3 0h1v1h-1zm2 0h1v1h-1zm2 0h1v1h-1zm1 0h1v1h-1zm2 0h1v1h-1zm2 0h1v1h-1zm2 0h1v1h-1zm2 0h1v1h-1zm2 0h1v1h-1zm1 0h1v1h-1zm1 0h1v1h-1zm2 0h1v1h-1zm16 0h1v1h-1zm22 0h1v1h-1zm-65 1h1v1h-1zm26 0h1v1h-1zm2 0h1v1h-1zm1 0h1v1h-1zm2 0h1v1h-1zm8 0h1v1h-1zm2 0h1v1h-1zm-8 1h1v1h-1zm2 0h1v1h-1zm4 0h1v1h-1zm-6 1h1v1h-1zm2 0h1v1h-1zm1 0h1v1h-1zm2 0h1v1h-1zm1 0h1v1h-1zm2 0h1v1h-1zm26 0h1v1h-1zm-32 1h1v1h-1zm1 0h1v1h-1zm1 0h1v1h-1zm3 0h1v1h-1zm27 0h1v1h-1zm-32 1h1v1h-1zm3 0h1v1h-1zm1 0h1v1h-1zm1 0h1v1h-1zm27 0h1v1h-1zm-32 1h1v1h-1zm3 0h1v1h-1zm1 0h1v1h-1zm-3 1h1v1h-1zm2 0h1v1h-1zm1 0h1v1h-1zm1 0h1v1h-1zm27 0h1v1h-1zm-31 1h1v1h-1zm1 0h1v1h-1zm2 0h1v1h-1zm-3 1h1v1h-1zm1 0h1v1h-1zm2 0h1v1h-1zm27 0h1v1h-1zm1 0h1v1h-1zm-31 1h1v1h-1zm4 0h1v1h-1zm-6 1h1v1h-1zm1 0h1v1h-1zm1 0h1v1h-1zm1 0h1v1h-1zm1 0h1v1h-1zm4 0h1v1h-1zm-7 1h1v1h-1zm4 0h1v1h-1zm1 0h1v1h-1zm1 0h1v1h-1zm1 0h1v1h-1zm22 0h1v1h-1zm1 0h1v1h-1zm-33 1h1v1h-1zm12 0h1v1h-1zm19 0h1v1h-1zm1 0h1v1h-1zm-35 1h1v1h-1zm16 0h1v1h-1zm1 0h1v1h-1zm1 0h1v1h-1zm-50 1h1v1h-1zm4 0h1v1h-1zm2 0h1v1h-1zm1 0h1v1h-1zm1 0h1v1h-1zm5 0h1v1h-1zm6 0h1v1h-1zm2 0h1v1h-1zm3 0h1v1h-1zm1 0h1v1h-1zm4 0h1v1h-1zm1 0h1v1h-1zm1 0h1v1h-1zm1 0h1v1h-1zm17 0h1v1h-1zm2 0h1v1h-1zm11 0h1v1h-1zm2 0h1v1h-1zm-52 1h1v1h-1zm2 0h1v1h-1zm1 0h1v1h-1zm3 0h1v1h-1zm3 0h1v1h-1zm2 0h1v1h-1zm30 0h1v1h-1zm3 0h1v1h-1z" fill="#5068d4"/>
</g><g filter="url(#bl)">
<path d="M100 509h2v1h-2zm4 0h4v1h-4zm-6 1h3v1h-3zm4 0h4v1h-4zm5 0h3v1h-3zm-12 1h5v1h-5zm13 0h3v1h-3zm-13 1h3v1h-3zm15 0h2v1h-2zm-15 1h2v1h-2zm16 0h3v1h-3zm-61 1h2v1h-2zm4 0h4v1h-4zm5 0h4v1h-4zm5 0h3v1h-3zm4 0h2v1h-2zm3 0h2v1h-2zm3 0h1v1h-1zm20 0h2v1h-2zm18 0h2v1h-2zm-66 1h8v1h-8zm9 0h11v1h-11zm12 0h2v1h-2zm3 0h6v1h-6zm8 0h2v1h-2zm13 0h4v1h-4zm22 0h2v1h-2zm-35 1h4v1h-4zm13 0h3v1h-3zm22 0h2v1h-2zm-33 1h3v1h-3zm10 0h4v1h-4zm23 0h1v1h-1zm2 0h1v1h-1zm-34 1h2v1h-2zm9 0h4v1h-4zm24 0h2v1h-2zm-32 1h2v1h-2zm10 0h2v1h-2zm22 0h2v1h-2zm-32 1h3v1h-3zm9 0h1v1h-1zm22 0h3v1h-3zm-31 1h3v1h-3zm11 0h1v1h-1zm20 0h3v1h-3zm-31 1h2v1h-2zm10 0h3v1h-3zm21 0h1v1h-1zm-31 1h2v1h-2zm11 0h3v1h-3zm19 0h3v1h-3zm-31 1h2v1h-2zm11 0h2v1h-2zm4 0h1v1h-1zm15 0h3v1h-3zm-32 1h3v1h-3zm15 0h4v1h-4zm15 0h1v1h-1zm2 0h2v1h-2zm-65 1h4v1h-4zm28 0h5v1h-5zm21 0h5v1h-5zm12 0h1v1h-1zm2 0h3v1h-3zm-63 1h1v1h-1zm2 0h2v1h-2zm3 0h2v1h-2zm3 0h11v1h-11zm12 0h1v1h-1zm2 0h4v1h-4zm7 0h2v1h-2zm22 0h3v1h-3zm4 0h9v1h-9zm-41 1h1v1h-1zm2 0h1v1h-1zm2 0h1v1h-1zm38 0h3v1h-3zm4 0h1v1h-1z" fill="#4a88da"/>
<path d="M100 511h8v1h-8zm-1 1h11v1h-11zm-2 1h4v1h-4zm10 0h4v1h-4zm-11 1h3v1h-3zm13 0h3v1h-3zm-14 1h3v1h-3zm15 0h3v1h-3zm-64 1h32v1h-32zm48 0h3v1h-3zm17 0h2v1h-2zm-65 1h2v1h-2zm30 0h4v1h-4zm18 0h3v1h-3zm17 0h2v1h-2zm-32 1h2v1h-2zm15 0h3v1h-3zm17 0h3v1h-3zm-31 1h2v1h-2zm14 0h3v1h-3zm17 0h3v1h-3zm-30 1h1v1h-1zm13 0h3v1h-3zm17 0h2v1h-2zm-30 1h1v1h-1zm13 0h3v1h-3zm16 0h3v1h-3zm-30 1h2v1h-2zm15 0h3v1h-3zm15 0h2v1h-2zm-30 1h2v1h-2zm16 0h3v1h-3zm12 0h4v1h-4zm-30 1h3v1h-3zm19 0h5v1h-5zm9 0h5v1h-5zm-60 1h18v1h-18zm20 0h13v1h-13zm32 0h11v1h-11zm-48 1h24v1h-24zm51 0h2v1h-2zm3 0h3v1h-3z" fill="#38a0dc"/>
<path d="M101 513h6v1h-6zm-2 1h10v1h-10zm-1 1h3v1h-3zm9 0h3v1h-3zm-10 1h3v1h-3zm11 0h3v1h-3zm-60 1h28v1h-28zm49 0h2v1h-2zm12 0h2v1h-2zm-63 1h2v1h-2zm29 0h4v1h-4zm22 0h2v1h-2zm12 0h2v1h-2zm-31 1h2v1h-2zm19 0h2v1h-2zm12 0h2v1h-2zm-30 1h2v1h-2zm18 0h2v1h-2zm12 0h2v1h-2zm-30 1h2v1h-2zm18 0h3v1h-3zm11 0h2v1h-2zm-29 1h1v1h-1zm19 0h4v1h-4zm8 0h4v1h-4zm-29 1h3v1h-3zm22 0h9v1h-9zm-53 1h32v1h-32zm56 0h4v1h-4zm-38 1h2v1h-2z" fill="#40b8b0"/>
<path d="M101 515h6v1h-6zm-1 1h8v1h-8zm-1 1h10v1h-10zm-51 1h27v1h-27zm51 0h10v1h-10zm-53 1h32v1h-32zm53 0h10v1h-10zm-53 1h2v1h-2zm29 0h4v1h-4zm24 0h10v1h-10zm-53 1h1v1h-1zm30 0h3v1h-3zm24 0h8v1h-8zm-54 1h6v1h-6zm28 0h5v1h-5zm28 0h4v1h-4zm-56 1h31v1h-31z" fill="#50c050"/>
<path d="M48 520h27v1h-27zm-1 1h29v1h-29zm5 1h22v1h-22z" fill="#c8e030"/>
</g>
</g>
<rect x="46.7" y="492.2" width="82" height="72.8" fill="none" stroke="#8a8a8a" stroke-width="0.8"/>
<line x1="84.6" y1="492.2" x2="84.6" y2="565" stroke="#9a4c8e" stroke-width="0.6"/>
<line x1="46.7" y1="537" x2="128.7" y2="537" stroke="#9a4c8e" stroke-width="0.6"/>
<line x1="45.5" y1="492.2" x2="46.7" y2="492.2" stroke="#555" stroke-width="0.45"/>
<line x1="46" y1="494.63" x2="46.7" y2="494.63" stroke="#555" stroke-width="0.45"/>
<line x1="46" y1="497.05" x2="46.7" y2="497.05" stroke="#555" stroke-width="0.45"/>
<line x1="46" y1="499.48" x2="46.7" y2="499.48" stroke="#555" stroke-width="0.45"/>
<line x1="46" y1="501.91" x2="46.7" y2="501.91" stroke="#555" stroke-width="0.45"/>
<line x1="45.5" y1="504.33" x2="46.7" y2="504.33" stroke="#555" stroke-width="0.45"/>
<line x1="46" y1="506.76" x2="46.7" y2="506.76" stroke="#555" stroke-width="0.45"/>
<line x1="46" y1="509.19" x2="46.7" y2="509.19" stroke="#555" stroke-width="0.45"/>
<line x1="46" y1="511.61" x2="46.7" y2="511.61" stroke="#555" stroke-width="0.45"/>
<line x1="46" y1="514.04" x2="46.7" y2="514.04" stroke="#555" stroke-width="0.45"/>
<line x1="45.5" y1="516.47" x2="46.7" y2="516.47" stroke="#555" stroke-width="0.45"/>
<line x1="46" y1="518.89" x2="46.7" y2="518.89" stroke="#555" stroke-width="0.45"/>
<line x1="46" y1="521.32" x2="46.7" y2="521.32" stroke="#555" stroke-width="0.45"/>
<line x1="46" y1="523.75" x2="46.7" y2="523.75" stroke="#555" stroke-width="0.45"/>
<line x1="46" y1="526.17" x2="46.7" y2="526.17" stroke="#555" stroke-width="0.45"/>
<line x1="45.5" y1="528.6" x2="46.7" y2="528.6" stroke="#555" stroke-width="0.45"/>
<line x1="46" y1="531.03" x2="46.7" y2="531.03" stroke="#555" stroke-width="0.45"/>
<line x1="46" y1="533.45" x2="46.7" y2="533.45" stroke="#555" stroke-width="0.45"/>
<line x1="46" y1="535.88" x2="46.7" y2="535.88" stroke="#555" stroke-width="0.45"/>
<line x1="46" y1="538.31" x2="46.7" y2="538.31" stroke="#555" stroke-width="0.45"/>
<line x1="45.5" y1="540.73" x2="46.7" y2="540.73" stroke="#555" stroke-width="0.45"/>
<line x1="46" y1="543.16" x2="46.7" y2="543.16" stroke="#555" stroke-width="0.45"/>
<line x1="46" y1="545.59" x2="46.7" y2="545.59" stroke="#555" stroke-width="0.45"/>
<line x1="46" y1="548.01" x2="46.7" y2="548.01" stroke="#555" stroke-width="0.45"/>
<line x1="46" y1="550.44" x2="46.7" y2="550.44" stroke="#555" stroke-width="0.45"/>
<line x1="45.5" y1="552.87" x2="46.7" y2="552.87" stroke="#555" stroke-width="0.45"/>
<line x1="46" y1="555.29" x2="46.7" y2="555.29" stroke="#555" stroke-width="0.45"/>
<line x1="46" y1="557.72" x2="46.7" y2="557.72" stroke="#555" stroke-width="0.45"/>
<line x1="46" y1="560.15" x2="46.7" y2="560.15" stroke="#555" stroke-width="0.45"/>
<line x1="46" y1="562.57" x2="46.7" y2="562.57" stroke="#555" stroke-width="0.45"/>
<line x1="45.5" y1="565" x2="46.7" y2="565" stroke="#555" stroke-width="0.45"/>
<line x1="46.7" y1="565" x2="46.7" y2="566.4" stroke="#555" stroke-width="0.45"/>
<line x1="49.43" y1="565" x2="49.43" y2="565.8" stroke="#555" stroke-width="0.45"/>
<line x1="52.17" y1="565" x2="52.17" y2="565.8" stroke="#555" stroke-width="0.45"/>
<line x1="54.9" y1="565" x2="54.9" y2="565.8" stroke="#555" stroke-width="0.45"/>
<line x1="57.63" y1="565" x2="57.63" y2="565.8" stroke="#555" stroke-width="0.45"/>
<line x1="60.37" y1="565" x2="60.37" y2="566.4" stroke="#555" stroke-width="0.45"/>
<line x1="63.1" y1="565" x2="63.1" y2="565.8" stroke="#555" stroke-width="0.45"/>
<line x1="65.83" y1="565" x2="65.83" y2="565.8" stroke="#555" stroke-width="0.45"/>
<line x1="68.57" y1="565" x2="68.57" y2="565.8" stroke="#555" stroke-width="0.45"/>
<line x1="71.3" y1="565" x2="71.3" y2="565.8" stroke="#555" stroke-width="0.45"/>
<line x1="74.03" y1="565" x2="74.03" y2="566.4" stroke="#555" stroke-width="0.45"/>
<line x1="76.77" y1="565" x2="76.77" y2="565.8" stroke="#555" stroke-width="0.45"/>
<line x1="79.5" y1="565" x2="79.5" y2="565.8" stroke="#555" stroke-width="0.45"/>
<line x1="82.23" y1="565" x2="82.23" y2="565.8" stroke="#555" stroke-width="0.45"/>
<line x1="84.97" y1="565" x2="84.97" y2="565.8" stroke="#555" stroke-width="0.45"/>
<line x1="87.7" y1="565" x2="87.7" y2="566.4" stroke="#555" stroke-width="0.45"/>
<line x1="90.43" y1="565" x2="90.43" y2="565.8" stroke="#555" stroke-width="0.45"/>
<line x1="93.17" y1="565" x2="93.17" y2="565.8" stroke="#555" stroke-width="0.45"/>
<line x1="95.9" y1="565" x2="95.9" y2="565.8" stroke="#555" stroke-width="0.45"/>
<line x1="98.63" y1="565" x2="98.63" y2="565.8" stroke="#555" stroke-width="0.45"/>
<line x1="101.37" y1="565" x2="101.37" y2="566.4" stroke="#555" stroke-width="0.45"/>
<line x1="104.1" y1="565" x2="104.1" y2="565.8" stroke="#555" stroke-width="0.45"/>
<line x1="106.83" y1="565" x2="106.83" y2="565.8" stroke="#555" stroke-width="0.45"/>
<line x1="109.57" y1="565" x2="109.57" y2="565.8" stroke="#555" stroke-width="0.45"/>
<line x1="112.3" y1="565" x2="112.3" y2="565.8" stroke="#555" stroke-width="0.45"/>
<line x1="115.03" y1="565" x2="115.03" y2="566.4" stroke="#555" stroke-width="0.45"/>
<line x1="117.77" y1="565" x2="117.77" y2="565.8" stroke="#555" stroke-width="0.45"/>
<line x1="120.5" y1="565" x2="120.5" y2="565.8" stroke="#555" stroke-width="0.45"/>
<line x1="123.23" y1="565" x2="123.23" y2="565.8" stroke="#555" stroke-width="0.45"/>
<line x1="125.97" y1="565" x2="125.97" y2="565.8" stroke="#555" stroke-width="0.45"/>
<line x1="128.7" y1="565" x2="128.7" y2="566.4" stroke="#555" stroke-width="0.45"/>
<text x="48" y="497" font-size="3.9" font-weight="normal" text-anchor="start" fill="#962a84">71.8</text>
<text x="127.4" y="497" font-size="3.9" font-weight="normal" text-anchor="end" fill="#962a84">27.1</text>
<text x="48" y="563.7" font-size="3.9" font-weight="normal" text-anchor="start" fill="#962a84">0.728</text>
<text x="127.4" y="563.7" font-size="3.9" font-weight="normal" text-anchor="end" fill="#962a84">0.341</text>
<text x="44.4" y="499.9" font-size="4.1" font-weight="bold" text-anchor="end">10<tspan font-size="2.87" dy="-1.64">5</tspan></text>
<line x1="44.9" y1="498.4" x2="46.7" y2="498.4" stroke="#333" stroke-width="0.7"/>
<text x="44.4" y="514.4" font-size="4.1" font-weight="bold" text-anchor="end">10<tspan font-size="2.87" dy="-1.64">4</tspan></text>
<line x1="44.9" y1="512.9" x2="46.7" y2="512.9" stroke="#333" stroke-width="0.7"/>
<text x="44.4" y="529.8" font-size="4.1" font-weight="bold" text-anchor="end">10<tspan font-size="2.87" dy="-1.64">3</tspan></text>
<line x1="44.9" y1="528.3" x2="46.7" y2="528.3" stroke="#333" stroke-width="0.7"/>
<text x="44.4" y="545.7" font-size="4.1" font-weight="bold" text-anchor="end">10<tspan font-size="2.87" dy="-1.64">2</tspan></text>
<line x1="44.9" y1="544.2" x2="46.7" y2="544.2" stroke="#333" stroke-width="0.7"/>
<text x="43.2" y="552.4" font-size="4.2" font-weight="bold" text-anchor="end" fill="#000">0</text>
<line x1="44.9" y1="551" x2="46.7" y2="551" stroke="#333" stroke-width="0.7"/>
<text x="38.2" y="531.2" font-size="7.5" font-weight="bold" text-anchor="middle" fill="#000" transform="rotate(-90 38.2 531.2)">CD33</text>
<text x="63" y="573.3" font-size="4.2" font-weight="bold" text-anchor="middle" fill="#000">0</text>
<text x="70" y="573.3" font-size="4.1" font-weight="bold" text-anchor="middle">10<tspan font-size="2.87" dy="-1.64">2</tspan></text>
<text x="88" y="573.3" font-size="4.1" font-weight="bold" text-anchor="middle">10<tspan font-size="2.87" dy="-1.64">3</tspan></text>
<text x="105.5" y="573.3" font-size="4.1" font-weight="bold" text-anchor="middle">10<tspan font-size="2.87" dy="-1.64">4</tspan></text>
<text x="123" y="573.3" font-size="4.1" font-weight="bold" text-anchor="middle">10<tspan font-size="2.87" dy="-1.64">5</tspan></text>
<text x="86.7" y="577.4" font-size="5.6" font-weight="bold" text-anchor="middle" fill="#000">CD14</text>
<clipPath id="c10"><rect x="154.4" y="497.1" width="81.9" height="72.4"/></clipPath>
<g clip-path="url(#c10)">
<g filter="url(#bs)">
<path d="M174 530h1v1h-1zm4 3h1v1h-1zm12 0h1v1h-1zm14 0h1v1h-1zm-17 1h1v1h-1zm11 1h1v1h-1zm30 0h1v1h-1zm-55 1h1v1h-1zm52 1h1v1h-1zm-28 1h1v1h-1zm-42 1h1v1h-1zm31 0h1v1h-1zm7 1h1v1h-1zm-36 1h1v1h-1zm16 0h1v1h-1zm9 0h1v1h-1zm35 1h1v1h-1zm-61 1h1v1h-1zm-1 1h1v1h-1zm48 0h1v1h-1zm3 0h1v1h-1zm-44 1h1v1h-1zm61 0h1v1h-1zm-55 1h1v1h-1zm24 0h1v1h-1zm13 1h1v1h-1zm5 0h1v1h-1zm-50 1h1v1h-1zm-3 1h1v1h-1zm6 0h1v1h-1zm66 0h1v1h-1zm-51 1h1v1h-1zm23 0h1v1h-1zm1 0h1v1h-1zm28 0h1v1h-1zm-47 3h1v1h-1zm24 0h1v1h-1zm-52 1h1v1h-1zm50 0h1v1h-1zm-12 1h1v1h-1zm31 1h1v1h-1zm-66 1h1v1h-1zm5 1h1v1h-1zm56 0h1v1h-1zm-3 1h1v1h-1zm-43 1h1v1h-1zm2 0h1v1h-1zm0 2h1v1h-1zm0 1h1v1h-1zm9 1h1v1h-1zm35 0h1v1h-1zm-52 1h1v1h-1zm62 0h1v1h-1zm-42 1h1v1h-1zm2 0h1v1h-1zm29 2h1v1h-1z" fill="#b4bcea"/>
<path d="M230 527h1v1h-1zm-66 3h1v1h-1zm-4 2h1v1h-1zm17 1h1v1h-1zm14 0h1v1h-1zm44 0h1v1h-1zm-33 3h1v1h-1zm-32 1h1v1h-1zm33 0h1v1h-1zm-44 1h1v1h-1zm33 1h1v1h-1zm39 0h1v1h-1zm-41 1h1v1h-1zm36 2h1v1h-1zm-23 1h1v1h-1zm2 1h1v1h-1zm4 1h1v1h-1zm2 2h1v1h-1zm-4 1h1v1h-1zm-50 2h1v1h-1zm70 1h1v1h-1zm-51 1h1v1h-1zm-1 1h1v1h-1zm2 0h1v1h-1zm47 0h1v1h-1zm-56 1h1v1h-1zm48 0h1v1h-1zm-23 2h1v1h-1zm-28 1h1v1h-1zm62 2h1v1h-1zm-64 1h1v1h-1zm62 0h1v1h-1zm1 0h1v1h-1zm-39 1h1v1h-1zm29 0h1v1h-1zm-54 1h1v1h-1zm16 0h1v1h-1zm19 1h1v1h-1zm-12 1h1v1h-1zm8 0h1v1h-1zm0 1h1v1h-1zm13 0h1v1h-1zm-40 1h1v1h-1zm-1 2h1v1h-1zm16 0h1v1h-1zm14 0h1v1h-1zm32 0h1v1h-1zm-44 1h1v1h-1zm10 0h1v1h-1z" fill="#c0c4ee"/>
<path d="M231 529h1v1h-1zm-39 2h1v1h-1zm31 2h1v1h-1zm-68 1h1v1h-1zm37 0h1v1h-1zm24 0h1v1h-1zm-12 2h1v1h-1zm18 0h1v1h-1zm1 0h1v1h-1zm-8 2h1v1h-1zm15 0h1v1h-1zm-28 1h1v1h-1zm11 0h1v1h-1zm20 0h1v1h-1zm-71 2h1v1h-1zm15 0h1v1h-1zm19 0h1v1h-1zm-15 1h1v1h-1zm14 2h1v1h-1zm7 1h1v1h-1zm8 0h1v1h-1zm-27 1h1v1h-1zm4 0h1v1h-1zm31 0h1v1h-1zm-16 1h1v1h-1zm24 0h1v1h-1zm-58 1h1v1h-1zm38 3h1v1h-1zm-2 1h1v1h-1zm-22 1h1v1h-1zm4 0h1v1h-1zm3 0h1v1h-1zm15 0h1v1h-1zm6 1h1v1h-1zm-32 1h1v1h-1zm20 1h1v1h-1zm21 0h1v1h-1zm-31 1h1v1h-1zm24 0h1v1h-1zm-46 1h1v1h-1zm41 0h1v1h-1zm21 0h1v1h-1zm-71 1h1v1h-1zm67 0h1v1h-1zm-64 1h1v1h-1zm36 1h1v1h-1zm-14 1h1v1h-1zm19 2h1v1h-1zm22 0h1v1h-1zm4 0h1v1h-1zm8 0h1v1h-1zm-71 1h1v1h-1zm45 0h1v1h-1zm-34 2h1v1h-1zm7 0h1v1h-1zm19 0h1v1h-1zm3 0h1v1h-1zm4 0h1v1h-1zm28 0h1v1h-1zm-49 1h1v1h-1zm14 0h1v1h-1z" fill="#bcb4e2"/>
<path d="M234 527h1v1h-1zm-3 1h1v1h-1zm-46 1h1v1h-1zm44 0h1v1h-1zm-74 3h1v1h-1zm80 0h1v1h-1zm-48 1h1v1h-1zm0 2h1v1h-1zm12 0h1v1h-1zm11 1h1v1h-1zm-43 1h1v1h-1zm23 0h1v1h-1zm-15 1h1v1h-1zm32 0h1v1h-1zm28 0h1v1h-1zm-45 1h1v1h-1zm5 0h1v1h-1zm11 0h1v1h-1zm13 0h1v1h-1zm10 0h1v1h-1zm-17 2h1v1h-1zm-29 1h1v1h-1zm23 1h1v1h-1zm-29 3h1v1h-1zm55 0h1v1h-1zm3 0h1v1h-1zm-69 2h1v1h-1zm58 0h1v1h-1zm11 0h1v1h-1zm-45 1h1v1h-1zm11 0h1v1h-1zm22 1h1v1h-1zm0 1h1v1h-1zm-56 1h1v1h-1zm4 0h1v1h-1zm63 0h1v1h-1zm-70 1h1v1h-1zm43 1h1v1h-1zm-36 1h1v1h-1zm32 1h1v1h-1zm-33 1h1v1h-1zm33 0h1v1h-1zm6 0h1v1h-1zm-44 1h1v1h-1zm61 1h1v1h-1zm-71 2h1v1h-1zm22 0h1v1h-1zm45 1h1v1h-1zm-51 1h1v1h-1zm-9 1h1v1h-1zm1 0h1v1h-1zm62 0h1v1h-1zm-5 1h1v1h-1zm13 0h1v1h-1zm-57 2h1v1h-1zm19 0h1v1h-1zm15 0h1v1h-1zm-23 2h1v1h-1zm25 0h1v1h-1z" fill="#c8cef2"/>
<path d="M195 502h1v1h-1zm-25 4h1v1h-1zm-3 1h1v1h-1zm63 0h1v1h-1zm-43 1h1v1h-1zm17 0h1v1h-1zm12 0h1v1h-1zm-23 1h1v1h-1zm24 1h1v1h-1zm-41 1h1v1h-1zm21 0h1v1h-1zm-11 1h1v1h-1zm-17 1h1v1h-1zm2 0h1v1h-1zm19 0h1v1h-1zm7 0h1v1h-1zm22 0h1v1h-1zm-62 1h1v1h-1zm9 0h1v1h-1zm11 0h1v1h-1zm13 1h1v1h-1zm7 0h1v1h-1zm31 7h1v1h-1zm1 1h1v1h-1zm-5 7h1v1h-1zm-59 3h1v1h-1zm23 0h1v1h-1zm10 0h1v1h-1zm5 0h1v1h-1zm-28 1h1v1h-1zm3 0h1v1h-1zm-13 2h1v1h-1zm35 3h1v1h-1zm-31 2h1v1h-1z" fill="#6a7edc"/>
<path d="M175 508h1v1h-1zm3 0h1v1h-1zm17 2h1v1h-1zm-34 1h1v1h-1zm57 0h1v1h-1zm-46 1h1v1h-1zm4 0h1v1h-1zm23 0h1v1h-1zm-39 1h1v1h-1zm19 0h1v1h-1zm-14 1h1v1h-1zm6 0h1v1h-1zm11 0h1v1h-1zm19 0h1v1h-1zm-44 1h1v1h-1zm68 2h1v1h-1zm1 1h1v1h-1zm3 3h1v1h-1zm0 3h1v1h-1zm-2 1h1v1h-1zm-3 4h1v1h-1zm8 0h1v1h-1zm-10 2h1v1h-1zm-23 1h1v1h-1zm-18 1h1v1h-1zm27 0h1v1h-1zm-54 1h1v1h-1zm61 0h1v1h-1zm3 0h1v1h-1zm-44 1h1v1h-1zm9 0h1v1h-1zm2 0h1v1h-1zm-16 1h1v1h-1zm-3 2h1v1h-1zm19 7h1v1h-1z" fill="#7a8adc"/>
<path d="M209 506h1v1h-1zm4 3h1v1h-1zm3 0h1v1h-1zm-34 2h1v1h-1zm18 0h1v1h-1zm-27 1h1v1h-1zm31 0h1v1h-1zm5 0h1v1h-1zm-8 1h1v1h-1zm-26 1h1v1h-1zm6 0h1v1h-1zm43 0h1v1h-1zm-68 1h1v1h-1zm35 1h1v1h-1zm5 0h1v1h-1zm29 0h1v1h-1zm2 4h1v1h-1zm0 6h1v1h-1zm-34 5h1v1h-1zm-14 1h1v1h-1zm23 0h1v1h-1zm-32 1h1v1h-1zm5 0h1v1h-1zm49 0h1v1h-1zm-63 1h1v1h-1zm2 0h1v1h-1zm25 0h1v1h-1zm13 0h1v1h-1zm8 0h1v1h-1zm-36 1h1v1h-1zm2 0h1v1h-1zm1 0h1v1h-1zm28 0h1v1h-1zm-42 1h1v1h-1zm17 0h1v1h-1zm32 0h1v1h-1zm-13 3h1v1h-1zm-26 5h1v1h-1z" fill="#8a96e0"/>
<path d="M173 508h1v1h-1zm38 0h1v1h-1zm-1 2h1v1h-1zm-13 2h1v1h-1zm-42 2h1v1h-1zm14 0h1v1h-1zm29 0h1v1h-1zm30 11h1v1h-1zm0 1h1v1h-1zm-1 2h1v1h-1zm-6 3h1v1h-1zm-55 2h1v1h-1zm40 0h1v1h-1zm-50 1h1v1h-1zm12 0h1v1h-1zm6 0h1v1h-1zm37 0h1v1h-1zm-39 1h1v1h-1zm44 0h1v1h-1zm-41 2h1v1h-1zm-2 1h1v1h-1zm41 1h1v1h-1zm-32 3h1v1h-1z" fill="#96a0e4"/>
<path d="M205 509h1v1h-1zm-18 1h1v1h-1zm29 1h1v1h-1zm11 0h1v1h-1zm-8 1h1v1h-1zm-26 2h1v1h-1zm6 0h1v1h-1zm-6 2h1v1h-1zm31 0h1v1h-1zm4 8h1v1h-1zm-2 4h1v1h-1zm-32 2h1v1h-1zm37 0h1v1h-1zm-40 1h1v1h-1zm-34 1h1v1h-1zm2 0h1v1h-1zm25 0h1v1h-1zm36 0h1v1h-1zm-58 1h1v1h-1zm37 0h1v1h-1zm-14 1h1v1h-1zm12 0h1v1h-1zm-17 1h1v1h-1zm-6 1h1v1h-1zm9 0h1v1h-1zm-28 1h1v1h-1zm19 1h1v1h-1z" fill="#7086e0"/>
<path d="M210 512h1v1h-1zm2 0h1v1h-1zm-7 1h1v1h-1zm2 0h1v1h-1zm1 0h1v1h-1zm8 0h1v1h-1zm1 0h1v1h-1zm-14 1h1v1h-1zm1 0h1v1h-1zm16 0h1v1h-1zm-60 1h1v1h-1zm3 0h1v1h-1zm1 0h1v1h-1zm1 0h1v1h-1zm4 0h1v1h-1zm1 0h1v1h-1zm2 0h1v1h-1zm6 0h1v1h-1zm2 0h1v1h-1zm20 0h1v1h-1zm2 0h1v1h-1zm19 0h1v1h-1zm1 0h1v1h-1zm-67 1h1v1h-1zm3 0h1v1h-1zm2 0h1v1h-1zm1 0h1v1h-1zm5 0h1v1h-1zm6 0h1v1h-1zm2 0h1v1h-1zm1 0h1v1h-1zm3 0h1v1h-1zm2 0h1v1h-1zm1 0h1v1h-1zm1 0h1v1h-1zm1 0h1v1h-1zm2 0h1v1h-1zm1 0h1v1h-1zm12 0h1v1h-1zm25 0h1v1h-1zm-69 1h1v1h-1zm32 0h1v1h-1zm1 0h1v1h-1zm2 0h1v1h-1zm1 0h1v1h-1zm2 0h1v1h-1zm2 0h1v1h-1zm1 0h1v1h-1zm3 0h1v1h-1zm26 0h1v1h-1zm-34 1h1v1h-1zm2 1h1v1h-1zm4 0h1v1h-1zm30 0h1v1h-1zm-32 1h1v1h-1zm0 1h1v1h-1zm32 1h1v1h-1zm0 1h1v1h-1zm0 2h1v1h-1zm-33 1h1v1h-1zm1 0h1v1h-1zm1 0h1v1h-1zm1 0h1v1h-1zm30 0h1v1h-1zm-32 1h1v1h-1zm2 0h1v1h-1zm1 0h1v1h-1zm-4 1h1v1h-1zm1 0h1v1h-1zm1 0h1v1h-1zm3 0h1v1h-1zm26 0h1v1h-1zm-35 1h1v1h-1zm1 0h1v1h-1zm9 0h1v1h-1zm1 0h1v1h-1zm23 0h1v1h-1zm-69 1h1v1h-1zm1 0h1v1h-1zm1 0h1v1h-1zm28 0h1v1h-1zm1 0h1v1h-1zm2 0h1v1h-1zm2 0h1v1h-1zm9 0h1v1h-1zm2 0h1v1h-1zm21 0h1v1h-1zm1 0h1v1h-1zm-60 1h1v1h-1zm3 0h1v1h-1zm1 0h1v1h-1zm3 0h1v1h-1zm1 0h1v1h-1zm1 0h1v1h-1zm2 0h1v1h-1zm3 0h1v1h-1zm3 0h1v1h-1zm1 0h1v1h-1zm1 0h1v1h-1zm5 0h1v1h-1zm34 0h1v1h-1zm-57 1h1v1h-1zm1 0h1v1h-1zm1 0h1v1h-1zm1 0h1v1h-1zm5 0h1v1h-1zm1 0h1v1h-1zm5 0h1v1h-1zm29 0h1v1h-1zm2 0h1v1h-1zm7 0h1v1h-1zm1 0h1v1h-1zm-4 1h1v1h-1z" fill="#5068d4"/>
</g><g filter="url(#bl)">
<path d="M211 513h4v1h-4zm-5 1h1v1h-1zm2 0h4v1h-4zm5 0h6v1h-6zm-10 1h3v1h-3zm4 0h1v1h-1zm10 0h2v1h-2zm3 0h1v1h-1zm-52 1h4v1h-4zm33 0h1v1h-1zm2 0h2v1h-2zm16 0h4v1h-4zm-64 1h1v1h-1zm2 0h2v1h-2zm3 0h2v1h-2zm3 0h2v1h-2zm3 0h9v1h-9zm10 0h10v1h-10zm25 0h1v1h-1zm2 0h1v1h-1zm18 0h1v1h-1zm-67 1h6v1h-6zm7 0h14v1h-14zm17 0h1v1h-1zm2 0h2v1h-2zm3 0h7v1h-7zm16 0h3v1h-3zm23 0h3v1h-3zm-36 1h6v1h-6zm12 0h3v1h-3zm25 0h1v1h-1zm-35 1h3v1h-3zm10 0h3v1h-3zm26 0h2v1h-2zm-35 1h3v1h-3zm4 0h1v1h-1zm2 0h1v1h-1zm2 0h3v1h-3zm27 0h1v1h-1zm-34 1h1v1h-1zm3 0h3v1h-3zm4 0h3v1h-3zm27 0h2v1h-2zm-34 1h1v1h-1zm2 0h2v1h-2zm3 0h1v1h-1zm2 0h3v1h-3zm27 0h1v1h-1zm-34 1h1v1h-1zm2 0h1v1h-1zm3 0h1v1h-1zm2 0h3v1h-3zm27 0h2v1h-2zm-33 1h3v1h-3zm4 0h1v1h-1zm2 0h2v1h-2zm3 0h1v1h-1zm25 0h1v1h-1zm-36 1h1v1h-1zm3 0h1v1h-1zm5 0h2v1h-2zm3 0h1v1h-1zm23 0h1v1h-1zm-34 1h2v1h-2zm10 0h3v1h-3zm23 0h3v1h-3zm-68 1h3v1h-3zm29 0h8v1h-8zm17 0h3v1h-3zm21 0h3v1h-3zm-65 1h23v1h-23zm24 0h5v1h-5zm6 0h2v1h-2zm16 0h3v1h-3zm17 0h3v1h-3zm-62 1h1v1h-1zm2 0h5v1h-5zm7 0h4v1h-4zm5 0h3v1h-3zm4 0h7v1h-7zm8 0h1v1h-1zm19 0h1v1h-1zm2 0h1v1h-1zm2 0h2v1h-2zm11 0h3v1h-3zm-12 1h7v1h-7zm8 0h1v1h-1zm2 0h4v1h-4zm-5 1h2v1h-2z" fill="#4a88da"/>
<path d="M208 515h9v1h-9zm-3 1h6v1h-6zm9 0h5v1h-5zm-10 1h3v1h-3zm14 0h3v1h-3zm-16 1h3v1h-3zm17 0h3v1h-3zm-65 1h32v1h-32zm47 0h3v1h-3zm20 0h2v1h-2zm-67 1h34v1h-34zm47 0h2v1h-2zm20 0h2v1h-2zm-67 1h1v1h-1zm31 0h4v1h-4zm15 0h3v1h-3zm22 0h2v1h-2zm-35 1h3v1h-3zm13 0h3v1h-3zm22 0h2v1h-2zm-35 1h3v1h-3zm13 0h3v1h-3zm22 0h2v1h-2zm-35 1h3v1h-3zm13 0h3v1h-3zm22 0h2v1h-2zm-36 1h4v1h-4zm15 0h2v1h-2zm20 0h3v1h-3zm-67 1h3v1h-3zm29 0h6v1h-6zm18 0h3v1h-3zm20 0h2v1h-2zm-67 1h34v1h-34zm48 0h3v1h-3zm17 0h3v1h-3zm-62 1h26v1h-26zm46 0h4v1h-4zm15 0h3v1h-3zm-13 1h6v1h-6zm9 0h5v1h-5zm-6 1h9v1h-9z" fill="#38a0dc"/>
<path d="M211 516h3v1h-3zm-4 1h11v1h-11zm-2 1h3v1h-3zm12 0h2v1h-2zm-13 1h3v1h-3zm14 0h3v1h-3zm-15 1h3v1h-3zm16 0h2v1h-2zm-64 1h30v1h-30zm48 0h2v1h-2zm17 0h2v1h-2zm-66 1h33v1h-33zm49 0h2v1h-2zm17 0h2v1h-2zm-66 1h11v1h-11zm22 0h11v1h-11zm27 0h2v1h-2zm17 0h2v1h-2zm-66 1h13v1h-13zm20 0h13v1h-13zm29 0h2v1h-2zm17 0h2v1h-2zm-66 1h32v1h-32zm49 0h3v1h-3zm16 0h2v1h-2zm-62 1h26v1h-26zm47 0h3v1h-3zm14 0h3v1h-3zm-13 1h3v1h-3zm12 0h2v1h-2zm-10 1h11v1h-11zm4 1h3v1h-3z" fill="#40b8b0"/>
<path d="M208 518h9v1h-9zm-1 1h4v1h-4zm7 0h4v1h-4zm-8 1h2v1h-2zm11 0h2v1h-2zm-12 1h3v1h-3zm13 0h2v1h-2zm-13 1h2v1h-2zm13 0h2v1h-2zm-53 1h11v1h-11zm40 0h2v1h-2zm13 0h2v1h-2zm-51 1h7v1h-7zm38 0h3v1h-3zm13 0h2v1h-2zm-12 1h2v1h-2zm11 0h2v1h-2zm-10 1h4v1h-4zm7 0h4v1h-4zm-6 1h9v1h-9z" fill="#50c050"/>
<path d="M211 519h3v1h-3zm-3 1h9v1h-9zm0 1h3v1h-3zm7 0h3v1h-3zm-8 1h3v1h-3zm8 0h3v1h-3zm-8 1h3v1h-3zm8 0h3v1h-3zm-7 1h3v1h-3zm7 0h3v1h-3zm-7 1h9v1h-9zm3 1h3v1h-3z" fill="#c8e030"/>
<path d="M211 521h4v1h-4zm-1 1h5v1h-5zm0 1h5v1h-5zm1 1h4v1h-4z" fill="#f0a020"/>
</g>
</g>
<rect x="154.4" y="497.1" width="81.9" height="72.4" fill="none" stroke="#8a8a8a" stroke-width="0.8"/>
<line x1="192.3" y1="497.1" x2="192.3" y2="569.5" stroke="#9a4c8e" stroke-width="0.6"/>
<line x1="154.4" y1="540.8" x2="236.3" y2="540.8" stroke="#9a4c8e" stroke-width="0.6"/>
<line x1="153.2" y1="497.1" x2="154.4" y2="497.1" stroke="#555" stroke-width="0.45"/>
<line x1="153.7" y1="499.51" x2="154.4" y2="499.51" stroke="#555" stroke-width="0.45"/>
<line x1="153.7" y1="501.93" x2="154.4" y2="501.93" stroke="#555" stroke-width="0.45"/>
<line x1="153.7" y1="504.34" x2="154.4" y2="504.34" stroke="#555" stroke-width="0.45"/>
<line x1="153.7" y1="506.75" x2="154.4" y2="506.75" stroke="#555" stroke-width="0.45"/>
<line x1="153.2" y1="509.17" x2="154.4" y2="509.17" stroke="#555" stroke-width="0.45"/>
<line x1="153.7" y1="511.58" x2="154.4" y2="511.58" stroke="#555" stroke-width="0.45"/>
<line x1="153.7" y1="513.99" x2="154.4" y2="513.99" stroke="#555" stroke-width="0.45"/>
<line x1="153.7" y1="516.41" x2="154.4" y2="516.41" stroke="#555" stroke-width="0.45"/>
<line x1="153.7" y1="518.82" x2="154.4" y2="518.82" stroke="#555" stroke-width="0.45"/>
<line x1="153.2" y1="521.23" x2="154.4" y2="521.23" stroke="#555" stroke-width="0.45"/>
<line x1="153.7" y1="523.65" x2="154.4" y2="523.65" stroke="#555" stroke-width="0.45"/>
<line x1="153.7" y1="526.06" x2="154.4" y2="526.06" stroke="#555" stroke-width="0.45"/>
<line x1="153.7" y1="528.47" x2="154.4" y2="528.47" stroke="#555" stroke-width="0.45"/>
<line x1="153.7" y1="530.89" x2="154.4" y2="530.89" stroke="#555" stroke-width="0.45"/>
<line x1="153.2" y1="533.3" x2="154.4" y2="533.3" stroke="#555" stroke-width="0.45"/>
<line x1="153.7" y1="535.71" x2="154.4" y2="535.71" stroke="#555" stroke-width="0.45"/>
<line x1="153.7" y1="538.13" x2="154.4" y2="538.13" stroke="#555" stroke-width="0.45"/>
<line x1="153.7" y1="540.54" x2="154.4" y2="540.54" stroke="#555" stroke-width="0.45"/>
<line x1="153.7" y1="542.95" x2="154.4" y2="542.95" stroke="#555" stroke-width="0.45"/>
<line x1="153.2" y1="545.37" x2="154.4" y2="545.37" stroke="#555" stroke-width="0.45"/>
<line x1="153.7" y1="547.78" x2="154.4" y2="547.78" stroke="#555" stroke-width="0.45"/>
<line x1="153.7" y1="550.19" x2="154.4" y2="550.19" stroke="#555" stroke-width="0.45"/>
<line x1="153.7" y1="552.61" x2="154.4" y2="552.61" stroke="#555" stroke-width="0.45"/>
<line x1="153.7" y1="555.02" x2="154.4" y2="555.02" stroke="#555" stroke-width="0.45"/>
<line x1="153.2" y1="557.43" x2="154.4" y2="557.43" stroke="#555" stroke-width="0.45"/>
<line x1="153.7" y1="559.85" x2="154.4" y2="559.85" stroke="#555" stroke-width="0.45"/>
<line x1="153.7" y1="562.26" x2="154.4" y2="562.26" stroke="#555" stroke-width="0.45"/>
<line x1="153.7" y1="564.67" x2="154.4" y2="564.67" stroke="#555" stroke-width="0.45"/>
<line x1="153.7" y1="567.09" x2="154.4" y2="567.09" stroke="#555" stroke-width="0.45"/>
<line x1="153.2" y1="569.5" x2="154.4" y2="569.5" stroke="#555" stroke-width="0.45"/>
<line x1="154.4" y1="569.5" x2="154.4" y2="570.9" stroke="#555" stroke-width="0.45"/>
<line x1="157.13" y1="569.5" x2="157.13" y2="570.3" stroke="#555" stroke-width="0.45"/>
<line x1="159.86" y1="569.5" x2="159.86" y2="570.3" stroke="#555" stroke-width="0.45"/>
<line x1="162.59" y1="569.5" x2="162.59" y2="570.3" stroke="#555" stroke-width="0.45"/>
<line x1="165.32" y1="569.5" x2="165.32" y2="570.3" stroke="#555" stroke-width="0.45"/>
<line x1="168.05" y1="569.5" x2="168.05" y2="570.9" stroke="#555" stroke-width="0.45"/>
<line x1="170.78" y1="569.5" x2="170.78" y2="570.3" stroke="#555" stroke-width="0.45"/>
<line x1="173.51" y1="569.5" x2="173.51" y2="570.3" stroke="#555" stroke-width="0.45"/>
<line x1="176.24" y1="569.5" x2="176.24" y2="570.3" stroke="#555" stroke-width="0.45"/>
<line x1="178.97" y1="569.5" x2="178.97" y2="570.3" stroke="#555" stroke-width="0.45"/>
<line x1="181.7" y1="569.5" x2="181.7" y2="570.9" stroke="#555" stroke-width="0.45"/>
<line x1="184.43" y1="569.5" x2="184.43" y2="570.3" stroke="#555" stroke-width="0.45"/>
<line x1="187.16" y1="569.5" x2="187.16" y2="570.3" stroke="#555" stroke-width="0.45"/>
<line x1="189.89" y1="569.5" x2="189.89" y2="570.3" stroke="#555" stroke-width="0.45"/>
<line x1="192.62" y1="569.5" x2="192.62" y2="570.3" stroke="#555" stroke-width="0.45"/>
<line x1="195.35" y1="569.5" x2="195.35" y2="570.9" stroke="#555" stroke-width="0.45"/>
<line x1="198.08" y1="569.5" x2="198.08" y2="570.3" stroke="#555" stroke-width="0.45"/>
<line x1="200.81" y1="569.5" x2="200.81" y2="570.3" stroke="#555" stroke-width="0.45"/>
<line x1="203.54" y1="569.5" x2="203.54" y2="570.3" stroke="#555" stroke-width="0.45"/>
<line x1="206.27" y1="569.5" x2="206.27" y2="570.3" stroke="#555" stroke-width="0.45"/>
<line x1="209" y1="569.5" x2="209" y2="570.9" stroke="#555" stroke-width="0.45"/>
<line x1="211.73" y1="569.5" x2="211.73" y2="570.3" stroke="#555" stroke-width="0.45"/>
<line x1="214.46" y1="569.5" x2="214.46" y2="570.3" stroke="#555" stroke-width="0.45"/>
<line x1="217.19" y1="569.5" x2="217.19" y2="570.3" stroke="#555" stroke-width="0.45"/>
<line x1="219.92" y1="569.5" x2="219.92" y2="570.3" stroke="#555" stroke-width="0.45"/>
<line x1="222.65" y1="569.5" x2="222.65" y2="570.9" stroke="#555" stroke-width="0.45"/>
<line x1="225.38" y1="569.5" x2="225.38" y2="570.3" stroke="#555" stroke-width="0.45"/>
<line x1="228.11" y1="569.5" x2="228.11" y2="570.3" stroke="#555" stroke-width="0.45"/>
<line x1="230.84" y1="569.5" x2="230.84" y2="570.3" stroke="#555" stroke-width="0.45"/>
<line x1="233.57" y1="569.5" x2="233.57" y2="570.3" stroke="#555" stroke-width="0.45"/>
<line x1="236.3" y1="569.5" x2="236.3" y2="570.9" stroke="#555" stroke-width="0.45"/>
<text x="155.7" y="501.9" font-size="3.9" font-weight="normal" text-anchor="start" fill="#962a84">64.2</text>
<text x="235" y="501.9" font-size="3.9" font-weight="normal" text-anchor="end" fill="#962a84">32.6</text>
<text x="155.7" y="568.2" font-size="3.9" font-weight="normal" text-anchor="start" fill="#962a84">1.29</text>
<text x="235" y="568.2" font-size="3.9" font-weight="normal" text-anchor="end" fill="#962a84">0.908</text>
<text x="152.1" y="504.8" font-size="4.1" font-weight="bold" text-anchor="end">10<tspan font-size="2.87" dy="-1.64">5</tspan></text>
<line x1="152.6" y1="503.3" x2="154.4" y2="503.3" stroke="#333" stroke-width="0.7"/>
<text x="152.1" y="519.3" font-size="4.1" font-weight="bold" text-anchor="end">10<tspan font-size="2.87" dy="-1.64">4</tspan></text>
<line x1="152.6" y1="517.8" x2="154.4" y2="517.8" stroke="#333" stroke-width="0.7"/>
<text x="152.1" y="534.7" font-size="4.1" font-weight="bold" text-anchor="end">10<tspan font-size="2.87" dy="-1.64">3</tspan></text>
<line x1="152.6" y1="533.2" x2="154.4" y2="533.2" stroke="#333" stroke-width="0.7"/>
<text x="152.1" y="550.6" font-size="4.1" font-weight="bold" text-anchor="end">10<tspan font-size="2.87" dy="-1.64">2</tspan></text>
<line x1="152.6" y1="549.1" x2="154.4" y2="549.1" stroke="#333" stroke-width="0.7"/>
<text x="150.9" y="557.3" font-size="4.2" font-weight="bold" text-anchor="end" fill="#000">0</text>
<line x1="152.6" y1="555.9" x2="154.4" y2="555.9" stroke="#333" stroke-width="0.7"/>
<text x="141.1" y="528.2" font-size="7.5" font-weight="bold" text-anchor="middle" fill="#000" transform="rotate(-90 141.1 528.2)">CD33</text>
<text x="170.7" y="577.8" font-size="4.2" font-weight="bold" text-anchor="middle" fill="#000">0</text>
<text x="177.7" y="577.8" font-size="4.1" font-weight="bold" text-anchor="middle">10<tspan font-size="2.87" dy="-1.64">2</tspan></text>
<text x="195.7" y="577.8" font-size="4.1" font-weight="bold" text-anchor="middle">10<tspan font-size="2.87" dy="-1.64">3</tspan></text>
<text x="213.2" y="577.8" font-size="4.1" font-weight="bold" text-anchor="middle">10<tspan font-size="2.87" dy="-1.64">4</tspan></text>
<text x="230.7" y="577.8" font-size="4.1" font-weight="bold" text-anchor="middle">10<tspan font-size="2.87" dy="-1.64">5</tspan></text>
<text x="194.4" y="581.9" font-size="5.6" font-weight="bold" text-anchor="middle" fill="#000">CD14</text>
<clipPath id="c11"><rect x="261.7" y="497.1" width="81.8" height="72.4"/></clipPath>
<g clip-path="url(#c11)">
<g filter="url(#bs)">
<path d="M315 529h1v1h-1zm-53 1h1v1h-1zm18 2h1v1h-1zm29 1h1v1h-1zm32 0h1v1h-1zm-59 1h1v1h-1zm17 0h1v1h-1zm21 0h1v1h-1zm-26 1h1v1h-1zm26 0h1v1h-1zm3 0h1v1h-1zm-41 1h1v1h-1zm-20 1h1v1h-1zm28 1h1v1h-1zm-21 1h1v1h-1zm14 0h1v1h-1zm0 1h1v1h-1zm9 0h1v1h-1zm29 0h1v1h-1zm8 4h1v1h-1zm9 0h1v1h-1zm-70 1h1v1h-1zm34 1h1v1h-1zm-11 1h1v1h-1zm-9 1h1v1h-1zm43 2h1v1h-1zm-3 1h1v1h-1zm-45 1h1v1h-1zm-8 1h1v1h-1zm-5 1h1v1h-1zm77 0h1v1h-1zm-38 5h1v1h-1zm24 0h1v1h-1zm2 0h1v1h-1zm-65 1h1v1h-1zm42 1h1v1h-1zm9 0h1v1h-1zm10 0h1v1h-1zm-11 1h1v1h-1zm-26 1h1v1h-1zm5 0h1v1h-1zm16 0h1v1h-1zm26 1h1v1h-1zm-57 1h1v1h-1zm51 0h1v1h-1zm-47 1h1v1h-1zm37 1h1v1h-1zm15 0h1v1h-1zm-59 1h1v1h-1zm18 1h1v1h-1zm14 0h1v1h-1z" fill="#b4bcea"/>
<path d="M333 525h1v1h-1zm-51 8h1v1h-1zm4 0h1v1h-1zm-21 1h1v1h-1zm21 0h1v1h-1zm14 1h1v1h-1zm-24 1h1v1h-1zm3 0h1v1h-1zm55 1h1v1h-1zm-5 1h1v1h-1zm-24 1h1v1h-1zm-5 1h1v1h-1zm17 0h1v1h-1zm9 1h1v1h-1zm-58 1h1v1h-1zm33 0h1v1h-1zm17 2h1v1h-1zm5 0h1v1h-1zm7 1h1v1h-1zm-12 2h1v1h-1zm-35 1h1v1h-1zm24 2h1v1h-1zm5 0h1v1h-1zm-32 1h1v1h-1zm1 0h1v1h-1zm8 0h1v1h-1zm45 0h1v1h-1zm-64 1h1v1h-1zm8 0h1v1h-1zm50 0h1v1h-1zm14 1h1v1h-1zm-73 1h1v1h-1zm37 1h1v1h-1zm36 0h1v1h-1zm-79 1h1v1h-1zm50 0h1v1h-1zm-49 1h1v1h-1zm13 1h1v1h-1zm11 0h1v1h-1zm8 0h1v1h-1zm26 1h1v1h-1zm-8 1h1v1h-1zm13 0h1v1h-1zm-52 1h1v1h-1zm30 0h1v1h-1zm3 0h1v1h-1zm3 0h1v1h-1zm21 2h1v1h-1zm-68 2h1v1h-1zm36 0h1v1h-1zm36 0h1v1h-1zm-74 2h1v1h-1zm64 0h1v1h-1zm-62 1h1v1h-1zm20 0h1v1h-1zm5 0h1v1h-1zm22 0h1v1h-1zm13 0h1v1h-1zm-28 1h1v1h-1z" fill="#c0c4ee"/>
<path d="M301 529h1v1h-1zm4 0h1v1h-1zm-17 2h1v1h-1zm55 0h1v1h-1zm-71 4h1v1h-1zm53 0h1v1h-1zm-45 3h1v1h-1zm2 1h1v1h-1zm5 0h1v1h-1zm-11 3h1v1h-1zm18 1h1v1h-1zm-32 1h1v1h-1zm26 0h1v1h-1zm18 0h1v1h-1zm-3 1h1v1h-1zm29 0h1v1h-1zm-1 2h1v1h-1zm-40 2h1v1h-1zm6 0h1v1h-1zm11 0h1v1h-1zm30 0h1v1h-1zm-71 2h1v1h-1zm1 0h1v1h-1zm2 0h1v1h-1zm25 0h1v1h-1zm24 0h1v1h-1zm7 0h1v1h-1zm5 0h1v1h-1zm-63 1h1v1h-1zm4 0h1v1h-1zm60 1h1v1h-1zm-54 1h1v1h-1zm4 0h1v1h-1zm44 1h1v1h-1zm14 0h1v1h-1zm-65 1h1v1h-1zm10 1h1v1h-1zm38 0h1v1h-1zm-49 1h1v1h-1zm31 0h1v1h-1zm28 0h1v1h-1zm-70 1h1v1h-1zm31 0h1v1h-1zm3 0h1v1h-1zm-35 1h1v1h-1zm12 0h1v1h-1zm20 0h1v1h-1zm27 0h1v1h-1zm-50 2h1v1h-1zm19 1h1v1h-1zm51 3h1v1h-1zm-44 1h1v1h-1zm15 2h1v1h-1z" fill="#bcb4e2"/>
<path d="M337 528h1v1h-1zm-19 3h1v1h-1zm-10 1h1v1h-1zm-32 1h1v1h-1zm1 0h1v1h-1zm57 1h1v1h-1zm-10 1h1v1h-1zm-27 1h1v1h-1zm10 0h1v1h-1zm13 0h1v1h-1zm-36 2h1v1h-1zm54 0h1v1h-1zm-72 1h1v1h-1zm59 0h1v1h-1zm-51 1h1v1h-1zm-10 1h1v1h-1zm39 0h1v1h-1zm27 0h1v1h-1zm-49 1h1v1h-1zm15 1h1v1h-1zm25 0h1v1h-1zm-56 1h1v1h-1zm28 1h1v1h-1zm45 1h1v1h-1zm-75 1h1v1h-1zm65 2h1v1h-1zm13 0h1v1h-1zm-10 1h1v1h-1zm-52 1h1v1h-1zm18 1h1v1h-1zm28 0h1v1h-1zm-12 1h1v1h-1zm3 1h1v1h-1zm-41 1h1v1h-1zm-11 1h1v1h-1zm1 0h1v1h-1zm32 0h1v1h-1zm29 0h1v1h-1zm3 0h1v1h-1zm-21 1h1v1h-1zm-33 1h1v1h-1zm14 0h1v1h-1zm24 0h1v1h-1zm-28 2h1v1h-1zm2 0h1v1h-1zm-1 1h1v1h-1zm-22 1h1v1h-1zm63 1h1v1h-1zm-57 1h1v1h-1zm-5 1h1v1h-1zm69 1h1v1h-1zm-23 1h1v1h-1zm13 0h1v1h-1zm-26 1h1v1h-1zm-26 1h1v1h-1z" fill="#c8cef2"/>
<path d="M306 511h1v1h-1zm-36 4h1v1h-1zm6 0h1v1h-1zm37 0h1v1h-1zm18 0h1v1h-1zm-67 1h1v1h-1zm46 0h1v1h-1zm1 0h1v1h-1zm2 0h1v1h-1zm-20 1h1v1h-1zm8 0h1v1h-1zm-38 1h1v1h-1zm40 0h1v1h-1zm-2 3h1v1h-1zm7 1h1v1h-1zm-6 1h1v1h-1zm0 3h1v1h-1zm0 1h1v1h-1zm5 1h1v1h-1zm2 0h1v1h-1zm-7 1h1v1h-1zm-1 1h1v1h-1zm37 0h1v1h-1zm-41 2h1v1h-1zm17 0h1v1h-1zm18 0h1v1h-1zm-62 1h1v1h-1zm47 0h1v1h-1zm-43 1h1v1h-1zm17 0h1v1h-1zm5 0h1v1h-1zm4 0h1v1h-1zm9 0h1v1h-1zm12 0h1v1h-1zm9 0h1v1h-1zm-42 1h1v1h-1zm1 1h1v1h-1zm15 0h1v1h-1zm-20 1h1v1h-1zm-11 4h1v1h-1z" fill="#6a7edc"/>
<path d="M326 509h1v1h-1zm-58 3h1v1h-1zm11 1h1v1h-1zm40 0h1v1h-1zm8 0h1v1h-1zm1 0h1v1h-1zm-56 1h1v1h-1zm8 0h1v1h-1zm-11 1h1v1h-1zm13 0h1v1h-1zm3 1h1v1h-1zm-3 1h1v1h-1zm10 0h1v1h-1zm14 0h1v1h-1zm37 1h1v1h-1zm-39 2h1v1h-1zm34 3h1v1h-1zm-34 6h1v1h-1zm34 0h1v1h-1zm-33 1h1v1h-1zm1 0h1v1h-1zm5 0h1v1h-1zm24 0h1v1h-1zm-36 2h1v1h-1zm-38 1h1v1h-1zm10 0h1v1h-1zm60 0h1v1h-1zm-54 1h1v1h-1zm6 0h1v1h-1zm1 0h1v1h-1zm39 0h1v1h-1zm5 0h1v1h-1zm-61 1h1v1h-1zm23 0h1v1h-1zm5 0h1v1h-1zm23 0h1v1h-1zm10 0h1v1h-1zm-53 1h1v1h-1zm20 0h1v1h-1zm44 0h1v1h-1zm-24 1h1v1h-1zm-41 2h1v1h-1zm49 0h1v1h-1zm-44 1h1v1h-1z" fill="#7a8adc"/>
<path d="M266 507h1v1h-1zm63 4h1v1h-1zm-27 1h1v1h-1zm23 0h1v1h-1zm-24 2h1v1h-1zm-13 1h1v1h-1zm15 0h1v1h-1zm12 0h1v1h-1zm-44 1h1v1h-1zm4 0h1v1h-1zm18 0h1v1h-1zm16 0h1v1h-1zm-2 1h1v1h-1zm0 3h1v1h-1zm31 0h1v1h-1zm-36 2h1v1h-1zm35 0h1v1h-1zm0 2h1v1h-1zm5 1h1v1h-1zm-39 4h1v1h-1zm32 0h1v1h-1zm-25 2h1v1h-1zm-49 1h1v1h-1zm2 0h1v1h-1zm48 0h1v1h-1zm-40 2h1v1h-1zm8 0h1v1h-1zm14 0h1v1h-1zm26 0h1v1h-1zm10 0h1v1h-1zm-66 1h1v1h-1zm12 0h1v1h-1zm6 0h1v1h-1zm41 0h1v1h-1zm-49 1h1v1h-1zm12 0h1v1h-1zm3 0h1v1h-1zm2 1h1v1h-1zm17 0h1v1h-1zm14 0h1v1h-1zm-48 1h1v1h-1zm-6 1h1v1h-1zm63 0h1v1h-1zm-38 4h1v1h-1z" fill="#8a96e0"/>
<path d="M284 506h1v1h-1zm51 1h1v1h-1zm-74 1h1v1h-1zm66 2h1v1h-1zm-64 2h1v1h-1zm52 2h1v1h-1zm15 0h1v1h-1zm-58 1h1v1h-1zm7 0h1v1h-1zm54 1h1v1h-1zm-55 1h1v1h-1zm16 0h1v1h-1zm16 0h1v1h-1zm-17 1h1v1h-1zm5 1h1v1h-1zm11 0h1v1h-1zm1 0h1v1h-1zm27 0h1v1h-1zm-38 1h1v1h-1zm2 0h1v1h-1zm2 0h1v1h-1zm38 0h1v1h-1zm-40 2h1v1h-1zm38 2h1v1h-1zm-3 2h1v1h-1zm-34 2h1v1h-1zm8 1h1v1h-1zm-11 1h1v1h-1zm3 0h1v1h-1zm7 0h1v1h-1zm1 0h1v1h-1zm24 0h1v1h-1zm3 1h1v1h-1zm-75 1h1v1h-1zm50 0h1v1h-1zm1 0h1v1h-1zm-20 1h1v1h-1zm40 0h1v1h-1zm-67 1h1v1h-1zm14 0h1v1h-1zm37 0h1v1h-1zm-52 1h1v1h-1zm19 0h1v1h-1zm42 0h1v1h-1zm-34 1h1v1h-1zm23 0h1v1h-1zm22 0h1v1h-1zm-68 1h1v1h-1zm-8 1h1v1h-1zm27 2h1v1h-1zm3 4h1v1h-1z" fill="#96a0e4"/>
<path d="M326 511h1v1h-1zm-64 1h1v1h-1zm5 1h1v1h-1zm34 0h1v1h-1zm20 0h1v1h-1zm12 1h1v1h-1zm-35 1h1v1h-1zm-19 1h1v1h-1zm-16 1h1v1h-1zm8 0h1v1h-1zm12 0h1v1h-1zm51 0h1v1h-1zm-34 1h1v1h-1zm2 1h1v1h-1zm33 0h1v1h-1zm-26 2h1v1h-1zm29 0h1v1h-1zm-32 1h1v1h-1zm2 1h1v1h-1zm28 2h1v1h-1zm-32 2h1v1h-1zm0 1h1v1h-1zm34 0h1v1h-1zm-38 2h1v1h-1zm-1 1h1v1h-1zm4 1h1v1h-1zm-40 1h1v1h-1zm3 0h1v1h-1zm21 0h1v1h-1zm2 0h1v1h-1zm26 0h1v1h-1zm-47 1h1v1h-1zm13 0h1v1h-1zm-4 1h1v1h-1zm2 0h1v1h-1zm4 1h1v1h-1zm11 0h1v1h-1zm34 0h1v1h-1zm-55 3h1v1h-1z" fill="#7086e0"/>
<path d="M323 513h1v1h-1zm-4 1h1v1h-1zm1 0h1v1h-1zm2 0h1v1h-1zm3 0h1v1h-1zm2 0h1v1h-1zm-11 1h1v1h-1zm1 0h1v1h-1zm12 0h1v1h-1zm1 0h1v1h-1zm-15 1h1v1h-1zm1 0h1v1h-1zm15 0h1v1h-1zm1 0h1v1h-1zm-18 1h1v1h-1zm18 0h1v1h-1zm-63 1h1v1h-1zm2 0h1v1h-1zm3 0h1v1h-1zm1 0h1v1h-1zm2 0h1v1h-1zm1 0h1v1h-1zm5 0h1v1h-1zm2 0h1v1h-1zm3 0h1v1h-1zm24 0h1v1h-1zm1 0h1v1h-1zm20 0h1v1h-1zm-72 1h1v1h-1zm2 0h1v1h-1zm1 0h1v1h-1zm29 0h1v1h-1zm1 0h1v1h-1zm1 0h1v1h-1zm2 1h1v1h-1zm1 0h1v1h-1zm12 0h1v1h-1zm1 0h1v1h-1zm1 0h1v1h-1zm22 0h1v1h-1zm1 0h1v1h-1zm-24 1h1v1h-1zm24 0h1v1h-1zm-35 1h1v1h-1zm11 0h1v1h-1zm-11 1h1v1h-1zm10 1h1v1h-1zm1 0h1v1h-1zm24 0h1v1h-1zm-25 1h1v1h-1zm-1 1h1v1h-1zm1 0h1v1h-1zm-1 1h1v1h-1zm2 0h1v1h-1zm23 0h1v1h-1zm-24 1h1v1h-1zm1 0h1v1h-1zm1 1h1v1h-1zm-15 1h1v1h-1zm16 0h1v1h-1zm20 0h1v1h-1zm-72 1h1v1h-1zm1 0h1v1h-1zm32 0h1v1h-1zm1 0h1v1h-1zm2 0h1v1h-1zm19 0h1v1h-1zm16 0h1v1h-1zm-68 1h1v1h-1zm2 0h1v1h-1zm3 0h1v1h-1zm3 0h1v1h-1zm6 0h1v1h-1zm3 0h1v1h-1zm3 0h1v1h-1zm1 0h1v1h-1zm1 0h1v1h-1zm4 0h1v1h-1zm1 0h1v1h-1zm1 0h1v1h-1zm2 0h1v1h-1zm23 0h1v1h-1zm1 0h1v1h-1zm11 0h1v1h-1zm-48 1h1v1h-1zm3 0h1v1h-1zm1 0h1v1h-1zm34 0h1v1h-1zm1 0h1v1h-1zm1 0h1v1h-1zm1 0h1v1h-1zm1 0h1v1h-1zm1 0h1v1h-1zm1 0h1v1h-1zm2 0h1v1h-1zm1 0h1v1h-1z" fill="#5068d4"/>
</g><g filter="url(#bl)">
<path d="M323 514h2v1h-2zm-4 1h1v1h-1zm2 0h2v1h-2zm3 0h5v1h-5zm-6 1h5v1h-5zm7 0h6v1h-6zm-9 1h3v1h-3zm13 0h2v1h-2zm-14 1h3v1h-3zm15 0h3v1h-3zm-64 1h3v1h-3zm4 0h2v1h-2zm3 0h2v1h-2zm3 0h3v1h-3zm4 0h1v1h-1zm3 0h7v1h-7zm8 0h1v1h-1zm24 0h2v1h-2zm16 0h2v1h-2zm-69 1h13v1h-13zm22 0h10v1h-10zm12 0h1v1h-1zm17 0h3v1h-3zm19 0h2v1h-2zm-37 1h3v1h-3zm18 0h2v1h-2zm19 0h3v1h-3zm-35 1h1v1h-1zm2 0h1v1h-1zm13 0h1v1h-1zm2 0h1v1h-1zm19 0h2v1h-2zm-19 1h1v1h-1zm19 0h2v1h-2zm-33 1h1v1h-1zm12 0h3v1h-3zm21 0h2v1h-2zm-34 1h2v1h-2zm13 0h3v1h-3zm-13 1h2v1h-2zm13 0h3v1h-3zm20 0h2v1h-2zm-19 1h3v1h-3zm19 0h2v1h-2zm-35 1h1v1h-1zm17 0h3v1h-3zm17 0h3v1h-3zm-35 1h3v1h-3zm20 0h2v1h-2zm14 0h3v1h-3zm-69 1h1v1h-1zm2 0h10v1h-10zm23 0h8v1h-8zm29 0h5v1h-5zm13 0h3v1h-3zm-65 1h1v1h-1zm2 0h5v1h-5zm7 0h8v1h-8zm9 0h3v1h-3zm4 0h3v1h-3zm4 0h1v1h-1zm2 0h1v1h-1zm2 0h1v1h-1zm24 0h1v1h-1zm2 0h12v1h-12zm0 1h9v1h-9z" fill="#4a88da"/>
<path d="M323 516h2v1h-2zm-4 1h9v1h-9zm-1 1h5v1h-5zm7 0h5v1h-5zm-8 1h3v1h-3zm11 0h3v1h-3zm-53 1h9v1h-9zm41 0h3v1h-3zm13 0h3v1h-3zm-68 1h34v1h-34zm54 0h3v1h-3zm15 0h2v1h-2zm-36 1h3v1h-3zm21 0h3v1h-3zm15 0h3v1h-3zm-34 1h2v1h-2zm19 0h2v1h-2zm15 0h3v1h-3zm-33 1h2v1h-2zm18 0h2v1h-2zm15 0h3v1h-3zm-33 1h2v1h-2zm18 0h3v1h-3zm15 0h3v1h-3zm-33 1h2v1h-2zm18 0h3v1h-3zm15 0h2v1h-2zm-34 1h1v1h-1zm20 0h3v1h-3zm13 0h3v1h-3zm-35 1h3v1h-3zm23 0h4v1h-4zm10 0h4v1h-4zm-66 1h35v1h-35zm57 0h12v1h-12zm-45 1h13v1h-13zm47 0h8v1h-8z" fill="#38a0dc"/>
<path d="M323 518h2v1h-2zm-3 1h8v1h-8zm-1 1h10v1h-10zm-1 1h3v1h-3zm9 0h3v1h-3zm-66 1h33v1h-33zm57 0h2v1h-2zm10 0h2v1h-2zm-67 1h2v1h-2zm31 0h4v1h-4zm25 0h3v1h-3zm11 0h2v1h-2zm-33 1h2v1h-2zm22 0h3v1h-3zm11 0h2v1h-2zm-33 1h2v1h-2zm23 0h3v1h-3zm9 0h3v1h-3zm-32 1h2v1h-2zm23 0h4v1h-4zm8 0h4v1h-4zm-65 1h2v1h-2zm32 0h3v1h-3zm26 0h10v1h-10zm-58 1h33v1h-33zm60 0h6v1h-6z" fill="#40b8b0"/>
<path d="M321 521h6v1h-6zm-1 1h8v1h-8zm-57 1h29v1h-29zm57 0h8v1h-8zm-59 1h34v1h-34zm59 0h8v1h-8zm-59 1h18v1h-18zm19 0h15v1h-15zm41 0h6v1h-6zm-60 1h34v1h-34zm61 0h4v1h-4zm-59 1h30v1h-30z" fill="#50c050"/>
<path d="M279 525h1v1h-1z" fill="#c8e030"/>
</g>
</g>
<rect x="261.7" y="497.1" width="81.8" height="72.4" fill="none" stroke="#8a8a8a" stroke-width="0.8"/>
<line x1="300.3" y1="497.1" x2="300.3" y2="569.5" stroke="#9a4c8e" stroke-width="0.6"/>
<line x1="261.7" y1="541.1" x2="343.5" y2="541.1" stroke="#9a4c8e" stroke-width="0.6"/>
<line x1="260.5" y1="497.1" x2="261.7" y2="497.1" stroke="#555" stroke-width="0.45"/>
<line x1="261" y1="499.51" x2="261.7" y2="499.51" stroke="#555" stroke-width="0.45"/>
<line x1="261" y1="501.93" x2="261.7" y2="501.93" stroke="#555" stroke-width="0.45"/>
<line x1="261" y1="504.34" x2="261.7" y2="504.34" stroke="#555" stroke-width="0.45"/>
<line x1="261" y1="506.75" x2="261.7" y2="506.75" stroke="#555" stroke-width="0.45"/>
<line x1="260.5" y1="509.17" x2="261.7" y2="509.17" stroke="#555" stroke-width="0.45"/>
<line x1="261" y1="511.58" x2="261.7" y2="511.58" stroke="#555" stroke-width="0.45"/>
<line x1="261" y1="513.99" x2="261.7" y2="513.99" stroke="#555" stroke-width="0.45"/>
<line x1="261" y1="516.41" x2="261.7" y2="516.41" stroke="#555" stroke-width="0.45"/>
<line x1="261" y1="518.82" x2="261.7" y2="518.82" stroke="#555" stroke-width="0.45"/>
<line x1="260.5" y1="521.23" x2="261.7" y2="521.23" stroke="#555" stroke-width="0.45"/>
<line x1="261" y1="523.65" x2="261.7" y2="523.65" stroke="#555" stroke-width="0.45"/>
<line x1="261" y1="526.06" x2="261.7" y2="526.06" stroke="#555" stroke-width="0.45"/>
<line x1="261" y1="528.47" x2="261.7" y2="528.47" stroke="#555" stroke-width="0.45"/>
<line x1="261" y1="530.89" x2="261.7" y2="530.89" stroke="#555" stroke-width="0.45"/>
<line x1="260.5" y1="533.3" x2="261.7" y2="533.3" stroke="#555" stroke-width="0.45"/>
<line x1="261" y1="535.71" x2="261.7" y2="535.71" stroke="#555" stroke-width="0.45"/>
<line x1="261" y1="538.13" x2="261.7" y2="538.13" stroke="#555" stroke-width="0.45"/>
<line x1="261" y1="540.54" x2="261.7" y2="540.54" stroke="#555" stroke-width="0.45"/>
<line x1="261" y1="542.95" x2="261.7" y2="542.95" stroke="#555" stroke-width="0.45"/>
<line x1="260.5" y1="545.37" x2="261.7" y2="545.37" stroke="#555" stroke-width="0.45"/>
<line x1="261" y1="547.78" x2="261.7" y2="547.78" stroke="#555" stroke-width="0.45"/>
<line x1="261" y1="550.19" x2="261.7" y2="550.19" stroke="#555" stroke-width="0.45"/>
<line x1="261" y1="552.61" x2="261.7" y2="552.61" stroke="#555" stroke-width="0.45"/>
<line x1="261" y1="555.02" x2="261.7" y2="555.02" stroke="#555" stroke-width="0.45"/>
<line x1="260.5" y1="557.43" x2="261.7" y2="557.43" stroke="#555" stroke-width="0.45"/>
<line x1="261" y1="559.85" x2="261.7" y2="559.85" stroke="#555" stroke-width="0.45"/>
<line x1="261" y1="562.26" x2="261.7" y2="562.26" stroke="#555" stroke-width="0.45"/>
<line x1="261" y1="564.67" x2="261.7" y2="564.67" stroke="#555" stroke-width="0.45"/>
<line x1="261" y1="567.09" x2="261.7" y2="567.09" stroke="#555" stroke-width="0.45"/>
<line x1="260.5" y1="569.5" x2="261.7" y2="569.5" stroke="#555" stroke-width="0.45"/>
<line x1="261.7" y1="569.5" x2="261.7" y2="570.9" stroke="#555" stroke-width="0.45"/>
<line x1="264.43" y1="569.5" x2="264.43" y2="570.3" stroke="#555" stroke-width="0.45"/>
<line x1="267.15" y1="569.5" x2="267.15" y2="570.3" stroke="#555" stroke-width="0.45"/>
<line x1="269.88" y1="569.5" x2="269.88" y2="570.3" stroke="#555" stroke-width="0.45"/>
<line x1="272.61" y1="569.5" x2="272.61" y2="570.3" stroke="#555" stroke-width="0.45"/>
<line x1="275.33" y1="569.5" x2="275.33" y2="570.9" stroke="#555" stroke-width="0.45"/>
<line x1="278.06" y1="569.5" x2="278.06" y2="570.3" stroke="#555" stroke-width="0.45"/>
<line x1="280.79" y1="569.5" x2="280.79" y2="570.3" stroke="#555" stroke-width="0.45"/>
<line x1="283.51" y1="569.5" x2="283.51" y2="570.3" stroke="#555" stroke-width="0.45"/>
<line x1="286.24" y1="569.5" x2="286.24" y2="570.3" stroke="#555" stroke-width="0.45"/>
<line x1="288.97" y1="569.5" x2="288.97" y2="570.9" stroke="#555" stroke-width="0.45"/>
<line x1="291.69" y1="569.5" x2="291.69" y2="570.3" stroke="#555" stroke-width="0.45"/>
<line x1="294.42" y1="569.5" x2="294.42" y2="570.3" stroke="#555" stroke-width="0.45"/>
<line x1="297.15" y1="569.5" x2="297.15" y2="570.3" stroke="#555" stroke-width="0.45"/>
<line x1="299.87" y1="569.5" x2="299.87" y2="570.3" stroke="#555" stroke-width="0.45"/>
<line x1="302.6" y1="569.5" x2="302.6" y2="570.9" stroke="#555" stroke-width="0.45"/>
<line x1="305.33" y1="569.5" x2="305.33" y2="570.3" stroke="#555" stroke-width="0.45"/>
<line x1="308.05" y1="569.5" x2="308.05" y2="570.3" stroke="#555" stroke-width="0.45"/>
<line x1="310.78" y1="569.5" x2="310.78" y2="570.3" stroke="#555" stroke-width="0.45"/>
<line x1="313.51" y1="569.5" x2="313.51" y2="570.3" stroke="#555" stroke-width="0.45"/>
<line x1="316.23" y1="569.5" x2="316.23" y2="570.9" stroke="#555" stroke-width="0.45"/>
<line x1="318.96" y1="569.5" x2="318.96" y2="570.3" stroke="#555" stroke-width="0.45"/>
<line x1="321.69" y1="569.5" x2="321.69" y2="570.3" stroke="#555" stroke-width="0.45"/>
<line x1="324.41" y1="569.5" x2="324.41" y2="570.3" stroke="#555" stroke-width="0.45"/>
<line x1="327.14" y1="569.5" x2="327.14" y2="570.3" stroke="#555" stroke-width="0.45"/>
<line x1="329.87" y1="569.5" x2="329.87" y2="570.9" stroke="#555" stroke-width="0.45"/>
<line x1="332.59" y1="569.5" x2="332.59" y2="570.3" stroke="#555" stroke-width="0.45"/>
<line x1="335.32" y1="569.5" x2="335.32" y2="570.3" stroke="#555" stroke-width="0.45"/>
<line x1="338.05" y1="569.5" x2="338.05" y2="570.3" stroke="#555" stroke-width="0.45"/>
<line x1="340.77" y1="569.5" x2="340.77" y2="570.3" stroke="#555" stroke-width="0.45"/>
<line x1="343.5" y1="569.5" x2="343.5" y2="570.9" stroke="#555" stroke-width="0.45"/>
<text x="263" y="501.9" font-size="3.9" font-weight="normal" text-anchor="start" fill="#962a84">71.3</text>
<text x="342.2" y="501.9" font-size="3.9" font-weight="normal" text-anchor="end" fill="#962a84">27.3</text>
<text x="263" y="568.2" font-size="3.9" font-weight="normal" text-anchor="start" fill="#962a84">1.08</text>
<text x="342.2" y="568.2" font-size="3.9" font-weight="normal" text-anchor="end" fill="#962a84">0.227</text>
<text x="259.4" y="504.8" font-size="4.1" font-weight="bold" text-anchor="end">10<tspan font-size="2.87" dy="-1.64">5</tspan></text>
<line x1="259.9" y1="503.3" x2="261.7" y2="503.3" stroke="#333" stroke-width="0.7"/>
<text x="259.4" y="519.3" font-size="4.1" font-weight="bold" text-anchor="end">10<tspan font-size="2.87" dy="-1.64">4</tspan></text>
<line x1="259.9" y1="517.8" x2="261.7" y2="517.8" stroke="#333" stroke-width="0.7"/>
<text x="259.4" y="534.7" font-size="4.1" font-weight="bold" text-anchor="end">10<tspan font-size="2.87" dy="-1.64">3</tspan></text>
<line x1="259.9" y1="533.2" x2="261.7" y2="533.2" stroke="#333" stroke-width="0.7"/>
<text x="259.4" y="550.6" font-size="4.1" font-weight="bold" text-anchor="end">10<tspan font-size="2.87" dy="-1.64">2</tspan></text>
<line x1="259.9" y1="549.1" x2="261.7" y2="549.1" stroke="#333" stroke-width="0.7"/>
<text x="258.2" y="557.3" font-size="4.2" font-weight="bold" text-anchor="end" fill="#000">0</text>
<line x1="259.9" y1="555.9" x2="261.7" y2="555.9" stroke="#333" stroke-width="0.7"/>
<text x="249.9" y="533.8" font-size="7.5" font-weight="bold" text-anchor="middle" fill="#000" transform="rotate(-90 249.9 533.8)">CD33</text>
<text x="278" y="577.8" font-size="4.2" font-weight="bold" text-anchor="middle" fill="#000">0</text>
<text x="285" y="577.8" font-size="4.1" font-weight="bold" text-anchor="middle">10<tspan font-size="2.87" dy="-1.64">2</tspan></text>
<text x="303" y="577.8" font-size="4.1" font-weight="bold" text-anchor="middle">10<tspan font-size="2.87" dy="-1.64">3</tspan></text>
<text x="320.5" y="577.8" font-size="4.1" font-weight="bold" text-anchor="middle">10<tspan font-size="2.87" dy="-1.64">4</tspan></text>
<text x="338" y="577.8" font-size="4.1" font-weight="bold" text-anchor="middle">10<tspan font-size="2.87" dy="-1.64">5</tspan></text>
<text x="301.7" y="581.9" font-size="5.6" font-weight="bold" text-anchor="middle" fill="#000">CD14</text>
<clipPath id="c12"><rect x="367.2" y="497.1" width="81.3" height="72.4"/></clipPath>
<g clip-path="url(#c12)">
<g filter="url(#bs)">
<path d="M445 525h1v1h-1zm-47 6h1v1h-1zm-13 1h1v1h-1zm41 1h1v1h-1zm17 2h1v1h-1zm-58 2h1v1h-1zm12 0h1v1h-1zm8 0h1v1h-1zm-30 3h1v1h-1zm41 1h1v1h-1zm8 0h1v1h-1zm-37 1h1v1h-1zm1 1h1v1h-1zm45 2h1v1h-1zm-61 3h1v1h-1zm44 0h1v1h-1zm23 2h1v1h-1zm-35 1h1v1h-1zm37 0h1v1h-1zm-62 1h1v1h-1zm9 0h1v1h-1zm0 1h1v1h-1zm38 0h1v1h-1zm-30 1h1v1h-1zm7 1h1v1h-1zm40 1h1v1h-1zm-69 1h1v1h-1zm53 2h1v1h-1zm-53 1h1v1h-1zm8 1h1v1h-1zm33 0h1v1h-1zm-33 1h1v1h-1zm33 0h1v1h-1zm12 0h1v1h-1zm7 0h1v1h-1zm-26 1h1v1h-1zm-14 1h1v1h-1zm-3 1h1v1h-1zm16 0h1v1h-1zm-5 1h1v1h-1zm37 1h1v1h-1zm4 0h1v1h-1zm-27 1h1v1h-1zm-43 1h1v1h-1z" fill="#b4bcea"/>
<path d="M442 530h1v1h-1zm-40 1h1v1h-1zm2 0h1v1h-1zm12 0h1v1h-1zm26 1h1v1h-1zm-14 1h1v1h-1zm4 1h1v1h-1zm-41 2h1v1h-1zm3 0h1v1h-1zm5 0h1v1h-1zm43 1h1v1h-1zm-69 1h1v1h-1zm58 0h1v1h-1zm12 0h1v1h-1zm-19 1h1v1h-1zm-43 1h1v1h-1zm62 0h1v1h-1zm-8 4h1v1h-1zm-66 1h1v1h-1zm33 0h1v1h-1zm11 0h1v1h-1zm13 0h1v1h-1zm-6 3h1v1h-1zm10 0h1v1h-1zm9 1h1v1h-1zm-65 1h1v1h-1zm36 0h1v1h-1zm1 0h1v1h-1zm1 0h1v1h-1zm22 0h1v1h-1zm7 3h1v1h-1zm-59 1h1v1h-1zm47 0h1v1h-1zm-25 1h1v1h-1zm9 0h1v1h-1zm22 1h1v1h-1zm-65 1h1v1h-1zm29 1h1v1h-1zm28 0h1v1h-1zm2 0h1v1h-1zm-48 1h1v1h-1zm7 0h1v1h-1zm29 0h1v1h-1zm-22 1h1v1h-1zm-16 1h1v1h-1zm57 0h1v1h-1zm-38 2h1v1h-1zm16 0h1v1h-1zm-40 1h1v1h-1zm-2 1h1v1h-1zm61 0h1v1h-1zm-60 1h1v1h-1zm9 0h1v1h-1zm2 0h1v1h-1zm4 0h1v1h-1zm5 0h1v1h-1zm18 1h1v1h-1zm6 1h1v1h-1zm10 0h1v1h-1zm-5 1h1v1h-1z" fill="#c0c4ee"/>
<path d="M437 526h1v1h-1zm2 2h1v1h-1zm-47 3h1v1h-1zm-13 1h1v1h-1zm16 1h1v1h-1zm25 0h1v1h-1zm-51 1h1v1h-1zm38 0h1v1h-1zm6 0h1v1h-1zm2 0h1v1h-1zm3 0h1v1h-1zm20 0h1v1h-1zm-51 2h1v1h-1zm6 0h1v1h-1zm49 0h1v1h-1zm-49 1h1v1h-1zm17 0h1v1h-1zm13 0h1v1h-1zm24 1h1v1h-1zm-9 2h1v1h-1zm-39 1h1v1h-1zm19 0h1v1h-1zm24 0h1v1h-1zm-48 1h1v1h-1zm33 0h1v1h-1zm-42 1h1v1h-1zm33 0h1v1h-1zm-43 1h1v1h-1zm24 0h1v1h-1zm-32 2h1v1h-1zm52 0h1v1h-1zm-48 1h1v1h-1zm53 0h1v1h-1zm2 1h1v1h-1zm20 0h1v1h-1zm-32 2h1v1h-1zm10 0h1v1h-1zm-39 2h1v1h-1zm-12 1h1v1h-1zm17 0h1v1h-1zm7 1h1v1h-1zm-6 1h1v1h-1zm33 0h1v1h-1zm1 0h1v1h-1zm-56 1h1v1h-1zm18 0h1v1h-1zm22 0h1v1h-1zm8 0h1v1h-1zm-48 1h1v1h-1zm29 0h1v1h-1zm28 0h1v1h-1zm4 1h1v1h-1zm2 1h1v1h-1zm4 3h1v1h-1zm-32 1h1v1h-1zm18 0h1v1h-1zm16 0h1v1h-1zm-47 1h1v1h-1zm-2 1h1v1h-1zm5 0h1v1h-1zm20 1h1v1h-1zm9 1h1v1h-1zm5 1h1v1h-1zm-10 1h1v1h-1z" fill="#bcb4e2"/>
<path d="M433 527h1v1h-1zm13 2h1v1h-1zm-70 4h1v1h-1zm69 0h1v1h-1zm-43 1h1v1h-1zm9 0h1v1h-1zm25 0h1v1h-1zm-45 1h1v1h-1zm14 0h1v1h-1zm-16 1h1v1h-1zm-17 1h1v1h-1zm2 0h1v1h-1zm25 0h1v1h-1zm9 0h1v1h-1zm20 0h1v1h-1zm-23 1h1v1h-1zm39 0h1v1h-1zm-74 1h1v1h-1zm15 0h1v1h-1zm27 2h1v1h-1zm25 0h1v1h-1zm2 0h1v1h-1zm-72 1h1v1h-1zm1 0h1v1h-1zm53 2h1v1h-1zm17 0h1v1h-1zm-47 1h1v1h-1zm25 0h1v1h-1zm27 0h1v1h-1zm-70 1h1v1h-1zm74 0h1v1h-1zm-8 1h1v1h-1zm-12 2h1v1h-1zm-35 2h1v1h-1zm21 0h1v1h-1zm19 0h1v1h-1zm-37 1h1v1h-1zm13 1h1v1h-1zm38 0h1v1h-1zm-2 2h1v1h-1zm-44 2h1v1h-1zm-11 1h1v1h-1zm26 0h1v1h-1zm2 0h1v1h-1zm11 0h1v1h-1zm-49 2h1v1h-1zm41 0h1v1h-1zm-8 1h1v1h-1zm-13 1h1v1h-1zm32 0h1v1h-1zm-35 1h1v1h-1zm33 0h1v1h-1zm-54 1h1v1h-1zm45 0h1v1h-1zm8 0h1v1h-1zm15 1h1v1h-1zm-14 1h1v1h-1zm15 0h1v1h-1zm-54 1h1v1h-1z" fill="#c8cef2"/>
<path d="M433 508h1v1h-1zm-1 1h1v1h-1zm-62 1h1v1h-1zm57 1h1v1h-1zm-13 1h1v1h-1zm1 1h1v1h-1zm21 1h1v1h-1zm-59 1h1v1h-1zm11 0h1v1h-1zm49 0h1v1h-1zm-50 2h1v1h-1zm4 0h1v1h-1zm18 0h1v1h-1zm28 2h1v1h-1zm2 3h1v1h-1zm2 0h1v1h-1zm-5 6h1v1h-1zm1 0h1v1h-1zm-30 1h1v1h-1zm4 1h1v1h-1zm21 0h1v1h-1zm2 0h1v1h-1zm-3 1h1v1h-1zm-62 2h1v1h-1zm2 0h1v1h-1zm12 1h1v1h-1zm7 0h1v1h-1zm-20 2h1v1h-1zm7 0h1v1h-1zm25 0h1v1h-1zm-32 2h1v1h-1zm26 1h1v1h-1zm-3 1h1v1h-1zm-17 3h1v1h-1z" fill="#6a7edc"/>
<path d="M375 510h1v1h-1zm13 2h1v1h-1zm31 0h1v1h-1zm14 0h1v1h-1zm-50 1h1v1h-1zm31 0h1v1h-1zm-44 1h1v1h-1zm10 0h1v1h-1zm6 0h1v1h-1zm11 0h1v1h-1zm12 1h1v1h-1zm-25 1h1v1h-1zm10 0h1v1h-1zm-23 1h1v1h-1zm3 0h1v1h-1zm4 0h1v1h-1zm27 0h1v1h-1zm-4 1h1v1h-1zm37 0h1v1h-1zm2 7h1v1h-1zm-30 4h1v1h-1zm27 2h1v1h-1zm-30 1h1v1h-1zm22 0h1v1h-1zm-62 1h1v1h-1zm52 0h1v1h-1zm-33 1h1v1h-1zm8 1h1v1h-1zm-25 1h1v1h-1zm1 1h1v1h-1zm3 0h1v1h-1zm36 0h1v1h-1zm-25 1h1v1h-1zm-5 3h1v1h-1z" fill="#7a8adc"/>
<path d="M424 507h1v1h-1zm1 0h1v1h-1zm-3 3h1v1h-1zm1 0h1v1h-1zm-17 1h1v1h-1zm17 0h1v1h-1zm-54 1h1v1h-1zm10 2h1v1h-1zm19 0h1v1h-1zm9 0h1v1h-1zm-35 1h1v1h-1zm24 0h1v1h-1zm39 0h1v1h-1zm-35 1h1v1h-1zm37 0h1v1h-1zm-53 1h1v1h-1zm26 0h1v1h-1zm-7 1h1v1h-1zm3 1h1v1h-1zm33 0h1v1h-1zm-1 2h1v1h-1zm-33 9h1v1h-1zm4 0h1v1h-1zm3 0h1v1h-1zm27 1h1v1h-1zm1 1h1v1h-1zm-70 1h1v1h-1zm63 0h1v1h-1zm-45 1h1v1h-1zm-14 1h1v1h-1zm68 0h1v1h-1zm-70 1h1v1h-1zm4 0h1v1h-1zm0 1h1v1h-1zm16 0h1v1h-1zm-13 1h1v1h-1zm10 0h1v1h-1zm-16 1h1v1h-1zm30 1h1v1h-1z" fill="#8a96e0"/>
<path d="M421 504h1v1h-1zm4 5h1v1h-1zm-5 1h1v1h-1zm1 0h1v1h-1zm-37 1h1v1h-1zm31 0h1v1h-1zm2 0h1v1h-1zm-30 1h1v1h-1zm2 0h1v1h-1zm3 0h1v1h-1zm39 0h1v1h-1zm-47 1h1v1h-1zm2 0h1v1h-1zm48 0h1v1h-1zm-56 1h1v1h-1zm7 0h1v1h-1zm49 0h1v1h-1zm-58 2h1v1h-1zm34 0h1v1h-1zm-34 1h1v1h-1zm7 0h1v1h-1zm3 0h1v1h-1zm13 0h1v1h-1zm-31 1h1v1h-1zm34 0h1v1h-1zm36 10h1v1h-1zm-30 1h1v1h-1zm25 0h1v1h-1zm3 0h1v1h-1zm-30 1h1v1h-1zm1 1h1v1h-1zm-35 2h1v1h-1zm22 0h1v1h-1zm17 0h1v1h-1zm-36 1h1v1h-1zm5 0h1v1h-1zm8 1h1v1h-1zm10 0h1v1h-1zm23 0h1v1h-1zm-46 1h1v1h-1zm3 1h1v1h-1zm6 0h1v1h-1z" fill="#96a0e4"/>
<path d="M419 511h1v1h-1zm1 0h1v1h-1zm12 1h1v1h-1zm8 0h1v1h-1zm-42 1h1v1h-1zm33 0h1v1h-1zm-30 2h1v1h-1zm-11 1h1v1h-1zm-5 1h1v1h-1zm12 0h1v1h-1zm5 0h1v1h-1zm35 0h1v1h-1zm-30 1h1v1h-1zm27 11h1v1h-1zm0 2h1v1h-1zm-8 1h1v1h-1zm4 0h1v1h-1zm-30 1h1v1h-1zm9 0h1v1h-1zm-31 1h1v1h-1zm13 0h1v1h-1zm-22 1h1v1h-1zm2 0h1v1h-1zm16 0h1v1h-1zm36 0h1v1h-1zm-43 1h1v1h-1zm5 0h1v1h-1zm21 0h1v1h-1zm19 1h1v1h-1zm-31 1h1v1h-1zm-18 1h1v1h-1zm14 2h1v1h-1zm-1 2h1v1h-1z" fill="#7086e0"/>
<path d="M423 512h1v1h-1zm2 0h1v1h-1zm2 0h1v1h-1zm1 0h1v1h-1zm-11 1h1v1h-1zm2 0h1v1h-1zm1 0h1v1h-1zm9 0h1v1h-1zm1 0h1v1h-1zm-13 1h1v1h-1zm15 0h1v1h-1zm-19 1h1v1h-1zm19 0h1v1h-1zm1 0h1v1h-1zm-19 1h1v1h-1zm20 0h1v1h-1zm0 1h1v1h-1zm-64 1h1v1h-1zm2 0h1v1h-1zm3 0h1v1h-1zm1 0h1v1h-1zm2 0h1v1h-1zm1 0h1v1h-1zm1 0h1v1h-1zm1 0h1v1h-1zm3 0h1v1h-1zm1 0h1v1h-1zm1 0h1v1h-1zm3 0h1v1h-1zm1 0h1v1h-1zm2 0h1v1h-1zm3 0h1v1h-1zm1 0h1v1h-1zm3 0h1v1h-1zm12 0h1v1h-1zm1 0h1v1h-1zm-45 1h1v1h-1zm32 0h1v1h-1zm1 0h1v1h-1zm35 0h1v1h-1zm-30 1h1v1h-1zm4 0h1v1h-1zm2 0h1v1h-1zm-7 1h1v1h-1zm1 0h1v1h-1zm3 0h1v1h-1zm1 0h1v1h-1zm27 0h1v1h-1zm-31 1h1v1h-1zm1 0h1v1h-1zm1 0h1v1h-1zm1 0h1v1h-1zm1 0h1v1h-1zm1 0h1v1h-1zm-4 1h1v1h-1zm1 0h1v1h-1zm29 0h1v1h-1zm-29 1h1v1h-1zm2 0h1v1h-1zm-3 1h1v1h-1zm5 0h1v1h-1zm25 0h1v1h-1zm-26 1h1v1h-1zm1 0h1v1h-1zm24 0h1v1h-1zm-28 1h1v1h-1zm27 0h1v1h-1zm-27 1h1v1h-1zm1 0h1v1h-1zm5 0h1v1h-1zm1 0h1v1h-1zm19 0h1v1h-1zm-20 1h1v1h-1zm1 0h1v1h-1zm17 0h1v1h-1zm1 0h1v1h-1zm-16 1h1v1h-1zm1 0h1v1h-1zm14 0h1v1h-1zm-31 1h1v1h-1zm1 0h1v1h-1zm16 0h1v1h-1zm1 0h1v1h-1zm3 0h1v1h-1zm1 0h1v1h-1zm2 0h1v1h-1zm1 0h1v1h-1zm1 0h1v1h-1zm3 0h1v1h-1zm-62 1h1v1h-1zm1 0h1v1h-1zm4 0h1v1h-1zm1 0h1v1h-1zm1 0h1v1h-1zm1 0h1v1h-1zm1 0h1v1h-1zm1 0h1v1h-1zm4 0h1v1h-1zm3 0h1v1h-1zm3 0h1v1h-1zm1 0h1v1h-1zm1 0h1v1h-1zm2 0h1v1h-1zm1 0h1v1h-1zm1 0h1v1h-1zm1 0h1v1h-1zm4 0h1v1h-1zm24 0h1v1h-1zm2 0h1v1h-1zm1 0h1v1h-1zm-50 1h1v1h-1zm2 0h1v1h-1zm2 0h1v1h-1zm1 0h1v1h-1zm1 0h1v1h-1zm2 0h1v1h-1zm2 0h1v1h-1zm1 0h1v1h-1zm2 0h1v1h-1zm3 0h1v1h-1zm1 0h1v1h-1z" fill="#5068d4"/>
</g><g filter="url(#bl)">
<path d="M421 513h1v1h-1zm3 0h2v1h-2zm-6 1h2v1h-2zm3 0h3v1h-3zm4 0h5v1h-5zm-9 1h1v1h-1zm2 0h3v1h-3zm10 0h4v1h-4zm-11 1h2v1h-2zm13 0h3v1h-3zm-15 1h3v1h-3zm16 0h3v1h-3zm-18 1h4v1h-4zm19 0h1v1h-1zm2 0h1v1h-1zm-66 1h1v1h-1zm2 0h3v1h-3zm4 0h1v1h-1zm3 0h1v1h-1zm2 0h6v1h-6zm8 0h6v1h-6zm8 0h1v1h-1zm2 0h1v1h-1zm15 0h4v1h-4zm22 0h1v1h-1zm-67 1h1v1h-1zm2 0h6v1h-6zm24 0h9v1h-9zm19 0h2v1h-2zm3 0h1v1h-1zm18 0h3v1h-3zm-31 1h2v1h-2zm10 0h3v1h-3zm22 0h2v1h-2zm-31 1h1v1h-1zm8 0h1v1h-1zm2 0h2v1h-2zm22 0h1v1h-1zm-32 1h3v1h-3zm9 0h1v1h-1zm2 0h1v1h-1zm19 0h2v1h-2zm-29 1h1v1h-1zm7 0h1v1h-1zm2 0h3v1h-3zm20 0h3v1h-3zm-29 1h1v1h-1zm8 0h4v1h-4zm21 0h2v1h-2zm-29 1h2v1h-2zm10 0h3v1h-3zm18 0h1v1h-1zm2 0h1v1h-1zm-31 1h2v1h-2zm10 0h5v1h-5zm18 0h1v1h-1zm-28 1h2v1h-2zm12 0h1v1h-1zm2 0h3v1h-3zm12 0h2v1h-2zm3 0h1v1h-1zm-31 1h2v1h-2zm16 0h5v1h-5zm6 0h5v1h-5zm6 0h2v1h-2zm-62 1h6v1h-6zm27 0h7v1h-7zm24 0h5v1h-5zm6 0h1v1h-1zm2 0h3v1h-3zm-58 1h6v1h-6zm8 0h4v1h-4zm5 0h1v1h-1zm3 0h8v1h-8zm11 0h3v1h-3zm4 0h1v1h-1z" fill="#4a88da"/>
<path d="M421 515h7v1h-7zm-2 1h11v1h-11zm-1 1h4v1h-4zm9 0h4v1h-4zm-10 1h3v1h-3zm12 0h3v1h-3zm-13 1h3v1h-3zm14 0h3v1h-3zm-54 1h17v1h-17zm40 0h2v1h-2zm15 0h1v1h-1zm-64 1h34v1h-34zm48 0h3v1h-3zm16 0h3v1h-3zm-31 1h3v1h-3zm15 0h3v1h-3zm16 0h3v1h-3zm-30 1h2v1h-2zm14 0h3v1h-3zm16 0h2v1h-2zm-29 1h2v1h-2zm14 0h3v1h-3zm14 0h3v1h-3zm-28 1h2v1h-2zm14 0h4v1h-4zm14 0h1v1h-1zm2 0h1v1h-1zm-30 1h2v1h-2zm15 0h4v1h-4zm11 0h4v1h-4zm-27 1h2v1h-2zm17 0h13v1h-13zm-18 1h3v1h-3zm20 0h9v1h-9zm-53 1h34v1h-34zm6 1h21v1h-21z" fill="#38a0dc"/>
<path d="M422 517h5v1h-5zm-2 1h9v1h-9zm-1 1h4v1h-4zm8 0h3v1h-3zm-9 1h3v1h-3zm10 0h3v1h-3zm-10 1h3v1h-3zm11 0h2v1h-2zm-62 1h33v1h-33zm51 0h3v1h-3zm11 0h2v1h-2zm-31 1h3v1h-3zm20 0h3v1h-3zm10 0h3v1h-3zm-28 1h2v1h-2zm19 0h3v1h-3zm8 0h3v1h-3zm-27 1h2v1h-2zm20 0h10v1h-10zm-20 1h2v1h-2zm21 0h7v1h-7zm-23 1h3v1h-3zm-31 1h33v1h-33z" fill="#40b8b0"/>
<path d="M423 519h4v1h-4zm-2 1h7v1h-7zm0 1h8v1h-8zm0 1h8v1h-8zm-54 1h31v1h-31zm54 0h7v1h-7zm-54 1h33v1h-33zm55 0h5v1h-5zm-55 1h9v1h-9zm24 0h9v1h-9zm-24 1h33v1h-33zm0 1h31v1h-31z" fill="#50c050"/>
<path d="M376 525h15v1h-15z" fill="#c8e030"/>
</g>
</g>
<rect x="367.2" y="497.1" width="81.3" height="72.4" fill="none" stroke="#8a8a8a" stroke-width="0.8"/>
<line x1="405.3" y1="497.1" x2="405.3" y2="569.5" stroke="#9a4c8e" stroke-width="0.6"/>
<line x1="367.2" y1="540.8" x2="448.5" y2="540.8" stroke="#9a4c8e" stroke-width="0.6"/>
<line x1="366" y1="497.1" x2="367.2" y2="497.1" stroke="#555" stroke-width="0.45"/>
<line x1="366.5" y1="499.51" x2="367.2" y2="499.51" stroke="#555" stroke-width="0.45"/>
<line x1="366.5" y1="501.93" x2="367.2" y2="501.93" stroke="#555" stroke-width="0.45"/>
<line x1="366.5" y1="504.34" x2="367.2" y2="504.34" stroke="#555" stroke-width="0.45"/>
<line x1="366.5" y1="506.75" x2="367.2" y2="506.75" stroke="#555" stroke-width="0.45"/>
<line x1="366" y1="509.17" x2="367.2" y2="509.17" stroke="#555" stroke-width="0.45"/>
<line x1="366.5" y1="511.58" x2="367.2" y2="511.58" stroke="#555" stroke-width="0.45"/>
<line x1="366.5" y1="513.99" x2="367.2" y2="513.99" stroke="#555" stroke-width="0.45"/>
<line x1="366.5" y1="516.41" x2="367.2" y2="516.41" stroke="#555" stroke-width="0.45"/>
<line x1="366.5" y1="518.82" x2="367.2" y2="518.82" stroke="#555" stroke-width="0.45"/>
<line x1="366" y1="521.23" x2="367.2" y2="521.23" stroke="#555" stroke-width="0.45"/>
<line x1="366.5" y1="523.65" x2="367.2" y2="523.65" stroke="#555" stroke-width="0.45"/>
<line x1="366.5" y1="526.06" x2="367.2" y2="526.06" stroke="#555" stroke-width="0.45"/>
<line x1="366.5" y1="528.47" x2="367.2" y2="528.47" stroke="#555" stroke-width="0.45"/>
<line x1="366.5" y1="530.89" x2="367.2" y2="530.89" stroke="#555" stroke-width="0.45"/>
<line x1="366" y1="533.3" x2="367.2" y2="533.3" stroke="#555" stroke-width="0.45"/>
<line x1="366.5" y1="535.71" x2="367.2" y2="535.71" stroke="#555" stroke-width="0.45"/>
<line x1="366.5" y1="538.13" x2="367.2" y2="538.13" stroke="#555" stroke-width="0.45"/>
<line x1="366.5" y1="540.54" x2="367.2" y2="540.54" stroke="#555" stroke-width="0.45"/>
<line x1="366.5" y1="542.95" x2="367.2" y2="542.95" stroke="#555" stroke-width="0.45"/>
<line x1="366" y1="545.37" x2="367.2" y2="545.37" stroke="#555" stroke-width="0.45"/>
<line x1="366.5" y1="547.78" x2="367.2" y2="547.78" stroke="#555" stroke-width="0.45"/>
<line x1="366.5" y1="550.19" x2="367.2" y2="550.19" stroke="#555" stroke-width="0.45"/>
<line x1="366.5" y1="552.61" x2="367.2" y2="552.61" stroke="#555" stroke-width="0.45"/>
<line x1="366.5" y1="555.02" x2="367.2" y2="555.02" stroke="#555" stroke-width="0.45"/>
<line x1="366" y1="557.43" x2="367.2" y2="557.43" stroke="#555" stroke-width="0.45"/>
<line x1="366.5" y1="559.85" x2="367.2" y2="559.85" stroke="#555" stroke-width="0.45"/>
<line x1="366.5" y1="562.26" x2="367.2" y2="562.26" stroke="#555" stroke-width="0.45"/>
<line x1="366.5" y1="564.67" x2="367.2" y2="564.67" stroke="#555" stroke-width="0.45"/>
<line x1="366.5" y1="567.09" x2="367.2" y2="567.09" stroke="#555" stroke-width="0.45"/>
<line x1="366" y1="569.5" x2="367.2" y2="569.5" stroke="#555" stroke-width="0.45"/>
<line x1="367.2" y1="569.5" x2="367.2" y2="570.9" stroke="#555" stroke-width="0.45"/>
<line x1="369.91" y1="569.5" x2="369.91" y2="570.3" stroke="#555" stroke-width="0.45"/>
<line x1="372.62" y1="569.5" x2="372.62" y2="570.3" stroke="#555" stroke-width="0.45"/>
<line x1="375.33" y1="569.5" x2="375.33" y2="570.3" stroke="#555" stroke-width="0.45"/>
<line x1="378.04" y1="569.5" x2="378.04" y2="570.3" stroke="#555" stroke-width="0.45"/>
<line x1="380.75" y1="569.5" x2="380.75" y2="570.9" stroke="#555" stroke-width="0.45"/>
<line x1="383.46" y1="569.5" x2="383.46" y2="570.3" stroke="#555" stroke-width="0.45"/>
<line x1="386.17" y1="569.5" x2="386.17" y2="570.3" stroke="#555" stroke-width="0.45"/>
<line x1="388.88" y1="569.5" x2="388.88" y2="570.3" stroke="#555" stroke-width="0.45"/>
<line x1="391.59" y1="569.5" x2="391.59" y2="570.3" stroke="#555" stroke-width="0.45"/>
<line x1="394.3" y1="569.5" x2="394.3" y2="570.9" stroke="#555" stroke-width="0.45"/>
<line x1="397.01" y1="569.5" x2="397.01" y2="570.3" stroke="#555" stroke-width="0.45"/>
<line x1="399.72" y1="569.5" x2="399.72" y2="570.3" stroke="#555" stroke-width="0.45"/>
<line x1="402.43" y1="569.5" x2="402.43" y2="570.3" stroke="#555" stroke-width="0.45"/>
<line x1="405.14" y1="569.5" x2="405.14" y2="570.3" stroke="#555" stroke-width="0.45"/>
<line x1="407.85" y1="569.5" x2="407.85" y2="570.9" stroke="#555" stroke-width="0.45"/>
<line x1="410.56" y1="569.5" x2="410.56" y2="570.3" stroke="#555" stroke-width="0.45"/>
<line x1="413.27" y1="569.5" x2="413.27" y2="570.3" stroke="#555" stroke-width="0.45"/>
<line x1="415.98" y1="569.5" x2="415.98" y2="570.3" stroke="#555" stroke-width="0.45"/>
<line x1="418.69" y1="569.5" x2="418.69" y2="570.3" stroke="#555" stroke-width="0.45"/>
<line x1="421.4" y1="569.5" x2="421.4" y2="570.9" stroke="#555" stroke-width="0.45"/>
<line x1="424.11" y1="569.5" x2="424.11" y2="570.3" stroke="#555" stroke-width="0.45"/>
<line x1="426.82" y1="569.5" x2="426.82" y2="570.3" stroke="#555" stroke-width="0.45"/>
<line x1="429.53" y1="569.5" x2="429.53" y2="570.3" stroke="#555" stroke-width="0.45"/>
<line x1="432.24" y1="569.5" x2="432.24" y2="570.3" stroke="#555" stroke-width="0.45"/>
<line x1="434.95" y1="569.5" x2="434.95" y2="570.9" stroke="#555" stroke-width="0.45"/>
<line x1="437.66" y1="569.5" x2="437.66" y2="570.3" stroke="#555" stroke-width="0.45"/>
<line x1="440.37" y1="569.5" x2="440.37" y2="570.3" stroke="#555" stroke-width="0.45"/>
<line x1="443.08" y1="569.5" x2="443.08" y2="570.3" stroke="#555" stroke-width="0.45"/>
<line x1="445.79" y1="569.5" x2="445.79" y2="570.3" stroke="#555" stroke-width="0.45"/>
<line x1="448.5" y1="569.5" x2="448.5" y2="570.9" stroke="#555" stroke-width="0.45"/>
<text x="368.5" y="501.9" font-size="3.9" font-weight="normal" text-anchor="start" fill="#962a84">73.7</text>
<text x="447.2" y="501.9" font-size="3.9" font-weight="normal" text-anchor="end" fill="#962a84">25.4</text>
<text x="368.5" y="568.2" font-size="3.9" font-weight="normal" text-anchor="start" fill="#962a84">0.606</text>
<text x="447.2" y="568.2" font-size="3.9" font-weight="normal" text-anchor="end" fill="#962a84">0.261</text>
<text x="364.9" y="504.8" font-size="4.1" font-weight="bold" text-anchor="end">10<tspan font-size="2.87" dy="-1.64">5</tspan></text>
<line x1="365.4" y1="503.3" x2="367.2" y2="503.3" stroke="#333" stroke-width="0.7"/>
<text x="364.9" y="519.3" font-size="4.1" font-weight="bold" text-anchor="end">10<tspan font-size="2.87" dy="-1.64">4</tspan></text>
<line x1="365.4" y1="517.8" x2="367.2" y2="517.8" stroke="#333" stroke-width="0.7"/>
<text x="364.9" y="534.7" font-size="4.1" font-weight="bold" text-anchor="end">10<tspan font-size="2.87" dy="-1.64">3</tspan></text>
<line x1="365.4" y1="533.2" x2="367.2" y2="533.2" stroke="#333" stroke-width="0.7"/>
<text x="364.9" y="550.6" font-size="4.1" font-weight="bold" text-anchor="end">10<tspan font-size="2.87" dy="-1.64">2</tspan></text>
<line x1="365.4" y1="549.1" x2="367.2" y2="549.1" stroke="#333" stroke-width="0.7"/>
<text x="363.7" y="557.3" font-size="4.2" font-weight="bold" text-anchor="end" fill="#000">0</text>
<line x1="365.4" y1="555.9" x2="367.2" y2="555.9" stroke="#333" stroke-width="0.7"/>
<text x="355.7" y="534.2" font-size="7.5" font-weight="bold" text-anchor="middle" fill="#000" transform="rotate(-90 355.7 534.2)">CD33</text>
<text x="383.5" y="577.8" font-size="4.2" font-weight="bold" text-anchor="middle" fill="#000">0</text>
<text x="390.5" y="577.8" font-size="4.1" font-weight="bold" text-anchor="middle">10<tspan font-size="2.87" dy="-1.64">2</tspan></text>
<text x="408.5" y="577.8" font-size="4.1" font-weight="bold" text-anchor="middle">10<tspan font-size="2.87" dy="-1.64">3</tspan></text>
<text x="426" y="577.8" font-size="4.1" font-weight="bold" text-anchor="middle">10<tspan font-size="2.87" dy="-1.64">4</tspan></text>
<text x="443.5" y="577.8" font-size="4.1" font-weight="bold" text-anchor="middle">10<tspan font-size="2.87" dy="-1.64">5</tspan></text>
<text x="407.2" y="581.9" font-size="5.6" font-weight="bold" text-anchor="middle" fill="#000">CD14</text>
</svg></body></html>
